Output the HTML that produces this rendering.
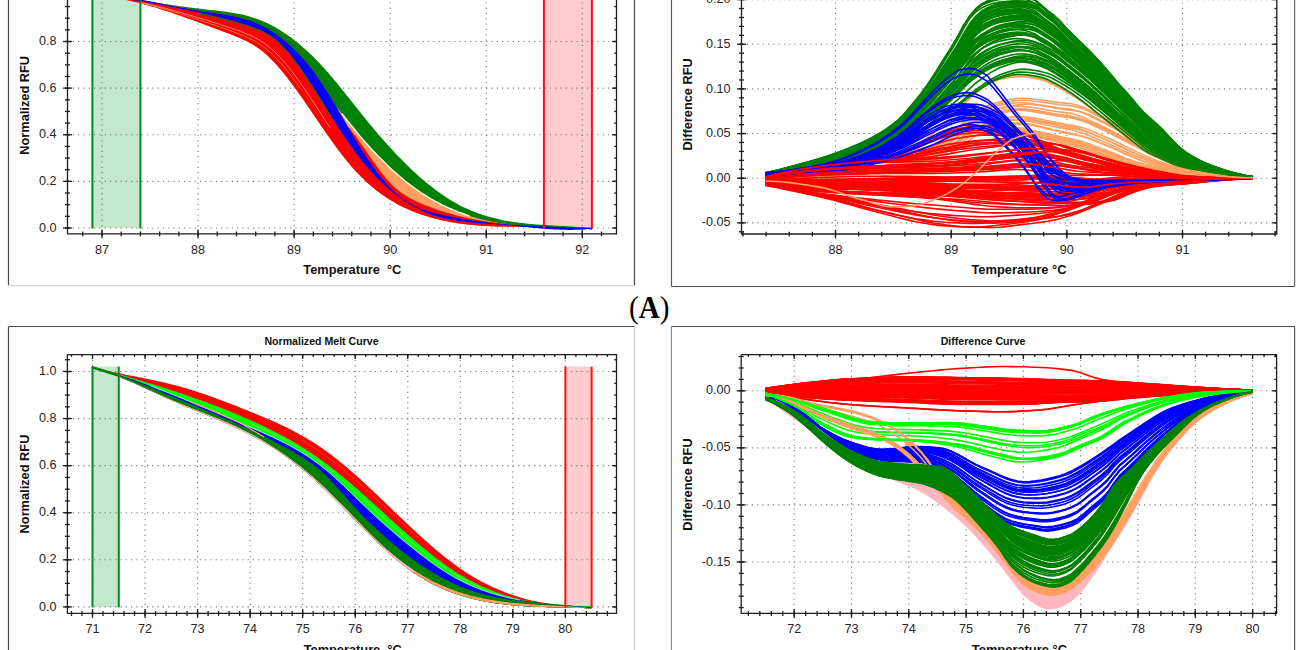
<!DOCTYPE html><html><head><meta charset="utf-8"><style>html,body{margin:0;padding:0;background:#fff;overflow:hidden}svg{display:block}text{font-family:"Liberation Sans",sans-serif}</style></head><body>
<svg width="1300" height="650" viewBox="0 0 1300 650">
<rect width="1300" height="650" fill="#fff"/>
<line x1="8.5" y1="-1" x2="8.5" y2="285.5" stroke="#4a4a4a" stroke-width="1.2" />
<line x1="634.5" y1="-1" x2="634.5" y2="285.5" stroke="#4a4a4a" stroke-width="1.2" />
<line x1="8.5" y1="285.7" x2="634.5" y2="285.7" stroke="#d6d6d6" stroke-width="1.3" />
<line x1="671.5" y1="-1" x2="671.5" y2="286.5" stroke="#5a5a5a" stroke-width="1.2" />
<line x1="1294.6" y1="-1" x2="1294.6" y2="286.5" stroke="#6a6a6a" stroke-width="1.2" />
<line x1="671.5" y1="286.5" x2="1294.6" y2="286.5" stroke="#4a4a4a" stroke-width="1.2" />
<line x1="8.5" y1="326.5" x2="634.5" y2="326.5" stroke="#4a4a4a" stroke-width="1.2" />
<line x1="8.5" y1="326.5" x2="8.5" y2="651" stroke="#4a4a4a" stroke-width="1.2" />
<line x1="634.3" y1="326.5" x2="634.3" y2="651" stroke="#d6d6d6" stroke-width="1.3" />
<line x1="671.4" y1="326.5" x2="1294.6" y2="326.5" stroke="#4a4a4a" stroke-width="1.2" />
<line x1="671.4" y1="326.5" x2="671.4" y2="651" stroke="#8a8a8a" stroke-width="1.2" />
<line x1="1294.6" y1="326.5" x2="1294.6" y2="651" stroke="#5a5a5a" stroke-width="1.2" />
<rect x="92.39" y="-10" width="48.03" height="238" fill="#c4e8ce"/>
<rect x="543.88" y="-10" width="48.03" height="238" fill="#ffcccd"/>
<rect x="92.5" y="366.6" width="26.27" height="240.3" fill="#c4e8ce"/>
<rect x="565.36" y="366.6" width="26.27" height="240.3" fill="#ffcccd"/>
<line x1="102" y1="-40" x2="102" y2="233.8" stroke="#7a7a7a" stroke-width="1.1" stroke-dasharray="1.2 4.1"/>
<line x1="198.06" y1="-40" x2="198.06" y2="233.8" stroke="#7a7a7a" stroke-width="1.1" stroke-dasharray="1.2 4.1"/>
<line x1="294.12" y1="-40" x2="294.12" y2="233.8" stroke="#7a7a7a" stroke-width="1.1" stroke-dasharray="1.2 4.1"/>
<line x1="390.18" y1="-40" x2="390.18" y2="233.8" stroke="#7a7a7a" stroke-width="1.1" stroke-dasharray="1.2 4.1"/>
<line x1="486.24" y1="-40" x2="486.24" y2="233.8" stroke="#7a7a7a" stroke-width="1.1" stroke-dasharray="1.2 4.1"/>
<line x1="582.3" y1="-40" x2="582.3" y2="233.8" stroke="#7a7a7a" stroke-width="1.1" stroke-dasharray="1.2 4.1"/>
<line x1="67.5" y1="228" x2="616.5" y2="228" stroke="#7a7a7a" stroke-width="1.1" stroke-dasharray="1.2 4.1"/>
<line x1="67.5" y1="181.38" x2="616.5" y2="181.38" stroke="#7a7a7a" stroke-width="1.1" stroke-dasharray="1.2 4.1"/>
<line x1="67.5" y1="134.76" x2="616.5" y2="134.76" stroke="#7a7a7a" stroke-width="1.1" stroke-dasharray="1.2 4.1"/>
<line x1="67.5" y1="88.14" x2="616.5" y2="88.14" stroke="#7a7a7a" stroke-width="1.1" stroke-dasharray="1.2 4.1"/>
<line x1="67.5" y1="41.52" x2="616.5" y2="41.52" stroke="#7a7a7a" stroke-width="1.1" stroke-dasharray="1.2 4.1"/>
<line x1="67.5" y1="-5.1" x2="616.5" y2="-5.1" stroke="#7a7a7a" stroke-width="1.1" stroke-dasharray="1.2 4.1"/>
<line x1="835.5" y1="-40" x2="835.5" y2="234" stroke="#7a7a7a" stroke-width="1.1" stroke-dasharray="1.2 4.1"/>
<line x1="951.17" y1="-40" x2="951.17" y2="234" stroke="#7a7a7a" stroke-width="1.1" stroke-dasharray="1.2 4.1"/>
<line x1="1066.84" y1="-40" x2="1066.84" y2="234" stroke="#7a7a7a" stroke-width="1.1" stroke-dasharray="1.2 4.1"/>
<line x1="1182.51" y1="-40" x2="1182.51" y2="234" stroke="#7a7a7a" stroke-width="1.1" stroke-dasharray="1.2 4.1"/>
<line x1="741.5" y1="222.85" x2="1276.8" y2="222.85" stroke="#7a7a7a" stroke-width="1.1" stroke-dasharray="1.2 4.1"/>
<line x1="741.5" y1="178.2" x2="1276.8" y2="178.2" stroke="#7a7a7a" stroke-width="1.1" stroke-dasharray="1.2 4.1"/>
<line x1="741.5" y1="133.55" x2="1276.8" y2="133.55" stroke="#7a7a7a" stroke-width="1.1" stroke-dasharray="1.2 4.1"/>
<line x1="741.5" y1="88.9" x2="1276.8" y2="88.9" stroke="#7a7a7a" stroke-width="1.1" stroke-dasharray="1.2 4.1"/>
<line x1="741.5" y1="44.25" x2="1276.8" y2="44.25" stroke="#7a7a7a" stroke-width="1.1" stroke-dasharray="1.2 4.1"/>
<line x1="741.5" y1="-0.4" x2="1276.8" y2="-0.4" stroke="#7a7a7a" stroke-width="1.1" stroke-dasharray="1.2 4.1"/>
<line x1="92.5" y1="354.6" x2="92.5" y2="613.4" stroke="#7a7a7a" stroke-width="1.1" stroke-dasharray="1.2 4.1"/>
<line x1="145.04" y1="354.6" x2="145.04" y2="613.4" stroke="#7a7a7a" stroke-width="1.1" stroke-dasharray="1.2 4.1"/>
<line x1="197.58" y1="354.6" x2="197.58" y2="613.4" stroke="#7a7a7a" stroke-width="1.1" stroke-dasharray="1.2 4.1"/>
<line x1="250.12" y1="354.6" x2="250.12" y2="613.4" stroke="#7a7a7a" stroke-width="1.1" stroke-dasharray="1.2 4.1"/>
<line x1="302.66" y1="354.6" x2="302.66" y2="613.4" stroke="#7a7a7a" stroke-width="1.1" stroke-dasharray="1.2 4.1"/>
<line x1="355.2" y1="354.6" x2="355.2" y2="613.4" stroke="#7a7a7a" stroke-width="1.1" stroke-dasharray="1.2 4.1"/>
<line x1="407.74" y1="354.6" x2="407.74" y2="613.4" stroke="#7a7a7a" stroke-width="1.1" stroke-dasharray="1.2 4.1"/>
<line x1="460.28" y1="354.6" x2="460.28" y2="613.4" stroke="#7a7a7a" stroke-width="1.1" stroke-dasharray="1.2 4.1"/>
<line x1="512.82" y1="354.6" x2="512.82" y2="613.4" stroke="#7a7a7a" stroke-width="1.1" stroke-dasharray="1.2 4.1"/>
<line x1="565.36" y1="354.6" x2="565.36" y2="613.4" stroke="#7a7a7a" stroke-width="1.1" stroke-dasharray="1.2 4.1"/>
<line x1="67.4" y1="606.9" x2="616.5" y2="606.9" stroke="#7a7a7a" stroke-width="1.1" stroke-dasharray="1.2 4.1"/>
<line x1="67.4" y1="559.82" x2="616.5" y2="559.82" stroke="#7a7a7a" stroke-width="1.1" stroke-dasharray="1.2 4.1"/>
<line x1="67.4" y1="512.74" x2="616.5" y2="512.74" stroke="#7a7a7a" stroke-width="1.1" stroke-dasharray="1.2 4.1"/>
<line x1="67.4" y1="465.66" x2="616.5" y2="465.66" stroke="#7a7a7a" stroke-width="1.1" stroke-dasharray="1.2 4.1"/>
<line x1="67.4" y1="418.58" x2="616.5" y2="418.58" stroke="#7a7a7a" stroke-width="1.1" stroke-dasharray="1.2 4.1"/>
<line x1="67.4" y1="371.5" x2="616.5" y2="371.5" stroke="#7a7a7a" stroke-width="1.1" stroke-dasharray="1.2 4.1"/>
<line x1="794.2" y1="354.6" x2="794.2" y2="613.4" stroke="#7a7a7a" stroke-width="1.1" stroke-dasharray="1.2 4.1"/>
<line x1="851.5" y1="354.6" x2="851.5" y2="613.4" stroke="#7a7a7a" stroke-width="1.1" stroke-dasharray="1.2 4.1"/>
<line x1="908.8" y1="354.6" x2="908.8" y2="613.4" stroke="#7a7a7a" stroke-width="1.1" stroke-dasharray="1.2 4.1"/>
<line x1="966.1" y1="354.6" x2="966.1" y2="613.4" stroke="#7a7a7a" stroke-width="1.1" stroke-dasharray="1.2 4.1"/>
<line x1="1023.4" y1="354.6" x2="1023.4" y2="613.4" stroke="#7a7a7a" stroke-width="1.1" stroke-dasharray="1.2 4.1"/>
<line x1="1080.7" y1="354.6" x2="1080.7" y2="613.4" stroke="#7a7a7a" stroke-width="1.1" stroke-dasharray="1.2 4.1"/>
<line x1="1138" y1="354.6" x2="1138" y2="613.4" stroke="#7a7a7a" stroke-width="1.1" stroke-dasharray="1.2 4.1"/>
<line x1="1195.3" y1="354.6" x2="1195.3" y2="613.4" stroke="#7a7a7a" stroke-width="1.1" stroke-dasharray="1.2 4.1"/>
<line x1="1252.6" y1="354.6" x2="1252.6" y2="613.4" stroke="#7a7a7a" stroke-width="1.1" stroke-dasharray="1.2 4.1"/>
<line x1="741.2" y1="561.95" x2="1276.6" y2="561.95" stroke="#7a7a7a" stroke-width="1.1" stroke-dasharray="1.2 4.1"/>
<line x1="741.2" y1="504.9" x2="1276.6" y2="504.9" stroke="#7a7a7a" stroke-width="1.1" stroke-dasharray="1.2 4.1"/>
<line x1="741.2" y1="447.85" x2="1276.6" y2="447.85" stroke="#7a7a7a" stroke-width="1.1" stroke-dasharray="1.2 4.1"/>
<line x1="741.2" y1="390.8" x2="1276.6" y2="390.8" stroke="#7a7a7a" stroke-width="1.1" stroke-dasharray="1.2 4.1"/>
<g clip-path="url(#clipTL)">
<path d="M92.0,-5.8 94.0,-5.6 96.0,-5.5 98.0,-5.3 100.0,-5.1 102.0,-4.9 104.0,-4.6 106.0,-4.4 108.0,-4.2 110.0,-4.0 112.0,-3.7 114.0,-3.5 116.0,-3.2 118.0,-3.0 120.0,-2.7 122.0,-2.4 124.0,-2.1 126.0,-1.9 128.0,-1.6 130.0,-1.3 132.0,-1.0 134.0,-0.7 136.0,-0.4 138.0,-0.1 140.0,0.2 142.0,0.5 144.0,0.8 146.0,1.1 148.0,1.4 150.0,1.7 152.0,2.0 154.0,2.3 156.0,2.6 158.0,2.9 160.0,3.2 162.0,3.6 164.0,3.9 166.0,4.2 168.0,4.5 170.0,4.8 172.0,5.1 174.0,5.4 176.0,5.6 178.0,5.9 180.0,6.2 182.0,6.5 184.0,6.8 186.0,7.1 188.0,7.3 190.0,7.6 192.0,7.8 194.0,8.1 196.0,8.3 198.0,8.6 200.0,8.8 202.0,9.0 204.0,9.3 206.0,9.5 208.0,9.7 210.0,9.9 212.0,10.1 214.0,10.3 216.0,10.6 218.0,10.8 220.0,11.0 222.0,11.3 224.0,11.5 226.0,11.8 228.0,12.1 230.0,12.4 232.0,12.7 234.0,13.1 236.0,13.4 238.0,13.8 240.0,14.2 242.0,14.6 244.0,15.1 246.0,15.6 248.0,16.1 250.0,16.7 252.0,17.3 254.0,17.9 256.0,18.6 258.0,19.3 260.0,20.1 262.0,20.9 264.0,21.7 266.0,22.6 268.0,23.5 270.0,24.5 272.0,25.5 274.0,26.6 276.0,27.7 278.0,28.9 280.0,30.1 282.0,31.4 284.0,32.7 286.0,34.0 288.0,35.4 290.0,36.8 292.0,38.3 294.0,39.9 296.0,41.4 298.0,43.0 300.0,44.7 302.0,46.4 304.0,48.2 306.0,50.0 308.0,51.8 310.0,53.7 312.0,55.6 314.0,57.6 316.0,59.6 318.0,61.7 320.0,63.8 322.0,65.9 324.0,68.1 326.0,70.4 328.0,72.6 330.0,74.9 332.0,77.3 334.0,79.7 336.0,82.1 338.0,84.5 340.0,87.0 342.0,89.5 344.0,92.0 346.0,94.5 348.0,97.0 350.0,99.5 352.0,102.0 354.0,104.5 356.0,107.1 358.0,109.6 360.0,112.1 362.0,114.6 364.0,117.1 366.0,119.6 368.0,122.0 370.0,124.4 372.0,126.8 374.0,129.2 376.0,131.6 378.0,133.9 380.0,136.2 382.0,138.5 384.0,140.8 386.0,143.0 388.0,145.3 390.0,147.5 392.0,149.6 394.0,151.8 396.0,153.9 398.0,156.0 400.0,158.1 402.0,160.1 404.0,162.1 406.0,164.1 408.0,166.1 410.0,168.0 412.0,169.9 414.0,171.8 416.0,173.6 418.0,175.4 420.0,177.2 422.0,178.9 424.0,180.6 426.0,182.3 428.0,183.9 430.0,185.6 432.0,187.1 434.0,188.7 436.0,190.2 438.0,191.7 440.0,193.1 442.0,194.5 444.0,195.8 446.0,197.2 448.0,198.5 450.0,199.7 452.0,200.9 454.0,202.1 456.0,203.2 458.0,204.3 460.0,205.4 462.0,206.4 464.0,207.4 466.0,208.3 468.0,209.2 470.0,210.1 472.0,210.9 474.0,211.7 476.0,212.5 478.0,213.3 480.0,214.0 482.0,214.7 484.0,215.3 486.0,215.9 488.0,216.5 490.0,217.1 492.0,217.6 494.0,218.1 496.0,218.6 498.0,219.1 500.0,219.5 502.0,220.0 504.0,220.4 506.0,220.7 508.0,221.1 510.0,221.4 512.0,221.7 514.0,222.1 516.0,222.3 518.0,222.6 520.0,222.9 522.0,223.1 524.0,223.3 526.0,223.5 528.0,223.7 530.0,223.9 532.0,224.1 534.0,224.3 536.0,224.4 538.0,224.6 540.0,224.7 542.0,224.8 544.0,225.0 546.0,225.1 548.0,225.2 550.0,225.3 552.0,225.4 554.0,225.6 556.0,225.7 558.0,225.8 560.0,225.9 562.0,226.0 564.0,226.1 566.0,226.2 568.0,226.3 570.0,226.5 572.0,226.6 574.0,226.7 576.0,226.8 578.0,227.0 580.0,227.1 582.0,227.3 584.0,227.5 586.0,227.7 588.0,227.9 590.0,228.1 592.0,228.3 592.0,229.5 590.0,229.3 588.0,229.1 586.0,228.9 584.0,228.7 582.0,228.5 580.0,228.3 578.0,228.2 576.0,228.0 574.0,227.9 572.0,227.8 570.0,227.7 568.0,227.6 566.0,227.5 564.0,227.4 562.0,227.3 560.0,227.2 558.0,227.2 556.0,227.1 554.0,227.1 552.0,227.0 550.0,227.0 548.0,227.0 546.0,226.9 544.0,226.9 542.0,226.9 540.0,226.9 538.0,226.9 536.0,226.9 534.0,226.9 532.0,226.8 530.0,226.8 528.0,226.8 526.0,226.8 524.0,226.8 522.0,226.8 520.0,226.8 518.0,226.8 516.0,226.8 514.0,226.8 512.0,226.7 510.0,226.7 508.0,226.7 506.0,226.7 504.0,226.6 502.0,226.6 500.0,226.5 498.0,226.5 496.0,226.4 494.0,226.3 492.0,226.3 490.0,226.2 488.0,226.1 486.0,226.0 484.0,225.9 482.0,225.7 480.0,225.6 478.0,225.4 476.0,225.3 474.0,225.1 472.0,224.9 470.0,224.7 468.0,224.5 466.0,224.3 464.0,224.0 462.0,223.8 460.0,223.5 458.0,223.2 456.0,222.9 454.0,222.6 452.0,222.2 450.0,221.9 448.0,221.5 446.0,221.1 444.0,220.7 442.0,220.2 440.0,219.8 438.0,219.3 436.0,218.8 434.0,218.3 432.0,217.7 430.0,217.2 428.0,216.6 426.0,216.0 424.0,215.3 422.0,214.7 420.0,214.0 418.0,213.3 416.0,212.5 414.0,211.8 412.0,211.0 410.0,210.1 408.0,209.2 406.0,208.3 404.0,207.4 402.0,206.4 400.0,205.4 398.0,204.4 396.0,203.3 394.0,202.1 392.0,201.0 390.0,199.7 388.0,198.5 386.0,197.2 384.0,195.8 382.0,194.4 380.0,193.0 378.0,191.5 376.0,189.9 374.0,188.3 372.0,186.7 370.0,185.0 368.0,183.2 366.0,181.4 364.0,179.5 362.0,177.5 360.0,175.5 358.0,173.5 356.0,171.4 354.0,169.2 352.0,166.9 350.0,164.6 348.0,162.2 346.0,159.8 344.0,157.3 342.0,154.7 340.0,152.1 338.0,149.4 336.0,146.7 334.0,144.0 332.0,141.2 330.0,138.4 328.0,135.6 326.0,132.7 324.0,129.8 322.0,126.9 320.0,124.0 318.0,121.1 316.0,118.1 314.0,115.2 312.0,112.3 310.0,109.3 308.0,106.4 306.0,103.5 304.0,100.6 302.0,97.8 300.0,94.9 298.0,92.1 296.0,89.3 294.0,86.6 292.0,83.9 290.0,81.2 288.0,78.6 286.0,76.1 284.0,73.6 282.0,71.1 280.0,68.7 278.0,66.4 276.0,64.2 274.0,62.0 272.0,59.9 270.0,57.9 268.0,56.0 266.0,54.2 264.0,52.5 262.0,50.8 260.0,49.3 258.0,47.9 256.0,46.5 254.0,45.2 252.0,44.0 250.0,42.9 248.0,41.8 246.0,40.8 244.0,39.9 242.0,38.9 240.0,38.1 238.0,37.2 236.0,36.4 234.0,35.6 232.0,34.8 230.0,34.0 228.0,33.3 226.0,32.5 224.0,31.7 222.0,31.0 220.0,30.2 218.0,29.4 216.0,28.7 214.0,27.9 212.0,27.2 210.0,26.5 208.0,25.7 206.0,25.0 204.0,24.2 202.0,23.5 200.0,22.8 198.0,22.0 196.0,21.3 194.0,20.6 192.0,19.8 190.0,19.1 188.0,18.4 186.0,17.7 184.0,17.0 182.0,16.3 180.0,15.6 178.0,14.9 176.0,14.2 174.0,13.5 172.0,12.8 170.0,12.1 168.0,11.5 166.0,10.8 164.0,10.2 162.0,9.5 160.0,8.9 158.0,8.3 156.0,7.6 154.0,7.0 152.0,6.4 150.0,5.9 148.0,5.3 146.0,4.7 144.0,4.2 142.0,3.7 140.0,3.1 138.0,2.6 136.0,2.1 134.0,1.7 132.0,1.2 130.0,0.7 128.0,0.3 126.0,-0.1 124.0,-0.5 122.0,-0.9 120.0,-1.3 118.0,-1.6 116.0,-2.0 114.0,-2.3 112.0,-2.6 110.0,-2.9 108.0,-3.1 106.0,-3.4 104.0,-3.6 102.0,-3.8 100.0,-3.9 98.0,-4.1 96.0,-4.2 94.0,-4.4 92.0,-4.4Z" fill="#008000" />
<path d="M92.0,-5.0 94.0,-5.0 96.0,-4.9 98.0,-4.9 100.0,-4.8 102.0,-4.7 104.0,-4.6 106.0,-4.5 108.0,-4.4 110.0,-4.2 112.0,-4.1 114.0,-3.9 116.0,-3.7 118.0,-3.5 120.0,-3.2 122.0,-3.0 124.0,-2.7 126.0,-2.5 128.0,-2.2 130.0,-1.9 132.0,-1.6 134.0,-1.3 136.0,-0.9 138.0,-0.6 140.0,-0.3 142.0,0.1 144.0,0.4 146.0,0.8 148.0,1.1 150.0,1.5 152.0,1.9 154.0,2.3 156.0,2.7 158.0,3.0 160.0,3.4 162.0,3.8 164.0,4.2 166.0,4.6 168.0,5.0 170.0,5.4 172.0,5.8 174.0,6.2 176.0,6.6 178.0,7.0 180.0,7.3 182.0,7.7 184.0,8.1 186.0,8.5 188.0,8.8 190.0,9.2 192.0,9.5 194.0,9.9 196.0,10.2 198.0,10.5 200.0,10.9 202.0,11.2 204.0,11.5 206.0,11.8 208.0,12.1 210.0,12.4 212.0,12.6 214.0,12.9 216.0,13.2 218.0,13.5 220.0,13.8 222.0,14.2 224.0,14.5 226.0,14.8 228.0,15.2 230.0,15.6 232.0,16.0 234.0,16.4 236.0,16.8 238.0,17.3 240.0,17.8 242.0,18.4 244.0,18.9 246.0,19.5 248.0,20.2 250.0,20.8 252.0,21.6 254.0,22.3 256.0,23.1 258.0,24.0 260.0,24.9 262.0,25.8 264.0,26.8 266.0,27.9 268.0,29.0 270.0,30.2 272.0,31.4 274.0,32.7 276.0,34.1 278.0,35.5 280.0,37.0 282.0,38.5 284.0,40.1 286.0,41.7 288.0,43.5 290.0,45.3 292.0,47.1 294.0,49.0 296.0,51.0 298.0,53.1 300.0,55.2 302.0,57.5 304.0,59.7 306.0,62.1 308.0,64.5 310.0,67.0 312.0,69.6 314.0,72.3 316.0,75.0 318.0,77.8 320.0,80.7 322.0,83.7 324.0,86.7 326.0,89.9 328.0,93.1 330.0,96.3 332.0,99.6 334.0,103.0 336.0,106.3 342.3,113.9 344.3,116.6 346.3,119.2 348.3,121.8 350.4,124.3 352.4,126.8 354.4,129.3 356.4,131.8 358.4,134.2 360.4,136.6 362.4,138.9 364.5,141.2 366.5,143.5 368.5,145.8 370.5,148.0 372.5,150.2 374.5,152.3 376.5,154.5 378.5,156.5 380.6,158.6 382.6,160.6 384.6,162.6 386.6,164.6 388.6,166.5 390.6,168.4 392.6,170.2 394.7,172.0 396.7,173.8 398.7,175.5 400.7,177.2 402.7,178.9 404.7,180.6 406.7,182.2 408.8,183.7 410.8,185.3 412.8,186.8 414.8,188.3 416.8,189.7 418.8,191.1 420.8,192.5 422.8,193.8 424.9,195.1 426.9,196.3 428.9,197.6 430.9,198.8 432.9,199.9 434.9,201.1 436.9,202.2 439.0,203.2 441.0,204.3 443.0,205.3 445.0,206.2 447.0,207.2 449.0,208.1 451.0,209.0 453.1,209.9 455.1,210.7 457.1,211.5 459.1,212.3 461.1,213.0 463.1,213.7 465.1,214.5 467.1,215.1 469.2,215.8 471.2,216.4 473.2,217.0 475.2,217.6 477.2,218.2 479.2,218.7 481.2,219.2 483.3,219.7 485.3,220.2 487.3,220.6 489.3,221.1 491.3,221.5 493.3,221.9 495.3,222.2 497.4,222.6 499.4,222.9 501.4,223.3 503.4,223.6 505.4,223.8 507.4,224.1 509.4,224.4 511.5,224.6 513.5,224.8 515.5,225.1 517.5,225.3 519.5,225.5 521.5,225.6 523.5,225.8 525.5,225.9 527.6,226.1 529.6,226.2 531.6,226.3 533.6,226.4 535.6,226.5 537.6,226.6 539.6,226.7 541.7,226.8 543.7,226.8 545.7,226.9 547.7,227.0 549.7,227.0 551.7,227.0 553.7,227.1 555.8,227.1 557.8,227.1 559.8,227.2 561.8,227.2 563.8,227.2 565.8,227.2 567.8,227.2 569.8,227.2 571.9,227.2 573.9,227.2 575.9,227.2 577.9,227.2 579.9,227.3 581.9,227.3 583.9,227.3 586.0,227.3 588.0,227.3 590.0,227.3 592.0,227.3 592.0,229.5 590.0,229.3 588.0,229.1 586.0,228.9 584.0,228.7 582.0,228.5 580.0,228.3 578.0,228.2 576.0,228.0 574.0,227.9 572.0,227.8 570.0,227.7 568.0,227.6 566.0,227.5 564.0,227.4 562.0,227.3 560.0,227.2 558.0,227.2 556.0,227.1 554.0,227.1 552.0,227.0 550.0,227.0 548.0,227.0 546.0,226.9 544.0,226.9 542.0,226.9 540.0,226.9 538.0,226.9 536.0,226.9 534.0,226.9 532.0,226.8 530.0,226.8 528.0,226.8 526.0,226.8 524.0,226.8 522.0,226.8 520.0,226.8 518.0,226.8 516.0,226.8 514.0,226.8 512.0,226.7 510.0,226.7 508.0,226.7 506.0,226.7 504.0,226.6 502.0,226.6 500.0,226.5 498.0,226.5 496.0,226.4 494.0,226.3 492.0,226.3 490.0,226.2 488.0,226.1 486.0,226.0 484.0,225.9 482.0,225.7 480.0,225.6 478.0,225.4 476.0,225.3 474.0,225.1 472.0,224.9 470.0,224.7 468.0,224.5 466.0,224.3 464.0,224.0 462.0,223.8 460.0,223.5 458.0,223.2 456.0,222.9 454.0,222.6 452.0,222.2 450.0,221.9 448.0,221.5 446.0,221.1 444.0,220.7 442.0,220.2 440.0,219.8 438.0,219.3 436.0,218.8 434.0,218.3 432.0,217.7 430.0,217.2 428.0,216.6 426.0,216.0 424.0,215.3 422.0,214.7 420.0,214.0 418.0,213.3 416.0,212.5 414.0,211.8 412.0,211.0 410.0,210.1 408.0,209.2 406.0,208.3 404.0,207.4 402.0,206.4 400.0,205.4 398.0,204.4 396.0,203.3 394.0,202.1 392.0,201.0 390.0,199.7 388.0,198.5 386.0,197.2 384.0,195.8 382.0,194.4 380.0,193.0 378.0,191.5 376.0,189.9 374.0,188.3 372.0,186.7 370.0,185.0 368.0,183.2 366.0,181.4 364.0,179.5 362.0,177.5 360.0,175.5 358.0,173.5 356.0,171.4 354.0,169.2 352.0,166.9 350.0,164.6 348.0,162.2 346.0,159.8 344.0,157.3 342.0,154.7 340.0,152.1 338.0,149.4 336.0,146.7 334.0,144.0 332.0,141.2 330.0,138.4 328.0,135.6 326.0,132.7 324.0,129.8 322.0,126.9 320.0,124.0 318.0,121.1 316.0,118.1 314.0,115.2 312.0,112.3 310.0,109.3 308.0,106.4 306.0,103.5 304.0,100.6 302.0,97.8 300.0,94.9 298.0,92.1 296.0,89.3 294.0,86.6 292.0,83.9 290.0,81.2 288.0,78.6 286.0,76.1 284.0,73.6 282.0,71.1 280.0,68.7 278.0,66.4 276.0,64.2 274.0,62.0 272.0,59.9 270.0,57.9 268.0,56.0 266.0,54.2 264.0,52.5 262.0,50.8 260.0,49.3 258.0,47.9 256.0,46.5 254.0,45.2 252.0,44.0 250.0,42.9 248.0,41.8 246.0,40.8 244.0,39.9 242.0,38.9 240.0,38.1 238.0,37.2 236.0,36.4 234.0,35.6 232.0,34.8 230.0,34.0 228.0,33.3 226.0,32.5 224.0,31.7 222.0,31.0 220.0,30.2 218.0,29.4 216.0,28.7 214.0,27.9 212.0,27.2 210.0,26.5 208.0,25.7 206.0,25.0 204.0,24.2 202.0,23.5 200.0,22.8 198.0,22.0 196.0,21.3 194.0,20.6 192.0,19.8 190.0,19.1 188.0,18.4 186.0,17.7 184.0,17.0 182.0,16.3 180.0,15.6 178.0,14.9 176.0,14.2 174.0,13.5 172.0,12.8 170.0,12.1 168.0,11.5 166.0,10.8 164.0,10.2 162.0,9.5 160.0,8.9 158.0,8.3 156.0,7.6 154.0,7.0 152.0,6.4 150.0,5.9 148.0,5.3 146.0,4.7 144.0,4.2 142.0,3.7 140.0,3.1 138.0,2.6 136.0,2.1 134.0,1.7 132.0,1.2 130.0,0.7 128.0,0.3 126.0,-0.1 124.0,-0.5 122.0,-0.9 120.0,-1.3 118.0,-1.6 116.0,-2.0 114.0,-2.3 112.0,-2.6 110.0,-2.9 108.0,-3.1 106.0,-3.4 104.0,-3.6 102.0,-3.8 100.0,-3.9 98.0,-4.1 96.0,-4.2 94.0,-4.4 92.0,-4.4Z" fill="#ffa060" />
<path d="M342.3,113.9 344.3,116.6 346.3,119.2 348.3,121.8 350.4,124.3 352.4,126.8 354.4,129.3 356.4,131.8 358.4,134.2 360.4,136.6 362.4,138.9 364.5,141.2 366.5,143.5 368.5,145.8 370.5,148.0 372.5,150.2 374.5,152.3 376.5,154.5 378.5,156.5 380.6,158.6 382.6,160.6 384.6,162.6 386.6,164.6 388.6,166.5 390.6,168.4 392.6,170.2 394.7,172.0 396.7,173.8 398.7,175.5 400.7,177.2 402.7,178.9 404.7,180.6 406.7,182.2 408.8,183.7 410.8,185.3 412.8,186.8 414.8,188.3 416.8,189.7 418.8,191.1 420.8,192.5 422.8,193.8 424.9,195.1 426.9,196.3 428.9,197.6 430.9,198.8 432.9,199.9 434.9,201.1 436.9,202.2 439.0,203.2 441.0,204.3 443.0,205.3 445.0,206.2 447.0,207.2 449.0,208.1 451.0,209.0 453.1,209.9 455.1,210.7 457.1,211.5 459.1,212.3 461.1,213.0 463.1,213.7 465.1,214.5 467.1,215.1 469.2,215.8" fill="none" stroke="#fff" stroke-width="1.4" stroke-linejoin="round" stroke-linecap="round" opacity="0.95"/>
<path d="M92.0,-5.0 94.0,-5.0 96.0,-4.9 98.0,-4.9 100.0,-4.8 102.0,-4.7 104.0,-4.6 106.0,-4.5 108.0,-4.4 110.0,-4.2 112.0,-4.1 114.0,-3.9 116.0,-3.7 118.0,-3.5 120.0,-3.2 122.0,-3.0 124.0,-2.7 126.0,-2.5 128.0,-2.2 130.0,-1.9 132.0,-1.6 134.0,-1.3 136.0,-0.9 138.0,-0.6 140.0,-0.3 142.0,0.1 144.0,0.4 146.0,0.8 148.0,1.1 150.0,1.5 152.0,1.9 154.0,2.3 156.0,2.7 158.0,3.0 160.0,3.4 162.0,3.8 164.0,4.2 166.0,4.6 168.0,5.0 170.0,5.4 172.0,5.8 174.0,6.2 176.0,6.6 178.0,7.0 180.0,7.3 182.0,7.7 184.0,8.1 186.0,8.5 188.0,8.8 190.0,9.2 192.0,9.5 194.0,9.9 196.0,10.2 198.0,10.5 200.0,10.9 202.0,11.2 204.0,11.5 206.0,11.8 208.0,12.1 210.0,12.4 212.0,12.6 214.0,12.9 216.0,13.2 218.0,13.5 220.0,13.8 222.0,14.2 224.0,14.5 226.0,14.8 228.0,15.2 230.0,15.6 232.0,16.0 234.0,16.4 236.0,16.8 238.0,17.3 240.0,17.8 242.0,18.4 244.0,18.9 246.0,19.5 248.0,20.2 250.0,20.8 252.0,21.6 254.0,22.3 256.0,23.1 258.0,24.0 260.0,24.9 262.0,25.8 264.0,26.8 266.0,27.9 268.0,29.0 270.0,30.2 272.0,31.4 274.0,32.7 276.0,34.1 278.0,35.5 280.0,37.0 282.0,38.5 284.0,40.1 286.0,41.7 288.0,43.5 290.0,45.3 292.0,47.1 294.0,49.0 296.0,51.0 298.0,53.1 300.0,55.2 302.0,57.5 304.0,59.7 306.0,62.1 308.0,64.5 310.0,67.0 312.0,69.6 314.0,72.3 316.0,75.0 318.0,77.8 320.0,80.7 322.0,83.7 324.0,86.7 326.0,89.9 328.0,93.1 330.0,96.3 332.0,99.6 334.0,103.0 336.0,106.3 338.0,109.8 340.0,113.2 342.0,116.6 344.0,120.1 346.0,123.5 348.0,127.0 350.0,128.8 352.0,131.4 354.0,134.0 356.0,136.6 358.0,139.4 360.0,142.2 362.0,145.1 364.0,147.9 366.0,150.9 368.0,153.8 370.0,156.7 372.0,159.6 374.0,162.4 376.0,165.3 378.0,168.0 380.0,170.7 382.0,173.3 384.0,175.8 386.0,178.3 388.0,180.5 390.0,182.7 392.0,184.7 394.0,186.7 396.0,188.4 398.0,190.1 400.0,191.7 402.0,193.2 404.0,194.6 406.0,195.9 408.0,197.1 410.0,198.2 412.0,199.3 414.0,200.3 416.0,201.3 418.0,202.2 420.0,203.1 422.0,203.9 424.0,204.7 426.0,205.5 428.0,206.3 430.0,207.0 432.0,207.8 434.0,208.5 436.0,209.2 438.0,209.9 440.0,210.5 442.0,211.2 444.0,211.8 446.0,212.4 448.0,213.0 450.0,213.6 452.0,214.1 454.0,214.7 456.0,215.2 458.0,215.7 460.0,216.2 462.0,216.7 464.0,217.2 466.0,217.6 468.0,218.0 470.0,218.5 472.0,218.9 474.0,219.3 476.0,219.7 478.0,220.0 480.0,220.4 482.0,220.7 484.0,221.1 486.0,221.4 488.0,221.7 490.0,222.0 492.0,222.3 494.0,222.6 496.0,222.8 498.0,223.1 500.0,223.3 502.0,223.6 504.0,223.8 506.0,224.0 508.0,224.2 510.0,224.4 512.0,224.6 514.0,224.8 516.0,225.0 518.0,225.1 520.0,225.3 522.0,225.4 524.0,225.6 526.0,225.7 528.0,225.8 530.0,226.0 532.0,226.1 534.0,226.2 536.0,226.3 538.0,226.4 540.0,226.5 542.0,226.6 544.0,226.6 546.0,226.7 548.0,226.8 550.0,226.9 552.0,226.9 554.0,227.0 556.0,227.1 558.0,227.1 560.0,227.2 562.0,227.2 564.0,227.3 566.0,227.3 568.0,227.4 570.0,227.4 572.0,227.4 574.0,227.5 576.0,227.5 578.0,227.6 580.0,227.6 582.0,227.6 584.0,227.7 586.0,227.7 588.0,227.8 590.0,227.8 592.0,227.9 592.0,229.5 590.0,229.3 588.0,229.1 586.0,228.9 584.0,228.7 582.0,228.5 580.0,228.3 578.0,228.2 576.0,228.0 574.0,227.9 572.0,227.8 570.0,227.7 568.0,227.6 566.0,227.5 564.0,227.4 562.0,227.3 560.0,227.2 558.0,227.2 556.0,227.1 554.0,227.1 552.0,227.0 550.0,227.0 548.0,227.0 546.0,226.9 544.0,226.9 542.0,226.9 540.0,226.9 538.0,226.9 536.0,226.9 534.0,226.9 532.0,226.8 530.0,226.8 528.0,226.8 526.0,226.8 524.0,226.8 522.0,226.8 520.0,226.8 518.0,226.8 516.0,226.8 514.0,226.8 512.0,226.7 510.0,226.7 508.0,226.7 506.0,226.7 504.0,226.6 502.0,226.6 500.0,226.5 498.0,226.5 496.0,226.4 494.0,226.3 492.0,226.3 490.0,226.2 488.0,226.1 486.0,226.0 484.0,225.9 482.0,225.7 480.0,225.6 478.0,225.4 476.0,225.3 474.0,225.1 472.0,224.9 470.0,224.7 468.0,224.5 466.0,224.3 464.0,224.0 462.0,223.8 460.0,223.5 458.0,223.2 456.0,222.9 454.0,222.6 452.0,222.2 450.0,221.9 448.0,221.5 446.0,221.1 444.0,220.7 442.0,220.2 440.0,219.8 438.0,219.3 436.0,218.8 434.0,218.3 432.0,217.7 430.0,217.2 428.0,216.6 426.0,216.0 424.0,215.3 422.0,214.7 420.0,214.0 418.0,213.3 416.0,212.5 414.0,211.8 412.0,211.0 410.0,210.1 408.0,209.2 406.0,208.3 404.0,207.4 402.0,206.4 400.0,205.4 398.0,204.4 396.0,203.3 394.0,202.1 392.0,201.0 390.0,199.7 388.0,198.5 386.0,197.2 384.0,195.8 382.0,194.4 380.0,193.0 378.0,191.5 376.0,189.9 374.0,188.3 372.0,186.7 370.0,185.0 368.0,183.2 366.0,181.4 364.0,179.5 362.0,177.5 360.0,175.5 358.0,173.5 356.0,171.4 354.0,169.2 352.0,166.9 350.0,164.6 348.0,162.2 346.0,159.8 344.0,157.3 342.0,154.7 340.0,152.1 338.0,149.4 336.0,146.7 334.0,144.0 332.0,141.2 330.0,138.4 328.0,135.6 326.0,132.7 324.0,129.8 322.0,126.9 320.0,124.0 318.0,121.1 316.0,118.1 314.0,115.2 312.0,112.3 310.0,109.3 308.0,106.4 306.0,103.5 304.0,100.6 302.0,97.8 300.0,94.9 298.0,92.1 296.0,89.3 294.0,86.6 292.0,83.9 290.0,81.2 288.0,78.6 286.0,76.1 284.0,73.6 282.0,71.1 280.0,68.7 278.0,66.4 276.0,64.2 274.0,62.0 272.0,59.9 270.0,57.9 268.0,56.0 266.0,54.2 264.0,52.5 262.0,50.8 260.0,49.3 258.0,47.9 256.0,46.5 254.0,45.2 252.0,44.0 250.0,42.9 248.0,41.8 246.0,40.8 244.0,39.9 242.0,38.9 240.0,38.1 238.0,37.2 236.0,36.4 234.0,35.6 232.0,34.8 230.0,34.0 228.0,33.3 226.0,32.5 224.0,31.7 222.0,31.0 220.0,30.2 218.0,29.4 216.0,28.7 214.0,27.9 212.0,27.2 210.0,26.5 208.0,25.7 206.0,25.0 204.0,24.2 202.0,23.5 200.0,22.8 198.0,22.0 196.0,21.3 194.0,20.6 192.0,19.8 190.0,19.1 188.0,18.4 186.0,17.7 184.0,17.0 182.0,16.3 180.0,15.6 178.0,14.9 176.0,14.2 174.0,13.5 172.0,12.8 170.0,12.1 168.0,11.5 166.0,10.8 164.0,10.2 162.0,9.5 160.0,8.9 158.0,8.3 156.0,7.6 154.0,7.0 152.0,6.4 150.0,5.9 148.0,5.3 146.0,4.7 144.0,4.2 142.0,3.7 140.0,3.1 138.0,2.6 136.0,2.1 134.0,1.7 132.0,1.2 130.0,0.7 128.0,0.3 126.0,-0.1 124.0,-0.5 122.0,-0.9 120.0,-1.3 118.0,-1.6 116.0,-2.0 114.0,-2.3 112.0,-2.6 110.0,-2.9 108.0,-3.1 106.0,-3.4 104.0,-3.6 102.0,-3.8 100.0,-3.9 98.0,-4.1 96.0,-4.2 94.0,-4.4 92.0,-4.4Z" fill="#ff0000" />
<path d="M92.0,-5.0 94.0,-5.0 96.0,-4.9 98.0,-4.9 100.0,-4.8 102.0,-4.7 104.0,-4.6 106.0,-4.5 108.0,-4.4 110.0,-4.2 112.0,-4.1 114.0,-3.9 116.0,-3.7 118.0,-3.5 120.0,-3.2 122.0,-3.0 124.0,-2.7 126.0,-2.5 128.0,-2.2 130.0,-1.9 132.0,-1.6 134.0,-1.3 136.0,-0.9 138.0,-0.6 140.0,-0.3 142.0,0.1 144.0,0.4 146.0,0.8 148.0,1.1 150.0,1.5 152.0,1.9 154.0,2.3 156.0,2.7 158.0,3.0 160.0,3.4 162.0,3.8 164.0,4.2 166.0,4.6 168.0,5.0 170.0,5.4 172.0,5.8 174.0,6.2 176.0,6.6 178.0,7.0 180.0,7.3 182.0,7.7 184.0,8.1 186.0,8.5 188.0,8.8 190.0,9.2 192.0,9.5 194.0,9.9 196.0,10.2 198.0,10.5 200.0,10.9 202.0,11.2 204.0,11.5 206.0,11.8 208.0,12.1 210.0,12.4 212.0,12.6 214.0,12.9 216.0,13.2 218.0,13.5 220.0,13.8 222.0,14.2 224.0,14.5 226.0,14.8 228.0,15.2 230.0,15.6 232.0,16.0 234.0,16.4 236.0,16.8 238.0,17.3 240.0,17.8 242.0,18.4 244.0,18.9 246.0,19.5 248.0,20.2 250.0,20.8 252.0,21.6 254.0,22.3 256.0,23.1 258.0,24.0 260.0,24.9 262.0,25.8 264.0,26.8 266.0,27.9 268.0,29.0 270.0,30.2 272.0,31.4 274.0,32.7 276.0,34.1 278.0,35.5 280.0,37.0 282.0,38.5 284.0,40.1 286.0,41.7 288.0,43.5 290.0,45.3 292.0,47.1 294.0,49.0 296.0,51.0 298.0,53.1 300.0,55.2 302.0,57.5 304.0,59.7 306.0,62.1 308.0,64.5 310.0,67.0 312.0,69.6 314.0,72.3 316.0,75.0 318.0,77.8 320.0,80.7 322.0,83.7 324.0,86.7 326.0,89.9 328.0,93.1 330.0,96.3 332.0,99.6 334.0,103.0 336.0,106.3 338.0,109.8 340.0,113.2 342.0,116.6 344.0,120.1 346.0,123.5 348.0,127.0 350.0,130.4 352.0,133.8 354.0,137.2 356.0,140.5 358.0,143.8 360.0,147.0 362.0,150.2 364.0,153.3 366.0,156.4 368.0,159.4 370.0,162.3 372.0,165.2 374.0,168.0 376.0,170.7 378.0,173.4 380.0,175.9 382.0,178.4 384.0,180.8 386.0,183.1 388.0,185.4 390.0,187.5 392.0,189.6 394.0,191.5 396.0,193.4 398.0,195.1 400.0,196.7 402.0,198.3 404.0,199.7 406.0,201.1 408.0,202.3 410.0,203.5 412.0,204.6 414.0,205.7 416.0,206.6 418.0,207.5 420.0,208.4 422.0,209.1 424.0,209.9 426.0,210.6 428.0,211.2 430.0,211.8 432.0,212.4 434.0,212.9 436.0,213.4 438.0,213.9 440.0,214.4 442.0,214.8 444.0,215.3 446.0,215.7 448.0,216.1 450.0,216.5 452.0,217.0 454.0,217.3 456.0,217.7 458.0,218.1 460.0,218.5 462.0,218.8 464.0,219.1 466.0,219.5 468.0,219.8 470.0,220.1 472.0,220.4 474.0,220.7 476.0,221.0 478.0,221.3 480.0,221.5 482.0,221.8 484.0,222.0 486.0,222.3 488.0,222.5 490.0,222.7 492.0,222.9 494.0,223.2 496.0,223.4 498.0,223.6 500.0,223.7 502.0,223.9 504.0,224.1 506.0,224.3 508.0,224.4 510.0,224.6 512.0,224.7 514.0,224.9 516.0,225.0 518.0,225.2 520.0,225.3 522.0,225.4 524.0,225.5 526.0,225.6 528.0,225.8 530.0,225.9 532.0,226.0 534.0,226.1 536.0,226.1 538.0,226.2 540.0,226.3 542.0,226.4 544.0,226.5 546.0,226.6 548.0,226.6 550.0,226.7 552.0,226.8 554.0,226.8 556.0,226.9 558.0,226.9 560.0,227.0 562.0,227.1 564.0,227.1 566.0,227.2 568.0,227.2 570.0,227.3 572.0,227.3 574.0,227.4 576.0,227.4 578.0,227.5 580.0,227.5 582.0,227.6 584.0,227.6 586.0,227.7 588.0,227.7 590.0,227.8 592.0,227.8 592.0,228.7 590.0,228.9 588.0,229.1 586.0,229.3 584.0,229.4 582.0,229.6 580.0,229.7 578.0,229.7 576.0,229.8 574.0,229.8 572.0,229.9 570.0,229.9 568.0,229.9 566.0,229.8 564.0,229.8 562.0,229.8 560.0,229.7 558.0,229.6 556.0,229.5 554.0,229.4 552.0,229.3 550.0,229.2 548.0,229.0 546.0,228.9 544.0,228.7 542.0,228.6 540.0,228.4 538.0,228.2 536.0,228.1 534.0,227.9 532.0,227.7 530.0,227.5 528.0,227.3 526.0,227.1 524.0,226.9 522.0,226.7 520.0,226.5 518.0,226.3 516.0,226.1 514.0,225.9 512.0,225.7 510.0,225.5 508.0,225.3 506.0,225.1 504.0,224.9 502.0,224.8 500.0,224.6 498.0,224.4 496.0,224.3 494.0,224.1 492.0,224.0 490.0,223.9 488.0,223.7 486.0,223.6 484.0,223.5 482.0,223.3 480.0,223.2 478.0,223.0 476.0,222.9 474.0,222.7 472.0,222.5 470.0,222.3 468.0,222.1 466.0,221.9 464.0,221.7 462.0,221.4 460.0,221.2 458.0,220.9 456.0,220.6 454.0,220.3 452.0,219.9 450.0,219.5 448.0,219.1 446.0,218.7 444.0,218.2 442.0,217.7 440.0,217.2 438.0,216.6 436.0,216.0 434.0,215.4 432.0,214.7 430.0,214.0 428.0,213.3 426.0,212.5 424.0,211.6 422.0,210.7 420.0,209.8 418.0,208.8 416.0,207.8 414.0,206.7 412.0,205.6 410.0,204.4 408.0,203.2 406.0,202.0 404.0,200.6 402.0,199.3 400.0,197.9 398.0,196.4 396.0,194.9 394.0,193.3 392.0,191.7 390.0,190.0 388.0,188.3 386.0,186.5 384.0,184.7 382.0,182.8 380.0,180.9 378.0,178.9 376.0,176.8 374.0,174.7 372.0,172.5 370.0,170.3 368.0,168.0 366.0,165.7 364.0,163.3 362.0,160.8 360.0,158.3 358.0,155.7 356.0,153.1 354.0,150.4 352.0,147.6 350.0,144.8 348.0,141.9 346.0,139.0 344.0,136.0 342.0,132.9 340.0,129.9 338.0,126.7 336.0,123.6 334.0,120.4 332.0,117.2 330.0,114.0 328.0,110.8 326.0,107.5 324.0,104.3 322.0,101.1 320.0,97.8 318.0,94.6 316.0,91.4 314.0,88.3 312.0,85.1 310.0,82.0 308.0,79.0 306.0,76.0 304.0,73.0 302.0,70.1 300.0,67.2 298.0,64.5 296.0,61.7 294.0,59.1 292.0,56.5 290.0,54.1 288.0,51.7 286.0,49.4 284.0,47.2 282.0,45.1 280.0,43.2 278.0,41.3 276.0,39.6 274.0,38.0 272.0,36.5 270.0,35.1 268.0,33.9 266.0,32.7 264.0,31.7 262.0,30.7 260.0,29.8 258.0,28.9 256.0,28.1 254.0,27.4 252.0,26.7 250.0,26.0 248.0,25.3 246.0,24.7 244.0,24.1 242.0,23.4 240.0,22.8 238.0,22.2 236.0,21.7 234.0,21.1 232.0,20.5 230.0,20.0 228.0,19.5 226.0,19.0 224.0,18.4 222.0,17.9 220.0,17.4 218.0,17.0 216.0,16.5 214.0,16.0 212.0,15.5 210.0,15.1 208.0,14.6 206.0,14.2 204.0,13.7 202.0,13.3 200.0,12.8 198.0,12.4 196.0,12.0 194.0,11.5 192.0,11.1 190.0,10.7 188.0,10.2 186.0,9.8 184.0,9.4 182.0,9.0 180.0,8.6 178.0,8.2 176.0,7.7 174.0,7.3 172.0,6.9 170.0,6.5 168.0,6.2 166.0,5.8 164.0,5.4 162.0,5.0 160.0,4.6 158.0,4.3 156.0,3.9 154.0,3.5 152.0,3.2 150.0,2.8 148.0,2.5 146.0,2.1 144.0,1.8 142.0,1.5 140.0,1.1 138.0,0.8 136.0,0.5 134.0,0.2 132.0,-0.1 130.0,-0.4 128.0,-0.7 126.0,-1.0 124.0,-1.3 122.0,-1.5 120.0,-1.8 118.0,-2.0 116.0,-2.3 114.0,-2.5 112.0,-2.8 110.0,-3.0 108.0,-3.2 106.0,-3.4 104.0,-3.6 102.0,-3.8 100.0,-4.0 98.0,-4.2 96.0,-4.4 94.0,-4.5 92.0,-4.7Z" fill="#0000ff" />
<path d="M200.0,13.7 202.0,14.2 204.0,14.6 206.0,15.1 208.0,15.5 210.0,16.0 212.0,16.4 214.0,16.9 216.0,17.4 218.0,17.9 220.0,18.3 222.0,18.8 224.0,19.3 226.0,19.9 228.0,20.4 230.0,20.9 232.0,21.4 234.0,22.0 236.0,22.6 238.0,23.1 240.0,23.7 242.0,24.3 244.0,25.0 246.0,25.6 248.0,26.2 250.0,26.9 252.0,27.6 254.0,28.3 256.0,29.0 258.0,29.8 260.0,30.7 262.0,31.6 264.0,32.6 266.0,33.6 268.0,34.8 270.0,36.0 272.0,37.4 274.0,38.9 276.0,40.5 278.0,42.2 280.0,44.1 282.0,46.0 284.0,48.1 286.0,50.3 288.0,52.6 290.0,55.0 292.0,57.4 294.0,60.0 296.0,62.6 298.0,65.4 300.0,68.1 302.0,71.0 304.0,73.9 306.0,76.9 308.0,79.9 310.0,82.9 312.0,86.0 314.0,89.2 316.0,92.3 318.0,95.5 320.0,98.7 322.0,102.0 324.0,105.2 326.0,108.4 328.0,111.7 330.0,114.9" fill="none" stroke="#008000" stroke-width="1.0" stroke-linejoin="round" stroke-linecap="round" />
<path d="M140.0,2.2 142.0,2.7 144.0,3.1 146.0,3.6 148.0,4.0 150.0,4.5 152.0,5.0 154.0,5.5 156.0,6.0 158.0,6.5 160.0,7.0 162.0,7.5 164.0,8.0 166.0,8.5 168.0,9.1 170.0,9.6 172.0,10.2 174.0,10.7 176.0,11.3 178.0,11.8 180.0,12.4 182.0,13.0 184.0,13.6 186.0,14.1 188.0,14.7 190.0,15.3 192.0,15.9 194.0,16.5 196.0,17.1 198.0,17.7 200.0,18.3 202.0,18.9 204.0,19.5 206.0,20.1 208.0,20.7 210.0,21.3 212.0,22.0 214.0,22.6 216.0,23.2 218.0,23.8 220.0,24.5 222.0,25.1 224.0,25.7 226.0,26.4 228.0,27.1 230.0,27.7 232.0,28.4 234.0,29.1 236.0,29.8 238.0,30.5 240.0,31.2 242.0,32.0 244.0,32.7 246.0,33.6 248.0,34.4 250.0,35.3 252.0,36.2 254.0,37.2 256.0,38.2 258.0,39.3 260.0,40.5 262.0,41.8 264.0,43.1 266.0,44.5 268.0,46.1 270.0,47.7 272.0,49.4 274.0,51.2 276.0,53.1 278.0,55.1 280.0,57.2 282.0,59.4 284.0,61.7 286.0,64.1 288.0,66.5 290.0,69.0 292.0,71.6 294.0,74.2 296.0,76.9 298.0,79.7 300.0,82.5 302.0,85.3 304.0,88.2 306.0,91.1 308.0,94.1 310.0,97.0 312.0,100.1 314.0,103.1 316.0,106.1 318.0,109.2 320.0,112.2 322.0,115.3 324.0,118.3 326.0,121.4 328.0,124.4 330.0,127.4" fill="none" stroke="#ffb080" stroke-width="0.9" stroke-linejoin="round" stroke-linecap="round" opacity="0.8"/>
<path d="M140.0,2.6 142.0,3.1 144.0,3.6 146.0,4.1 148.0,4.6 150.0,5.1 152.0,5.6 154.0,6.2 156.0,6.7 158.0,7.3 160.0,7.8 162.0,8.4 164.0,9.0 166.0,9.5 168.0,10.1 170.0,10.7 172.0,11.3 174.0,11.9 176.0,12.6 178.0,13.2 180.0,13.8 182.0,14.4 184.0,15.1 186.0,15.7 188.0,16.4 190.0,17.0 192.0,17.7 194.0,18.3 196.0,19.0 198.0,19.6 200.0,20.3 202.0,20.9 204.0,21.6 206.0,22.3 208.0,22.9 210.0,23.6 212.0,24.3 214.0,25.0 216.0,25.6 218.0,26.3 220.0,27.0 222.0,27.7 224.0,28.4 226.0,29.1 228.0,29.8 230.0,30.5 232.0,31.2 234.0,32.0 236.0,32.7 238.0,33.5 240.0,34.3 242.0,35.1 244.0,35.9 246.0,36.8 248.0,37.7 250.0,38.7 252.0,39.7 254.0,40.8 256.0,41.9 258.0,43.1 260.0,44.4 262.0,45.8 264.0,47.3 266.0,48.8 268.0,50.5 270.0,52.2 272.0,54.1 274.0,56.0 276.0,58.0 278.0,60.2 280.0,62.4 282.0,64.6 284.0,67.0 286.0,69.4 288.0,71.9 290.0,74.4 292.0,77.1 294.0,79.7 296.0,82.4 298.0,85.2 300.0,88.0" fill="none" stroke="#ffb080" stroke-width="0.8" stroke-linejoin="round" stroke-linecap="round" opacity="0.7"/>
</g>
<g clip-path="url(#clipTR)">
<g fill="none" stroke="#ffa060" stroke-width="1.6" stroke-linejoin="round" >
<path d="M765.5 178.1l6-.1 6-.1 6-.2 6-.3 6-.4 6-.3 6-.5 6-.4 6-.5 6-.6 6-.5 6-.5 6-.7 6-.7 6-.8 6-1 6-1 6-1.1 6-1.2 6-1.4 6-1.4 6-1.5 6-1.7 6-2.2 6-2.6 6-3 6-3.3 6-3.6 6-3.8 6-3.9 6-4 6-5.2 6-5.9 6-5.8 6-4.7 6-3.2 6-2.5 6-2.1 6-1.5 6-1.4 6-1.2 6-.8 6-.2 6 .4 6 .6 6 .8 6 .8 6 .9 6 .9 6 .5 6 .6 6 1.3 6 2 6 2.6 6 3.2 6 2.9 6 2.9 6 3.3 6 3.6 6 3.5 6 3.5 6 3.8 6 4.1 6 4.2 6 3.9 6 3.1 6 2.8 6 2.7 6 2.5 6 2.2 6 2 6 1.8 6 1.5 6 1.4 6 1.4 6 1.3 6 1.2 6 1.1 6 .9 6 .7 6 .5 1.5 .1"/>
<path d="M765.5 178.5l6-.1 6-.1 6-.2 6-.2 6-.3 6-.3 6-.3 6-.4 6-.4 6-.4 6-.4 6-.5 6-.5 6-.5 6-.6 6-.7 6-.7 6-.8 6-.9 6-1 6-1 6-1.2 6-1.2 6-1.6 6-2 6-2.3 6-2.7 6-2.9 6-3.1 6-3.2 6-3.4 6-3.8 6-5.1 6-5.4 6-4.7 6-2.9 6-1.6 6-1.3 6-1 6-.7 6-.7 6-.6 6-.1 6 .5 6 1 6 1.2 6 1.3 6 1.2 6 1.2 6 1.1 6 1 6 1.2 6 1.6 6 2 6 2.5 6 2.7 6 2.5 6 2.7 6 2.9 6 3.1 6 2.9 6 2.8 6 2.8 6 2.7 6 2.6 6 2.1 6 1.9 6 1.7 6 1.5 6 1.5 6 1.2 6 1.2 6 1 6 .9 6 .9 6 .9 6 .8 6 .6 6 .6 6 .4 6 .3 1.5 .1"/>
<path d="M765.5 178.3l6 0 6-.1 6-.2 6-.3 6-.3 6-.3 6-.4 6-.4 6-.5 6-.5 6-.4 6-.6 6-.5 6-.7 6-.7 6-.8 6-.9 6-1 6-1.1 6-1.2 6-1.3 6-1.3 6-1.6 6-2 6-2.4 6-2.7 6-3.1 6-3.3 6-3.4 6-3.6 6-3.8 6-4.9 6-5.7 6-5.3 6-4 6-2.3 6-1.9 6-1.4 6-1 6-1 6-.8 6-.5 6 .2 6 .7 6 1 6 1.1 6 1 6 1.2 6 1 6 .8 6 .9 6 1.4 6 1.9 6 2.5 6 2.8 6 2.7 6 2.7 6 3 6 3.2 6 3.1 6 3.1 6 3.2 6 3.2 6 3.2 6 3 6 2.4 6 2.2 6 2 6 1.8 6 1.7 6 1.5 6 1.4 6 1.1 6 1.2 6 1 6 1.1 6 .9 6 .8 6 .7 6 .5 6 .4 1.5 .1"/>
<path d="M765.5 178.9l6-.1 6-.2 6-.2 6-.2 6-.2 6-.3 6-.3 6-.3 6-.3 6-.4 6-.3 6-.4 6-.3 6-.4 6-.4 6-.5 6-.4 6-.5 6-.6 6-.6 6-.7 6-.8 6-.9 6-1.1 6-1.5 6-1.8 6-2.1 6-2.4 6-2.5 6-2.8 6-2.8 6-3.1 6-4.5 6-5 6-4.3 6-2.6 6-.5 6-.5 6-.3 6-.3 6-.2 6-.1 6 0 6 .7 6 1.2 6 1.5 6 1.7 6 1.5 6 1.4 6 1.3 6 1.4 6 1.3 6 1.5 6 1.7 6 2 6 2.3 6 2.2 6 2.3 6 2.4 6 2.5 6 2.4 6 2.2 6 1.8 6 1.4 6 1.3 6 1.1 6 1 6 .8 6 .7 6 .7 6 .6 6 .6 6 .5 6 .5 6 .5 6 .4 6 .4 6 .3 6 .2 6 .2 6 .1 1.5 0"/>
<path d="M765.5 178.3l6-.1 6-.1 6-.2 6-.3 6-.3 6-.3 6-.4 6-.4 6-.5 6-.4 6-.5 6-.5 6-.6 6-.6 6-.8 6-.8 6-.9 6-1.1 6-1.1 6-1.2 6-1.3 6-1.4 6-1.7 6-2.1 6-2.6 6-2.9 6-3.2 6-3.4 6-3.6 6-3.6 6-4.2 6-5.3 6-5.8 6-5.1 6-3.7 6-2.2 6-1.8 6-1.5 6-1.1 6-1 6-.8 6-.4 6 .3 6 .7 6 1 6 1 6 1.1 6 1.1 6 .9 6 .8 6 .9 6 1.6 6 2.1 6 2.6 6 2.9 6 2.7 6 2.8 6 3.1 6 3.3 6 3.1 6 3.2 6 3.3 6 3.4 6 3.3 6 3 6 2.4 6 2.2 6 2.1 6 1.9 6 1.7 6 1.6 6 1.3 6 1.2 6 1.2 6 1.1 6 1 6 .9 6 .8 6 .7 6 .5 6 .4 1.5 .1"/>
<path d="M765.5 178.4l6-.1 6-.2 6-.2 6-.3 6-.3 6-.3 6-.4 6-.4 6-.4 6-.4 6-.5 6-.4 6-.5 6-.6 6-.6 6-.7 6-.8 6-.9 6-1 6-1.1 6-1.1 6-1.3 6-1.4 6-1.8 6-2.3 6-2.6 6-2.9 6-3.2 6-3.4 6-3.6 6-3.6 6-4.7 6-5.5 6-5.6 6-4.5 6-2.7 6-2 6-1.6 6-1.2 6-1.1 6-1 6-.7 6-.1 6 .5 6 .8 6 1.1 6 1 6 1.1 6 1 6 .9 6 .8 6 1.2 6 1.8 6 2.3 6 2.8 6 2.8 6 2.7 6 3 6 3.2 6 3.3 6 3.1 6 3.2 6 3.4 6 3.2 6 3.1 6 2.5 6 2.3 6 2.1 6 1.9 6 1.7 6 1.6 6 1.3 6 1.2 6 1.2 6 1 6 1 6 .9 6 .8 6 .7 6 .5 6 .3 1.5 .1"/>
<path d="M765.5 178l6 0 6-.2 6-.2 6-.2 6-.3 6-.4 6-.4 6-.5 6-.5 6-.5 6-.5 6-.6 6-.6 6-.8 6-.8 6-1 6-1 6-1.2 6-1.3 6-1.4 6-1.5 6-1.6 6-1.8 6-2.3 6-2.7 6-3.1 6-3.4 6-3.7 6-3.9 6-4 6-4.2 6-5.3 6-6 6-5.8 6-4.8 6-3.3 6-2.6 6-2.1 6-1.6 6-1.5 6-1.2 6-.8 6-.2 6 .4 6 .6 6 .8 6 .8 6 .9 6 .9 6 .5 6 .7 6 1.4 6 2 6 2.7 6 3.3 6 2.9 6 3 6 3.5 6 3.6 6 3.6 6 3.6 6 3.9 6 4.3 6 4.3 6 4 6 3.2 6 2.9 6 2.8 6 2.5 6 2.3 6 2.1 6 1.7 6 1.6 6 1.5 6 1.4 6 1.3 6 1.2 6 1.1 6 .9 6 .8 6 .5 1.5 .1"/>
<path d="M765.5 178.2l6-.1 6-.1 6-.2 6-.2 6-.3 6-.4 6-.3 6-.4 6-.5 6-.4 6-.5 6-.5 6-.5 6-.6 6-.8 6-.7 6-.9 6-1 6-1.1 6-1.2 6-1.2 6-1.4 6-1.5 6-1.7 6-2.2 6-2.6 6-3 6-3.2 6-3.5 6-3.6 6-3.8 6-4.1 6-5.3 6-5.8 6-5.4 6-4.2 6-2.6 6-2.2 6-1.8 6-1.3 6-1.2 6-1 6-.6 6 0 6 .6 6 .8 6 1 6 .9 6 1.1 6 .9 6 .7 6 .8 6 1.6 6 2.1 6 2.8 6 3.1 6 2.8 6 3.1 6 3.4 6 3.5 6 3.4 6 3.5 6 3.7 6 3.9 6 3.8 6 3.3 6 2.7 6 2.5 6 2.3 6 2.2 6 1.9 6 1.7 6 1.4 6 1.4 6 1.2 6 1.3 6 1.1 6 .9 6 .9 6 .6 6 .5 1.5 .1"/>
<path d="M765.5 178.7l6-.1 6-.1 6-.2 6-.2 6-.2 6-.3 6-.3 6-.3 6-.4 6-.3 6-.4 6-.4 6-.5 6-.5 6-.5 6-.6 6-.7 6-.8 6-.8 6-.9 6-.9 6-1.1 6-1.2 6-1.6 6-2 6-2.3 6-2.5 6-2.9 6-3 6-3.1 6-3.1 6-4.2 6-5.2 6-5.1 6-3.9 6-1.8 6-1 6-.7 6-.6 6-.5 6-.4 6-.2 6 .3 6 .8 6 1.3 6 1.5 6 1.5 6 1.4 6 1.3 6 1.3 6 1.2 6 1.4 6 1.7 6 2.1 6 2.4 6 2.4 6 2.5 6 2.5 6 2.7 6 2.8 6 2.6 6 2.4 6 2.2 6 2.1 6 1.8 6 1.6 6 1.3 6 1.3 6 1.1 6 .9 6 .9 6 .9 6 .7 6 .7 6 .7 6 .6 6 .6 6 .4 6 .4 6 .4 6 .2 1.5 0"/>
<path d="M765.5 178.6l6-.1 6-.1 6-.2 6-.3 6-.2 6-.3 6-.4 6-.3 6-.4 6-.4 6-.3 6-.4 6-.5 6-.4 6-.5 6-.6 6-.6 6-.7 6-.8 6-.9 6-.9 6-1 6-1.1 6-1.5 6-1.8 6-2.2 6-2.5 6-2.8 6-3 6-3.1 6-3.3 6-3.6 6-5 6-5.3 6-4.8 6-3.1 6-1.4 6-1.2 6-.9 6-.8 6-.6 6-.6 6-.2 6 .5 6 .9 6 1.2 6 1.4 6 1.2 6 1.3 6 1.1 6 1.1 6 1.1 6 1.6 6 1.9 6 2.4 6 2.6 6 2.6 6 2.6 6 2.8 6 3 6 2.9 6 2.7 6 2.7 6 2.5 6 2.3 6 2 6 1.7 6 1.6 6 1.4 6 1.3 6 1.1 6 1.1 6 .9 6 .9 6 .8 6 .7 6 .7 6 .6 6 .5 6 .3 6 .3 1.5 0"/>
<path d="M765.5 178.3l6 0 6-.2 6-.2 6-.2 6-.3 6-.3 6-.4 6-.4 6-.4 6-.4 6-.4 6-.5 6-.5 6-.6 6-.6 6-.8 6-.8 6-.9 6-1 6-1.1 6-1.2 6-1.3 6-1.4 6-1.7 6-2.2 6-2.5 6-2.9 6-3.1 6-3.4 6-3.5 6-3.6 6-4.2 6-5.4 6-5.6 6-5 6-3.4 6-2.1 6-1.7 6-1.4 6-1.1 6-1 6-.7 6-.3 6 .3 6 .8 6 1 6 1.1 6 1.1 6 1.1 6 .9 6 .8 6 1.1 6 1.7 6 2.2 6 2.7 6 2.9 6 2.7 6 3 6 3.2 6 3.3 6 3.2 6 3.2 6 3.4 6 3.3 6 3.2 6 2.7 6 2.3 6 2.2 6 2 6 1.8 6 1.6 6 1.4 6 1.2 6 1.2 6 1.1 6 1 6 1 6 .8 6 .7 6 .5 6 .4 1.5 .1"/>
<path d="M765.5 179l6-.1 6-.2 6-.2 6-.2 6-.2 6-.2 6-.3 6-.3 6-.4 6-.3 6-.3 6-.4 6-.4 6-.4 6-.5 6-.5 6-.5 6-.7 6-.6 6-.8 6-.9 6-.9 6-1.2 6-1.7 6-2 6-2.3 6-2.5 6-2.7 6-2.8 6-2.9 6-3.6 6-4.9 6-4.9 6-3.8 6-1.5 6-.4 6-.2 6-.3 6-.1 6-.1 6 0 6 .4 6 1.1 6 1.4 6 1.7 6 1.8 6 1.6 6 1.4 6 1.4 6 1.5 6 1.4 6 1.6 6 1.8 6 2 6 2.2 6 2.2 6 2.2 6 2.3 6 2.4 6 2.3 6 2.1 6 1.6 6 1.2 6 1.1 6 .9 6 .8 6 .7 6 .6 6 .5 6 .5 6 .4 6 .5 6 .4 6 .4 6 .3 6 .4 6 .3 6 .2 6 .2 6 .1 6 .1 1.5 0"/>
<path d="M765.5 178.5l6-.1 6-.1 6-.2 6-.3 6-.3 6-.4 6-.3 6-.4 6-.4 6-.5 6-.4 6-.4 6-.6 6-.5 6-.7 6-.7 6-.7 6-.9 6-.9 6-1 6-1.2 6-1.2 6-1.5 6-2 6-2.4 6-2.7 6-3 6-3.1 6-3.4 6-3.4 6-4.2 6-5.3 6-5.4 6-4.5 6-2.5 6-1.5 6-1.2 6-1 6-.8 6-.7 6-.5 6 0 6 .6 6 .9 6 1.2 6 1.3 6 1.2 6 1.1 6 1 6 1 6 1.1 6 1.7 6 2 6 2.4 6 2.6 6 2.5 6 2.6 6 2.9 6 2.9 6 2.8 6 2.8 6 2.7 6 2.7 6 2.5 6 2.2 6 1.8 6 1.7 6 1.6 6 1.4 6 1.3 6 1.1 6 1.1 6 .9 6 .9 6 .8 6 .8 6 .7 6 .6 6 .5 6 .4 6 .3 1.5 0"/>
<path d="M765.5 178.8l6-.1 6-.2 6-.2 6-.2 6-.3 6-.3 6-.4 6-.3 6-.4 6-.4 6-.4 6-.4 6-.4 6-.5 6-.5 6-.6 6-.6 6-.6 6-.7 6-.8 6-.8 6-1 6-1.1 6-1.6 6-1.9 6-2.2 6-2.5 6-2.7 6-2.8 6-3 6-3.2 6-4.6 6-5.1 6-4.5 6-2.7 6-.9 6-.6 6-.5 6-.4 6-.3 6-.3 6 0 6 .6 6 1.2 6 1.4 6 1.5 6 1.4 6 1.3 6 1.3 6 1.2 6 1.2 6 1.4 6 1.7 6 2 6 2.2 6 2.3 6 2.3 6 2.3 6 2.6 6 2.5 6 2.4 6 2.1 6 1.7 6 1.6 6 1.4 6 1.3 6 1.1 6 .9 6 .9 6 .8 6 .8 6 .7 6 .6 6 .6 6 .6 6 .5 6 .5 6 .4 6 .3 6 .2 6 .2 1.5 0"/>
<path d="M765.5 178.9l6-.1 6-.2 6-.2 6-.2 6-.3 6-.3 6-.3 6-.4 6-.3 6-.4 6-.4 6-.4 6-.4 6-.4 6-.5 6-.5 6-.6 6-.7 6-.7 6-.7 6-.9 6-1 6-1.2 6-1.6 6-2 6-2.3 6-2.6 6-2.7 6-2.9 6-2.9 6-3.6 6-4.9 6-5 6-4.1 6-1.9 6-.6 6-.5 6-.4 6-.3 6-.2 6-.2 6 .2 6 .9 6 1.3 6 1.5 6 1.6 6 1.5 6 1.3 6 1.3 6 1.3 6 1.3 6 1.5 6 1.8 6 2.1 6 2.2 6 2.2 6 2.3 6 2.4 6 2.5 6 2.4 6 2.2 6 1.9 6 1.6 6 1.3 6 1.3 6 1.1 6 .9 6 .8 6 .8 6 .6 6 .7 6 .6 6 .5 6 .6 6 .5 6 .4 6 .4 6 .3 6 .3 6 .2 6 .1 1.5 0"/>
<path d="M765.5 178.9l6-.1 6-.2 6-.1 6-.3 6-.2 6-.3 6-.3 6-.3 6-.4 6-.3 6-.4 6-.4 6-.4 6-.4 6-.4 6-.5 6-.6 6-.6 6-.7 6-.8 6-.8 6-.9 6-1.3 6-1.7 6-2 6-2.3 6-2.6 6-2.7 6-2.8 6-3 6-3.8 6-5 6-4.9 6-3.6 6-1.3 6-.5 6-.4 6-.2 6-.3 6-.1 6-.1 6 .4 6 1 6 1.4 6 1.7 6 1.6 6 1.5 6 1.3 6 1.4 6 1.3 6 1.4 6 1.6 6 1.8 6 2.1 6 2.2 6 2.2 6 2.2 6 2.3 6 2.5 6 2.3 6 2.1 6 1.7 6 1.3 6 1.2 6 1 6 .9 6 .8 6 .7 6 .6 6 .6 6 .5 6 .6 6 .4 6 .5 6 .4 6 .4 6 .3 6 .3 6 .2 6 .1 6 .1 1.5 0"/>
<path d="M765.5 178.2l6 0 6-.2 6-.2 6-.3 6-.3 6-.3 6-.4 6-.5 6-.4 6-.5 6-.5 6-.5 6-.6 6-.7 6-.8 6-.8 6-1 6-1 6-1.2 6-1.3 6-1.3 6-1.5 6-1.8 6-2.2 6-2.7 6-3 6-3.3 6-3.5 6-3.7 6-3.8 6-4.4 6-5.5 6-5.8 6-5.2 6-3.5 6-2.4 6-1.9 6-1.5 6-1.2 6-1.1 6-.9 6-.4 6 .3 6 .7 6 .9 6 1 6 1 6 1 6 .9 6 .7 6 1 6 1.6 6 2.1 6 2.8 6 2.9 6 2.8 6 2.9 6 3.2 6 3.3 6 3.3 6 3.2 6 3.5 6 3.6 6 3.5 6 3.1 6 2.6 6 2.4 6 2.2 6 2 6 1.8 6 1.6 6 1.5 6 1.2 6 1.2 6 1.2 6 1.1 6 .9 6 .9 6 .7 6 .6 6 .4 1.5 .1"/>
<path d="M765.5 178.9l6-.1 6-.2 6-.1 6-.3 6-.2 6-.3 6-.3 6-.3 6-.3 6-.4 6-.3 6-.4 6-.4 6-.4 6-.5 6-.6 6-.6 6-.6 6-.7 6-.8 6-.9 6-1 6-1.2 6-1.6 6-1.9 6-2.3 6-2.5 6-2.7 6-2.9 6-3 6-3.2 6-4.6 6-5.2 6-4.5 6-2.8 6-.8 6-.6 6-.4 6-.3 6-.3 6-.2 6 .1 6 .7 6 1.2 6 1.5 6 1.6 6 1.6 6 1.4 6 1.4 6 1.3 6 1.4 6 1.5 6 1.7 6 2.1 6 2.3 6 2.3 6 2.3 6 2.4 6 2.5 6 2.5 6 2.4 6 2 6 1.6 6 1.5 6 1.3 6 1.1 6 1 6 .9 6 .7 6 .7 6 .7 6 .5 6 .6 6 .5 6 .5 6 .5 6 .3 6 .4 6 .3 6 .2 6 .1 1.5 0"/>
<path d="M765.5 178.8l6-.1 6-.2 6-.2 6-.2 6-.2 6-.3 6-.3 6-.3 6-.4 6-.4 6-.3 6-.4 6-.4 6-.5 6-.4 6-.6 6-.6 6-.6 6-.7 6-.8 6-.8 6-1 6-1 6-1.3 6-1.7 6-2 6-2.3 6-2.6 6-2.8 6-2.9 6-3.1 6-3.3 6-4.7 6-5.1 6-4.7 6-3.1 6-1.1 6-.9 6-.7 6-.5 6-.4 6-.4 6-.1 6 .5 6 1.1 6 1.4 6 1.5 6 1.4 6 1.3 6 1.3 6 1.2 6 1.3 6 1.5 6 1.8 6 2.2 6 2.5 6 2.4 6 2.4 6 2.7 6 2.7 6 2.7 6 2.6 6 2.3 6 2 6 1.8 6 1.7 6 1.3 6 1.3 6 1.1 6 1 6 .9 6 .9 6 .7 6 .7 6 .7 6 .6 6 .5 6 .5 6 .4 6 .3 6 .2 1.5 0"/>
<path d="M765.5 178.6l6-.1 6-.1 6-.3 6-.2 6-.3 6-.3 6-.4 6-.4 6-.4 6-.4 6-.4 6-.5 6-.5 6-.5 6-.6 6-.7 6-.8 6-.8 6-.9 6-1 6-1.1 6-1.2 6-1.5 6-1.9 6-2.3 6-2.6 6-2.9 6-3.1 6-3.2 6-3.3 6-4.1 6-5.2 6-5.3 6-4.4 6-2.4 6-1.3 6-1 6-.9 6-.6 6-.6 6-.5 6 .1 6 .7 6 1 6 1.3 6 1.3 6 1.3 6 1.2 6 1.1 6 1 6 1.2 6 1.7 6 1.9 6 2.4 6 2.5 6 2.4 6 2.5 6 2.8 6 2.8 6 2.8 6 2.6 6 2.5 6 2.4 6 2.3 6 2 6 1.6 6 1.6 6 1.4 6 1.2 6 1.2 6 1 6 1 6 .8 6 .8 6 .8 6 .7 6 .7 6 .5 6 .5 6 .3 6 .3 1.5 0"/>
<path d="M765.5 178.1l6 0 6-.1 6-.2 6-.3 6-.3 6-.4 6-.4 6-.4 6-.5 6-.5 6-.6 6-.5 6-.6 6-.8 6-.8 6-1 6-1 6-1.2 6-1.2 6-1.4 6-1.4 6-1.6 6-1.8 6-2.3 6-2.7 6-3.1 6-3.3 6-3.6 6-3.8 6-3.9 6-4.2 6-5.5 6-5.9 6-5.4 6-4.1 6-2.7 6-2.2 6-1.7 6-1.3 6-1.2 6-1 6-.5 6 .1 6 .6 6 .9 6 .9 6 .9 6 1 6 .9 6 .6 6 .9 6 1.5 6 2.1 6 2.8 6 3 6 2.9 6 2.9 6 3.3 6 3.5 6 3.3 6 3.4 6 3.6 6 3.9 6 3.9 6 3.4 6 2.9 6 2.5 6 2.4 6 2.3 6 2 6 1.8 6 1.6 6 1.4 6 1.3 6 1.3 6 1.2 6 1.1 6 .9 6 .9 6 .6 6 .5 1.5 .1"/>
<path d="M765.5 178.9l6-.1 6-.2 6-.2 6-.2 6-.3 6-.2 6-.3 6-.4 6-.3 6-.4 6-.4 6-.3 6-.4 6-.5 6-.5 6-.5 6-.6 6-.6 6-.7 6-.8 6-.8 6-1 6-1.3 6-1.7 6-2 6-2.4 6-2.5 6-2.8 6-2.9 6-2.9 6-3.9 6-5 6-4.9 6-3.6 6-1.4 6-.5 6-.4 6-.3 6-.2 6-.2 6-.1 6 .4 6 1 6 1.4 6 1.6 6 1.6 6 1.5 6 1.4 6 1.3 6 1.3 6 1.4 6 1.6 6 1.8 6 2.1 6 2.2 6 2.2 6 2.2 6 2.4 6 2.5 6 2.3 6 2.1 6 1.8 6 1.3 6 1.3 6 1.1 6 .9 6 .9 6 .7 6 .7 6 .6 6 .5 6 .6 6 .5 6 .4 6 .5 6 .4 6 .3 6 .3 6 .2 6 .2 6 .1 1.5 0"/>
</g>
<g fill="none" stroke="#ffa060" stroke-width="1.6" stroke-linejoin="round" >
<path d="M765.5 177.5l6-.1 6-.1 6-.3 6-.4 6-.4 6-.5 6-.6 6-.6 6-.7 6-.7 6-.7 6-.7 6-.9 6-1 6-1.2 6-1.4 6-1.5 6-1.6 6-1.8 6-2 6-2.1 6-2.2 6-2.5 6-3.2 6-3.8 6-4.4 6-4.7 6-5.1 6-5.2 6-5.2 6-5.2 6-6 6-6.4 6-6.4 6-5.6 6-4.4 6-4.2 6-3.4 6-2.2 6-1.1 6-.9 6-.5 6 0 6 .6 6 1.3 6 1.5 6 1.9 6 2.9 6 3.4 6 3.5 6 3.8 6 4 6 4.2 6 4.4 6 4.8 6 4.9 6 4.8 6 4.9 6 4.9 6 4.9 6 4.6 6 4.2 6 4.1 6 3.8 6 3.4 6 2.7 6 2.4 6 2 6 1.9 6 1.6 6 1.3 6 1.3 6 1.3 6 1.2 6 1.1 6 1 6 1 6 .8 6 .8 6 .5 6 .4 1.5 .1"/>
<path d="M765.5 177.5l6 0 6-.2 6-.3 6-.3 6-.4 6-.6 6-.5 6-.6 6-.7 6-.7 6-.7 6-.7 6-.9 6-1 6-1.2 6-1.3 6-1.5 6-1.6 6-1.8 6-1.9 6-2.1 6-2.2 6-2.4 6-3.2 6-3.8 6-4.2 6-4.7 6-5 6-5.1 6-5.2 6-5.2 6-5.9 6-6.4 6-6.3 6-5.6 6-4.4 6-4.1 6-3.4 6-2.1 6-1.1 6-.9 6-.6 6 0 6 .6 6 1.2 6 1.5 6 1.8 6 2.9 6 3.3 6 3.3 6 3.6 6 3.9 6 4.1 6 4.3 6 4.7 6 4.8 6 4.8 6 4.7 6 4.9 6 4.8 6 4.6 6 4.1 6 4.2 6 3.8 6 3.4 6 2.8 6 2.4 6 2.1 6 1.8 6 1.7 6 1.4 6 1.3 6 1.3 6 1.2 6 1.1 6 1.1 6 1 6 .8 6 .7 6 .6 6 .4 1.5 .1"/>
</g>
<g fill="none" stroke="#008000" stroke-width="1.7" stroke-linejoin="round" >
<path d="M765.5 176.2l6-.6 6-.7 6-.7 6-.8 6-.8 6-.8 6-.9 6-1 6-1 6-1.1 6-1.1 6-1.2 6-1.2 6-1.3 6-1.4 6-1.6 6-1.6 6-1.9 6-2.2 6-2.4 6-2.7 6-2.8 6-3.2 6-3.5 6-3.7 6-4 6-4 6-4.2 6-4.4 6-4.5 6-4.5 6-4.7 6-4.7 6-4.6 6-4.1 6-4.2 6-3.9 6-3.3 6-2.3 6-2 6-1.6 6-.7 6 .2 6 .6 6 1.1 6 1.2 6 2 6 3.1 6 3.3 6 3.6 6 3.9 6 4.2 6 4.4 6 4.8 6 4.9 6 4.8 6 4.8 6 4.8 6 4.8 6 4.8 6 4.7 6 4.9 6 4.6 6 3.4 6 2.8 6 2.8 6 2.9 6 2.6 6 1.9 6 1.5 6 1.2 6 1.1 6 1 6 .9 6 1 6 .8 6 .9 6 .8 6 .7 6 .7 6 .7 1.5 .1"/>
<path d="M765.5 176.1l6-.6 6-.7 6-.8 6-.7 6-.8 6-.9 6-.9 6-1 6-1 6-1.1 6-1.1 6-1.2 6-1.2 6-1.3 6-1.4 6-1.5 6-1.6 6-1.8 6-2.1 6-2.3 6-2.6 6-2.8 6-3 6-3.4 6-3.7 6-3.9 6-4.1 6-4.2 6-4.4 6-4.6 6-4.6 6-4.7 6-4.9 6-4.8 6-4.4 6-4.2 6-4.1 6-3.6 6-2.7 6-2.1 6-1.9 6-1.2 6-.2 6 .5 6 .9 6 1.2 6 1.6 6 2.7 6 3.3 6 3.5 6 3.9 6 4.1 6 4.4 6 4.7 6 5 6 4.9 6 4.9 6 4.9 6 5 6 4.9 6 4.8 6 5 6 4.9 6 3.9 6 3.1 6 2.9 6 3 6 2.9 6 2.3 6 1.6 6 1.5 6 1.2 6 1.1 6 1 6 1 6 .9 6 .9 6 .9 6 .8 6 .7 6 .6 1.5 .2"/>
<path d="M765.5 176l6-.7 6-.7 6-.8 6-.8 6-.9 6-.8 6-1 6-1 6-1 6-1.2 6-1.1 6-1.3 6-1.2 6-1.3 6-1.4 6-1.6 6-1.6 6-1.8 6-2.1 6-2.3 6-2.6 6-2.8 6-3 6-3.4 6-3.7 6-4 6-4.2 6-4.3 6-4.5 6-4.7 6-4.8 6-4.8 6-5 6-5.1 6-4.6 6-4.3 6-4.1 6-3.6 6-2.9 6-2.1 6-1.9 6-1.3 6-.5 6 .4 6 .9 6 1.2 6 1.6 6 2.5 6 3.4 6 3.5 6 3.9 6 4.1 6 4.3 6 4.7 6 5 6 5 6 5 6 5 6 5 6 5 6 4.9 6 5.1 6 5.1 6 4.1 6 3.3 6 3 6 3.2 6 3.1 6 2.6 6 1.8 6 1.6 6 1.3 6 1.2 6 1.1 6 1.1 6 1 6 1 6 .9 6 .9 6 .7 6 .7 1.5 .1"/>
<path d="M765.5 174.5l6-1.1 6-1.1 6-1.2 6-1.2 6-1.3 6-1.3 6-1.3 6-1.4 6-1.4 6-1.6 6-1.6 6-1.7 6-1.8 6-1.9 6-2 6-2.2 6-2.4 6-2.6 6-2.8 6-3.2 6-3.5 6-3.9 6-4.7 6-5.4 6-5.7 6-6 6-6.3 6-6.9 6-7.2 6-7.4 6-7.2 6-7.7 6-8.3 6-7.1 6-5.5 6-4.3 6-3.3 6-2.5 6-1.6 6-1.3 6-1 6-.4 6 .4 6 1.4 6 2.1 6 3.7 6 3.5 6 3.9 6 4.9 6 5.1 6 5 6 5 6 5.1 6 5.4 6 5.7 6 5.8 6 5.9 6 6.1 6 5.8 6 5.6 6 6.1 6 6.1 6 5.3 6 4.4 6 4.1 6 4.5 6 4.9 6 4.6 6 3.9 6 3 6 2.6 6 2.3 6 2 6 1.8 6 1.6 6 1.5 6 1.4 6 1.3 6 1.1 6 1 6 .8 1.5 .1"/>
<path d="M765.5 175.1l6-.9 6-1 6-1 6-1 6-1.1 6-1.1 6-1.1 6-1.2 6-1.3 6-1.3 6-1.4 6-1.4 6-1.5 6-1.6 6-1.7 6-1.8 6-2 6-2.2 6-2.4 6-2.6 6-3 6-3.2 6-3.7 6-4.2 6-4.8 6-5 6-5.3 6-5.5 6-5.9 6-6.3 6-6.3 6-6.2 6-6.7 6-7 6-5.9 6-4.9 6-4.1 6-3.4 6-2.6 6-1.8 6-1.5 6-1.2 6-.4 6 .5 6 1.2 6 2 6 2.9 6 3 6 3.9 6 4.4 6 4.6 6 4.7 6 4.8 6 5 6 5.4 6 5.5 6 5.6 6 5.7 6 5.7 6 5.5 6 5.6 6 5.8 6 5.7 6 4.7 6 3.9 6 3.8 6 4.3 6 4.2 6 3.7 6 2.7 6 2.3 6 2.1 6 1.8 6 1.5 6 1.5 6 1.3 6 1.3 6 1.2 6 1 6 .9 6 .8 1.5 .1"/>
<path d="M765.5 173.7l6-1.3 6-1.2 6-1.4 6-1.3 6-1.4 6-1.5 6-1.4 6-1.5 6-1.6 6-1.6 6-1.7 6-1.8 6-2 6-2 6-2.2 6-2.3 6-2.5 6-2.7 6-3 6-3.3 6-3.6 6-4 6-4.7 6-5.7 6-6.3 6-6.6 6-7 6-7.5 6-8.2 6-8.6 6-8.6 6-8.5 6-9.3 6-9.9 6-7.8 6-5.9 6-4 6-3 6-2.1 6-1.1 6-1 6-.6 6-.2 6 .8 6 1.8 6 3.1 6 4.9 6 4.2 6 4.6 6 5.9 6 5.9 6 5.5 6 5.6 6 5.6 6 6 6 6.2 6 6.5 6 6.9 6 6.7 6 6.3 6 6.3 6 7.1 6 6.6 6 5.3 6 4.8 6 5.1 6 5.8 6 5.8 6 5.4 6 4.1 6 3.5 6 3 6 2.7 6 2.3 6 2 6 1.8 6 1.8 6 1.5 6 1.4 6 1.2 6 .8 1.5 .1"/>
<path d="M765.5 175.4l6-.8 6-.8 6-.9 6-.9 6-1 6-1 6-1.1 6-1.1 6-1.2 6-1.2 6-1.3 6-1.3 6-1.4 6-1.5 6-1.6 6-1.7 6-1.8 6-2 6-2.2 6-2.5 6-2.8 6-3 6-3.4 6-3.8 6-4.4 6-4.5 6-4.8 6-5 6-5.3 6-5.6 6-5.7 6-5.6 6-6 6-6.2 6-5.5 6-4.6 6-4.1 6-3.6 6-2.8 6-1.9 6-1.7 6-1.3 6-.5 6 .4 6 1 6 1.6 6 2.3 6 2.8 6 3.6 6 4 6 4.3 6 4.4 6 4.6 6 4.9 6 5.2 6 5.3 6 5.4 6 5.4 6 5.4 6 5.3 6 5.4 6 5.5 6 5.5 6 4.5 6 3.6 6 3.6 6 3.8 6 3.8 6 3.2 6 2.4 6 2 6 1.8 6 1.6 6 1.3 6 1.3 6 1.3 6 1.1 6 1.1 6 .9 6 .9 6 .7 1.5 .1"/>
<path d="M765.5 173.9l6-1.2 6-1.2 6-1.3 6-1.4 6-1.4 6-1.4 6-1.4 6-1.6 6-1.5 6-1.7 6-1.7 6-1.9 6-1.9 6-2.1 6-2.2 6-2.4 6-2.6 6-2.8 6-3 6-3.5 6-3.8 6-4.2 6-5.1 6-6 6-6.3 6-6.6 6-7.1 6-7.7 6-8.2 6-8.2 6-8.2 6-8.5 6-9.6 6-8 6-6.1 6-4.5 6-3.1 6-2.4 6-1.5 6-1 6-.9 6-.3 6 .5 6 1.5 6 2.3 6 4.6 6 3.9 6 4.2 6 5.3 6 5.7 6 5.4 6 5.3 6 5.4 6 5.6 6 5.9 6 6.2 6 6.3 6 6.5 6 6.2 6 5.9 6 6.5 6 6.6 6 5.6 6 4.7 6 4.6 6 5 6 5.5 6 5.3 6 4.5 6 3.5 6 3 6 2.7 6 2.4 6 2 6 1.8 6 1.7 6 1.6 6 1.5 6 1.2 6 1.1 6 .8 1.5 .1"/>
<path d="M765.5 174.4l6-1.1 6-1.2 6-1.2 6-1.3 6-1.3 6-1.4 6-1.3 6-1.5 6-1.5 6-1.6 6-1.7 6-1.8 6-1.8 6-2 6-2.1 6-2.3 6-2.4 6-2.7 6-2.9 6-3.3 6-3.7 6-4.1 6-4.9 6-5.6 6-5.8 6-6.2 6-6.6 6-7.1 6-7.5 6-7.5 6-7.5 6-8 6-8.5 6-6.9 6-5.4 6-4 6-3.1 6-2.4 6-1.4 6-1.2 6-.8 6-.3 6 .7 6 1.5 6 2.5 6 3.9 6 3.5 6 4.2 6 5 6 5.2 6 5 6 5.1 6 5.1 6 5.5 6 5.7 6 5.8 6 6.1 6 6 6 5.8 6 5.7 6 6.1 6 6.2 6 5.2 6 4.3 6 4.2 6 4.6 6 5 6 4.7 6 3.9 6 3 6 2.7 6 2.3 6 2.1 6 1.8 6 1.7 6 1.5 6 1.5 6 1.3 6 1.2 6 1 6 .7 1.5 .2"/>
<path d="M765.5 175.5l6-.8 6-.8 6-1 6-.9 6-1 6-1.1 6-1.1 6-1.1 6-1.2 6-1.3 6-1.3 6-1.4 6-1.4 6-1.6 6-1.6 6-1.7 6-1.9 6-2.1 6-2.3 6-2.7 6-2.9 6-3.1 6-3.6 6-4.1 6-4.4 6-4.6 6-4.9 6-5 6-5.5 6-5.5 6-5.5 6-5.7 6-6.1 6-5.6 6-4.8 6-4.3 6-3.7 6-3.1 6-2.2 6-1.8 6-1.5 6-.8 6 .1 6 .8 6 1.3 6 2.1 6 2.3 6 3.3 6 3.8 6 4.1 6 4.2 6 4.4 6 4.6 6 5 6 5.1 6 5.2 6 5.2 6 5.3 6 5.2 6 5.1 6 5.3 6 5.4 6 4.9 6 4 6 3.3 6 3.5 6 3.7 6 3.5 6 2.8 6 2.1 6 1.9 6 1.6 6 1.4 6 1.3 6 1.3 6 1.1 6 1.1 6 1 6 1 6 .8 6 .6 1.5 .2"/>
<path d="M765.5 174l6-1.2 6-1.2 6-1.3 6-1.3 6-1.3 6-1.4 6-1.4 6-1.5 6-1.5 6-1.6 6-1.7 6-1.7 6-1.9 6-2 6-2.1 6-2.3 6-2.5 6-2.6 6-3 6-3.3 6-3.6 6-4.1 6-4.8 6-5.7 6-6.1 6-6.4 6-6.9 6-7.4 6-8 6-8.1 6-8.1 6-8.2 6-9.3 6-8.5 6-6.6 6-5 6-3.5 6-2.7 6-1.7 6-1.2 6-1 6-.6 6 .2 6 1.2 6 1.9 6 4 6 4.1 6 4 6 5 6 5.7 6 5.4 6 5.3 6 5.4 6 5.5 6 5.9 6 6.2 6 6.3 6 6.6 6 6.3 6 5.9 6 6.4 6 6.7 6 5.9 6 4.9 6 4.5 6 4.9 6 5.5 6 5.3 6 4.7 6 3.5 6 3.1 6 2.7 6 2.4 6 2 6 1.8 6 1.7 6 1.6 6 1.4 6 1.3 6 1 6 .8 1.5 .1"/>
<path d="M765.5 175.7l6-.8 6-.7 6-.9 6-.9 6-.9 6-.9 6-1 6-1 6-1.1 6-1.2 6-1.2 6-1.3 6-1.3 6-1.4 6-1.4 6-1.6 6-1.7 6-1.9 6-2.1 6-2.3 6-2.6 6-2.9 6-3.1 6-3.6 6-4 6-4.2 6-4.5 6-4.6 6-4.9 6-5.2 6-5.3 6-5.3 6-5.4 6-5.8 6-5.3 6-4.6 6-4.2 6-3.7 6-3.1 6-2.2 6-1.8 6-1.5 6-.7 6 .2 6 .8 6 1.3 6 2 6 2.3 6 3.4 6 3.8 6 4.1 6 4.2 6 4.5 6 4.8 6 5.1 6 5.2 6 5.2 6 5.3 6 5.3 6 5.2 6 5.2 6 5.4 6 5.4 6 4.6 6 3.6 6 3.3 6 3.6 6 3.5 6 3.1 6 2.2 6 1.9 6 1.6 6 1.4 6 1.3 6 1.2 6 1.2 6 1 6 1.1 6 .9 6 .8 6 .7 1.5 .1"/>
<path d="M765.5 174.2l6-1.2 6-1.2 6-1.2 6-1.3 6-1.4 6-1.4 6-1.4 6-1.4 6-1.6 6-1.6 6-1.7 6-1.7 6-1.9 6-2 6-2.1 6-2.3 6-2.4 6-2.7 6-2.9 6-3.3 6-3.6 6-4.1 6-4.8 6-5.7 6-5.9 6-6.3 6-6.8 6-7.2 6-7.7 6-7.8 6-7.7 6-8.1 6-9 6-7.7 6-5.9 6-4.4 6-3.3 6-2.5 6-1.5 6-1.2 6-1 6-.4 6 .4 6 1.3 6 2.2 6 4.1 6 3.7 6 4 6 5.1 6 5.4 6 5.1 6 5.1 6 5.3 6 5.5 6 5.7 6 6 6 6.2 6 6.3 6 6 6 5.8 6 6.2 6 6.5 6 5.5 6 4.6 6 4.4 6 4.8 6 5.2 6 5 6 4.3 6 3.3 6 2.9 6 2.5 6 2.2 6 2 6 1.7 6 1.6 6 1.6 6 1.4 6 1.2 6 1 6 .8 1.5 .1"/>
<path d="M765.5 175.5l6-.8 6-.9 6-.9 6-.9 6-1 6-1 6-1.1 6-1.1 6-1.2 6-1.2 6-1.3 6-1.3 6-1.4 6-1.5 6-1.6 6-1.7 6-1.9 6-2 6-2.3 6-2.6 6-2.8 6-3.1 6-3.4 6-4.1 6-4.3 6-4.7 6-4.9 6-5 6-5.4 6-5.7 6-5.6 6-5.7 6-6.2 6-6 6-5.3 6-4.5 6-4 6-3.4 6-2.6 6-1.9 6-1.6 6-1.2 6-.2 6 .5 6 1.1 6 1.9 6 2.3 6 3 6 3.7 6 4.1 6 4.4 6 4.4 6 4.7 6 4.9 6 5.2 6 5.3 6 5.3 6 5.5 6 5.4 6 5.2 6 5.3 6 5.6 6 5.3 6 4.3 6 3.6 6 3.5 6 3.8 6 3.7 6 3.1 6 2.3 6 1.9 6 1.8 6 1.5 6 1.3 6 1.3 6 1.2 6 1.1 6 1 6 1 6 .8 6 .7 1.5 .1"/>
<path d="M765.5 175.3l6-.8 6-.9 6-.9 6-1 6-1.1 6-1 6-1.2 6-1.1 6-1.3 6-1.3 6-1.3 6-1.4 6-1.5 6-1.6 6-1.6 6-1.8 6-2 6-2.1 6-2.4 6-2.6 6-2.9 6-3.2 6-3.6 6-4.2 6-4.6 6-4.7 6-5.1 6-5.2 6-5.6 6-5.8 6-5.8 6-5.9 6-6.4 6-6.1 6-5.2 6-4.5 6-3.8 6-3.2 6-2.4 6-1.7 6-1.5 6-1 6-.1 6 .7 6 1.2 6 2.2 6 2.5 6 3.1 6 3.9 6 4.2 6 4.4 6 4.4 6 4.7 6 5 6 5.3 6 5.2 6 5.4 6 5.4 6 5.4 6 5.3 6 5.3 6 5.6 6 5.3 6 4.2 6 3.5 6 3.7 6 3.9 6 3.8 6 3.1 6 2.4 6 2 6 1.8 6 1.6 6 1.4 6 1.3 6 1.3 6 1.1 6 1.1 6 1 6 .9 6 .7 1.5 .1"/>
<path d="M765.5 174.2l6-1.2 6-1.2 6-1.2 6-1.4 6-1.3 6-1.4 6-1.4 6-1.5 6-1.5 6-1.7 6-1.7 6-1.8 6-1.9 6-2 6-2.1 6-2.3 6-2.5 6-2.6 6-3 6-3.3 6-3.7 6-4.1 6-5 6-5.7 6-6 6-6.4 6-6.7 6-7.3 6-7.7 6-7.8 6-7.7 6-8.3 6-8.8 6-7.3 6-5.6 6-4.2 6-3.1 6-2.4 6-1.4 6-1.2 6-.9 6-.3 6 .6 6 1.5 6 2.5 6 4.1 6 3.6 6 4.1 6 5.2 6 5.3 6 5 6 5.2 6 5.2 6 5.5 6 5.7 6 6 6 6.2 6 6.2 6 5.8 6 5.8 6 6.3 6 6.4 6 5.3 6 4.5 6 4.3 6 4.8 6 5.2 6 4.9 6 4.2 6 3.2 6 2.8 6 2.5 6 2.2 6 1.9 6 1.7 6 1.6 6 1.5 6 1.4 6 1.2 6 1 6 .8 1.5 .1"/>
<path d="M765.5 173.3l6-1.3 6-1.4 6-1.4 6-1.5 6-1.5 6-1.5 6-1.6 6-1.6 6-1.6 6-1.7 6-1.9 6-2 6-2 6-2.2 6-2.3 6-2.5 6-2.7 6-2.8 6-3.1 6-3.5 6-3.8 6-4.2 6-4.9 6-6.1 6-6.7 6-6.9 6-7.5 6-8 6-8.8 6-9.2 6-9 6-9.1 6-10 6-10.5 6-8.2 6-6 6-3.9 6-2.7 6-1.9 6-1 6-.8 6-.5 6-.1 6 1 6 1.9 6 3.5 6 5.4 6 4.4 6 4.9 6 6.2 6 6.2 6 5.7 6 5.7 6 5.7 6 6.1 6 6.4 6 6.7 6 7 6 7 6 6.4 6 6.5 6 7.4 6 6.7 6 5.4 6 5.1 6 5.4 6 6.2 6 6.2 6 5.8 6 4.5 6 3.7 6 3.3 6 2.9 6 2.5 6 2.1 6 2 6 1.9 6 1.7 6 1.5 6 1.2 6 .9 1.5 .1"/>
<path d="M765.5 175.2l6-.9 6-.9 6-1 6-1 6-1.1 6-1.1 6-1.2 6-1.2 6-1.3 6-1.4 6-1.4 6-1.5 6-1.6 6-1.7 6-1.8 6-1.9 6-2.1 6-2.3 6-2.6 6-2.9 6-3.1 6-3.5 6-4 6-4.6 6-4.9 6-5.1 6-5.4 6-5.7 6-6 6-6.2 6-6.1 6-6.4 6-6.8 6-6 6-5 6-4.2 6-3.5 6-2.8 6-1.9 6-1.6 6-1.2 6-.6 6 .4 6 1 6 1.7 6 2.7 6 2.8 6 3.6 6 4.2 6 4.5 6 4.5 6 4.6 6 4.9 6 5.1 6 5.3 6 5.4 6 5.4 6 5.6 6 5.3 6 5.3 6 5.5 6 5.6 6 5 6 4 6 3.5 6 3.8 6 4.1 6 3.8 6 3 6 2.4 6 2.1 6 1.8 6 1.6 6 1.4 6 1.3 6 1.3 6 1.2 6 1.1 6 1 6 .9 6 .7 1.5 .2"/>
<path d="M765.5 174.8l6-1 6-1 6-1 6-1.1 6-1.2 6-1.1 6-1.2 6-1.3 6-1.3 6-1.4 6-1.5 6-1.6 6-1.6 6-1.7 6-1.8 6-1.9 6-2.1 6-2.3 6-2.5 6-2.8 6-3.1 6-3.4 6-3.8 6-4.6 6-5 6-5.3 6-5.6 6-5.9 6-6.3 6-6.7 6-6.7 6-6.6 6-7.2 6-7.5 6-6.3 6-5 6-4 6-3.3 6-2.5 6-1.6 6-1.4 6-1.1 6-.3 6 .6 6 1.3 6 2.1 6 3.3 6 3.3 6 4 6 4.7 6 4.8 6 4.8 6 5 6 5.1 6 5.4 6 5.7 6 5.7 6 5.9 6 5.9 6 5.6 6 5.6 6 6.1 6 5.8 6 4.8 6 4.1 6 4.1 6 4.5 6 4.5 6 4 6 3.1 6 2.5 6 2.2 6 2 6 1.7 6 1.6 6 1.4 6 1.4 6 1.3 6 1.1 6 1 6 .8 1.5 .1"/>
<path d="M765.5 173.7l6-1.2 6-1.3 6-1.4 6-1.4 6-1.4 6-1.4 6-1.5 6-1.6 6-1.6 6-1.6 6-1.8 6-1.9 6-2 6-2.1 6-2.2 6-2.4 6-2.6 6-2.8 6-3.1 6-3.4 6-3.8 6-4.3 6-5.1 6-6 6-6.5 6-6.7 6-7.3 6-7.8 6-8.4 6-8.6 6-8.5 6-8.7 6-9.9 6-8.8 6-6.7 6-5 6-3.3 6-2.5 6-1.6 6-1 6-.8 6-.5 6 .3 6 1.4 6 2 6 4.6 6 4.3 6 4.2 6 5.2 6 6 6 5.5 6 5.5 6 5.5 6 5.6 6 6 6 6.3 6 6.5 6 6.7 6 6.4 6 6.1 6 6.5 6 7 6 5.9 6 4.9 6 4.7 6 5.2 6 5.8 6 5.6 6 4.9 6 3.8 6 3.3 6 2.9 6 2.5 6 2.2 6 1.9 6 1.8 6 1.6 6 1.6 6 1.3 6 1.1 6 .8 1.5 .1"/>
<path d="M765.5 173.1l6-1.4 6-1.5 6-1.6 6-1.6 6-1.6 6-1.7 6-1.6 6-1.8 6-1.8 6-1.8 6-2.1 6-2.1 6-2.2 6-2.4 6-2.5 6-2.7 6-2.9 6-3.1 6-3.5 6-3.7 6-4.3 6-4.7 6-6 6-6.9 6-7.2 6-7.7 6-8.2 6-8.9 6-9.7 6-9.6 6-9.4 6-10.1 6-11.3 6-9.1 6-6.7 6-4.4 6-2.7 6-2 6-1.1 6-.7 6-.5 6-.2 6 .7 6 1.9 6 3 6 5.8 6 4.5 6 4.7 6 6.1 6 6.4 6 5.8 6 5.7 6 5.7 6 5.9 6 6.3 6 6.6 6 6.9 6 7.1 6 6.6 6 6.3 6 7.1 6 7.3 6 5.9 6 5.1 6 5.2 6 5.9 6 6.4 6 6.2 6 5.5 6 4.2 6 3.7 6 3.3 6 2.8 6 2.5 6 2.1 6 2 6 1.9 6 1.7 6 1.5 6 1.1 6 .9 1.5 .1"/>
<path d="M765.5 173.8l6-1.1 6-1.3 6-1.2 6-1.3 6-1.4 6-1.4 6-1.4 6-1.5 6-1.6 6-1.6 6-1.7 6-1.8 6-1.9 6-2 6-2.2 6-2.3 6-2.4 6-2.7 6-2.9 6-3.2 6-3.5 6-3.9 6-4.4 6-5.4 6-6.1 6-6.3 6-6.8 6-7.2 6-7.7 6-8.3 6-8.2 6-8.2 6-8.7 6-9.6 6-7.8 6-5.9 6-4.2 6-2.9 6-2.3 6-1.2 6-1 6-.7 6-.2 6 .7 6 1.6 6 2.7 6 4.8 6 4 6 4.4 6 5.6 6 5.8 6 5.5 6 5.4 6 5.5 6 5.8 6 6.1 6 6.4 6 6.6 6 6.6 6 6.1 6 6.2 6 6.9 6 6.5 6 5.3 6 4.7 6 4.9 6 5.6 6 5.7 6 5.2 6 4 6 3.4 6 2.9 6 2.6 6 2.3 6 1.9 6 1.9 6 1.7 6 1.6 6 1.3 6 1.2 6 .9 1.5 .1"/>
<path d="M765.5 174.3l6-1.1 6-1.1 6-1.2 6-1.2 6-1.3 6-1.3 6-1.3 6-1.4 6-1.4 6-1.5 6-1.6 6-1.7 6-1.7 6-1.9 6-1.9 6-2.2 6-2.2 6-2.5 6-2.7 6-3 6-3.4 6-3.7 6-4.1 6-5.1 6-5.6 6-5.9 6-6.3 6-6.6 6-7.2 6-7.5 6-7.6 6-7.5 6-8.2 6-8.6 6-7 6-5.5 6-4.1 6-3.1 6-2.4 6-1.4 6-1.2 6-.9 6-.3 6 .7 6 1.5 6 2.6 6 4 6 3.7 6 4.3 6 5.2 6 5.4 6 5.1 6 5.3 6 5.3 6 5.7 6 5.9 6 6.1 6 6.3 6 6.3 6 5.9 6 6 6 6.6 6 6.2 6 5 6 4.4 6 4.6 6 5.1 6 5.2 6 4.6 6 3.6 6 2.9 6 2.7 6 2.2 6 2 6 1.8 6 1.6 6 1.6 6 1.4 6 1.3 6 1 6 .8 1.5 .1"/>
<path d="M765.5 173l6-1.4 6-1.4 6-1.5 6-1.6 6-1.6 6-1.6 6-1.7 6-1.6 6-1.8 6-1.8 6-2 6-2.1 6-2.2 6-2.4 6-2.5 6-2.6 6-2.9 6-3.2 6-3.4 6-3.7 6-4.2 6-4.7 6-5.8 6-6.9 6-7.2 6-7.7 6-8.2 6-8.9 6-9.7 6-9.7 6-9.6 6-10 6-11.4 6-9.7 6-7.3 6-5.1 6-2.9 6-2.2 6-1.2 6-.7 6-.5 6-.3 6 .5 6 1.7 6 2.5 6 5.7 6 5 6 4.7 6 5.8 6 6.7 6 6 6 5.9 6 5.8 6 5.9 6 6.3 6 6.7 6 7 6 7.3 6 6.7 6 6.5 6 7 6 7.5 6 6.1 6 5.3 6 5.2 6 5.8 6 6.5 6 6.4 6 5.6 6 4.4 6 3.7 6 3.4 6 2.9 6 2.5 6 2.1 6 2 6 1.9 6 1.7 6 1.5 6 1.2 6 .9 1.5 .1"/>
<path d="M765.5 175.6l6-.8 6-.8 6-.9 6-.9 6-1 6-1 6-1.1 6-1.1 6-1.2 6-1.3 6-1.3 6-1.4 6-1.4 6-1.6 6-1.6 6-1.8 6-1.9 6-2.2 6-2.4 6-2.8 6-2.9 6-3.3 6-3.7 6-4.2 6-4.5 6-4.7 6-4.8 6-5.2 6-5.4 6-5.5 6-5.5 6-5.7 6-5.9 6-5.3 6-4.6 6-4.1 6-3.5 6-2.9 6-2 6-1.7 6-1.3 6-.4 6 .4 6 .9 6 1.6 6 2.1 6 2.6 6 3.5 6 3.9 6 4.1 6 4.2 6 4.5 6 4.7 6 5 6 5.2 6 5.1 6 5.1 6 5.2 6 5.1 6 5.1 6 5.1 6 5.3 6 4.7 6 3.6 6 3.3 6 3.4 6 3.5 6 3.2 6 2.6 6 1.9 6 1.7 6 1.5 6 1.3 6 1.3 6 1.1 6 1.1 6 1.1 6 .9 6 .9 6 .8 6 .7 1.5 .1"/>
<path d="M765.5 173.3l6-1.4 6-1.4 6-1.5 6-1.5 6-1.5 6-1.6 6-1.6 6-1.6 6-1.7 6-1.8 6-1.9 6-2 6-2.2 6-2.2 6-2.4 6-2.6 6-2.7 6-3 6-3.2 6-3.6 6-4 6-4.4 6-5.3 6-6.4 6-6.9 6-7.2 6-7.8 6-8.3 6-9.1 6-9.3 6-9.2 6-9.4 6-10.6 6-9.9 6-7.5 6-5.5 6-3.3 6-2.4 6-1.6 6-.8 6-.6 6-.4 6 .2 6 1.3 6 2.2 6 4.7 6 5.1 6 4.4 6 5.3 6 6.4 6 6 6 5.7 6 5.7 6 5.8 6 6.1 6 6.5 6 6.8 6 7 6 6.8 6 6.3 6 6.8 6 7.4 6 6.3 6 5.2 6 5 6 5.6 6 6.3 6 6.2 6 5.6 6 4.3 6 3.7 6 3.3 6 2.8 6 2.5 6 2.1 6 2 6 1.8 6 1.7 6 1.5 6 1.2 6 .9 1.5 .1"/>
<path d="M765.5 174.6l6-1 6-1.1 6-1 6-1.2 6-1.2 6-1.2 6-1.3 6-1.3 6-1.3 6-1.5 6-1.5 6-1.6 6-1.7 6-1.8 6-1.9 6-2 6-2.2 6-2.4 6-2.6 6-2.8 6-3.2 6-3.5 6-4 6-4.7 6-5.2 6-5.5 6-5.9 6-6.1 6-6.7 6-7 6-7 6-7 6-7.4 6-8 6-6.7 6-5.2 6-4.1 6-3.3 6-2.4 6-1.6 6-1.3 6-1 6-.3 6 .5 6 1.4 6 2.2 6 3.7 6 3.4 6 4 6 4.9 6 5.1 6 5 6 5 6 5.2 6 5.5 6 5.8 6 5.8 6 6.1 6 6 6 5.8 6 5.7 6 6.3 6 6 6 4.9 6 4.2 6 4.3 6 4.7 6 4.8 6 4.3 6 3.3 6 2.7 6 2.4 6 2.1 6 1.9 6 1.6 6 1.6 6 1.4 6 1.4 6 1.2 6 1 6 .8 1.5 .1"/>
<path d="M765.5 175.1l6-.9 6-1 6-1 6-1.1 6-1.1 6-1.1 6-1.2 6-1.2 6-1.3 6-1.4 6-1.4 6-1.5 6-1.6 6-1.7 6-1.7 6-1.9 6-2.1 6-2.3 6-2.6 6-2.8 6-3.2 6-3.4 6-4 6-4.6 6-5 6-5.2 6-5.4 6-5.8 6-6.2 6-6.3 6-6.3 6-6.4 6-7.1 6-6.3 6-5.1 6-4.4 6-3.6 6-2.9 6-2 6-1.6 6-1.3 6-.7 6 .3 6 1 6 1.5 6 2.8 6 2.8 6 3.5 6 4.2 6 4.6 6 4.5 6 4.7 6 4.9 6 5.1 6 5.4 6 5.4 6 5.6 6 5.6 6 5.5 6 5.3 6 5.6 6 5.8 6 5.1 6 4.1 6 3.7 6 3.9 6 4.2 6 4 6 3.2 6 2.5 6 2.2 6 1.9 6 1.7 6 1.5 6 1.3 6 1.3 6 1.3 6 1.1 6 1 6 .9 6 .7 1.5 .1"/>
<path d="M765.5 175.2l6-.8 6-1 6-.9 6-1 6-1.1 6-1.1 6-1.1 6-1.2 6-1.2 6-1.3 6-1.4 6-1.5 6-1.5 6-1.6 6-1.7 6-1.8 6-1.9 6-2.2 6-2.4 6-2.7 6-3 6-3.2 6-3.7 6-4.3 6-4.7 6-4.9 6-5.1 6-5.4 6-5.9 6-6 6-6 6-6.1 6-6.6 6-6.5 6-5.4 6-4.7 6-3.8 6-3.3 6-2.4 6-1.7 6-1.5 6-1 6-.2 6 .7 6 1.2 6 2.2 6 2.7 6 3.1 6 3.9 6 4.4 6 4.5 6 4.6 6 4.7 6 5 6 5.4 6 5.3 6 5.5 6 5.6 6 5.5 6 5.3 6 5.5 6 5.7 6 5.4 6 4.4 6 3.7 6 3.7 6 4.1 6 3.9 6 3.4 6 2.5 6 2.2 6 1.9 6 1.6 6 1.5 6 1.4 6 1.3 6 1.2 6 1.1 6 1 6 .9 6 .7 1.5 .2"/>
<path d="M765.5 174.5l6-1 6-1.1 6-1.2 6-1.2 6-1.3 6-1.3 6-1.3 6-1.4 6-1.4 6-1.6 6-1.6 6-1.7 6-1.8 6-1.9 6-2 6-2.2 6-2.4 6-2.6 6-2.9 6-3.1 6-3.6 6-3.9 6-4.6 6-5.4 6-5.6 6-6 6-6.3 6-6.8 6-7.2 6-7.2 6-7.2 6-7.6 6-8.2 6-6.9 6-5.4 6-4.2 6-3.3 6-2.5 6-1.5 6-1.3 6-1 6-.4 6 .6 6 1.3 6 2.2 6 3.7 6 3.4 6 4 6 4.8 6 5.1 6 4.9 6 5 6 5.1 6 5.3 6 5.7 6 5.7 6 6 6 6 6 5.7 6 5.6 6 6 6 6.1 6 5.2 6 4.3 6 4.1 6 4.4 6 4.8 6 4.6 6 3.7 6 3 6 2.5 6 2.3 6 2 6 1.7 6 1.6 6 1.5 6 1.4 6 1.3 6 1.2 6 .9 6 .8 1.5 .1"/>
<path d="M765.5 173.3l6-1.3 6-1.4 6-1.5 6-1.5 6-1.5 6-1.6 6-1.6 6-1.7 6-1.7 6-1.8 6-1.9 6-2 6-2.1 6-2.2 6-2.4 6-2.6 6-2.7 6-2.9 6-3.2 6-3.6 6-3.9 6-4.4 6-5.3 6-6.3 6-6.8 6-7.2 6-7.6 6-8.3 6-8.9 6-9.2 6-9 6-9.3 6-10.5 6-9.6 6-7.2 6-5.3 6-3.1 6-2.4 6-1.5 6-.9 6-.7 6-.3 6 .2 6 1.4 6 2.1 6 4.9 6 4.8 6 4.3 6 5.4 6 6.3 6 5.8 6 5.5 6 5.7 6 5.7 6 6.1 6 6.4 6 6.7 6 7 6 6.6 6 6.3 6 6.7 6 7.3 6 6.1 6 5.2 6 5 6 5.5 6 6.2 6 6.1 6 5.5 6 4.2 6 3.6 6 3.2 6 2.8 6 2.4 6 2.1 6 2 6 1.8 6 1.7 6 1.4 6 1.2 6 .9 1.5 .1"/>
<path d="M765.5 175l6-1 6-1 6-1 6-1.1 6-1.1 6-1.2 6-1.2 6-1.2 6-1.4 6-1.3 6-1.5 6-1.6 6-1.6 6-1.7 6-1.8 6-1.9 6-2.2 6-2.3 6-2.6 6-2.8 6-3.2 6-3.5 6-4 6-4.7 6-5 6-5.3 6-5.6 6-5.9 6-6.4 6-6.5 6-6.4 6-6.6 6-7.3 6-6.7 6-5.5 6-4.6 6-3.6 6-3 6-2.1 6-1.6 6-1.3 6-.8 6 .1 6 1 6 1.4 6 2.9 6 2.9 6 3.5 6 4.2 6 4.7 6 4.7 6 4.7 6 4.9 6 5.2 6 5.4 6 5.5 6 5.7 6 5.7 6 5.6 6 5.5 6 5.6 6 5.9 6 5.4 6 4.3 6 3.8 6 4 6 4.4 6 4.2 6 3.5 6 2.7 6 2.3 6 2 6 1.8 6 1.6 6 1.5 6 1.3 6 1.3 6 1.2 6 1.1 6 .9 6 .7 1.5 .2"/>
<path d="M765.5 173.8l6-1.2 6-1.2 6-1.3 6-1.4 6-1.3 6-1.5 6-1.4 6-1.5 6-1.5 6-1.6 6-1.8 6-1.8 6-1.9 6-2.1 6-2.1 6-2.4 6-2.5 6-2.8 6-3 6-3.3 6-3.7 6-4.1 6-4.9 6-5.8 6-6.3 6-6.7 6-7 6-7.6 6-8.2 6-8.4 6-8.3 6-8.5 6-9.5 6-9 6-7 6-5.3 6-3.4 6-2.7 6-1.8 6-1.1 6-.9 6-.5 6 .1 6 1.1 6 2 6 4 6 4.4 6 4.1 6 5 6 5.9 6 5.6 6 5.4 6 5.5 6 5.6 6 6 6 6.2 6 6.5 6 6.7 6 6.4 6 6.1 6 6.4 6 6.9 6 6.1 6 5 6 4.6 6 5 6 5.6 6 5.6 6 4.9 6 3.8 6 3.2 6 2.8 6 2.5 6 2.1 6 1.9 6 1.8 6 1.6 6 1.5 6 1.3 6 1.1 6 .9 1.5 .1"/>
<path d="M765.5 173.7l6-1.3 6-1.3 6-1.4 6-1.4 6-1.4 6-1.5 6-1.6 6-1.5 6-1.6 6-1.7 6-1.8 6-1.9 6-2 6-2.1 6-2.2 6-2.4 6-2.6 6-2.8 6-3 6-3.4 6-3.7 6-4.2 6-5 6-6 6-6.4 6-6.7 6-7.2 6-7.7 6-8.4 6-8.6 6-8.4 6-8.7 6-9.9 6-8.9 6-6.8 6-5.2 6-3.2 6-2.6 6-1.6 6-1.1 6-.8 6-.6 6 .2 6 1.3 6 2 6 4.4 6 4.3 6 4.1 6 5.1 6 5.9 6 5.6 6 5.4 6 5.4 6 5.6 6 5.9 6 6.3 6 6.5 6 6.7 6 6.4 6 6.1 6 6.5 6 7 6 6 6 5 6 4.8 6 5.2 6 5.8 6 5.7 6 5 6 3.9 6 3.3 6 3 6 2.6 6 2.2 6 1.9 6 1.9 6 1.7 6 1.5 6 1.4 6 1.1 6 .8 1.5 .1"/>
<path d="M765.5 174.3l6-1 6-1.1 6-1.2 6-1.2 6-1.3 6-1.3 6-1.3 6-1.3 6-1.5 6-1.5 6-1.5 6-1.7 6-1.8 6-1.8 6-2 6-2.1 6-2.2 6-2.5 6-2.7 6-3 6-3.3 6-3.6 6-4.2 6-5 6-5.5 6-5.8 6-6.2 6-6.6 6-7 6-7.5 6-7.4 6-7.4 6-8.1 6-8.4 6-6.9 6-5.4 6-4 6-3.1 6-2.3 6-1.5 6-1.2 6-.8 6-.3 6 .7 6 1.4 6 2.6 6 4 6 3.6 6 4.2 6 5.2 6 5.3 6 5.1 6 5.1 6 5.3 6 5.7 6 5.9 6 6 6 6.3 6 6.2 6 5.8 6 6 6 6.5 6 6.1 6 5 6 4.3 6 4.5 6 5 6 5.1 6 4.6 6 3.5 6 2.9 6 2.5 6 2.3 6 2 6 1.7 6 1.6 6 1.5 6 1.4 6 1.3 6 1 6 .8 1.5 .2"/>
<path d="M765.5 173.9l6-1.2 6-1.2 6-1.3 6-1.3 6-1.3 6-1.4 6-1.5 6-1.4 6-1.5 6-1.6 6-1.7 6-1.8 6-1.9 6-2 6-2.1 6-2.3 6-2.5 6-2.6 6-2.9 6-3.2 6-3.6 6-4 6-4.5 6-5.6 6-6.1 6-6.3 6-6.8 6-7.3 6-7.8 6-8.3 6-8.1 6-8.2 6-9 6-9.2 6-7.4 6-5.5 6-3.8 6-2.9 6-2.1 6-1.2 6-1 6-.7 6-.1 6 .9 6 1.8 6 3.2 6 4.5 6 4 6 4.6 6 5.7 6 5.6 6 5.4 6 5.4 6 5.6 6 5.8 6 6.1 6 6.4 6 6.6 6 6.5 6 6.1 6 6.2 6 6.9 6 6.2 6 5.2 6 4.6 6 4.9 6 5.5 6 5.6 6 5 6 3.8 6 3.3 6 2.8 6 2.5 6 2.2 6 1.9 6 1.7 6 1.7 6 1.5 6 1.3 6 1.1 6 .9 1.5 .1"/>
<path d="M765.5 175.5l6-.8 6-.8 6-.9 6-1 6-1 6-1 6-1.1 6-1.1 6-1.2 6-1.3 6-1.3 6-1.4 6-1.5 6-1.5 6-1.6 6-1.7 6-1.9 6-2.1 6-2.3 6-2.5 6-2.9 6-3.1 6-3.4 6-4.1 6-4.3 6-4.6 6-4.8 6-5 6-5.3 6-5.5 6-5.6 6-5.6 6-6 6-5.8 6-5 6-4.5 6-3.8 6-3.3 6-2.5 6-1.8 6-1.6 6-1 6-.1 6 .6 6 1.2 6 1.9 6 2.3 6 3 6 3.7 6 4.1 6 4.3 6 4.3 6 4.6 6 4.9 6 5.2 6 5.2 6 5.2 6 5.3 6 5.3 6 5.1 6 5.3 6 5.4 6 5.2 6 4.2 6 3.4 6 3.5 6 3.7 6 3.6 6 3 6 2.3 6 1.9 6 1.6 6 1.5 6 1.4 6 1.2 6 1.2 6 1.2 6 1 6 1 6 .8 6 .7 1.5 .2"/>
<path d="M765.5 175.5l6-.8 6-.8 6-.9 6-1 6-1 6-1 6-1.1 6-1.1 6-1.2 6-1.3 6-1.3 6-1.4 6-1.5 6-1.5 6-1.7 6-1.8 6-1.9 6-2.2 6-2.5 6-2.7 6-3 6-3.3 6-3.8 6-4.3 6-4.5 6-4.8 6-5 6-5.2 6-5.5 6-5.7 6-5.6 6-5.8 6-6.2 6-5.4 6-4.7 6-4.2 6-3.6 6-2.9 6-2 6-1.7 6-1.3 6-.6 6 .4 6 .9 6 1.6 6 2.2 6 2.6 6 3.5 6 3.9 6 4.2 6 4.3 6 4.5 6 4.8 6 5 6 5.2 6 5.2 6 5.2 6 5.3 6 5.2 6 5.1 6 5.2 6 5.4 6 4.8 6 3.8 6 3.3 6 3.4 6 3.7 6 3.4 6 2.6 6 2.1 6 1.7 6 1.6 6 1.4 6 1.3 6 1.1 6 1.2 6 1 6 1 6 .9 6 .8 6 .7 1.5 .2"/>
<path d="M765.5 174.9l6-1 6-1 6-1.1 6-1.1 6-1.2 6-1.2 6-1.2 6-1.3 6-1.3 6-1.5 6-1.5 6-1.6 6-1.6 6-1.8 6-1.9 6-2 6-2.2 6-2.4 6-2.6 6-3 6-3.3 6-3.6 6-4.2 6-4.9 6-5.2 6-5.5 6-5.8 6-6.1 6-6.6 6-6.7 6-6.6 6-6.9 6-7.5 6-6.6 6-5.4 6-4.4 6-3.5 6-2.9 6-1.8 6-1.5 6-1.2 6-.6 6 .3 6 1 6 1.7 6 3.2 6 3 6 3.7 6 4.4 6 4.8 6 4.7 6 4.8 6 5 6 5.2 6 5.5 6 5.6 6 5.7 6 5.8 6 5.6 6 5.4 6 5.7 6 6 6 5.2 6 4.3 6 3.8 6 4.1 6 4.5 6 4.2 6 3.6 6 2.7 6 2.3 6 2.1 6 1.8 6 1.6 6 1.5 6 1.4 6 1.3 6 1.2 6 1 6 1 6 .7 1.5 .1"/>
<path d="M765.5 173.6l6-1.3 6-1.3 6-1.4 6-1.4 6-1.5 6-1.5 6-1.5 6-1.5 6-1.6 6-1.7 6-1.8 6-1.9 6-2 6-2.1 6-2.2 6-2.4 6-2.6 6-2.8 6-3 6-3.3 6-3.8 6-4.2 6-4.9 6-6 6-6.4 6-6.8 6-7.2 6-7.8 6-8.5 6-8.7 6-8.6 6-8.8 6-9.9 6-9.4 6-7.3 6-5.4 6-3.5 6-2.6 6-1.8 6-1.1 6-.8 6-.6 6 0 6 1.2 6 1.9 6 4.1 6 4.6 6 4.2 6 5 6 6 6 5.7 6 5.5 6 5.5 6 5.7 6 5.9 6 6.3 6 6.6 6 6.8 6 6.6 6 6.2 6 6.5 6 7.2 6 6.2 6 5.1 6 4.8 6 5.3 6 5.9 6 5.9 6 5.2 6 4.1 6 3.4 6 3 6 2.7 6 2.3 6 2 6 1.8 6 1.8 6 1.6 6 1.3 6 1.2 6 .8 1.5 .1"/>
<path d="M765.5 174.2l6-1.1 6-1.2 6-1.2 6-1.3 6-1.3 6-1.4 6-1.3 6-1.5 6-1.5 6-1.5 6-1.7 6-1.8 6-1.8 6-2 6-2 6-2.3 6-2.4 6-2.6 6-2.9 6-3.2 6-3.5 6-4 6-4.6 6-5.5 6-5.8 6-6.2 6-6.6 6-7 6-7.6 6-7.8 6-7.7 6-7.8 6-8.9 6-8 6-6.3 6-5 6-3.4 6-2.7 6-1.8 6-1.2 6-1 6-.6 6 .1 6 1.2 6 1.8 6 3.8 6 3.8 6 3.9 6 4.8 6 5.5 6 5.2 6 5.2 6 5.2 6 5.4 6 5.8 6 6 6 6.1 6 6.4 6 6.1 6 5.8 6 6.1 6 6.6 6 5.8 6 4.7 6 4.3 6 4.8 6 5.1 6 5.2 6 4.4 6 3.4 6 2.9 6 2.5 6 2.3 6 2 6 1.7 6 1.7 6 1.5 6 1.4 6 1.2 6 1.1 6 .8 1.5 .1"/>
<path d="M765.5 174.5l6-1 6-1.1 6-1.2 6-1.1 6-1.3 6-1.2 6-1.3 6-1.4 6-1.4 6-1.5 6-1.6 6-1.6 6-1.8 6-1.8 6-2 6-2.1 6-2.2 6-2.5 6-2.8 6-3 6-3.4 6-3.7 6-4.3 6-5.1 6-5.5 6-5.7 6-6.2 6-6.5 6-7 6-7.3 6-7.1 6-7.3 6-8.1 6-7.7 6-6.1 6-4.9 6-3.6 6-2.9 6-2 6-1.4 6-1.1 6-.7 6 0 6 1 6 1.6 6 3.2 6 3.5 6 3.7 6 4.5 6 5.1 6 5 6 5 6 5.1 6 5.3 6 5.7 6 5.8 6 5.9 6 6.1 6 5.9 6 5.7 6 5.9 6 6.3 6 5.7 6 4.7 6 4.1 6 4.4 6 4.8 6 4.8 6 4.1 6 3.2 6 2.6 6 2.4 6 2.1 6 1.8 6 1.6 6 1.6 6 1.4 6 1.3 6 1.2 6 1 6 .8 1.5 .1"/>
<path d="M765.5 173.8l6-1.2 6-1.3 6-1.3 6-1.4 6-1.4 6-1.4 6-1.5 6-1.6 6-1.6 6-1.6 6-1.8 6-1.9 6-2 6-2.1 6-2.2 6-2.3 6-2.6 6-2.7 6-3 6-3.4 6-3.6 6-4.1 6-4.8 6-5.8 6-6.3 6-6.5 6-7 6-7.4 6-8.1 6-8.4 6-8.2 6-8.4 6-9.4 6-8.9 6-6.9 6-5.2 6-3.4 6-2.6 6-1.7 6-1.1 6-.8 6-.6 6 .1 6 1.2 6 1.9 6 4 6 4.3 6 4.1 6 4.9 6 5.8 6 5.5 6 5.3 6 5.4 6 5.5 6 5.9 6 6.1 6 6.4 6 6.6 6 6.3 6 6.1 6 6.3 6 6.9 6 6 6 5 6 4.6 6 5 6 5.6 6 5.6 6 5 6 3.8 6 3.2 6 2.9 6 2.6 6 2.1 6 2 6 1.8 6 1.7 6 1.5 6 1.4 6 1.1 6 .9 1.5 .1"/>
<path d="M765.5 174.1l6-1.1 6-1.2 6-1.2 6-1.3 6-1.3 6-1.3 6-1.4 6-1.4 6-1.5 6-1.5 6-1.6 6-1.7 6-1.8 6-1.9 6-2 6-2.2 6-2.3 6-2.6 6-2.8 6-3.1 6-3.4 6-3.8 6-4.4 6-5.3 6-5.9 6-6.1 6-6.5 6-7 6-7.5 6-7.9 6-7.8 6-7.9 6-8.6 6-8.7 6-7.1 6-5.4 6-3.8 6-3 6-2.2 6-1.4 6-1.1 6-.8 6-.2 6 .9 6 1.6 6 3.1 6 4.1 6 3.8 6 4.5 6 5.5 6 5.4 6 5.2 6 5.3 6 5.5 6 5.8 6 6 6 6.2 6 6.5 6 6.3 6 6 6 6.2 6 6.7 6 6.1 6 5 6 4.5 6 4.8 6 5.3 6 5.3 6 4.7 6 3.7 6 3 6 2.7 6 2.3 6 2.1 6 1.8 6 1.7 6 1.5 6 1.5 6 1.2 6 1.1 6 .8 1.5 .1"/>
<path d="M765.5 174.6l6-1.1 6-1.1 6-1.2 6-1.2 6-1.3 6-1.2 6-1.4 6-1.4 6-1.4 6-1.5 6-1.7 6-1.7 6-1.7 6-1.9 6-2 6-2.1 6-2.3 6-2.6 6-2.7 6-3.1 6-3.4 6-3.8 6-4.5 6-5.2 6-5.5 6-5.8 6-6.2 6-6.6 6-7 6-7.2 6-7 6-7.4 6-8.2 6-7 6-5.6 6-4.5 6-3.3 6-2.7 6-1.7 6-1.3 6-1.1 6-.6 6 .4 6 1.2 6 1.8 6 3.6 6 3.3 6 3.8 6 4.6 6 5.1 6 4.9 6 4.9 6 5 6 5.3 6 5.6 6 5.7 6 5.9 6 6 6 5.7 6 5.6 6 5.9 6 6.2 6 5.4 6 4.4 6 4 6 4.5 6 4.7 6 4.7 6 3.8 6 3 6 2.6 6 2.3 6 2.1 6 1.7 6 1.6 6 1.6 6 1.4 6 1.3 6 1.2 6 .9 6 .8 1.5 .1"/>
<path d="M765.5 173.4l6-1.3 6-1.4 6-1.4 6-1.5 6-1.5 6-1.5 6-1.6 6-1.6 6-1.6 6-1.7 6-1.9 6-1.9 6-2 6-2.2 6-2.3 6-2.4 6-2.6 6-2.8 6-3 6-3.4 6-3.7 6-4.1 6-4.7 6-5.9 6-6.6 6-6.8 6-7.3 6-7.8 6-8.6 6-9 6-9 6-8.9 6-9.7 6-10.5 6-8.2 6-6.2 6-4 6-2.9 6-2 6-1.1 6-.8 6-.6 6-.2 6 .8 6 1.8 6 3.2 6 5.3 6 4.3 6 4.8 6 6 6 6.1 6 5.7 6 5.6 6 5.7 6 5.9 6 6.4 6 6.6 6 7 6 6.9 6 6.4 6 6.5 6 7.4 6 6.7 6 5.5 6 5 6 5.4 6 6.1 6 6.3 6 5.7 6 4.5 6 3.7 6 3.4 6 2.9 6 2.4 6 2.2 6 2 6 1.9 6 1.7 6 1.4 6 1.2 6 .9 1.5 .1"/>
<path d="M765.5 173.6l6-1.3 6-1.4 6-1.4 6-1.4 6-1.5 6-1.5 6-1.5 6-1.6 6-1.7 6-1.7 6-1.8 6-2 6-2 6-2.2 6-2.3 6-2.5 6-2.6 6-2.9 6-3.1 6-3.4 6-3.9 6-4.3 6-5.1 6-6.1 6-6.6 6-6.9 6-7.4 6-7.9 6-8.6 6-8.8 6-8.6 6-8.9 6-10.1 6-9.1 6-7 6-5.1 6-3.2 6-2.5 6-1.5 6-1 6-.8 6-.4 6 .2 6 1.4 6 2.1 6 4.6 6 4.5 6 4.2 6 5.3 6 6 6 5.7 6 5.4 6 5.6 6 5.6 6 6 6 6.3 6 6.5 6 6.9 6 6.4 6 6.2 6 6.5 6 7.1 6 6.1 6 5 6 4.8 6 5.3 6 5.9 6 5.9 6 5.1 6 4 6 3.4 6 3 6 2.7 6 2.3 6 2 6 1.8 6 1.8 6 1.6 6 1.4 6 1.1 6 .9 1.5 .1"/>
<path d="M765.5 174.7l6-1 6-1.1 6-1.1 6-1.2 6-1.2 6-1.2 6-1.3 6-1.4 6-1.4 6-1.5 6-1.6 6-1.6 6-1.7 6-1.8 6-2 6-2.1 6-2.3 6-2.4 6-2.8 6-3.1 6-3.4 6-3.8 6-4.5 6-5.1 6-5.4 6-5.8 6-6 6-6.5 6-6.8 6-6.9 6-6.9 6-7.3 6-7.8 6-6.5 6-5.2 6-4.2 6-3.3 6-2.5 6-1.7 6-1.4 6-1 6-.4 6 .5 6 1.3 6 2.1 6 3.3 6 3.3 6 3.9 6 4.6 6 4.9 6 4.7 6 4.9 6 5 6 5.3 6 5.5 6 5.6 6 5.8 6 5.9 6 5.6 6 5.5 6 5.8 6 6 6 5.1 6 4.2 6 3.9 6 4.3 6 4.6 6 4.3 6 3.5 6 2.8 6 2.4 6 2.1 6 1.9 6 1.6 6 1.5 6 1.5 6 1.3 6 1.2 6 1.1 6 .9 6 .8 1.5 .1"/>
<path d="M765.5 173.8l6-1.1 6-1.3 6-1.2 6-1.3 6-1.4 6-1.4 6-1.4 6-1.5 6-1.5 6-1.6 6-1.7 6-1.8 6-1.9 6-2 6-2.1 6-2.3 6-2.4 6-2.7 6-2.8 6-3.2 6-3.5 6-3.9 6-4.5 6-5.4 6-6.1 6-6.3 6-6.8 6-7.2 6-7.8 6-8.2 6-8.3 6-8.2 6-8.8 6-9.6 6-7.7 6-6 6-4.2 6-3 6-2.2 6-1.3 6-1 6-.7 6-.3 6 .7 6 1.6 6 2.7 6 4.8 6 4 6 4.5 6 5.6 6 5.8 6 5.4 6 5.5 6 5.5 6 5.8 6 6.2 6 6.4 6 6.6 6 6.6 6 6.2 6 6.2 6 6.9 6 6.6 6 5.3 6 4.7 6 4.9 6 5.5 6 5.7 6 5.2 6 4.1 6 3.3 6 3 6 2.6 6 2.2 6 1.9 6 1.8 6 1.8 6 1.5 6 1.4 6 1.1 6 .9 1.5 .1"/>
<path d="M765.5 174l6-1.2 6-1.2 6-1.3 6-1.3 6-1.3 6-1.4 6-1.4 6-1.4 6-1.5 6-1.6 6-1.7 6-1.8 6-1.9 6-2 6-2.2 6-2.2 6-2.5 6-2.7 6-2.9 6-3.3 6-3.6 6-3.9 6-4.7 6-5.5 6-6.1 6-6.4 6-6.8 6-7.2 6-7.9 6-8.2 6-8 6-8.2 6-9 6-9 6-7.1 6-5.4 6-3.6 6-2.9 6-2 6-1.1 6-1 6-.6 6 0 6 1 6 1.8 6 3.4 6 4.4 6 4 6 4.7 6 5.7 6 5.6 6 5.3 6 5.5 6 5.5 6 5.8 6 6.2 6 6.3 6 6.5 6 6.4 6 6.1 6 6.2 6 6.8 6 6.1 6 5.1 6 4.5 6 4.9 6 5.4 6 5.5 6 4.8 6 3.8 6 3.1 6 2.8 6 2.4 6 2.1 6 1.9 6 1.7 6 1.7 6 1.5 6 1.3 6 1.1 6 .8 1.5 .1"/>
<path d="M765.5 173.2l6-1.3 6-1.3 6-1.5 6-1.4 6-1.5 6-1.5 6-1.6 6-1.6 6-1.6 6-1.8 6-1.8 6-2 6-2.1 6-2.2 6-2.3 6-2.5 6-2.7 6-2.9 6-3.1 6-3.4 6-3.8 6-4.2 6-4.8 6-6 6-6.7 6-7 6-7.5 6-8 6-8.7 6-9.2 6-9.3 6-9.1 6-9.8 6-10.9 6-8.8 6-6.6 6-4.4 6-2.8 6-2 6-1.1 6-.7 6-.5 6-.2 6 .8 6 1.8 6 2.9 6 5.7 6 4.6 6 4.8 6 6.1 6 6.4 6 5.9 6 5.8 6 5.8 6 6 6 6.5 6 6.7 6 7.1 6 7.1 6 6.6 6 6.5 6 7.4 6 7 6 5.6 6 5.1 6 5.4 6 6.2 6 6.5 6 5.9 6 4.8 6 3.8 6 3.5 6 2.9 6 2.6 6 2.2 6 2.1 6 1.9 6 1.7 6 1.6 6 1.2 6 1 1.5 .1"/>
<path d="M765.5 173.5l6-1.3 6-1.4 6-1.4 6-1.4 6-1.5 6-1.6 6-1.6 6-1.6 6-1.7 6-1.7 6-1.9 6-2 6-2.1 6-2.2 6-2.4 6-2.5 6-2.7 6-2.9 6-3.2 6-3.5 6-3.9 6-4.3 6-5.3 6-6.2 6-6.6 6-7 6-7.5 6-8 6-8.7 6-8.9 6-8.7 6-9.1 6-10.2 6-9 6-6.9 6-5 6-3.1 6-2.4 6-1.4 6-.9 6-.7 6-.4 6 .4 6 1.4 6 2.2 6 4.8 6 4.5 6 4.3 6 5.4 6 6.1 6 5.6 6 5.5 6 5.5 6 5.7 6 6 6 6.3 6 6.6 6 6.8 6 6.4 6 6.2 6 6.6 6 7.1 6 5.9 6 5 6 4.9 6 5.3 6 6 6 5.9 6 5.2 6 4 6 3.4 6 3.1 6 2.7 6 2.3 6 2 6 1.9 6 1.8 6 1.6 6 1.4 6 1.2 6 .9 1.5 .1"/>
<path d="M765.5 174.6l6-1 6-1.1 6-1.1 6-1.1 6-1.2 6-1.2 6-1.3 6-1.3 6-1.4 6-1.4 6-1.5 6-1.6 6-1.7 6-1.8 6-1.8 6-2 6-2.2 6-2.3 6-2.6 6-2.9 6-3.2 6-3.5 6-3.9 6-4.7 6-5.3 6-5.5 6-5.9 6-6.1 6-6.7 6-7 6-7 6-7 6-7.6 6-7.9 6-6.6 6-5.3 6-4.1 6-3.2 6-2.5 6-1.6 6-1.3 6-1 6-.3 6 .6 6 1.3 6 2.3 6 3.6 6 3.4 6 4.1 6 4.8 6 5.1 6 4.9 6 5.1 6 5.2 6 5.5 6 5.8 6 5.8 6 6.1 6 6.1 6 5.7 6 5.8 6 6.3 6 6 6 4.9 6 4.2 6 4.3 6 4.7 6 4.9 6 4.2 6 3.3 6 2.7 6 2.4 6 2.1 6 1.9 6 1.6 6 1.6 6 1.4 6 1.3 6 1.2 6 1 6 .8 1.5 .1"/>
<path d="M765.5 173l6-1.4 6-1.5 6-1.5 6-1.5 6-1.6 6-1.7 6-1.6 6-1.7 6-1.7 6-1.9 6-1.9 6-2.1 6-2.1 6-2.3 6-2.5 6-2.6 6-2.8 6-3.1 6-3.3 6-3.6 6-4.1 6-4.5 6-5.5 6-6.7 6-7.1 6-7.5 6-8.1 6-8.7 6-9.4 6-9.8 6-9.5 6-9.8 6-11.1 6-10.4 6-7.8 6-5.6 6-3.2 6-2.4 6-1.5 6-.7 6-.6 6-.4 6 .2 6 1.4 6 2.3 6 5 6 5.3 6 4.5 6 5.5 6 6.7 6 6.1 6 5.8 6 5.9 6 5.8 6 6.3 6 6.6 6 7 6 7.3 6 6.9 6 6.5 6 6.9 6 7.6 6 6.4 6 5.4 6 5.2 6 5.9 6 6.5 6 6.5 6 5.8 6 4.6 6 3.8 6 3.4 6 3 6 2.6 6 2.2 6 2 6 2 6 1.7 6 1.5 6 1.2 6 .9 1.5 .1"/>
<path d="M765.5 175.2l6-.8 6-.9 6-1 6-1 6-1 6-1.1 6-1.2 6-1.2 6-1.2 6-1.4 6-1.4 6-1.5 6-1.6 6-1.6 6-1.8 6-1.9 6-2.1 6-2.3 6-2.5 6-2.9 6-3.1 6-3.4 6-3.9 6-4.5 6-4.9 6-5 6-5.4 6-5.5 6-6 6-6.1 6-6.1 6-6.2 6-6.8 6-6.1 6-5.1 6-4.3 6-3.6 6-3 6-2 6-1.6 6-1.3 6-.7 6 .3 6 1 6 1.5 6 2.6 6 2.8 6 3.5 6 4.1 6 4.5 6 4.5 6 4.6 6 4.8 6 5.2 6 5.3 6 5.4 6 5.4 6 5.5 6 5.4 6 5.3 6 5.4 6 5.7 6 5.1 6 4 6 3.6 6 3.7 6 4 6 3.8 6 3.2 6 2.3 6 2.1 6 1.8 6 1.6 6 1.4 6 1.3 6 1.3 6 1.2 6 1.1 6 1 6 .9 6 .7 1.5 .2"/>
<path d="M765.5 174.2l6-1.1 6-1.2 6-1.2 6-1.2 6-1.3 6-1.3 6-1.4 6-1.3 6-1.5 6-1.5 6-1.6 6-1.7 6-1.8 6-1.9 6-2 6-2.2 6-2.4 6-2.5 6-2.8 6-3.2 6-3.5 6-3.8 6-4.5 6-5.4 6-5.8 6-6.1 6-6.6 6-6.9 6-7.5 6-7.8 6-7.7 6-7.8 6-8.7 6-8.3 6-6.6 6-5.1 6-3.7 6-2.9 6-2 6-1.3 6-1.1 6-.7 6 0 6 1 6 1.7 6 3.5 6 3.9 6 3.8 6 4.7 6 5.4 6 5.3 6 5.2 6 5.3 6 5.4 6 5.8 6 6 6 6.2 6 6.4 6 6.2 6 5.9 6 6.1 6 6.6 6 6 6 4.8 6 4.4 6 4.7 6 5.2 6 5.1 6 4.5 6 3.4 6 2.9 6 2.6 6 2.3 6 1.9 6 1.7 6 1.7 6 1.5 6 1.4 6 1.2 6 1 6 .8 1.5 .1"/>
<path d="M765.5 173.5l6-1.4 6-1.3 6-1.5 6-1.4 6-1.5 6-1.6 6-1.5 6-1.7 6-1.6 6-1.8 6-1.9 6-2 6-2.1 6-2.2 6-2.3 6-2.6 6-2.7 6-3 6-3.2 6-3.6 6-3.9 6-4.5 6-5.4 6-6.4 6-6.7 6-7.2 6-7.6 6-8.3 6-8.9 6-9 6-8.9 6-9.2 6-10.5 6-9 6-6.8 6-4.9 6-3.1 6-2.3 6-1.3 6-.9 6-.7 6-.3 6 .4 6 1.5 6 2.4 6 5.1 6 4.5 6 4.4 6 5.5 6 6.2 6 5.7 6 5.6 6 5.6 6 5.7 6 6.1 6 6.4 6 6.7 6 6.9 6 6.4 6 6.2 6 6.8 6 7.1 6 5.9 6 5 6 4.9 6 5.5 6 6 6 5.9 6 5.2 6 4 6 3.4 6 3.1 6 2.7 6 2.3 6 2 6 1.9 6 1.7 6 1.6 6 1.4 6 1.2 6 .8 1.5 .2"/>
<path d="M765.5 175.1l6-1 6-.9 6-1.1 6-1 6-1.1 6-1.2 6-1.2 6-1.2 6-1.3 6-1.4 6-1.4 6-1.6 6-1.6 6-1.7 6-1.8 6-2 6-2.1 6-2.4 6-2.7 6-2.9 6-3.3 6-3.6 6-4.2 6-4.8 6-5.1 6-5.4 6-5.6 6-6 6-6.3 6-6.4 6-6.4 6-6.7 6-7.1 6-6.1 6-5 6-4.1 6-3.5 6-2.7 6-1.8 6-1.5 6-1.1 6-.5 6 .5 6 1.2 6 1.9 6 2.9 6 3 6 3.8 6 4.4 6 4.6 6 4.6 6 4.7 6 5 6 5.2 6 5.4 6 5.5 6 5.6 6 5.6 6 5.4 6 5.4 6 5.6 6 5.7 6 4.9 6 4 6 3.7 6 3.9 6 4.2 6 3.9 6 3.1 6 2.4 6 2.2 6 1.8 6 1.7 6 1.4 6 1.4 6 1.3 6 1.2 6 1.1 6 1 6 .9 6 .7 1.5 .1"/>
<path d="M765.5 174l6-1.1 6-1.2 6-1.2 6-1.3 6-1.3 6-1.4 6-1.4 6-1.4 6-1.5 6-1.5 6-1.7 6-1.7 6-1.8 6-2 6-2 6-2.2 6-2.3 6-2.5 6-2.7 6-3.1 6-3.3 6-3.7 6-4.2 6-5.1 6-5.8 6-6 6-6.4 6-6.8 6-7.4 6-7.9 6-7.9 6-7.8 6-8.3 6-9.2 6-7.6 6-6 6-4.3 6-3.2 6-2.4 6-1.5 6-1.1 6-.9 6-.4 6 .5 6 1.4 6 2.4 6 4.3 6 3.9 6 4.2 6 5.2 6 5.7 6 5.2 6 5.4 6 5.4 6 5.6 6 6 6 6.3 6 6.4 6 6.5 6 6.1 6 6.1 6 6.7 6 6.5 6 5.4 6 4.6 6 4.7 6 5.4 6 5.5 6 5 6 4 6 3.2 6 2.8 6 2.6 6 2.1 6 1.9 6 1.8 6 1.6 6 1.6 6 1.3 6 1.1 6 .8 1.5 .2"/>
<path d="M765.5 175.7l6-.8 6-.8 6-.9 6-.9 6-1 6-1 6-1 6-1.2 6-1.1 6-1.3 6-1.3 6-1.4 6-1.5 6-1.5 6-1.6 6-1.8 6-1.9 6-2.2 6-2.4 6-2.8 6-2.9 6-3.2 6-3.7 6-4.2 6-4.3 6-4.7 6-4.7 6-5 6-5.3 6-5.4 6-5.4 6-5.6 6-5.8 6-5.1 6-4.5 6-4.1 6-3.6 6-2.9 6-1.9 6-1.8 6-1.3 6-.4 6 .4 6 1 6 1.5 6 2 6 2.6 6 3.4 6 3.8 6 4.1 6 4.2 6 4.4 6 4.7 6 5 6 5.1 6 5 6 5.1 6 5.2 6 5 6 5 6 5.1 6 5.2 6 4.7 6 3.6 6 3.1 6 3.3 6 3.5 6 3.2 6 2.4 6 1.9 6 1.7 6 1.5 6 1.3 6 1.2 6 1.1 6 1.1 6 1 6 1 6 .9 6 .8 6 .7 1.5 .1"/>
<path d="M765.5 173.6l6-1.2 6-1.4 6-1.4 6-1.4 6-1.5 6-1.5 6-1.6 6-1.6 6-1.7 6-1.7 6-1.9 6-2 6-2.1 6-2.3 6-2.3 6-2.6 6-2.7 6-3 6-3.2 6-3.6 6-4 6-4.5 6-5.5 6-6.3 6-6.7 6-7 6-7.6 6-8.1 6-8.7 6-8.7 6-8.6 6-9.1 6-10.1 6-8.1 6-6.1 6-4.2 6-2.9 6-2.1 6-1.2 6-.9 6-.6 6-.2 6 .7 6 1.7 6 2.9 6 5 6 4.1 6 4.5 6 5.6 6 5.9 6 5.5 6 5.4 6 5.5 6 5.6 6 6.1 6 6.3 6 6.5 6 6.6 6 6.2 6 6.1 6 6.6 6 6.8 6 5.5 6 4.8 6 4.7 6 5.4 6 5.7 6 5.6 6 4.8 6 3.7 6 3.2 6 2.9 6 2.5 6 2.2 6 1.9 6 1.8 6 1.7 6 1.6 6 1.3 6 1.1 6 .9 1.5 .1"/>
<path d="M765.5 173.4l6-1.3 6-1.3 6-1.4 6-1.5 6-1.4 6-1.6 6-1.5 6-1.5 6-1.7 6-1.7 6-1.8 6-1.9 6-2 6-2.1 6-2.2 6-2.4 6-2.6 6-2.8 6-3 6-3.3 6-3.7 6-4.1 6-4.8 6-5.8 6-6.6 6-6.7 6-7.3 6-7.8 6-8.5 6-9 6-8.9 6-8.9 6-9.6 6-10.4 6-8.1 6-6.1 6-4.1 6-2.8 6-2 6-1.2 6-.8 6-.6 6-.2 6 .8 6 1.8 6 3.2 6 5.2 6 4.3 6 4.8 6 6 6 6 6 5.7 6 5.6 6 5.7 6 6 6 6.3 6 6.6 6 7 6 6.9 6 6.4 6 6.5 6 7.3 6 6.7 6 5.4 6 5 6 5.4 6 6 6 6.2 6 5.6 6 4.5 6 3.7 6 3.2 6 2.8 6 2.5 6 2.1 6 1.9 6 1.9 6 1.6 6 1.5 6 1.2 6 .8 1.5 .2"/>
<path d="M765.5 173.8l6-1.1 6-1.3 6-1.3 6-1.3 6-1.4 6-1.4 6-1.4 6-1.5 6-1.5 6-1.6 6-1.7 6-1.8 6-1.9 6-2 6-2.1 6-2.3 6-2.4 6-2.6 6-2.9 6-3.1 6-3.5 6-3.8 6-4.4 6-5.3 6-6.1 6-6.2 6-6.7 6-7.2 6-7.7 6-8.2 6-8.2 6-8.2 6-8.7 6-9.6 6-7.8 6-6 6-4.2 6-3 6-2.3 6-1.4 6-1 6-.7 6-.4 6 .6 6 1.6 6 2.6 6 4.7 6 4 6 4.4 6 5.5 6 5.8 6 5.4 6 5.4 6 5.5 6 5.7 6 6.2 6 6.3 6 6.6 6 6.6 6 6.2 6 6.2 6 6.9 6 6.6 6 5.3 6 4.7 6 5 6 5.5 6 5.8 6 5.2 6 4.1 6 3.4 6 2.9 6 2.7 6 2.2 6 2 6 1.8 6 1.7 6 1.6 6 1.4 6 1.1 6 .9 1.5 .1"/>
<path d="M765.5 173.2l6-1.4 6-1.4 6-1.5 6-1.5 6-1.6 6-1.6 6-1.7 6-1.6 6-1.8 6-1.8 6-2 6-2.1 6-2.2 6-2.3 6-2.5 6-2.7 6-2.9 6-3.1 6-3.5 6-3.8 6-4.2 6-4.8 6-6 6-6.9 6-7.1 6-7.7 6-8.2 6-8.9 6-9.4 6-9.5 6-9.3 6-10.1 6-10.9 6-8.7 6-6.4 6-4.1 6-2.8 6-1.9 6-1.1 6-.7 6-.5 6-.1 6 .9 6 1.9 6 3.3 6 5.6 6 4.4 6 4.8 6 6.2 6 6.2 6 5.8 6 5.7 6 5.7 6 5.9 6 6.3 6 6.5 6 7 6 6.9 6 6.5 6 6.3 6 7 6 7.1 6 5.7 6 5 6 5.1 6 5.8 6 6.2 6 6 6 5.2 6 4 6 3.5 6 3.2 6 2.7 6 2.3 6 2.1 6 1.9 6 1.8 6 1.6 6 1.4 6 1.2 6 .9 1.5 .1"/>
<path d="M765.5 174.5l6-1 6-1.1 6-1.1 6-1.2 6-1.2 6-1.3 6-1.3 6-1.3 6-1.4 6-1.5 6-1.5 6-1.7 6-1.7 6-1.9 6-2 6-2.1 6-2.3 6-2.5 6-2.8 6-3.1 6-3.4 6-3.8 6-4.4 6-5.2 6-5.6 6-5.9 6-6.2 6-6.6 6-7.1 6-7.3 6-7.3 6-7.4 6-8.2 6-7.5 6-6 6-4.8 6-3.5 6-2.8 6-1.9 6-1.4 6-1.1 6-.6 6 .1 6 1.2 6 1.7 6 3.4 6 3.5 6 3.8 6 4.6 6 5.2 6 5.1 6 5 6 5.2 6 5.3 6 5.7 6 5.8 6 6 6 6.2 6 5.9 6 5.7 6 5.9 6 6.3 6 5.6 6 4.6 6 4.1 6 4.4 6 4.8 6 4.7 6 4 6 3.1 6 2.6 6 2.3 6 2.1 6 1.8 6 1.5 6 1.6 6 1.4 6 1.3 6 1.1 6 1 6 .8 1.5 .1"/>
<path d="M765.5 173.6l6-1.3 6-1.3 6-1.3 6-1.4 6-1.5 6-1.5 6-1.5 6-1.5 6-1.7 6-1.7 6-1.8 6-1.9 6-2.1 6-2.1 6-2.3 6-2.4 6-2.7 6-2.8 6-3.1 6-3.4 6-3.8 6-4.2 6-4.9 6-6 6-6.5 6-6.8 6-7.3 6-7.7 6-8.5 6-8.8 6-8.6 6-8.7 6-9.7 6-9.6 6-7.5 6-5.5 6-3.5 6-2.6 6-1.8 6-1 6-.7 6-.5 6 .1 6 1.1 6 2 6 3.9 6 4.9 6 4.2 6 5 6 6 6 5.9 6 5.5 6 5.6 6 5.6 6 6 6 6.3 6 6.5 6 6.8 6 6.6 6 6.2 6 6.4 6 7.1 6 6.3 6 5.1 6 4.8 6 5.2 6 5.9 6 5.9 6 5.2 6 4.1 6 3.5 6 3 6 2.7 6 2.3 6 2 6 1.9 6 1.8 6 1.6 6 1.4 6 1.2 6 .9 1.5 .1"/>
<path d="M765.5 173.8l6-1.2 6-1.2 6-1.3 6-1.3 6-1.4 6-1.4 6-1.4 6-1.5 6-1.5 6-1.6 6-1.7 6-1.8 6-1.9 6-2 6-2.1 6-2.3 6-2.5 6-2.7 6-2.9 6-3.2 6-3.5 6-4 6-4.5 6-5.6 6-6.1 6-6.4 6-6.9 6-7.3 6-8 6-8.4 6-8.3 6-8.3 6-9 6-9.6 6-7.8 6-5.9 6-4.1 6-3 6-2.2 6-1.3 6-.9 6-.7 6-.2 6 .7 6 1.7 6 2.9 6 4.8 6 4.1 6 4.5 6 5.7 6 5.9 6 5.5 6 5.5 6 5.5 6 5.9 6 6.2 6 6.4 6 6.7 6 6.7 6 6.2 6 6.3 6 6.9 6 6.5 6 5.3 6 4.8 6 4.9 6 5.6 6 5.8 6 5.2 6 4.1 6 3.3 6 3 6 2.6 6 2.2 6 1.9 6 1.8 6 1.8 6 1.5 6 1.4 6 1.1 6 .8 1.5 .2"/>
<path d="M765.5 173.8l6-1.2 6-1.3 6-1.3 6-1.3 6-1.4 6-1.5 6-1.4 6-1.6 6-1.5 6-1.7 6-1.8 6-1.8 6-2 6-2.1 6-2.2 6-2.3 6-2.6 6-2.8 6-3 6-3.3 6-3.8 6-4.1 6-4.9 6-5.9 6-6.3 6-6.6 6-7.1 6-7.5 6-8.2 6-8.4 6-8.3 6-8.5 6-9.5 6-8.7 6-6.7 6-5.1 6-3.3 6-2.6 6-1.7 6-1 6-.9 6-.5 6 .2 6 1.3 6 2 6 4.2 6 4.3 6 4.1 6 5.1 6 5.8 6 5.5 6 5.3 6 5.5 6 5.5 6 6 6 6.1 6 6.4 6 6.7 6 6.3 6 6 6 6.4 6 6.9 6 5.9 6 4.9 6 4.6 6 5.1 6 5.6 6 5.5 6 4.9 6 3.7 6 3.2 6 2.8 6 2.5 6 2.2 6 1.8 6 1.8 6 1.7 6 1.5 6 1.3 6 1.1 6 .9 1.5 .1"/>
<path d="M765.5 174.1l6-1.1 6-1.2 6-1.2 6-1.3 6-1.3 6-1.3 6-1.4 6-1.4 6-1.4 6-1.6 6-1.6 6-1.7 6-1.7 6-1.9 6-2 6-2.1 6-2.3 6-2.5 6-2.7 6-3 6-3.3 6-3.7 6-4.2 6-5 6-5.7 6-6 6-6.4 6-6.7 6-7.3 6-7.8 6-7.8 6-7.8 6-8.2 6-9 6-7.5 6-5.8 6-4.3 6-3.2 6-2.4 6-1.6 6-1.1 6-.9 6-.5 6 .5 6 1.5 6 2.3 6 4.3 6 3.7 6 4.3 6 5.2 6 5.5 6 5.3 6 5.2 6 5.4 6 5.7 6 6 6 6.2 6 6.5 6 6.4 6 6.1 6 6.1 6 6.6 6 6.5 6 5.2 6 4.6 6 4.7 6 5.3 6 5.4 6 4.9 6 3.9 6 3.1 6 2.8 6 2.4 6 2.1 6 1.9 6 1.7 6 1.6 6 1.5 6 1.3 6 1 6 .9 1.5 .1"/>
<path d="M765.5 173.3l6-1.4 6-1.4 6-1.4 6-1.6 6-1.5 6-1.6 6-1.6 6-1.6 6-1.7 6-1.8 6-1.8 6-2 6-2.1 6-2.2 6-2.4 6-2.5 6-2.7 6-2.9 6-3.2 6-3.5 6-3.9 6-4.4 6-5.3 6-6.3 6-6.8 6-7.2 6-7.7 6-8.2 6-9.1 6-9.3 6-9.1 6-9.3 6-10.5 6-9.9 6-7.6 6-5.5 6-3.3 6-2.5 6-1.6 6-.9 6-.7 6-.4 6 .1 6 1.3 6 2.1 6 4.6 6 5 6 4.3 6 5.3 6 6.3 6 6 6 5.6 6 5.7 6 5.7 6 6.2 6 6.4 6 6.8 6 7.1 6 6.7 6 6.4 6 6.7 6 7.4 6 6.3 6 5.3 6 5 6 5.6 6 6.3 6 6.2 6 5.5 6 4.4 6 3.6 6 3.3 6 2.9 6 2.4 6 2.1 6 2 6 1.8 6 1.7 6 1.4 6 1.2 6 .9 1.5 .1"/>
</g>
<g fill="none" stroke="#ff0000" stroke-width="1.6" stroke-linejoin="round" >
<path d="M765.5 182l6 .9 6 .9 6 .9 6 .9 6 .7 6 .7 6 .6 6 .5 6 .3 6 .3 6 .2 6 .2 6 .1 6 .1 6 0 6 0 6 .1 6 0 6 0 6 0 6 .1 6 0 6 .1 6 .1 6 .1 6 .2 6 .1 6 .3 6 .2 6 .4 6 .4 6 .5 6 .6 6 .6 6 .7 6 .6 6 .6 6 .6 6 .4 6 .4 6 .4 6 .3 6 .3 6 .4 6 .3 6 .3 6 .4 6 .2 6 .2 6 .1 6 0 6-.2 6-.4 6-.6 6-1 6-1.9 6-2.1 6-2 6-1.6 6-1.5 6-1.3 6-1.1 6-.6 6-.6 6-.4 6-.4 6-.4 6-.4 6-.5 6-.5 6-.5 6-.5 6-.5 6-.4 6-.4 6-.3 6-.2 6-.2 6-.2 6-.1 6-.1 1.5 0"/>
<path d="M765.5 182.7l6 1 6 .9 6 1 6 .9 6 .9 6 .9 6 .8 6 .7 6 .7 6 .5 6 .5 6 .5 6 .4 6 .4 6 .3 6 .3 6 .2 6 .2 6 .3 6 .2 6 .2 6 .2 6 .2 6 .1 6 .2 6 .2 6 .1 6 .2 6 .1 6 .2 6 .2 6 .2 6 .3 6 .3 6 .4 6 .4 6 .5 6 .6 6 .6 6 .6 6 .5 6 .5 6 .4 6 .3 6 .3 6 .3 6 .2 6 .3 6 .2 6 .2 6 .2 6 0 6-.1 6-.2 6-.3 6-.6 6-.8 6-1.1 6-2.2 6-2.7 6-2.6 6-1.9 6-1.9 6-1.6 6-1 6-.7 6-.6 6-.4 6-.5 6-.4 6-.6 6-.6 6-.7 6-.6 6-.6 6-.5 6-.5 6-.4 6-.4 6-.3 6-.3 1.5 0"/>
<path d="M765.5 181.7l6 .6 6 .6 6 .6 6 .5 6 .6 6 .5 6 .5 6 .4 6 .4 6 .4 6 .3 6 .3 6 .2 6 .3 6 .2 6 .3 6 .2 6 .2 6 .2 6 .2 6 .3 6 .2 6 .2 6 .3 6 .2 6 .2 6 .2 6 .2 6 .2 6 .2 6 .2 6 .2 6 .2 6 .2 6 .2 6 .3 6 .3 6 .3 6 .3 6 .2 6 .2 6 .2 6 .1 6 0 6-.1 6-.1 6-.1 6 0 6-.1 6 .1 6 .1 6 .1 6 0 6 .1 6-.1 6-.2 6-.4 6-.8 6-1.6 6-2 6-1.8 6-1.4 6-1.3 6-1 6-.6 6-.3 6-.2 6-.1 6-.1 6-.2 6-.3 6-.4 6-.4 6-.4 6-.4 6-.4 6-.4 6-.3 6-.3 6-.2 6-.3 1.5 0"/>
<path d="M765.5 181l6 .5 6 .5 6 .5 6 .4 6 .4 6 .4 6 .3 6 .2 6 .2 6 .2 6 .1 6 .1 6 .2 6 .1 6 .1 6 .1 6 .2 6 .1 6 .2 6 .2 6 .1 6 .2 6 .1 6 .2 6 .2 6 .1 6 .2 6 .2 6 .3 6 .2 6 .2 6 .2 6 .2 6 .1 6 .1 6-.1 6-.1 6-.1 6-.2 6-.2 6 0 6 0 6 .2 6 .2 6 .3 6 .1 6 .3 6 .2 6 0 6-.1 6-.2 6-.7 6-1.2 6-1.4 6-1.1 6-.8 6-.8 6-.7 6-.5 6-.2 6-.1 6 0 6 0 6 0 6 0 6-.1 6-.1 6-.2 6-.2 6-.3 6-.2 6-.3 6-.2 6-.2 6-.2 6-.2 6-.2 6-.2 6-.2 6-.1 6-.1 1.5-.1"/>
<path d="M765.5 181l6 .5 6 .5 6 .4 6 .4 6 .4 6 .4 6 .3 6 .2 6 .3 6 .1 6 .2 6 .1 6 .1 6 .1 6 .1 6 .1 6 .1 6 .1 6 .2 6 .1 6 .1 6 .2 6 .1 6 .2 6 .1 6 .2 6 .1 6 .2 6 .1 6 .2 6 .2 6 .2 6 .3 6 .2 6 .2 6 .2 6 .2 6 .2 6 0 6 0 6-.1 6-.1 6-.1 6-.2 6 0 6 0 6 .2 6 .3 6 .2 6 .2 6 .2 6 .2 6 0 6-.1 6-.4 6-1.1 6-1.4 6-1.4 6-1 6-1 6-.8 6-.6 6-.3 6-.1 6 0 6-.1 6 0 6 0 6-.1 6-.3 6-.3 6-.3 6-.3 6-.3 6-.2 6-.3 6-.2 6-.2 6-.2 6-.2 6-.1 1.5-.1"/>
<path d="M765.5 178.1l6-.9 6-.8 6-.8 6-.8 6-.7 6-.6 6-.5 6-.5 6-.3 6-.3 6-.3 6-.2 6-.2 6-.1 6-.2 6-.1 6 0 6-.1 6 0 6 0 6 0 6-.1 6 0 6-.1 6-.1 6-.1 6-.3 6-.3 6-.4 6-.5 6-.5 6-.6 6-.6 6-.7 6-.7 6-.7 6-.8 6-.9 6-.9 6-.8 6-.6 6-.4 6 .2 6 .6 6 .7 6 .7 6 .9 6 1.1 6 1 6 1 6 .8 6 .7 6 .5 6 .4 6 .5 6 .6 6 .6 6 .7 6 .6 6 .8 6 .8 6 .8 6 .7 6 .7 6 .7 6 .6 6 .4 6 .3 6 .2 6 .2 6 .2 6 .1 6 .1 6 0 6 0 6-.1 6 0 6-.1 6-.1 6-.1 6-.1 1.5-.1"/>
<path d="M765.5 181.1l6 .5 6 .5 6 .4 6 .3 6 .3 6 .3 6 .2 6 .2 6 .1 6 0 6 .1 6 0 6 0 6 .1 6 .1 6 .1 6 .1 6 .2 6 .2 6 .3 6 .3 6 .3 6 .4 6 .3 6 .5 6 .4 6 .4 6 .5 6 .5 6 .4 6 .6 6 .5 6 .5 6 .5 6 .4 6 .4 6 .3 6 .2 6 .1 6 0 6-.1 6-.2 6-.2 6-.2 6-.2 6 0 6 0 6 0 6-.1 6-.1 6-.1 6-.3 6-.4 6-.6 6-1.2 6-1.6 6-1.8 6-1.4 6-1.1 6-1.1 6-.9 6-.5 6-.3 6-.1 6 0 6 0 6 0 6 0 6-.1 6-.2 6-.2 6-.1 6-.2 6-.1 6-.2 6-.1 6-.1 6-.1 6-.1 6-.1 6-.1 1.5-.1"/>
<path d="M765.5 179.7l6 .1 6 0 6 0 6-.1 6 0 6 0 6 0 6-.1 6 0 6-.1 6-.1 6 0 6-.1 6-.1 6-.1 6 0 6-.1 6-.1 6-.1 6 0 6 0 6-.1 6 0 6 0 6-.1 6 0 6 0 6 0 6-.1 6 0 6-.1 6 0 6 0 6-.1 6-.1 6-.1 6-.1 6-.2 6-.2 6-.3 6-.3 6-.3 6-.1 6-.1 6 .2 6 .6 6 .6 6 .5 6 .6 6 .7 6 .6 6 .5 6 .4 6 0 6-.4 6-.6 6-.5 6-.3 6-.3 6-.2 6-.1 6 .2 6 .2 6 .2 6 .2 6 .2 6 .2 6 0 6-.1 6-.1 6-.1 6-.2 6-.2 6-.1 6-.2 6-.1 6-.2 6-.1 6-.1 6-.1 6-.1 1.5 0"/>
<path d="M765.5 181.8l6 .8 6 .7 6 .7 6 .7 6 .6 6 .6 6 .6 6 .4 6 .4 6 .4 6 .3 6 .3 6 .2 6 .3 6 .3 6 .2 6 .3 6 .2 6 .3 6 .3 6 .4 6 .3 6 .3 6 .3 6 .3 6 .2 6 .3 6 .3 6 .3 6 .3 6 .3 6 .4 6 .3 6 .4 6 .4 6 .3 6 .3 6 .3 6 .1 6 .1 6-.1 6-.1 6-.1 6-.1 6-.1 6 0 6 0 6 0 6 0 6-.1 6-.1 6-.1 6-.4 6-.5 6-.6 6-1.4 6-2 6-1.9 6-1.6 6-1.3 6-1.2 6-.9 6-.6 6-.3 6-.2 6-.1 6-.1 6-.1 6-.2 6-.3 6-.4 6-.3 6-.4 6-.4 6-.3 6-.3 6-.3 6-.3 6-.2 6-.3 6-.2 1.5 0"/>
<path d="M765.5 180.7l6 .4 6 .4 6 .3 6 .3 6 .3 6 .2 6 .2 6 .2 6 .2 6 .1 6 .1 6 0 6 .1 6 0 6 0 6 0 6 .1 6 0 6 0 6 .1 6 .1 6 0 6 .1 6 .2 6 .1 6 .1 6 .1 6 .2 6 .2 6 .1 6 .2 6 .2 6 .2 6 .2 6 .3 6 .2 6 .3 6 .2 6 .2 6 .1 6 0 6 0 6-.1 6-.1 6-.2 6-.1 6-.1 6 .1 6 .3 6 .3 6 .3 6 .3 6 .3 6 .1 6 0 6-.2 6-.7 6-1.2 6-1.4 6-1.1 6-.9 6-.8 6-.6 6-.2 6-.1 6 0 6 0 6 0 6 0 6-.2 6-.2 6-.3 6-.3 6-.2 6-.3 6-.2 6-.2 6-.2 6-.2 6-.1 6-.1 1.5-.1"/>
<path d="M765.5 182.9l6 1.3 6 1.2 6 1.1 6 1.1 6 .9 6 .9 6 .7 6 .6 6 .5 6 .4 6 .3 6 .3 6 .3 6 .3 6 .2 6 .3 6 .3 6 .3 6 .4 6 .4 6 .4 6 .4 6 .5 6 .5 6 .5 6 .5 6 .6 6 .7 6 .6 6 .8 6 .8 6 .9 6 .9 6 .9 6 .9 6 .7 6 .7 6 .5 6 .4 6 .3 6 .3 6 .2 6 .1 6 .1 6 0 6-.1 6-.2 6-.4 6-.5 6-.5 6-.8 6-1 6-1.2 6-1.6 6-2.4 6-2.8 6-2.7 6-2.1 6-2 6-1.8 6-1.5 6-1 6-.7 6-.5 6-.5 6-.4 6-.4 6-.4 6-.4 6-.4 6-.5 6-.4 6-.4 6-.4 6-.3 6-.2 6-.2 6-.2 6-.2 6-.2 6-.2 1.5 0"/>
<path d="M765.5 181.4l6 .6 6 .7 6 .6 6 .7 6 .6 6 .5 6 .5 6 .5 6 .3 6 .3 6 .3 6 .2 6 .1 6 .1 6 .1 6 0 6 0 6 0 6 0 6-.1 6 0 6-.1 6-.1 6 0 6-.1 6-.1 6 0 6 0 6 0 6 0 6 0 6 .1 6 .2 6 .2 6 .3 6 .4 6 .3 6 .4 6 .4 6 .3 6 .3 6 .2 6 .2 6 .2 6 .2 6 .3 6 .2 6 .4 6 .5 6 .4 6 .4 6 .4 6 .3 6 .2 6-.1 6-.3 6-.8 6-1.5 6-1.8 6-1.4 6-1.2 6-1.1 6-.9 6-.6 6-.3 6-.3 6-.2 6-.3 6-.2 6-.4 6-.5 6-.5 6-.5 6-.5 6-.4 6-.4 6-.3 6-.3 6-.3 6-.2 6-.1 1.5-.1"/>
<path d="M765.5 182.9l6 1.1 6 1 6 1 6 1 6 1 6 .8 6 .9 6 .7 6 .7 6 .6 6 .5 6 .5 6 .4 6 .4 6 .4 6 .3 6 .4 6 .3 6 .3 6 .4 6 .3 6 .4 6 .3 6 .3 6 .3 6 .3 6 .3 6 .3 6 .3 6 .4 6 .3 6 .3 6 .4 6 .5 6 .5 6 .6 6 .6 6 .5 6 .6 6 .5 6 .4 6 .4 6 .2 6 .2 6 .1 6 .2 6 .1 6 .1 6 0 6 0 6-.2 6-.2 6-.4 6-.4 6-.7 6-.9 6-1.2 6-2.1 6-2.8 6-2.7 6-2.1 6-2 6-1.7 6-1.3 6-.8 6-.5 6-.5 6-.4 6-.4 6-.5 6-.5 6-.6 6-.6 6-.5 6-.6 6-.5 6-.4 6-.4 6-.3 6-.4 6-.2 1.5-.1"/>
<path d="M765.5 178.2l6-.5 6-.4 6-.5 6-.5 6-.5 6-.4 6-.5 6-.4 6-.4 6-.4 6-.4 6-.4 6-.4 6-.4 6-.4 6-.3 6-.4 6-.4 6-.3 6-.4 6-.3 6-.3 6-.3 6-.2 6-.2 6-.2 6-.1 6-.2 6-.1 6-.1 6-.1 6-.2 6-.1 6-.2 6-.1 6-.2 6-.2 6-.2 6-.3 6-.2 6-.2 6-.3 6-.3 6-.4 6-.5 6-.3 6-.2 6 .2 6 .7 6 1 6 1 6 1 6 1.2 6 1.2 6 1.1 6 1 6 .6 6 .4 6 .2 6 .4 6 .3 6 .4 6 .4 6 .5 6 .5 6 .6 6 .4 6 .5 6 .4 6 .2 6 0 6 .1 6 0 6 0 6 0 6 0 6 0 6 0 6 0 6 0 6 0 1.5 .1"/>
<path d="M765.5 179.4l6-.1 6-.2 6-.2 6-.2 6-.2 6-.2 6-.2 6-.2 6-.2 6-.3 6-.2 6-.2 6-.2 6-.1 6-.2 6-.1 6-.1 6-.1 6 0 6-.1 6 .1 6 0 6 .1 6 .1 6 .1 6 .1 6 .2 6 .1 6 .2 6 .1 6 .2 6 .1 6 .1 6 0 6 .1 6 0 6-.1 6-.1 6-.1 6-.2 6-.3 6-.4 6-.4 6-.4 6-.4 6-.1 6 .2 6 .4 6 .5 6 .4 6 .6 6 .6 6 .5 6 .4 6 .2 6-.3 6-.5 6-.6 6-.3 6-.2 6-.2 6-.1 6 .2 6 .3 6 .3 6 .3 6 .3 6 .3 6 .2 6 0 6 0 6 0 6-.1 6 0 6 0 6-.1 6 0 6 0 6-.1 6 0 6-.1 1.5 0"/>
<path d="M765.5 181.8l6 .7 6 .6 6 .7 6 .6 6 .6 6 .5 6 .5 6 .5 6 .4 6 .4 6 .3 6 .3 6 .2 6 .2 6 .3 6 .2 6 .2 6 .2 6 .2 6 .2 6 .3 6 .2 6 .2 6 .3 6 .2 6 .2 6 .2 6 .2 6 .3 6 .2 6 .2 6 .2 6 .3 6 .3 6 .3 6 .4 6 .3 6 .4 6 .3 6 .3 6 .1 6 .1 6 .1 6-.1 6 0 6-.1 6 0 6 0 6 .1 6 .1 6 .1 6-.1 6 .1 6-.1 6-.3 6-.5 6-.8 6-1.5 6-2.1 6-1.9 6-1.4 6-1.3 6-1.2 6-.7 6-.4 6-.2 6-.2 6-.1 6-.2 6-.3 6-.3 6-.4 6-.5 6-.4 6-.4 6-.3 6-.3 6-.3 6-.3 6-.3 6-.2 1.5 0"/>
<path d="M765.5 179.9l6 0 6 0 6 0 6 0 6 0 6 0 6-.1 6 0 6 0 6 0 6 0 6 0 6 0 6 0 6 0 6 0 6 .1 6 0 6 .1 6 0 6 .1 6 .1 6 .1 6 .2 6 .1 6 .1 6 .1 6 .1 6 .1 6 .1 6 0 6 .1 6 0 6 0 6-.1 6 0 6-.1 6 0 6-.2 6-.1 6-.2 6-.3 6-.3 6-.4 6-.5 6-.4 6-.4 6-.3 6-.2 6 .3 6 .4 6 .4 6 .5 6 .6 6 .5 6 .4 6 .3 6-.2 6-.6 6-.8 6-.5 6-.4 6-.2 6-.1 6 .2 6 .3 6 .3 6 .3 6 .3 6 .1 6 0 6-.1 6-.1 6-.1 6-.2 6-.2 6-.1 6-.2 6-.1 6-.2 6-.2 1.5 0"/>
<path d="M765.5 176.9l6-1.2 6-1.2 6-1.2 6-1.2 6-1 6-1 6-1 6-.8 6-.7 6-.7 6-.6 6-.6 6-.5 6-.5 6-.4 6-.5 6-.3 6-.4 6-.3 6-.3 6-.3 6-.1 6-.2 6-.2 6-.1 6-.2 6-.2 6-.2 6-.3 6-.4 6-.5 6-.5 6-.6 6-.5 6-.7 6-.6 6-.6 6-.6 6-.7 6-.8 6-.8 6-.7 6-.5 6-.1 6 .6 6 1 6 1.1 6 1.1 6 1.4 6 1.4 6 1.5 6 1.3 6 1.3 6 1 6 1.1 6 1 6 1 6 .9 6 .9 6 .9 6 1 6 .9 6 .9 6 .8 6 .7 6 .8 6 .7 6 .5 6 .3 6 .3 6 .3 6 .3 6 .2 6 .2 6 .2 6 .1 6 .1 6 .1 6 .1 6 .1 6 0 1.5 0"/>
<path d="M765.5 182.3l6 1.1 6 1 6 1.1 6 .9 6 1 6 .8 6 .8 6 .6 6 .6 6 .4 6 .4 6 .4 6 .3 6 .3 6 .2 6 .2 6 .2 6 .2 6 .2 6 .2 6 .1 6 .1 6 .2 6 .1 6 .1 6 .1 6 .2 6 .1 6 .2 6 .3 6 .3 6 .4 6 .5 6 .4 6 .5 6 .4 6 .4 6 .3 6 .2 6 .2 6 .2 6 .2 6 .2 6 .2 6 .2 6 .3 6 .2 6 .1 6 0 6 .1 6-.2 6-.3 6-.5 6-.8 6-1.6 6-2 6-2.1 6-1.7 6-1.5 6-1.3 6-1.2 6-.7 6-.5 6-.5 6-.3 6-.4 6-.3 6-.4 6-.5 6-.5 6-.5 6-.6 6-.5 6-.5 6-.4 6-.4 6-.4 6-.3 6-.3 6-.2 6-.2 1.5 0"/>
<path d="M765.5 177.7l6-.9 6-.8 6-.8 6-.7 6-.7 6-.7 6-.6 6-.6 6-.5 6-.5 6-.4 6-.3 6-.4 6-.3 6-.3 6-.2 6-.3 6-.2 6-.3 6-.2 6-.2 6-.2 6-.1 6-.2 6-.1 6-.1 6-.2 6-.2 6-.2 6-.3 6-.3 6-.3 6-.5 6-.5 6-.5 6-.6 6-.5 6-.7 6-.6 6-.6 6-.6 6-.8 6-.7 6-.8 6-.6 6-.3 6 .2 6 .7 6 1 6 1 6 1.2 6 1.3 6 1.4 6 1.3 6 1.2 6 .9 6 .8 6 .8 6 .7 6 .8 6 .8 6 .8 6 .9 6 .8 6 .8 6 .8 6 .7 6 .7 6 .5 6 .2 6 .2 6 .2 6 .2 6 0 6 .1 6 0 6 0 6 0 6 0 6 0 6-.1 1.5 0"/>
<path d="M765.5 180.2l6 .1 6 .2 6 .2 6 .2 6 .2 6 .2 6 .3 6 .2 6 .2 6 .2 6 .1 6 .2 6 .2 6 .1 6 .1 6 .1 6 0 6 0 6 .1 6-.1 6 0 6-.1 6-.1 6-.1 6-.1 6-.2 6-.2 6-.2 6-.3 6-.2 6-.3 6-.2 6-.3 6-.2 6-.2 6-.3 6-.2 6-.2 6-.2 6-.2 6-.2 6-.3 6-.2 6-.3 6-.2 6-.1 6 .1 6 .3 6 .7 6 .6 6 .7 6 .8 6 .7 6 .7 6 .6 6 .3 6-.2 6-.6 6-.7 6-.4 6-.3 6-.3 6-.1 6 .1 6 .2 6 .2 6 .2 6 .2 6 0 6-.1 6-.3 6-.3 6-.3 6-.4 6-.3 6-.3 6-.3 6-.3 6-.3 6-.2 6-.2 1.5-.1"/>
<path d="M765.5 179.8l6 0 6 0 6 0 6 0 6-.1 6 0 6 0 6 0 6 0 6-.1 6 0 6-.1 6 0 6-.1 6 0 6-.1 6 0 6 0 6-.1 6 0 6 0 6 0 6 0 6 0 6 0 6 0 6 0 6 0 6 0 6 0 6 0 6 0 6 0 6 0 6 0 6-.1 6 0 6-.1 6-.1 6-.1 6-.2 6-.2 6-.3 6-.3 6-.4 6-.3 6-.2 6-.1 6 .2 6 .5 6 .6 6 .5 6 .7 6 .6 6 .6 6 .4 6 .2 6-.4 6-.7 6-.6 6-.3 6-.3 6-.2 6 0 6 .3 6 .2 6 .3 6 .3 6 .2 6 0 6-.1 6-.1 6-.1 6-.2 6-.2 6-.2 6-.1 6-.2 6-.1 6-.2 6-.1 1.5 0"/>
<path d="M765.5 177.6l6-.8 6-.7 6-.7 6-.7 6-.6 6-.6 6-.5 6-.5 6-.5 6-.4 6-.4 6-.4 6-.4 6-.4 6-.4 6-.4 6-.4 6-.5 6-.4 6-.5 6-.5 6-.5 6-.4 6-.5 6-.4 6-.5 6-.4 6-.5 6-.5 6-.5 6-.5 6-.5 6-.6 6-.5 6-.6 6-.6 6-.5 6-.5 6-.5 6-.4 6-.4 6-.5 6-.5 6-.4 6-.2 6 .1 6 .7 6 1.2 6 1.3 6 1.4 6 1.5 6 1.7 6 1.7 6 1.5 6 1.4 6 1.2 6 .9 6 .9 6 .9 6 .8 6 .8 6 .8 6 .8 6 .7 6 .7 6 .6 6 .6 6 .4 6 .3 6 .1 6 0 6 0 6 0 6 0 6-.1 6-.1 6 0 6-.1 6 0 6 0 6 0 1.5 0"/>
<path d="M765.5 180.4l6 .2 6 .1 6 .2 6 .1 6 .1 6 .1 6 .2 6 .1 6 .1 6 .2 6 .1 6 .1 6 .2 6 .2 6 .2 6 .2 6 .2 6 .2 6 .2 6 .3 6 .2 6 .3 6 .2 6 .3 6 .2 6 .2 6 .2 6 .2 6 .1 6 .1 6 0 6 0 6 0 6 0 6 0 6-.1 6-.1 6-.2 6-.2 6-.3 6-.3 6-.4 6-.5 6-.5 6-.5 6-.4 6-.4 6-.2 6 .2 6 .2 6 .2 6 .3 6 .4 6 .3 6 .2 6 0 6-.3 6-.9 6-1 6-.8 6-.5 6-.5 6-.2 6 0 6 .2 6 .3 6 .3 6 .3 6 .2 6 0 6-.1 6-.1 6-.1 6-.2 6-.3 6-.2 6-.2 6-.2 6-.3 6-.2 6-.2 1.5-.1"/>
<path d="M765.5 179.7l6 0 6 .1 6 0 6 0 6 0 6 0 6 0 6 0 6-.1 6-.1 6-.1 6-.1 6-.1 6-.2 6-.1 6-.2 6-.2 6-.1 6-.2 6-.2 6-.1 6-.1 6-.2 6-.1 6-.1 6-.1 6-.1 6-.1 6-.1 6-.1 6 0 6-.1 6 0 6 0 6-.1 6 0 6-.1 6-.1 6-.1 6-.2 6-.2 6-.1 6 0 6 .1 6 .5 6 .7 6 .8 6 .6 6 .8 6 .8 6 .7 6 .6 6 .3 6 0 6-.5 6-.5 6-.5 6-.2 6-.3 6-.2 6-.1 6 .1 6 .1 6 .2 6 .1 6 .1 6 .1 6-.1 6-.1 6-.2 6-.2 6-.2 6-.2 6-.2 6-.2 6-.2 6-.1 6-.1 6-.1 6 0 6-.1 1.5 0"/>
<path d="M765.5 178.5l6-.4 6-.5 6-.4 6-.4 6-.4 6-.4 6-.4 6-.3 6-.3 6-.3 6-.2 6-.3 6-.2 6-.2 6-.2 6-.2 6-.2 6-.1 6-.2 6-.2 6-.1 6-.2 6-.1 6-.1 6-.2 6-.1 6-.1 6-.1 6-.1 6-.2 6-.2 6-.2 6-.2 6-.3 6-.3 6-.3 6-.4 6-.3 6-.4 6-.4 6-.4 6-.5 6-.5 6-.6 6-.5 6-.5 6-.3 6 0 6 .6 6 .8 6 .9 6 .9 6 1.1 6 1.1 6 1.1 6 .9 6 .6 6 .4 6 .2 6 .2 6 .4 6 .4 6 .4 6 .6 6 .6 6 .6 6 .5 6 .6 6 .4 6 .2 6 .1 6 0 6 .1 6-.1 6 0 6-.1 6 0 6-.1 6-.1 6-.1 6 0 1.5 0"/>
<path d="M765.5 176.6l6-1.3 6-1.2 6-1.2 6-1.2 6-1.1 6-1 6-1 6-.8 6-.8 6-.7 6-.6 6-.6 6-.5 6-.5 6-.5 6-.5 6-.4 6-.4 6-.5 6-.4 6-.3 6-.3 6-.3 6-.3 6-.3 6-.3 6-.3 6-.3 6-.4 6-.4 6-.6 6-.6 6-.6 6-.7 6-.8 6-.7 6-.8 6-.7 6-.7 6-.7 6-.9 6-.8 6-.8 6-.5 6-.1 6 .5 6 1.2 6 1.2 6 1.3 6 1.5 6 1.7 6 1.8 6 1.6 6 1.5 6 1.5 6 1.3 6 1.4 6 1.2 6 1.3 6 1.1 6 1.2 6 1.1 6 1 6 1 6 .9 6 .9 6 .8 6 .6 6 .5 6 .3 6 .3 6 .3 6 .2 6 .2 6 .1 6 .2 6 .1 6 0 6 .1 6 .1 6 0 1.5 0"/>
<path d="M765.5 180.8l6 .3 6 .3 6 .3 6 .3 6 .2 6 .3 6 .2 6 .2 6 .1 6 .1 6 .1 6 .1 6 .1 6 .1 6 .1 6 .1 6 .1 6 .1 6 .1 6 .1 6 .2 6 .2 6 .2 6 .1 6 .2 6 .2 6 .2 6 .2 6 .2 6 .2 6 .2 6 .2 6 .2 6 .2 6 .2 6 .2 6 .1 6 .2 6 .1 6 0 6 0 6-.1 6-.2 6-.2 6-.3 6-.2 6-.2 6-.1 6 .1 6 .3 6 .2 6 .2 6 .2 6 .2 6 0 6-.1 6-.5 6-1.2 6-1.4 6-1.2 6-.8 6-.8 6-.7 6-.3 6 0 6 0 6 .1 6 .1 6 .1 6-.1 6-.2 6-.2 6-.3 6-.2 6-.3 6-.2 6-.2 6-.2 6-.2 6-.2 6-.1 1.5-.1"/>
<path d="M765.5 177.6l6-1 6-1 6-1 6-.9 6-.8 6-.8 6-.7 6-.6 6-.6 6-.4 6-.5 6-.3 6-.4 6-.3 6-.3 6-.2 6-.3 6-.2 6-.2 6-.2 6-.1 6-.1 6-.1 6-.1 6-.2 6-.2 6-.2 6-.3 6-.4 6-.5 6-.5 6-.5 6-.6 6-.6 6-.6 6-.6 6-.7 6-.7 6-.8 6-.8 6-.7 6-.4 6 0 6 .6 6 .9 6 .9 6 1 6 1.2 6 1.2 6 1.2 6 1.2 6 .9 6 .8 6 .7 6 .7 6 .7 6 .7 6 .7 6 .7 6 .8 6 .8 6 .8 6 .7 6 .7 6 .7 6 .6 6 .5 6 .3 6 .2 6 .2 6 .2 6 .2 6 .1 6 .1 6 .1 6 0 6 0 6 0 6 0 6 0 6-.1 1.5 0"/>
<path d="M765.5 178.4l6-.5 6-.5 6-.4 6-.5 6-.4 6-.4 6-.4 6-.4 6-.3 6-.3 6-.3 6-.3 6-.2 6-.3 6-.2 6-.3 6-.2 6-.2 6-.2 6-.2 6-.2 6-.2 6-.2 6-.1 6-.2 6-.1 6-.2 6-.1 6-.1 6-.2 6-.2 6-.2 6-.2 6-.3 6-.3 6-.3 6-.3 6-.4 6-.4 6-.3 6-.4 6-.5 6-.4 6-.6 6-.5 6-.5 6-.3 6 .1 6 .5 6 .9 6 .9 6 1 6 1.1 6 1.2 6 1.1 6 1 6 .7 6 .3 6 .3 6 .3 6 .5 6 .4 6 .4 6 .6 6 .6 6 .6 6 .6 6 .5 6 .4 6 .3 6 0 6 .1 6 0 6 0 6 0 6-.1 6 0 6-.1 6 0 6-.1 6 0 1.5 0"/>
<path d="M765.5 178.9l6-.5 6-.4 6-.4 6-.5 6-.4 6-.3 6-.4 6-.3 6-.3 6-.3 6-.3 6-.2 6-.2 6-.2 6-.2 6-.1 6-.2 6-.1 6 0 6-.1 6 0 6 0 6 0 6 0 6 0 6 0 6 0 6-.1 6-.1 6-.1 6-.2 6-.2 6-.2 6-.2 6-.3 6-.3 6-.4 6-.5 6-.5 6-.4 6-.4 6-.1 6 .3 6 .6 6 .7 6 .6 6 .8 6 .8 6 .8 6 .6 6 .5 6 .2 6 0 6-.2 6-.1 6 .1 6 0 6 .1 6 .2 6 .3 6 .4 6 .4 6 .4 6 .4 6 .4 6 .3 6 .1 6 .1 6 .1 6 0 6 .1 6 0 6 0 6 0 6 0 6 0 6-.1 6 0 6 0 6-.1 6 0 1.5 0"/>
<path d="M765.5 180.4l6 .1 6 .2 6 .2 6 .1 6 .1 6 .2 6 .1 6 .1 6 .1 6 0 6 .1 6 0 6 .1 6 0 6 .1 6 .1 6 .1 6 .1 6 .1 6 .1 6 .2 6 .1 6 .2 6 .1 6 .2 6 .1 6 .2 6 .1 6 .2 6 .1 6 .1 6 .1 6 .1 6 0 6 .1 6 .1 6 0 6-.1 6 0 6-.2 6-.2 6-.2 6-.4 6-.3 6-.4 6-.3 6-.1 6 0 6 .3 6 .3 6 .3 6 .4 6 .3 6 .3 6 .1 6 0 6-.7 6-1 6-1 6-.7 6-.6 6-.4 6-.3 6 0 6 .2 6 .1 6 .2 6 .2 6 .1 6 0 6-.1 6-.2 6-.2 6-.2 6-.2 6-.2 6-.1 6-.2 6-.2 6-.2 6-.1 1.5-.1"/>
<path d="M765.5 180.7l6 .4 6 .4 6 .4 6 .3 6 .3 6 .3 6 .3 6 .2 6 .1 6 .2 6 .1 6 .1 6 .1 6 0 6 .1 6 .1 6 .1 6 .1 6 .1 6 .1 6 .1 6 .1 6 .1 6 .1 6 .1 6 .1 6 .2 6 .1 6 .1 6 .1 6 .2 6 .1 6 .2 6 .1 6 .1 6 .1 6 0 6 0 6-.1 6-.2 6-.2 6-.2 6-.1 6 0 6 .1 6 .4 6 .3 6 .3 6 .3 6 .3 6 .2 6 .1 6-.1 6-.5 6-1.1 6-1.2 6-1.1 6-.7 6-.7 6-.6 6-.4 6-.1 6-.1 6 .1 6 0 6 0 6 .1 6-.1 6-.2 6-.2 6-.3 6-.2 6-.3 6-.2 6-.3 6-.2 6-.2 6-.2 6-.1 6-.2 6-.1 1.5-.1"/>
<path d="M765.5 182.6l6 1.2 6 1.2 6 1.2 6 1 6 1.1 6 .9 6 .9 6 .7 6 .6 6 .6 6 .4 6 .4 6 .4 6 .3 6 .2 6 .2 6 .3 6 .1 6 .2 6 .2 6 .2 6 .1 6 .1 6 .1 6 .1 6 .2 6 .1 6 .2 6 .2 6 .2 6 .3 6 .5 6 .5 6 .5 6 .5 6 .6 6 .5 6 .5 6 .4 6 .4 6 .3 6 .3 6 .3 6 .3 6 .3 6 .3 6 .2 6 .2 6 0 6 0 6 0 6-.3 6-.5 6-.7 6-1.2 6-2 6-2.4 6-2.3 6-1.7 6-1.7 6-1.5 6-1.2 6-.8 6-.6 6-.5 6-.4 6-.5 6-.4 6-.6 6-.6 6-.6 6-.6 6-.6 6-.5 6-.6 6-.4 6-.4 6-.3 6-.3 6-.3 6-.2 1.5 0"/>
<path d="M765.5 182.2l6 1 6 1 6 .9 6 1 6 .8 6 .9 6 .7 6 .6 6 .6 6 .5 6 .5 6 .4 6 .4 6 .4 6 .3 6 .4 6 .3 6 .3 6 .3 6 .3 6 .2 6 .3 6 .1 6 .2 6 .1 6 .2 6 .1 6 .1 6 .2 6 .2 6 .2 6 .3 6 .2 6 .2 6 .2 6 .1 6 0 6 0 6-.1 6-.1 6 0 6-.1 6 0 6 .1 6 .1 6 .1 6 0 6 0 6 0 6-.1 6-.3 6-.4 6-.7 6-1.5 6-1.9 6-1.8 6-1.3 6-1.2 6-1.1 6-.8 6-.6 6-.2 6-.2 6-.2 6-.2 6-.1 6-.3 6-.3 6-.4 6-.4 6-.5 6-.4 6-.5 6-.5 6-.4 6-.4 6-.4 6-.3 6-.3 6-.3 6-.3 1.5 0"/>
<path d="M765.5 182.5l6 1.3 6 1.2 6 1.1 6 1 6 .9 6 .8 6 .6 6 .5 6 .4 6 .4 6 .3 6 .2 6 .2 6 .2 6 .3 6 .2 6 .3 6 .3 6 .4 6 .3 6 .4 6 .3 6 .5 6 .4 6 .5 6 .5 6 .6 6 .7 6 .8 6 .8 6 .8 6 .8 6 .8 6 .7 6 .6 6 .4 6 .4 6 .3 6 .2 6 .3 6 .2 6 .1 6 .1 6 0 6-.2 6-.2 6-.3 6-.4 6-.6 6-.9 6-1 6-1.6 6-2.2 6-2.5 6-2.3 6-1.8 6-1.7 6-1.6 6-1.3 6-.9 6-.6 6-.5 6-.5 6-.4 6-.3 6-.4 6-.3 6-.4 6-.4 6-.4 6-.4 6-.3 6-.4 6-.2 6-.2 6-.2 6-.2 6-.2 6-.1 6-.2 6-.1 1.5 0"/>
<path d="M765.5 178.2l6-.6 6-.5 6-.5 6-.5 6-.4 6-.4 6-.4 6-.3 6-.3 6-.3 6-.2 6-.2 6-.2 6-.2 6-.2 6-.1 6-.2 6-.2 6-.1 6-.2 6-.2 6-.2 6-.3 6-.2 6-.2 6-.3 6-.2 6-.3 6-.3 6-.3 6-.3 6-.3 6-.4 6-.4 6-.4 6-.5 6-.5 6-.6 6-.5 6-.6 6-.5 6-.6 6-.5 6-.6 6-.5 6-.7 6-.6 6-.4 6-.2 6 .3 6 .8 6 1.1 6 1.1 6 1.3 6 1.5 6 1.4 6 1.3 6 1.1 6 .8 6 .6 6 .6 6 .7 6 .6 6 .7 6 .8 6 .8 6 .8 6 .6 6 .7 6 .4 6 .2 6 .1 6 .1 6-.1 6 0 6-.1 6-.1 6-.1 6-.1 6-.1 6-.1 1.5 0"/>
<path d="M765.5 181.3l6 .7 6 .6 6 .6 6 .6 6 .4 6 .5 6 .3 6 .2 6 .2 6 .2 6 .1 6 0 6 .1 6 0 6 .1 6 .1 6 .1 6 .1 6 .2 6 .1 6 .2 6 .3 6 .2 6 .3 6 .2 6 .4 6 .3 6 .4 6 .4 6 .4 6 .5 6 .5 6 .5 6 .5 6 .4 6 .4 6 .3 6 .1 6 .1 6 .1 6 0 6 0 6 0 6 .1 6 .2 6 .2 6 .1 6 .1 6 0 6-.1 6-.2 6-.5 6-.7 6-1.3 6-1.8 6-1.7 6-1.3 6-1.2 6-1.1 6-.9 6-.6 6-.3 6-.3 6-.2 6-.1 6-.2 6-.1 6-.2 6-.3 6-.3 6-.3 6-.2 6-.3 6-.2 6-.2 6-.1 6-.2 6-.1 6-.1 6-.1 6-.1 1.5-.1"/>
<path d="M765.5 181.9l6 .9 6 .8 6 .7 6 .8 6 .6 6 .7 6 .5 6 .5 6 .5 6 .3 6 .3 6 .3 6 .2 6 .2 6 .3 6 .1 6 .2 6 .2 6 .3 6 .2 6 .2 6 .3 6 .2 6 .2 6 .2 6 .3 6 .2 6 .3 6 .2 6 .3 6 .3 6 .4 6 .4 6 .5 6 .4 6 .5 6 .4 6 .3 6 .3 6 .3 6 .1 6 0 6 .1 6 0 6 0 6 .1 6 0 6 .2 6 0 6 0 6 0 6-.1 6-.3 6-.4 6-.7 6-1.1 6-1.9 6-2.1 6-1.8 6-1.5 6-1.3 6-1.2 6-.7 6-.5 6-.3 6-.2 6-.2 6-.3 6-.2 6-.4 6-.4 6-.4 6-.5 6-.4 6-.3 6-.4 6-.3 6-.2 6-.3 6-.2 6-.2 1.5 0"/>
<path d="M765.5 182.5l6 .9 6 1 6 .9 6 .9 6 .8 6 .8 6 .7 6 .7 6 .6 6 .5 6 .5 6 .4 6 .3 6 .2 6 .3 6 .2 6 .1 6 .2 6 .1 6 .1 6 .1 6 .1 6 .1 6 .1 6 .1 6 .1 6 .1 6 .2 6 .1 6 .2 6 .2 6 .2 6 .3 6 .3 6 .4 6 .6 6 .5 6 .7 6 .6 6 .6 6 .6 6 .6 6 .4 6 .4 6 .3 6 .3 6 .3 6 .3 6 .3 6 .2 6 .2 6 .1 6 0 6-.1 6-.3 6-.5 6-.7 6-1.2 6-2.2 6-2.6 6-2.4 6-1.9 6-1.8 6-1.5 6-1 6-.6 6-.6 6-.4 6-.5 6-.4 6-.6 6-.6 6-.7 6-.6 6-.5 6-.5 6-.5 6-.3 6-.4 6-.2 6-.3 1.5 0"/>
<path d="M765.5 177.5l6-.9 6-.9 6-.8 6-.8 6-.7 6-.7 6-.6 6-.5 6-.5 6-.4 6-.3 6-.3 6-.3 6-.3 6-.2 6-.3 6-.2 6-.2 6-.3 6-.2 6-.2 6-.3 6-.2 6-.2 6-.3 6-.3 6-.3 6-.3 6-.4 6-.4 6-.5 6-.6 6-.7 6-.6 6-.8 6-.7 6-.8 6-.7 6-.8 6-.7 6-.7 6-.9 6-.8 6-.7 6-.5 6-.1 6 .5 6 .9 6 1.2 6 1.1 6 1.4 6 1.5 6 1.6 6 1.4 6 1.3 6 1.1 6 1 6 1 6 1 6 .9 6 1 6 .9 6 1 6 1 6 .8 6 .8 6 .8 6 .7 6 .4 6 .2 6 .2 6 .1 6 .1 6 .1 6 0 6 0 6-.1 6 0 6-.1 6-.1 6 0 1.5-.1"/>
<path d="M765.5 177.3l6-1 6-1 6-1 6-.9 6-.8 6-.8 6-.7 6-.6 6-.6 6-.5 6-.5 6-.4 6-.4 6-.3 6-.4 6-.3 6-.4 6-.3 6-.4 6-.3 6-.2 6-.3 6-.3 6-.2 6-.3 6-.3 6-.4 6-.4 6-.4 6-.5 6-.6 6-.6 6-.7 6-.6 6-.7 6-.7 6-.6 6-.6 6-.7 6-.8 6-.8 6-.6 6-.4 6 0 6 .7 6 1.1 6 1.1 6 1.2 6 1.4 6 1.5 6 1.5 6 1.4 6 1.2 6 1.1 6 1 6 .9 6 .9 6 1 6 .8 6 .9 6 .9 6 .9 6 .8 6 .7 6 .7 6 .7 6 .6 6 .3 6 .3 6 .2 6 .1 6 .1 6 .1 6 .1 6 0 6 0 6 .1 6 0 6 0 6-.1 6 0 1.5 0"/>
<path d="M765.5 178.6l6-.5 6-.5 6-.5 6-.4 6-.4 6-.4 6-.4 6-.3 6-.3 6-.2 6-.3 6-.2 6-.2 6-.2 6-.2 6-.2 6-.2 6-.2 6-.1 6-.2 6-.1 6-.1 6-.1 6-.1 6-.2 6-.2 6-.2 6-.2 6-.3 6-.3 6-.3 6-.4 6-.4 6-.3 6-.5 6-.4 6-.4 6-.6 6-.5 6-.5 6-.4 6-.1 6 .4 6 .7 6 .8 6 .8 6 .9 6 1 6 1 6 .9 6 .8 6 .5 6 .2 6 .1 6 .1 6 .3 6 .3 6 .2 6 .4 6 .4 6 .5 6 .5 6 .4 6 .5 6 .4 6 .3 6 .2 6 .1 6 0 6 0 6 0 6 0 6 0 6-.1 6-.1 6 0 6-.1 6 0 6-.1 6-.1 6 0 1.5 0"/>
<path d="M765.5 181.2l6 .4 6 .5 6 .4 6 .5 6 .4 6 .4 6 .4 6 .3 6 .3 6 .3 6 .2 6 .3 6 .2 6 .3 6 .2 6 .3 6 .3 6 .3 6 .3 6 .3 6 .3 6 .3 6 .2 6 .3 6 .2 6 .3 6 .2 6 .1 6 .2 6 .1 6 .2 6 .1 6 .1 6 .2 6 0 6 .1 6-.1 6-.1 6-.1 6-.3 6-.3 6-.4 6-.3 6-.3 6-.2 6-.1 6 .1 6 .1 6 0 6 .1 6 .1 6 0 6-.1 6-.2 6-.6 6-1.2 6-1.5 6-1.3 6-.8 6-.9 6-.6 6-.4 6-.1 6 0 6 .1 6 .1 6 .1 6 .1 6-.1 6-.2 6-.2 6-.3 6-.3 6-.2 6-.3 6-.3 6-.3 6-.2 6-.3 6-.3 6-.2 1.5-.1"/>
<path d="M765.5 181.4l6 .8 6 .7 6 .6 6 .6 6 .6 6 .5 6 .4 6 .3 6 .2 6 .2 6 .1 6 .1 6 .1 6 0 6 0 6 0 6 0 6 .1 6 0 6 .1 6 .1 6 .1 6 .1 6 .1 6 .2 6 .1 6 .3 6 .2 6 .3 6 .3 6 .5 6 .4 6 .5 6 .5 6 .5 6 .5 6 .4 6 .3 6 .3 6 .2 6 .1 6 .2 6 .1 6 .2 6 .2 6 .4 6 .3 6 .2 6 .1 6 .2 6 0 6-.2 6-.3 6-.7 6-1.4 6-1.8 6-1.7 6-1.3 6-1.3 6-1.1 6-1 6-.5 6-.4 6-.3 6-.3 6-.2 6-.2 6-.3 6-.4 6-.4 6-.3 6-.4 6-.4 6-.3 6-.2 6-.3 6-.1 6-.2 6-.1 6-.1 6-.1 1.5 0"/>
<path d="M765.5 181.1l6 .5 6 .5 6 .5 6 .4 6 .4 6 .3 6 .4 6 .2 6 .2 6 .2 6 .2 6 .3 6 .2 6 .2 6 .3 6 .2 6 .3 6 .3 6 .4 6 .3 6 .3 6 .4 6 .3 6 .3 6 .3 6 .3 6 .3 6 .3 6 .3 6 .2 6 .3 6 .2 6 .1 6 .1 6 0 6-.2 6-.2 6-.3 6-.4 6-.3 6-.3 6-.2 6 0 6 0 6 0 6 0 6 0 6 0 6-.2 6-.2 6-.5 6-.8 6-1.4 6-1.4 6-1.3 6-.8 6-.9 6-.7 6-.4 6-.2 6 0 6 .1 6 .1 6 .1 6 .1 6 .1 6 0 6-.1 6-.2 6-.1 6-.2 6-.2 6-.1 6-.2 6-.2 6-.2 6-.2 6-.2 6-.2 6-.2 6-.2 1.5-.1"/>
<path d="M765.5 180l6 .1 6 .1 6 .1 6 .1 6 0 6 .1 6 .1 6 .1 6 0 6 .1 6 0 6 .1 6 0 6 .1 6 0 6 .1 6 0 6 .1 6 .1 6 0 6 .1 6 0 6 0 6 0 6 0 6 0 6-.1 6 0 6-.1 6-.1 6-.1 6-.1 6-.2 6-.2 6-.2 6-.3 6-.3 6-.4 6-.4 6-.4 6-.4 6-.2 6-.1 6 .3 6 .4 6 .5 6 .4 6 .6 6 .6 6 .5 6 .3 6 .3 6-.3 6-.5 6-.7 6-.4 6-.3 6-.2 6-.2 6 0 6 .2 6 .3 6 .2 6 .3 6 .2 6 .2 6 .1 6 0 6-.1 6-.2 6-.1 6-.2 6-.2 6-.2 6-.2 6-.2 6-.2 6-.2 6-.2 6-.1 6-.2 1.5 0"/>
<path d="M765.5 182l6 .7 6 .7 6 .7 6 .6 6 .7 6 .6 6 .5 6 .5 6 .5 6 .4 6 .3 6 .4 6 .3 6 .2 6 .3 6 .3 6 .2 6 .3 6 .2 6 .3 6 .2 6 .3 6 .3 6 .3 6 .2 6 .3 6 .2 6 .3 6 .2 6 .2 6 .3 6 .2 6 .3 6 .3 6 .3 6 .4 6 .3 6 .4 6 .4 6 .3 6 .3 6 .1 6 .1 6 0 6 0 6 0 6-.1 6 0 6 0 6 .1 6 0 6 0 6-.1 6-.1 6-.2 6-.5 6-.6 6-1.3 6-2 6-2.2 6-1.8 6-1.5 6-1.4 6-1 6-.6 6-.3 6-.3 6-.1 6-.2 6-.3 6-.3 6-.5 6-.4 6-.5 6-.4 6-.4 6-.3 6-.4 6-.3 6-.2 6-.3 1.5 0"/>
</g>
<g fill="none" stroke="#ff0000" stroke-width="1.6" stroke-linejoin="round" >
<path d="M765.5 184.7l6 1.2 6 1.1 6 1.2 6 1.2 6 1.2 6 1.1 6 1.2 6 1.1 6 1.2 6 1.1 6 1.2 6 1.2 6 1.3 6 1.3 6 1.3 6 1.3 6 1.3 6 1.3 6 1.2 6 1.3 6 1.2 6 1.2 6 1.2 6 1.2 6 1.2 6 1 6 .9 6 .8 6 .8 6 .7 6 .6 6 .4 6 .5 6 .3 6 .4 6 .2 6 0 6-.3 6-.5 6-.4 6-.4 6-.5 6-.5 6-.6 6-.7 6-.8 6-1.1 6-1.3 6-1.5 6-1.6 6-2.1 6-2.3 6-2.4 6-2.3 6-2.4 6-2.6 6-2.4 6-2.1 6-2 6-1.8 6-1.6 6-1 6-.8 6-.6 6-.4 6-.5 6-.4 6-.4 6-.5 6-.5 6-.5 6-.5 6-.5 6-.4 6-.4 6-.3 6-.3 6-.3 6-.2 6-.3 6-.2 1.5 0"/>
<path d="M765.5 183.5l6 1.3 6 1.2 6 1.3 6 1.1 6 1.2 6 1 6 1 6 1 6 .8 6 .8 6 .7 6 .7 6 .7 6 .7 6 .7 6 .6 6 .6 6 .7 6 .6 6 .6 6 .6 6 .6 6 .6 6 .5 6 .6 6 .4 6 .5 6 .4 6 .5 6 .5 6 .5 6 .5 6 .5 6 .5 6 .5 6 .4 6 .3 6 .1 6 0 6 0 6 0 6 0 6 0 6-.1 6-.2 6-.2 6-.4 6-.5 6-.6 6-.7 6-.9 6-1.2 6-1.3 6-1.4 6-2.2 6-2.5 6-2.5 6-2 6-1.8 6-1.7 6-1.4 6-.9 6-.7 6-.5 6-.4 6-.4 6-.4 6-.4 6-.5 6-.5 6-.6 6-.5 6-.6 6-.5 6-.4 6-.4 6-.4 6-.3 6-.3 6-.3 6-.2 1.5-.1"/>
<path d="M765.5 184.3l6 1.2 6 1.2 6 1.1 6 1.2 6 1.2 6 1.1 6 1.2 6 1.1 6 1.1 6 1.1 6 1.1 6 1.1 6 1.1 6 1.2 6 1.2 6 1.1 6 1.1 6 1.1 6 1.1 6 1.1 6 1 6 .9 6 1 6 1 6 .9 6 .8 6 .6 6 .6 6 .6 6 .5 6 .5 6 .3 6 .3 6 .3 6 .3 6 .2 6 0 6-.2 6-.3 6-.4 6-.4 6-.4 6-.4 6-.4 6-.5 6-.6 6-.7 6-1 6-1 6-1.2 6-1.5 6-1.8 6-1.9 6-1.9 6-2.1 6-2.4 6-2.4 6-2.2 6-1.8 6-1.7 6-1.5 6-1.2 6-.6 6-.6 6-.4 6-.4 6-.4 6-.4 6-.4 6-.6 6-.5 6-.6 6-.5 6-.5 6-.5 6-.4 6-.4 6-.4 6-.3 6-.3 6-.2 1.5-.1"/>
<path d="M765.5 184.8l6 1 6 1 6 1 6 1 6 1 6 1.1 6 1 6 1 6 1.1 6 1 6 1.1 6 1.1 6 1.2 6 1.2 6 1.3 6 1.4 6 1.3 6 1.4 6 1.3 6 1.3 6 1.3 6 1.3 6 1.2 6 1.3 6 1.3 6 1.3 6 1.2 6 1.1 6 .9 6 .9 6 .8 6 .7 6 .6 6 .4 6 .4 6 .3 6 .3 6 .2 6-.1 6-.3 6-.5 6-.6 6-.7 6-.6 6-.6 6-.8 6-.8 6-1 6-1.1 6-1.4 6-1.5 6-1.8 6-2.1 6-2.4 6-2.6 6-2.5 6-2.5 6-2.7 6-2.6 6-2.2 6-2 6-1.8 6-1.5 6-.9 6-.7 6-.5 6-.4 6-.3 6-.4 6-.4 6-.5 6-.5 6-.5 6-.5 6-.4 6-.4 6-.4 6-.3 6-.3 6-.3 6-.2 1.5-.1"/>
<path d="M765.5 184.6l6 1 6 1.1 6 1 6 1 6 1 6 1 6 1 6 1 6 1 6 1 6 1 6 1 6 1.1 6 1.1 6 1.1 6 1.2 6 1.2 6 1.2 6 1.2 6 1.2 6 1.1 6 1.2 6 1.1 6 1.2 6 1.1 6 1.1 6 1.2 6 1 6 1 6 .8 6 .8 6 .7 6 .7 6 .6 6 .4 6 .4 6 .3 6 .3 6 .3 6 0 6-.3 6-.5 6-.5 6-.5 6-.5 6-.5 6-.7 6-.7 6-.9 6-1.1 6-1.4 6-1.5 6-1.7 6-2.1 6-2.5 6-2.4 6-2.4 6-2.7 6-2.7 6-2.5 6-2.1 6-2 6-1.7 6-1.2 6-.8 6-.6 6-.5 6-.4 6-.4 6-.5 6-.5 6-.5 6-.6 6-.5 6-.5 6-.4 6-.4 6-.3 6-.3 6-.3 6-.2 1.5-.1"/>
<path d="M765.5 184.9l6 1.2 6 1.2 6 1.3 6 1.2 6 1.3 6 1.3 6 1.3 6 1.3 6 1.3 6 1.3 6 1.4 6 1.5 6 1.5 6 1.5 6 1.6 6 1.5 6 1.5 6 1.4 6 1.4 6 1.4 6 1.3 6 1.4 6 1.3 6 1.3 6 1.1 6 .9 6 .8 6 .8 6 .6 6 .5 6 .3 6 .3 6 .3 6 .2 6 .1 6-.3 6-.5 6-.6 6-.6 6-.5 6-.6 6-.7 6-.7 6-.8 6-1 6-1.2 6-1.4 6-1.6 6-1.8 6-2.2 6-2.4 6-2.5 6-2.3 6-2.4 6-2.4 6-2.3 6-1.9 6-1.9 6-1.7 6-1.5 6-1 6-.7 6-.6 6-.5 6-.4 6-.3 6-.4 6-.5 6-.5 6-.5 6-.5 6-.5 6-.4 6-.5 6-.3 6-.4 6-.3 6-.3 6-.2 6-.3 6-.2 1.5 0"/>
<path d="M765.5 185.4l6 1 6 1.1 6 1.1 6 1.1 6 1.1 6 1.2 6 1.2 6 1.2 6 1.3 6 1.3 6 1.4 6 1.3 6 1.5 6 1.5 6 1.7 6 1.6 6 1.6 6 1.6 6 1.5 6 1.5 6 1.4 6 1.5 6 1.4 6 1.3 6 1.4 6 1.4 6 1.3 6 1.1 6 .9 6 .9 6 .7 6 .7 6 .5 6 .2 6 .2 6 .2 6 .1 6 .1 6-.3 6-.6 6-.7 6-.8 6-.7 6-.7 6-.7 6-.9 6-.9 6-1.1 6-1.4 6-1.6 6-1.8 6-2 6-2.6 6-2.9 6-3 6-2.7 6-2.6 6-2.5 6-2.4 6-2 6-2 6-1.8 6-1.4 6-.9 6-.7 6-.5 6-.5 6-.5 6-.5 6-.5 6-.6 6-.6 6-.6 6-.5 6-.5 6-.5 6-.4 6-.3 6-.3 6-.3 6-.2 1.5-.1"/>
<path d="M765.5 185.3l6 1.2 6 1.1 6 1.3 6 1.2 6 1.3 6 1.3 6 1.3 6 1.3 6 1.4 6 1.5 6 1.4 6 1.6 6 1.7 6 1.7 6 1.7 6 1.7 6 1.6 6 1.6 6 1.6 6 1.5 6 1.5 6 1.6 6 1.5 6 1.5 6 1.3 6 1 6 1 6 .9 6 .8 6 .5 6 .4 6 .3 6 .3 6 .2 6 .1 6-.3 6-.5 6-.7 6-.7 6-.6 6-.6 6-.8 6-.8 6-1 6-1.1 6-1.4 6-1.7 6-1.8 6-2.1 6-2.5 6-2.9 6-2.7 6-2.6 6-2.5 6-2.5 6-2.3 6-2.1 6-1.9 6-1.8 6-1.6 6-1.1 6-.8 6-.6 6-.6 6-.4 6-.4 6-.4 6-.5 6-.5 6-.5 6-.5 6-.4 6-.5 6-.4 6-.3 6-.3 6-.2 6-.3 6-.2 6-.2 6-.2 1.5 0"/>
<path d="M765.5 183.8l6 1.2 6 1.2 6 1.1 6 1.1 6 1.1 6 1.1 6 1 6 .9 6 .9 6 .9 6 .8 6 .8 6 .9 6 .8 6 .9 6 .9 6 .8 6 .8 6 .9 6 .8 6 .8 6 .8 6 .7 6 .8 6 .8 6 .7 6 .6 6 .6 6 .6 6 .5 6 .6 6 .5 6 .4 6 .5 6 .5 6 .4 6 .3 6 .1 6 0 6-.2 6-.1 6-.2 6-.2 6-.2 6-.3 6-.4 6-.5 6-.6 6-.8 6-.9 6-1 6-1.3 6-1.6 6-1.6 6-1.8 6-2.4 6-2.6 6-2.4 6-2 6-1.9 6-1.7 6-1.3 6-.8 6-.6 6-.5 6-.4 6-.4 6-.4 6-.4 6-.5 6-.5 6-.5 6-.5 6-.5 6-.5 6-.4 6-.4 6-.3 6-.3 6-.3 6-.2 1.5-.1"/>
</g>
<g fill="none" stroke="#ff0000" stroke-width="1.6" stroke-linejoin="round" >
<path d="M765.5 176.1l6-1.4 6-1.3 6-1.2 6-1.2 6-1.2 6-1 6-1 6-.9 6-.9 6-.6 6-.6 6-.6 6-.4 6-.5 6-.5 6-.6 6-.6 6-.8 6-.9 6-1.2 6-1.7 6-2.3 6-2.6 6-2.6 6-2.4 6-2.3 6-2.5 6-2.6 6-2.3 6-1.9 6-1.4 6-1.2 6-1.1 6-.8 6-.5 6-.1 6 .4 6 .6 6 .6 6 1 6 1.4 6 1.7 6 1.8 6 1.9 6 2.3 6 2.5 6 2.3 6 2 6 1.8 6 1.8 6 1.7 6 1.7 6 1.7 6 1.7 6 1.7 6 1.7 6 1.6 6 1.5 6 1.5 6 1.4 6 1.3 6 1.3 6 1.2 6 1.2 6 1 6 1.1 6 .9 6 .6 6 .3 6 .2 6 .2 6 .1 6 .2 6 0 6 .1 6 0 6 0 6 0 6-.1 6 0 6-.1 1.5 0"/>
<path d="M765.5 176l6-1.3 6-1.2 6-1.3 6-1.2 6-1.2 6-1.1 6-1.1 6-1 6-1 6-.9 6-.7 6-.7 6-.6 6-.6 6-.6 6-.6 6-.6 6-.8 6-.8 6-1 6-1.3 6-2 6-2.5 6-2.9 6-3 6-2.8 6-2.5 6-2.7 6-2.8 6-2.6 6-2.2 6-1.5 6-1.1 6-.9 6-.7 6-.4 6 .2 6 .6 6 1.1 6 1.2 6 1.4 6 1.9 6 2.3 6 2.5 6 2.5 6 2.6 6 2.8 6 2.7 6 2.3 6 1.8 6 1.7 6 1.6 6 1.5 6 1.4 6 1.6 6 1.5 6 1.5 6 1.5 6 1.4 6 1.3 6 1.3 6 1.3 6 1.2 6 1.1 6 1.1 6 1.1 6 1.1 6 .9 6 .6 6 .3 6 .2 6 .3 6 .2 6 .2 6 .2 6 .1 6 .1 6 .1 6 .1 6 0 6 0 1.5 0"/>
<path d="M765.5 176.3l6-1.4 6-1.4 6-1.4 6-1.2 6-1.2 6-1.1 6-.9 6-.9 6-.7 6-.7 6-.5 6-.5 6-.5 6-.4 6-.5 6-.4 6-.5 6-.6 6-.6 6-.8 6-1.1 6-1.2 6-1.4 6-1.2 6-1.2 6-1.4 6-1.3 6-1.4 6-1.3 6-1.1 6-1 6-1 6-.9 6-.8 6-.7 6-.4 6-.3 6-.2 6-.2 6-.1 6 .2 6 .3 6 .6 6 1.1 6 1.6 6 1.7 6 1.5 6 1.6 6 1.7 6 1.8 6 1.7 6 1.6 6 1.6 6 1.6 6 1.6 6 1.5 6 1.4 6 1.4 6 1.4 6 1.3 6 1.3 6 1.2 6 1.1 6 1 6 1 6 1 6 .7 6 .5 6 .3 6 .3 6 .3 6 .2 6 .1 6 .1 6 .1 6 0 6 0 6 0 6 0 6 0 6-.1 1.5 0"/>
<path d="M765.5 176.2l6-1.4 6-1.3 6-1.2 6-1.2 6-1.2 6-1.1 6-1 6-1 6-.9 6-.7 6-.7 6-.7 6-.6 6-.6 6-.6 6-.7 6-.7 6-.8 6-1 6-1.1 6-1.6 6-2.1 6-2.3 6-2.4 6-2.2 6-2.1 6-2.2 6-2.2 6-2.1 6-1.7 6-1.2 6-1 6-.8 6-.7 6-.4 6 .1 6 .4 6 .6 6 .7 6 1 6 1.3 6 1.5 6 1.8 6 1.8 6 2.1 6 2.4 6 2.3 6 2 6 1.8 6 1.7 6 1.7 6 1.7 6 1.6 6 1.5 6 1.6 6 1.5 6 1.4 6 1.4 6 1.2 6 1.3 6 1.2 6 1.1 6 1.1 6 .9 6 1 6 .9 6 .8 6 .6 6 .2 6 .2 6 .2 6 .2 6 .2 6 .1 6 .1 6 .1 6 0 6 .1 6 0 6 .1 6 0 1.5 0"/>
<path d="M765.5 176.3l6-1.1 6-1.1 6-1.1 6-1 6-1 6-1 6-.9 6-.8 6-.8 6-.8 6-.6 6-.6 6-.6 6-.5 6-.5 6-.5 6-.5 6-.5 6-.5 6-.6 6-.6 6-.6 6-.7 6-.9 6-1.1 6-1.2 6-1.4 6-1.3 6-1.2 6-1.2 6-1.3 6-1.3 6-1.3 6-1.1 6-1 6-.8 6-.8 6-.8 6-.6 6-.4 6-.2 6 0 6 0 6 .1 6 .2 6 .4 6 .7 6 .9 6 1.2 6 1.9 6 2 6 1.7 6 1.8 6 1.9 6 1.9 6 1.9 6 1.7 6 1.7 6 1.7 6 1.6 6 1.5 6 1.5 6 1.3 6 1.4 6 1.2 6 1.2 6 1 6 1.1 6 .9 6 .7 6 .3 6 .3 6 .2 6 .2 6 .2 6 .1 6 .1 6 .1 6 0 6 .1 6 0 1.5 0"/>
<path d="M765.5 176.2l6-1.3 6-1.2 6-1.2 6-1.2 6-1.1 6-1 6-1 6-.9 6-.8 6-.8 6-.6 6-.6 6-.6 6-.5 6-.6 6-.6 6-.6 6-.6 6-.8 6-.9 6-1 6-1.6 6-1.8 6-2.1 6-2 6-2 6-1.8 6-2 6-2 6-1.9 6-1.6 6-1.2 6-1 6-.9 6-.8 6-.5 6-.2 6 .2 6 .4 6 .5 6 .6 6 .9 6 1.2 6 1.4 6 1.6 6 1.8 6 2.2 6 2.3 6 1.9 6 1.9 6 1.8 6 1.8 6 1.7 6 1.7 6 1.6 6 1.7 6 1.5 6 1.6 6 1.4 6 1.4 6 1.3 6 1.2 6 1.2 6 1.1 6 1 6 1 6 1 6 .7 6 .5 6 .2 6 .2 6 .2 6 .2 6 .1 6 .1 6 .1 6 0 6 .1 6 0 6 0 6 0 1.5 0"/>
<path d="M765.5 176.3l6-1.4 6-1.3 6-1.2 6-1.2 6-1.2 6-1.1 6-1 6-1 6-.9 6-.7 6-.7 6-.7 6-.5 6-.6 6-.5 6-.6 6-.6 6-.6 6-.7 6-.7 6-1 6-1.2 6-1.5 6-1.6 6-1.5 6-1.4 6-1.5 6-1.5 6-1.5 6-1.4 6-1.1 6-.9 6-.8 6-.8 6-.6 6-.4 6-.2 6 .1 6 .2 6 .1 6 .4 6 .6 6 .7 6 1 6 1.1 6 1.6 6 2 6 1.8 6 1.6 6 1.7 6 1.6 6 1.7 6 1.6 6 1.5 6 1.5 6 1.5 6 1.4 6 1.4 6 1.3 6 1.2 6 1.2 6 1.2 6 1.1 6 1.1 6 1 6 .9 6 1 6 .7 6 .4 6 .3 6 .3 6 .2 6 .2 6 .2 6 .2 6 .1 6 .1 6 .1 6 0 6 .1 6 0 1.5 0"/>
<path d="M765.5 176.4l6-1.1 6-1.1 6-1.1 6-1 6-1 6-1 6-.8 6-.9 6-.8 6-.7 6-.6 6-.6 6-.5 6-.5 6-.5 6-.4 6-.5 6-.4 6-.4 6-.5 6-.5 6-.5 6-.6 6-.6 6-.8 6-.8 6-1 6-1 6-.9 6-.9 6-1 6-1.1 6-1 6-1 6-1 6-.8 6-.8 6-.8 6-.8 6-.7 6-.5 6-.3 6-.3 6-.3 6-.2 6-.1 6 .1 6 .3 6 .6 6 1.4 6 1.7 6 1.7 6 1.8 6 1.8 6 2 6 1.9 6 1.8 6 1.8 6 1.7 6 1.7 6 1.6 6 1.5 6 1.4 6 1.4 6 1.4 6 1.2 6 1.1 6 1.1 6 1 6 .7 6 .4 6 .3 6 .3 6 .2 6 .2 6 .2 6 0 6 .1 6 0 6 .1 6 0 1.5 0"/>
<path d="M765.5 176.4l6-1.2 6-1.2 6-1.2 6-1.1 6-1 6-1 6-1 6-.9 6-.8 6-.8 6-.7 6-.6 6-.6 6-.6 6-.5 6-.6 6-.5 6-.6 6-.5 6-.6 6-.6 6-.7 6-.8 6-.9 6-1 6-1 6-.9 6-.9 6-1 6-.9 6-1 6-.9 6-.9 6-.7 6-.7 6-.7 6-.6 6-.5 6-.4 6-.2 6-.2 6-.1 6-.2 6 0 6 .2 6 .4 6 .7 6 1.4 6 1.7 6 1.6 6 1.6 6 1.8 6 1.8 6 1.8 6 1.7 6 1.6 6 1.5 6 1.5 6 1.5 6 1.4 6 1.2 6 1.3 6 1.2 6 1.1 6 1.1 6 .9 6 1 6 .9 6 .6 6 .4 6 .3 6 .2 6 .3 6 .2 6 .1 6 .2 6 .1 6 .1 6 .1 6 0 6 .1 1.5 0"/>
<path d="M765.5 176.4l6-1.4 6-1.3 6-1.3 6-1.2 6-1.2 6-1 6-1 6-.9 6-.8 6-.7 6-.6 6-.6 6-.5 6-.5 6-.5 6-.5 6-.5 6-.5 6-.6 6-.7 6-.8 6-1 6-1.1 6-1.2 6-1.1 6-1.1 6-1.1 6-1.2 6-1.2 6-1.1 6-1 6-.8 6-.9 6-.9 6-.7 6-.5 6-.4 6-.3 6-.2 6-.2 6-.1 6 .1 6 .2 6 .5 6 1 6 1.5 6 1.7 6 1.6 6 1.6 6 1.7 6 1.8 6 1.7 6 1.7 6 1.6 6 1.5 6 1.5 6 1.5 6 1.4 6 1.3 6 1.3 6 1.3 6 1.2 6 1.1 6 1 6 1 6 .9 6 .9 6 .6 6 .3 6 .3 6 .3 6 .2 6 .2 6 .2 6 .1 6 .1 6 0 6 .1 6 0 6 0 6 0 1.5 0"/>
<path d="M765.5 176l6-1.2 6-1.2 6-1.2 6-1.2 6-1.1 6-1 6-1 6-.9 6-.8 6-.8 6-.7 6-.5 6-.6 6-.5 6-.5 6-.6 6-.7 6-.7 6-.9 6-1 6-1.3 6-2 6-2.6 6-2.9 6-3 6-2.8 6-2.6 6-2.8 6-2.9 6-2.6 6-2.3 6-1.7 6-1.2 6-1.1 6-.8 6-.6 6 0 6 .5 6 .9 6 1.1 6 1.2 6 1.7 6 2.2 6 2.4 6 2.5 6 2.5 6 2.8 6 2.9 6 2.3 6 2.1 6 1.9 6 1.7 6 1.8 6 1.7 6 1.7 6 1.7 6 1.7 6 1.6 6 1.6 6 1.4 6 1.4 6 1.4 6 1.3 6 1.1 6 1.1 6 1.1 6 1 6 .9 6 .5 6 .2 6 .2 6 .1 6 .1 6 .1 6 .1 6 0 6 .1 6 0 6 0 6-.1 6 0 1.5 0"/>
<path d="M765.5 176.2l6-1.1 6-1.2 6-1.1 6-1.1 6-1.1 6-1.1 6-1 6-.9 6-.9 6-.9 6-.8 6-.7 6-.6 6-.6 6-.5 6-.6 6-.5 6-.5 6-.5 6-.5 6-.6 6-.6 6-.7 6-1 6-1.4 6-1.5 6-1.6 6-1.5 6-1.5 6-1.4 6-1.5 6-1.6 6-1.4 6-1.3 6-.9 6-.8 6-.7 6-.6 6-.5 6-.2 6 .1 6 .3 6 .4 6 .4 6 .7 6 .9 6 1.1 6 1.2 6 1.6 6 2.1 6 2 6 1.7 6 1.7 6 1.7 6 1.6 6 1.7 6 1.5 6 1.6 6 1.5 6 1.5 6 1.4 6 1.4 6 1.3 6 1.4 6 1.2 6 1.2 6 1.1 6 1.1 6 1 6 .7 6 .4 6 .4 6 .3 6 .3 6 .2 6 .2 6 .2 6 .2 6 .1 6 0 6 .1 1.5 0"/>
</g>
<g fill="none" stroke="#0000ff" stroke-width="1.6" stroke-linejoin="round" >
<path d="M765.5 174.2l6-.1 6-.3 6-.4 6-.5 6-.6 6-.7 6-.8 6-.8 6-.9 6-.9 6-1 6-1.1 6-1.1 6-1.4 6-1.5 6-1.8 6-1.8 6-2 6-2.3 6-2.6 6-2.9 6-3 6-3.2 6-3.6 6-4.2 6-4.2 6-4.1 6-3.5 6-3.2 6-3.1 6-2.8 6-1.9 6-1.1 6-.8 6-.2 6 1 6 2 6 2.7 6 3.7 6 4.9 6 5.7 6 6 6 6.5 6 6.6 6 6.8 6 7.4 6 6.7 6 5.9 6 4.6 6 2.5 6 1.4 6 .6 6 .2 6-.1 6-.5 6-.5 6-.3 6-.3 6-.3 6-.3 6-.3 6-.3 6-.2 6-.3 6-.2 6-.2 6-.3 6-.2 6-.2 6-.2 6-.2 6-.2 6-.2 6-.2 6-.2 6-.2 6-.2 6-.2 6-.1 6-.2 6-.2 1.5 0"/>
<path d="M765.5 173.8l6-.3 6-.5 6-.5 6-.7 6-.7 6-.8 6-.9 6-.9 6-.9 6-1 6-1.1 6-1 6-1.2 6-1.3 6-1.6 6-1.7 6-1.9 6-2 6-2.4 6-2.8 6-3.1 6-3.3 6-3.5 6-4.2 6-4.7 6-4.7 6-4.3 6-3.5 6-3.3 6-3.1 6-2.6 6-1.5 6-.8 6-.6 6 .4 6 1.8 6 2.5 6 3 6 4.3 6 5.1 6 5.4 6 5.9 6 6.2 6 6.2 6 6.5 6 6.3 6 5.5 6 5.1 6 3.9 6 2.3 6 1.5 6 1 6 .7 6 .3 6 0 6 0 6 0 6 0 6 0 6 0 6 0 6 0 6 .1 6 0 6 0 6 0 6 0 6-.1 6 0 6-.1 6 0 6-.1 6-.2 6-.1 6-.2 6-.2 6-.2 6-.2 6-.2 6-.3 6-.2 1.5-.1"/>
<path d="M765.5 174.8l6-.2 6-.3 6-.4 6-.6 6-.6 6-.7 6-.8 6-.8 6-.8 6-.9 6-1 6-.9 6-1.2 6-1.4 6-1.6 6-1.7 6-1.8 6-1.9 6-2.2 6-2.4 6-2.6 6-2.7 6-3.1 6-3.5 6-3.5 6-3.5 6-3 6-3 6-3 6-2.7 6-1.9 6-1.3 6-1 6-.4 6 .7 6 1.8 6 2.5 6 3.7 6 5.1 6 5.8 6 6.1 6 6.4 6 6.7 6 7.4 6 7.9 6 6.7 6 5.9 6 3.2 6 1.4 6 .4 6-.6 6-.8 6-.9 6-1.2 6-.9 6-.7 6-.6 6-.5 6-.5 6-.4 6-.3 6-.3 6-.2 6-.3 6-.2 6-.1 6-.2 6-.2 6-.1 6-.2 6-.1 6-.2 6-.1 6-.2 6-.1 6-.2 6-.2 6-.1 6-.2 6-.1 6-.2 1.5 0"/>
<path d="M765.5 174.5l6-.2 6-.3 6-.5 6-.5 6-.7 6-.7 6-.8 6-.9 6-.9 6-1 6-.9 6-1.1 6-1.3 6-1.5 6-1.7 6-1.8 6-2 6-2.1 6-2.5 6-2.8 6-2.9 6-3.1 6-3.6 6-4 6-4 6-3.6 6-3.2 6-3.2 6-3 6-2.4 6-1.6 6-1.1 6-.7 6 .3 6 1.4 6 2.3 6 3.1 6 4.4 6 5.5 6 5.8 6 6.3 6 6.5 6 6.8 6 7.4 6 7.3 6 6 6 5.2 6 2.6 6 1.3 6 .4 6-.3 6-.3 6-.7 6-.8 6-.6 6-.5 6-.4 6-.3 6-.3 6-.3 6-.3 6-.2 6-.2 6-.2 6-.2 6-.1 6-.2 6-.2 6-.1 6-.2 6-.2 6-.1 6-.2 6-.2 6-.2 6-.1 6-.2 6-.2 6-.1 6-.2 6-.2 1.5 0"/>
<path d="M765.5 176l6-.1 6-.1 6-.3 6-.3 6-.4 6-.4 6-.5 6-.5 6-.6 6-.6 6-.6 6-.6 6-.8 6-1.1 6-1.2 6-1.3 6-1.4 6-1.3 6-1.4 6-1.5 6-1.6 6-1.7 6-1.9 6-2 6-2.2 6-2.2 6-2.4 6-2.5 6-2.8 6-3 6-2.8 6-2.5 6-1.9 6-1.7 6-1.3 6-.6 6 .8 6 1.9 6 2.8 6 5.2 6 6 6 6.2 6 6.8 6 7.3 6 8.6 6 9.7 6 8 6 6.6 6 1.9 6 .5 6-1 6-2.4 6-2.3 6-2.2 6-2.2 6-1.7 6-1.2 6-1.1 6-.9 6-.8 6-.6 6-.5 6-.5 6-.4 6-.4 6-.4 6-.3 6-.2 6-.3 6-.3 6-.2 6-.3 6-.3 6-.2 6-.3 6-.2 6-.2 6-.2 6-.2 6-.1 6-.1 1.5 0"/>
<path d="M765.5 175l6-.1 6-.3 6-.4 6-.4 6-.6 6-.6 6-.7 6-.8 6-.8 6-.8 6-.9 6-.9 6-1 6-1.3 6-1.4 6-1.6 6-1.7 6-1.7 6-1.9 6-2.1 6-2.3 6-2.4 6-2.6 6-3 6-3.2 6-3.3 6-3.1 6-2.8 6-2.9 6-2.9 6-2.6 6-1.9 6-1.3 6-1 6-.4 6 .6 6 1.7 6 2.5 6 3.6 6 5.3 6 5.9 6 6.1 6 6.6 6 6.9 6 7.6 6 8.3 6 6.9 6 6 6 2.8 6 1.2 6 0 6-1 6-1.1 6-1.2 6-1.4 6-1 6-.9 6-.7 6-.6 6-.6 6-.4 6-.4 6-.4 6-.3 6-.3 6-.2 6-.2 6-.2 6-.2 6-.2 6-.2 6-.2 6-.2 6-.2 6-.1 6-.2 6-.1 6-.2 6-.1 6-.2 6-.1 1.5 0"/>
<path d="M765.5 173.7l6-.3 6-.4 6-.5 6-.7 6-.7 6-.8 6-.9 6-1 6-1 6-1.1 6-1 6-1.2 6-1.3 6-1.5 6-1.6 6-1.9 6-2 6-2.3 6-2.7 6-3.1 6-3.3 6-3.6 6-3.9 6-4.6 6-4.9 6-4.8 6-4.1 6-3.4 6-3.4 6-2.9 6-2.1 6-1 6-.7 6-.1 6 1.3 6 2.3 6 2.8 6 3.8 6 4.9 6 5.4 6 5.7 6 6.2 6 6.2 6 6.4 6 6.5 6 5.9 6 5.2 6 4.8 6 3.2 6 1.9 6 1.4 6 1 6 .7 6 .2 6 0 6 0 6 .1 6 0 6 0 6 0 6 0 6 0 6 0 6-.1 6 0 6-.1 6 0 6-.1 6-.1 6-.1 6-.1 6-.2 6-.1 6-.2 6-.2 6-.1 6-.2 6-.3 6-.2 6-.2 6-.2 1.5-.1"/>
<path d="M765.5 173.9l6-.2 6-.4 6-.4 6-.6 6-.6 6-.7 6-.8 6-.9 6-.8 6-1 6-.9 6-1 6-1.1 6-1.3 6-1.4 6-1.7 6-1.8 6-1.9 6-2.2 6-2.6 6-2.9 6-3.1 6-3.3 6-3.7 6-4.3 6-4.5 6-4.5 6-3.9 6-3.2 6-3.3 6-3 6-2.2 6-1.2 6-.8 6-.5 6 .9 6 1.9 6 2.6 6 3.4 6 4.6 6 5.4 6 5.6 6 6.2 6 6.4 6 6.5 6 6.9 6 6.5 6 5.6 6 5 6 3.2 6 1.8 6 1.1 6 .7 6 .4 6 0 6-.2 6-.1 6-.1 6 0 6-.1 6-.1 6 0 6-.1 6-.1 6-.1 6 0 6-.1 6-.1 6-.2 6-.1 6-.2 6-.1 6-.2 6-.2 6-.2 6-.2 6-.2 6-.2 6-.3 6-.2 6-.2 1.5-.1"/>
<path d="M765.5 173.9l6-.3 6-.4 6-.5 6-.7 6-.7 6-.8 6-.9 6-1 6-1 6-1 6-1 6-1.2 6-1.3 6-1.6 6-1.7 6-1.9 6-2.1 6-2.4 6-2.7 6-3.2 6-3.3 6-3.5 6-4.1 6-4.7 6-4.8 6-4.4 6-3.7 6-3.4 6-3.2 6-2.6 6-1.6 6-.9 6-.5 6 .3 6 1.8 6 2.5 6 3.1 6 4.3 6 5.3 6 5.5 6 6 6 6.3 6 6.3 6 6.7 6 6.5 6 5.6 6 5.2 6 3.9 6 2.2 6 1.4 6 .9 6 .7 6 .2 6-.1 6-.1 6-.1 6 0 6 0 6-.1 6 0 6-.1 6 0 6-.1 6 0 6-.1 6-.1 6 0 6-.1 6-.1 6-.2 6-.1 6-.2 6-.1 6-.2 6-.2 6-.2 6-.2 6-.2 6-.2 6-.2 6-.2 1.5-.1"/>
<path d="M765.5 173.6l6-.3 6-.5 6-.5 6-.7 6-.8 6-.9 6-.9 6-1 6-1.1 6-1.1 6-1.2 6-1.2 6-1.4 6-1.6 6-1.8 6-1.9 6-2.2 6-2.5 6-2.9 6-3.2 6-3.6 6-3.7 6-4.2 6-4.9 6-5.1 6-4.8 6-3.9 6-3.4 6-3.2 6-2.6 6-1.6 6-.7 6-.4 6 .4 6 2 6 2.8 6 3.1 6 4.4 6 5.3 6 5.4 6 6 6 6.3 6 6.1 6 6.4 6 6.2 6 5.4 6 5 6 4.3 6 2.6 6 1.7 6 1.4 6 1 6 .6 6 .2 6 .1 6 0 6 .1 6 0 6 0 6 0 6 0 6 0 6-.1 6 0 6-.1 6 0 6-.1 6 0 6-.1 6-.1 6-.1 6-.1 6-.2 6-.1 6-.2 6-.1 6-.2 6-.2 6-.2 6-.2 6-.2 1.5-.1"/>
<path d="M765.5 175.4l6-.1 6-.3 6-.3 6-.4 6-.4 6-.5 6-.6 6-.7 6-.6 6-.7 6-.7 6-.8 6-.9 6-1.1 6-1.3 6-1.4 6-1.5 6-1.6 6-1.7 6-1.8 6-2 6-2.2 6-2.3 6-2.6 6-2.8 6-3 6-2.9 6-2.8 6-2.9 6-3 6-2.8 6-2.3 6-1.7 6-1.4 6-1 6-.1 6 1 6 2.1 6 3 6 4.8 6 5.9 6 6 6 6.5 6 7 6 7.7 6 8.8 6 7.8 6 6.6 6 3.3 6 1.1 6 .1 6-1.3 6-1.5 6-1.5 6-1.7 6-1.3 6-.9 6-.8 6-.7 6-.6 6-.4 6-.5 6-.3 6-.4 6-.3 6-.2 6-.3 6-.2 6-.2 6-.3 6-.2 6-.3 6-.2 6-.2 6-.3 6-.2 6-.2 6-.2 6-.2 6-.1 6-.2 1.5 0"/>
<path d="M765.5 175.7l6 0 6-.2 6-.3 6-.3 6-.5 6-.5 6-.6 6-.6 6-.7 6-.7 6-.7 6-.8 6-1 6-1.1 6-1.3 6-1.5 6-1.5 6-1.5 6-1.5 6-1.7 6-1.8 6-1.9 6-2 6-2.2 6-2.4 6-2.5 6-2.6 6-2.4 6-2.7 6-2.8 6-2.8 6-2.3 6-1.6 6-1.4 6-1.1 6-.3 6 .9 6 2 6 2.8 6 5 6 6 6 6.2 6 6.7 6 7.2 6 8 6 9.3 6 8.2 6 6.8 6 3 6 .8 6-.3 6-2 6-2.1 6-2 6-2.1 6-1.7 6-1.3 6-1.1 6-1 6-.8 6-.7 6-.7 6-.5 6-.5 6-.4 6-.4 6-.4 6-.3 6-.2 6-.3 6-.3 6-.2 6-.2 6-.2 6-.2 6-.2 6-.1 6-.2 6-.1 6 0 6-.1 1.5 0"/>
<path d="M765.5 175.6l6-.1 6-.2 6-.3 6-.4 6-.5 6-.6 6-.6 6-.7 6-.7 6-.8 6-.7 6-.9 6-1.1 6-1.4 6-1.5 6-1.5 6-1.6 6-1.6 6-1.9 6-1.9 6-2.1 6-2.3 6-2.5 6-2.7 6-2.8 6-2.7 6-2.7 6-3 6-3 6-2.6 6-2.1 6-1.5 6-1.3 6-.6 6 .4 6 1.7 6 2.5 6 4.2 6 5.8 6 6 6 6.4 6 7 6 7.4 6 8.9 6 8.6 6 6.9 6 4.8 6 1.2 6 .3 6-1.2 6-2 6-1.6 6-1.9 6-1.7 6-1.3 6-1 6-.9 6-.7 6-.7 6-.5 6-.5 6-.4 6-.4 6-.3 6-.3 6-.3 6-.3 6-.2 6-.2 6-.3 6-.2 6-.2 6-.2 6-.2 6-.2 6-.2 6-.2 6-.1 6-.2 6-.1 6-.1 1.5 0"/>
<path d="M765.5 174.7l6-.1 6-.3 6-.4 6-.4 6-.6 6-.6 6-.7 6-.7 6-.9 6-.8 6-.9 6-.9 6-1.1 6-1.3 6-1.5 6-1.7 6-1.7 6-1.9 6-2.1 6-2.3 6-2.6 6-2.7 6-2.9 6-3.3 6-3.7 6-3.8 6-3.5 6-3.2 6-3 6-3.1 6-2.7 6-1.9 6-1.3 6-.9 6-.4 6 .8 6 1.7 6 2.6 6 3.6 6 5.1 6 5.8 6 6.1 6 6.5 6 6.8 6 7.3 6 8 6 7 6 6.1 6 3.8 6 1.7 6 .8 6-.3 6-.5 6-.7 6-1 6-.8 6-.6 6-.5 6-.5 6-.4 6-.4 6-.3 6-.3 6-.3 6-.3 6-.3 6-.2 6-.3 6-.2 6-.2 6-.3 6-.2 6-.2 6-.2 6-.3 6-.2 6-.1 6-.2 6-.2 6-.1 6-.2 1.5 0"/>
<path d="M765.5 174.3l6-.2 6-.3 6-.5 6-.5 6-.6 6-.6 6-.8 6-.8 6-.8 6-.9 6-.9 6-.9 6-1.1 6-1.3 6-1.4 6-1.7 6-1.8 6-1.9 6-2.1 6-2.5 6-2.8 6-3 6-3.1 6-3.6 6-4.1 6-4.2 6-4 6-3.4 6-3.2 6-3.2 6-2.8 6-2 6-1.2 6-.9 6-.3 6 .9 6 1.9 6 2.6 6 3.6 6 4.9 6 5.6 6 5.9 6 6.4 6 6.5 6 6.9 6 7.3 6 6.6 6 5.8 6 4.3 6 2.3 6 1.3 6 .4 6 .1 6-.2 6-.5 6-.4 6-.3 6-.3 6-.2 6-.2 6-.1 6-.2 6-.2 6-.1 6-.2 6-.1 6-.1 6-.2 6-.2 6-.1 6-.2 6-.2 6-.2 6-.2 6-.3 6-.2 6-.2 6-.2 6-.2 6-.2 6-.2 1.5-.1"/>
<path d="M765.5 173.6l6-.2 6-.3 6-.5 6-.6 6-.7 6-.8 6-.8 6-1 6-.9 6-1.1 6-1.1 6-1.1 6-1.2 6-1.4 6-1.5 6-1.8 6-1.9 6-2.1 6-2.3 6-2.7 6-3.1 6-3.3 6-3.5 6-3.7 6-4.5 6-4.8 6-4.7 6-4.2 6-3.3 6-3.3 6-2.9 6-2.2 6-1.1 6-.6 6-.2 6 .9 6 2.2 6 2.9 6 3.4 6 4.7 6 5.5 6 5.6 6 6.2 6 6.4 6 6.4 6 6.6 6 6.3 6 5.4 6 5.1 6 3.8 6 2.2 6 1.5 6 1.2 6 .8 6 .2 6 0 6 0 6-.1 6-.1 6 0 6-.1 6-.1 6-.2 6-.1 6-.1 6-.1 6-.2 6-.1 6-.1 6-.2 6-.1 6-.1 6-.2 6-.1 6-.2 6-.1 6-.2 6-.2 6-.2 6-.1 6-.2 1.5-.1"/>
<path d="M765.5 174.2l6-.2 6-.4 6-.4 6-.6 6-.7 6-.7 6-.9 6-.9 6-.9 6-1.1 6-1 6-1.1 6-1.4 6-1.5 6-1.8 6-1.9 6-2 6-2.3 6-2.7 6-3 6-3.1 6-3.4 6-3.8 6-4.3 6-4.5 6-4.1 6-3.4 6-3.3 6-3.1 6-2.6 6-1.7 6-1 6-.6 6 .2 6 1.5 6 2.4 6 3 6 4.3 6 5.3 6 5.8 6 6.2 6 6.4 6 6.6 6 7 6 7.1 6 6.1 6 5.5 6 3.6 6 1.9 6 1.1 6 .4 6 .2 6-.2 6-.5 6-.4 6-.3 6-.2 6-.3 6-.2 6-.2 6-.2 6-.2 6-.2 6-.2 6-.2 6-.2 6-.2 6-.1 6-.2 6-.2 6-.2 6-.2 6-.2 6-.2 6-.1 6-.2 6-.2 6-.2 6-.1 6-.2 6-.2 1.5 0"/>
<path d="M765.5 174.4l6-.2 6-.4 6-.4 6-.6 6-.7 6-.7 6-.8 6-.9 6-.9 6-1 6-1 6-1 6-1.3 6-1.5 6-1.6 6-1.8 6-1.9 6-2.1 6-2.5 6-2.7 6-3 6-3 6-3.5 6-4 6-4.2 6-3.9 6-3.4 6-3.2 6-3.1 6-2.7 6-1.9 6-1.1 6-.8 6-.1 6 1 6 2.1 6 2.7 6 3.8 6 5.1 6 5.7 6 6 6 6.4 6 6.6 6 6.9 6 7.4 6 6.4 6 5.7 6 3.8 6 1.9 6 1 6 .2 6-.1 6-.4 6-.6 6-.6 6-.5 6-.3 6-.3 6-.3 6-.3 6-.2 6-.2 6-.2 6-.2 6-.1 6-.2 6-.1 6-.2 6-.1 6-.2 6-.1 6-.2 6-.2 6-.1 6-.2 6-.2 6-.2 6-.1 6-.2 6-.2 6-.2 1.5 0"/>
<path d="M765.5 174.1l6-.3 6-.4 6-.5 6-.6 6-.7 6-.8 6-.9 6-1 6-1 6-1 6-1.1 6-1.1 6-1.3 6-1.6 6-1.7 6-1.9 6-2 6-2.3 6-2.7 6-3 6-3.2 6-3.4 6-3.9 6-4.4 6-4.5 6-4.1 6-3.4 6-3.3 6-3 6-2.5 6-1.5 6-.9 6-.6 6 .5 6 1.7 6 2.5 6 3.1 6 4.4 6 5.3 6 5.7 6 6.1 6 6.4 6 6.4 6 6.8 6 6.8 6 5.7 6 5.2 6 3.4 6 1.7 6 1.1 6 .5 6 .2 6-.2 6-.4 6-.3 6-.2 6-.2 6-.2 6-.2 6-.1 6-.2 6-.1 6-.1 6-.1 6-.1 6-.1 6-.1 6-.1 6-.1 6-.1 6-.2 6-.1 6-.1 6-.2 6-.2 6-.1 6-.2 6-.2 6-.2 6-.2 6-.1 1.5-.1"/>
<path d="M765.5 174.9l6-.2 6-.3 6-.4 6-.4 6-.6 6-.7 6-.7 6-.8 6-.9 6-.8 6-1 6-.9 6-1.1 6-1.3 6-1.5 6-1.6 6-1.7 6-1.8 6-2 6-2.2 6-2.4 6-2.5 6-2.7 6-3 6-3.4 6-3.4 6-3.3 6-2.9 6-2.9 6-2.9 6-2.6 6-1.9 6-1.2 6-.9 6-.3 6 .6 6 1.7 6 2.6 6 3.5 6 5.1 6 5.9 6 6.1 6 6.5 6 6.8 6 7.4 6 8.1 6 7 6 6.1 6 3.4 6 1.4 6 .5 6-.7 6-.9 6-1.1 6-1.2 6-1.1 6-.8 6-.7 6-.6 6-.5 6-.5 6-.4 6-.4 6-.3 6-.3 6-.3 6-.2 6-.2 6-.2 6-.2 6-.2 6-.1 6-.2 6-.2 6-.1 6-.2 6-.1 6-.1 6-.1 6-.2 6-.1 1.5 0"/>
<path d="M765.5 174.6l6-.1 6-.3 6-.3 6-.5 6-.6 6-.6 6-.8 6-.8 6-.8 6-1 6-.9 6-1 6-1.3 6-1.4 6-1.6 6-1.8 6-1.9 6-2.1 6-2.4 6-2.6 6-2.8 6-3 6-3.2 6-3.8 6-3.9 6-3.9 6-3.4 6-3.1 6-3.1 6-2.9 6-2.2 6-1.4 6-1 6-.5 6 .6 6 1.6 6 2.4 6 3.5 6 4.8 6 5.8 6 6 6 6.5 6 6.8 6 7.1 6 7.8 6 7.3 6 6.2 6 4.6 6 2.2 6 1.2 6 .1 6-.4 6-.5 6-.8 6-.8 6-.6 6-.5 6-.4 6-.5 6-.3 6-.4 6-.3 6-.3 6-.3 6-.3 6-.3 6-.3 6-.2 6-.3 6-.3 6-.2 6-.3 6-.2 6-.2 6-.2 6-.2 6-.2 6-.2 6-.1 6-.2 6-.1 1.5 0"/>
<path d="M765.5 175.9l6-.1 6-.2 6-.3 6-.4 6-.5 6-.6 6-.6 6-.7 6-.7 6-.7 6-.8 6-.8 6-1.2 6-1.2 6-1.5 6-1.4 6-1.5 6-1.5 6-1.6 6-1.6 6-1.8 6-1.9 6-2 6-2.2 6-2.4 6-2.3 6-2.4 6-2.7 6-2.9 6-2.7 6-2.2 6-1.6 6-1.4 6-1 6-.2 6 1.3 6 2.2 6 3.4 6 5.6 6 6.1 6 6.3 6 6.8 6 7.4 6 8.7 6 9.3 6 7.5 6 6 6 1.4 6 .3 6-1.2 6-2.5 6-2.2 6-2.3 6-2.2 6-1.8 6-1.3 6-1.2 6-1 6-.9 6-.7 6-.6 6-.6 6-.5 6-.4 6-.4 6-.3 6-.2 6-.3 6-.2 6-.2 6-.2 6-.2 6-.1 6-.2 6-.1 6-.2 6-.1 6-.1 6-.1 6 0 6-.1 1.5 0"/>
</g>
<g fill="none" stroke="#0000ff" stroke-width="1.6" stroke-linejoin="round" >
<path d="M765.5 172.5l6-.5 6-.5 6-.7 6-.8 6-.8 6-.9 6-1 6-1.1 6-1.3 6-1.4 6-1.5 6-1.7 6-2.1 6-2.4 6-2.6 6-2.9 6-3 6-3.2 6-3.5 6-3.8 6-4.2 6-4.6 6-5.1 6-6 6-6.6 6-6.6 6-6.3 6-6.4 6-6.1 6-5.3 6-4.8 6-3.9 6-1.8 6-.8 6 1.1 6 2.7 6 3.8 6 7.3 6 7.6 6 7.9 6 8 6 7.6 6 7 6 7 6 7.8 6 9.3 6 9.1 6 7.7 6 6.6 6 5.4 6 4.6 6 2.6 6 1.8 6 1.4 6 .4 6-.1 6-.2 6-.3 6-.4 6-.4 6-.5 6-.6 6-.5 6-.5 6-.3 6-.4 6-.4 6-.3 6-.3 6-.3 6-.2 6-.2 6-.2 6-.1 6-.1 6-.2 6-.1 6-.1 6 0 6-.1 6 0 1.5 0"/>
<path d="M765.5 172.7l6-.5 6-.5 6-.7 6-.8 6-.8 6-.9 6-1 6-1.1 6-1.2 6-1.3 6-1.5 6-1.6 6-2 6-2.2 6-2.5 6-2.7 6-2.9 6-3 6-3.4 6-3.7 6-4.1 6-4.4 6-4.9 6-5.9 6-6.3 6-6.4 6-5.9 6-6 6-5.7 6-4.9 6-4.3 6-3.4 6-1.7 6-.6 6 1.1 6 2.7 6 3.7 6 6.6 6 7.3 6 7.4 6 7.7 6 7.3 6 6.9 6 6.9 6 7.6 6 8.7 6 8.5 6 7.1 6 6.2 6 4.9 6 4.1 6 2.3 6 1.8 6 1.1 6 .4 6 0 6-.2 6-.3 6-.2 6-.4 6-.4 6-.5 6-.4 6-.4 6-.4 6-.3 6-.3 6-.3 6-.3 6-.2 6-.2 6-.2 6-.1 6-.2 6-.1 6-.1 6-.2 6-.1 6-.1 6 0 6-.1 1.5 0"/>
<path d="M765.5 173.2l6-.3 6-.5 6-.6 6-.7 6-.8 6-.9 6-.9 6-1.1 6-1.1 6-1.2 6-1.2 6-1.4 6-1.5 6-1.8 6-2 6-2.2 6-2.4 6-2.5 6-3 6-3.4 6-3.7 6-3.9 6-4.3 6-5.1 6-5.6 6-5.4 6-4.9 6-4.4 6-4.2 6-3.6 6-2.9 6-1.8 6-1 6-.3 6 1.3 6 2.6 6 3.2 6 4.8 6 5.8 6 6.1 6 6.3 6 6.6 6 6.5 6 6.4 6 6.8 6 6.9 6 6.2 6 5.6 6 4.5 6 3.1 6 2.5 6 1.7 6 1.2 6 .7 6 .2 6 0 6 0 6 0 6-.1 6-.1 6-.1 6-.2 6-.2 6-.1 6-.2 6-.1 6-.1 6-.2 6-.1 6-.2 6-.1 6-.2 6-.1 6-.1 6-.2 6-.1 6-.2 6-.1 6-.2 6-.2 6-.2 1.5 0"/>
<path d="M765.5 173.3l6-.4 6-.4 6-.6 6-.7 6-.8 6-.9 6-.9 6-1 6-1.1 6-1.2 6-1.2 6-1.3 6-1.5 6-1.7 6-1.9 6-2.2 6-2.3 6-2.5 6-2.9 6-3.3 6-3.6 6-3.9 6-4.2 6-5 6-5.4 6-5.3 6-4.8 6-4.1 6-4 6-3.4 6-2.7 6-1.6 6-.8 6-.3 6 1.3 6 2.6 6 3.1 6 4.5 6 5.6 6 5.9 6 6.2 6 6.4 6 6.4 6 6.4 6 6.7 6 6.5 6 6 6 5.4 6 4.2 6 2.8 6 2.3 6 1.6 6 1.1 6 .6 6 .2 6 .1 6 0 6 0 6-.1 6 0 6-.1 6-.2 6-.1 6-.1 6-.1 6-.1 6-.2 6-.1 6-.1 6-.1 6-.2 6-.1 6-.1 6-.2 6-.1 6-.2 6-.1 6-.2 6-.2 6-.2 6-.2 1.5 0"/>
</g>
<g fill="none" stroke="#ff0000" stroke-width="1.6" stroke-linejoin="round" >
<path d="M765.5 180.4l6 .4 6 .4 6 .3 6 .3 6 .3 6 .3 6 .2 6 .2 6 .1 6 .1 6 .1 6 0 6-.1 6 0 6-.1 6-.1 6-.1 6-.1 6-.2 6-.1 6-.1 6-.2 6-.1 6-.1 6-.2 6-.1 6-.1 6 0 6-.1 6 0 6 0 6 .1 6 .1 6 .1 6 .1 6 .1 6 .1 6 .1 6 .1 6 0 6-.1 6 .1 6 .1 6 .2 6 .3 6 .7 6 .6 6 .6 6 .7 6 .6 6 .6 6 .4 6 .2 6-.1 6-.7 6-.9 6-1 6-.6 6-.6 6-.6 6-.4 6-.2 6-.1 6 0 6-.1 6 0 6-.1 6-.2 6-.3 6-.3 6-.4 6-.3 6-.3 6-.4 6-.2 6-.3 6-.2 6-.2 6-.1 6-.1 6-.1 1.5 0"/>
<path d="M765.5 177.2l6-1 6-.9 6-.8 6-.9 6-.7 6-.8 6-.6 6-.6 6-.6 6-.5 6-.4 6-.4 6-.4 6-.3 6-.4 6-.3 6-.4 6-.3 6-.3 6-.4 6-.4 6-.3 6-.4 6-.3 6-.4 6-.3 6-.4 6-.3 6-.4 6-.4 6-.5 6-.5 6-.5 6-.7 6-.6 6-.7 6-.8 6-.7 6-.7 6-.7 6-.7 6-.7 6-.7 6-.7 6-.8 6-.6 6-.4 6 0 6 .7 6 1.3 6 1.3 6 1.4 6 1.6 6 1.8 6 1.8 6 1.7 6 1.4 6 1.3 6 1.3 6 1.2 6 1.2 6 1.1 6 1.1 6 1.1 6 1 6 1 6 .8 6 .8 6 .7 6 .4 6 .3 6 .1 6 .2 6 .1 6 0 6 0 6 0 6 0 6 0 6 0 6-.1 1.5 0"/>
<path d="M765.5 177.3l6-1.1 6-1 6-1 6-.9 6-.8 6-.8 6-.7 6-.6 6-.6 6-.4 6-.4 6-.4 6-.3 6-.3 6-.3 6-.3 6-.3 6-.3 6-.3 6-.3 6-.2 6-.3 6-.2 6-.3 6-.3 6-.3 6-.3 6-.4 6-.5 6-.5 6-.6 6-.7 6-.7 6-.8 6-.8 6-.8 6-.8 6-.8 6-.7 6-.8 6-.9 6-.9 6-.7 6-.5 6-.1 6 .5 6 1 6 1.2 6 1.2 6 1.4 6 1.6 6 1.6 6 1.5 6 1.4 6 1.2 6 1.1 6 1.1 6 1.1 6 1.1 6 1 6 1 6 1.1 6 1 6 .9 6 .9 6 .8 6 .7 6 .6 6 .3 6 .3 6 .2 6 .1 6 .2 6 0 6 0 6 0 6 0 6 0 6-.1 6 0 6-.1 1.5 0"/>
<path d="M765.5 178.2l6-.6 6-.7 6-.7 6-.6 6-.6 6-.6 6-.5 6-.5 6-.4 6-.4 6-.4 6-.3 6-.3 6-.3 6-.3 6-.3 6-.2 6-.3 6-.1 6-.2 6-.1 6-.1 6-.1 6-.1 6-.1 6-.1 6-.1 6-.2 6-.2 6-.2 6-.3 6-.3 6-.3 6-.3 6-.4 6-.4 6-.4 6-.4 6-.6 6-.5 6-.6 6-.3 6-.2 6 .3 6 .8 6 .8 6 .8 6 1 6 1 6 1.1 6 1 6 .8 6 .6 6 .3 6 .2 6 .3 6 .4 6 .3 6 .4 6 .4 6 .5 6 .6 6 .5 6 .5 6 .5 6 .5 6 .3 6 .2 6 .2 6 .1 6 .1 6 0 6 .1 6 0 6 .1 6 0 6 0 6 0 6 0 6 0 6 0 1.5 0"/>
<path d="M765.5 176.5l6-1.3 6-1.3 6-1.3 6-1.2 6-1.2 6-1.1 6-1 6-.9 6-.9 6-.7 6-.7 6-.7 6-.6 6-.6 6-.6 6-.5 6-.5 6-.5 6-.5 6-.4 6-.3 6-.4 6-.2 6-.3 6-.2 6-.3 6-.2 6-.3 6-.3 6-.4 6-.5 6-.5 6-.6 6-.6 6-.6 6-.7 6-.6 6-.6 6-.6 6-.7 6-.8 6-.8 6-.7 6-.4 6 .1 6 .8 6 1.2 6 1.2 6 1.4 6 1.5 6 1.7 6 1.7 6 1.6 6 1.4 6 1.3 6 1.3 6 1.3 6 1.2 6 1.1 6 1.1 6 1.1 6 1.1 6 .9 6 .9 6 .9 6 .8 6 .8 6 .6 6 .4 6 .3 6 .3 6 .3 6 .3 6 .2 6 .2 6 .2 6 .1 6 .2 6 .1 6 .1 6 .1 1.5 0"/>
<path d="M765.5 176.9l6-.9 6-1 6-.9 6-.9 6-.9 6-.8 6-.8 6-.7 6-.6 6-.6 6-.5 6-.4 6-.4 6-.4 6-.4 6-.3 6-.3 6-.3 6-.2 6-.3 6-.2 6-.3 6-.2 6-.3 6-.2 6-.2 6-.3 6-.2 6-.2 6-.3 6-.3 6-.3 6-.4 6-.5 6-.5 6-.7 6-.7 6-.7 6-.8 6-.8 6-.9 6-.8 6-.8 6-.8 6-.9 6-1 6-.9 6-.8 6-.4 6 0 6 .9 6 1.2 6 1.3 6 1.5 6 1.8 6 1.9 6 1.8 6 1.6 6 1.5 6 1.4 6 1.4 6 1.3 6 1.3 6 1.3 6 1.3 6 1.2 6 1.1 6 1.1 6 .9 6 .8 6 .5 6 .4 6 .3 6 .2 6 .2 6 .1 6 0 6 0 6 .1 6-.1 6 0 1.5 0"/>
</g>
<g fill="none" stroke="#ffa060" stroke-width="1.6" stroke-linejoin="round" >
<path d="M765.5 181l6 .2 6 .3 6 .5 6 .6 6 .8 6 .8 6 .9 6 1 6 1 6 1.2 6 1.6 6 1.9 6 2.1 6 2 6 2 6 1.7 6 1.7 6 1.9 6 1.7 6 1.3 6 .7 6-.1 6-.2 6-.4 6-.5 6-1.4 6-2.1 6-2.3 6-2.5 6-2.8 6-3.3 6-3.7 6-4.4 6-5 6-5.3 6-5.8 6-6.4 6-6.1 6-5.3 6-5.4 6-4.3 6-2.4 6-1.7 6-1.4 6-.9 6-.2 6 .7 6 1.4 6 1.7 6 1.9 6 1.7 6 1.9 6 2 6 2.1 6 2.1 6 2 6 2 6 2.1 6 2.1 6 2 6 1.9 6 1.8 6 1.5 6 1.4 6 1.5 6 1.3 6 1.3 6 1.1 6 1.1 6 .8 6 .8 6 .6 6 .7 6 .6 6 .6 6 .5 6 .5 6 .4 6 .3 6 .3 6 .1 1.5 0"/>
</g>
</g>
<g clip-path="url(#clipBL)">
<path d="M92.8,366.9 94.8,367.5 96.8,368.0 98.8,368.5 100.8,369.1 102.8,369.6 104.8,370.0 106.8,370.5 108.8,371.0 110.8,371.5 112.8,371.9 114.8,372.3 116.8,372.8 118.8,373.2 120.8,373.6 122.8,374.0 124.8,374.4 126.8,374.9 128.9,375.3 130.9,375.7 132.9,376.1 134.9,376.5 136.9,376.8 138.9,377.2 140.9,377.6 142.9,378.0 144.9,378.4 146.9,378.8 148.9,379.3 150.9,379.7 152.9,380.1 154.9,380.5 156.9,380.9 158.9,381.4 160.9,381.8 162.9,382.3 164.9,382.7 166.9,383.2 168.9,383.7 170.9,384.2 172.9,384.7 174.9,385.2 176.9,385.7 178.9,386.3 180.9,386.8 182.9,387.4 184.9,388.0 186.9,388.6 188.9,389.2 190.9,389.8 192.9,390.4 194.9,391.1 196.9,391.7 198.9,392.4 201.0,393.0 203.0,393.7 205.0,394.4 207.0,395.1 209.0,395.8 211.0,396.5 213.0,397.2 215.0,398.0 217.0,398.7 219.0,399.4 221.0,400.2 223.0,400.9 225.0,401.7 227.0,402.4 229.0,403.2 231.0,404.0 233.0,404.8 235.0,405.5 237.0,406.3 239.0,407.1 241.0,407.9 243.0,408.7 245.0,409.5 247.0,410.3 249.0,411.1 251.0,411.9 253.0,412.7 255.0,413.5 257.0,414.4 259.0,415.2 261.0,416.0 263.0,416.9 265.0,417.7 267.0,418.6 269.0,419.4 271.1,420.3 273.1,421.2 275.1,422.1 277.1,423.0 279.1,423.9 281.1,424.9 283.1,425.8 285.1,426.8 287.1,427.8 289.1,428.8 291.1,429.8 293.1,430.8 295.1,431.9 297.1,433.0 299.1,434.1 301.1,435.2 303.1,436.3 305.1,437.5 307.1,438.6 309.1,439.9 311.1,441.1 313.1,442.3 315.1,443.6 317.1,444.9 319.1,446.2 321.1,447.6 323.1,449.0 325.1,450.4 327.1,451.8 329.1,453.3 331.1,454.8 333.1,456.3 335.1,457.9 337.1,459.5 339.1,461.1 341.1,462.7 343.2,464.4 345.2,466.0 347.2,467.7 349.2,469.5 351.2,471.2 353.2,472.9 355.2,474.7 357.2,476.5 359.2,478.3 361.2,480.1 363.2,482.0 365.2,483.8 367.2,485.7 369.2,487.5 371.2,489.4 373.2,491.3 375.2,493.2 377.2,495.1 379.2,497.0 381.2,498.9 383.2,500.8 385.2,502.7 387.2,504.7 389.2,506.6 391.2,508.5 393.2,510.4 395.2,512.4 397.2,514.3 399.2,516.2 401.2,518.1 403.2,520.0 405.2,521.9 407.2,523.8 409.2,525.7 411.2,527.6 413.2,529.5 415.3,531.3 417.3,533.2 419.3,535.0 421.3,536.9 423.3,538.7 425.3,540.5 427.3,542.3 429.3,544.0 431.3,545.8 433.3,547.5 435.3,549.2 437.3,550.9 439.3,552.6 441.3,554.2 443.3,555.8 445.3,557.4 447.3,559.0 449.3,560.6 451.3,562.1 453.3,563.6 455.3,565.0 457.3,566.5 459.3,567.9 461.3,569.2 463.3,570.6 465.3,571.9 467.3,573.2 469.3,574.4 471.3,575.7 473.3,576.9 475.3,578.0 477.3,579.2 479.3,580.3 481.3,581.4 483.3,582.5 485.4,583.5 487.4,584.5 489.4,585.5 491.4,586.4 493.4,587.4 495.4,588.3 497.4,589.1 499.4,590.0 501.4,590.8 503.4,591.6 505.4,592.4 507.4,593.1 509.4,593.9 511.4,594.6 513.4,595.3 515.4,595.9 517.4,596.6 519.4,597.2 521.4,597.8 523.4,598.3 525.4,598.9 527.4,599.4 529.4,599.9 531.4,600.4 533.4,600.8 535.4,601.3 537.4,601.7 539.4,602.1 541.4,602.5 543.4,602.8 545.4,603.2 547.4,603.5 549.4,603.8 551.4,604.1 553.4,604.4 555.4,604.6 557.5,604.8 559.5,605.1 561.5,605.2 563.5,605.4 565.5,605.6 567.5,605.7 569.5,605.9 571.5,606.0 573.5,606.1 575.5,606.1 577.5,606.2 579.5,606.3 581.5,606.3 583.5,606.3 585.5,606.3 587.5,606.3 589.5,606.3 591.5,606.2 591.5,608.5 589.5,608.4 587.5,608.3 585.5,608.2 583.5,608.1 581.5,608.0 579.5,608.0 577.5,607.9 575.5,607.9 573.5,607.8 571.5,607.7 569.5,607.7 567.5,607.6 565.5,607.6 563.5,607.6 561.5,607.5 559.5,607.5 557.5,607.4 555.4,607.4 553.4,607.3 551.4,607.3 549.4,607.2 547.4,607.2 545.4,607.1 543.4,607.0 541.4,607.0 539.4,606.9 537.4,606.8 535.4,606.7 533.4,606.7 531.4,606.6 529.4,606.5 527.4,606.3 525.4,606.2 523.4,606.1 521.4,606.0 519.4,605.8 517.4,605.7 515.4,605.5 513.4,605.3 511.4,605.2 509.4,605.0 507.4,604.8 505.4,604.5 503.4,604.3 501.4,604.1 499.4,603.8 497.4,603.5 495.4,603.2 493.4,602.9 491.4,602.6 489.4,602.3 487.4,601.9 485.4,601.5 483.3,601.2 481.3,600.8 479.3,600.3 477.3,599.9 475.3,599.4 473.3,598.9 471.3,598.4 469.3,597.9 467.3,597.4 465.3,596.8 463.3,596.2 461.3,595.6 459.3,595.0 457.3,594.3 455.3,593.7 453.3,592.9 451.3,592.2 449.3,591.5 447.3,590.7 445.3,589.9 443.3,589.0 441.3,588.2 439.3,587.3 437.3,586.3 435.3,585.4 433.3,584.4 431.3,583.3 429.3,582.3 427.3,581.1 425.3,580.0 423.3,578.8 421.3,577.6 419.3,576.4 417.3,575.1 415.3,573.7 413.2,572.4 411.2,571.0 409.2,569.5 407.2,568.0 405.2,566.5 403.2,565.0 401.2,563.4 399.2,561.8 397.2,560.1 395.2,558.4 393.2,556.7 391.2,555.0 389.2,553.2 387.2,551.4 385.2,549.6 383.2,547.8 381.2,545.9 379.2,544.0 377.2,542.1 375.2,540.2 373.2,538.2 371.2,536.3 369.2,534.3 367.2,532.3 365.2,530.3 363.2,528.2 361.2,526.2 359.2,524.1 357.2,522.1 355.2,520.0 353.2,518.0 351.2,515.9 349.2,513.8 347.2,511.8 345.2,509.7 343.2,507.7 341.1,505.6 339.1,503.6 337.1,501.5 335.1,499.5 333.1,497.5 331.1,495.5 329.1,493.6 327.1,491.6 325.1,489.7 323.1,487.7 321.1,485.8 319.1,484.0 317.1,482.1 315.1,480.3 313.1,478.5 311.1,476.7 309.1,475.0 307.1,473.2 305.1,471.5 303.1,469.8 301.1,468.2 299.1,466.5 297.1,464.9 295.1,463.4 293.1,461.8 291.1,460.3 289.1,458.8 287.1,457.3 285.1,455.9 283.1,454.5 281.1,453.1 279.1,451.7 277.1,450.4 275.1,449.1 273.1,447.8 271.1,446.5 269.0,445.3 267.0,444.1 265.0,442.9 263.0,441.7 261.0,440.6 259.0,439.4 257.0,438.3 255.0,437.2 253.0,436.2 251.0,435.1 249.0,434.1 247.0,433.0 245.0,432.0 243.0,431.0 241.0,430.1 239.0,429.1 237.0,428.2 235.0,427.2 233.0,426.3 231.0,425.4 229.0,424.5 227.0,423.6 225.0,422.7 223.0,421.9 221.0,421.0 219.0,420.1 217.0,419.3 215.0,418.5 213.0,417.6 211.0,416.8 209.0,416.0 207.0,415.1 205.0,414.3 203.0,413.5 201.0,412.7 198.9,411.8 196.9,411.0 194.9,410.2 192.9,409.4 190.9,408.6 188.9,407.7 186.9,406.9 184.9,406.0 182.9,405.2 180.9,404.4 178.9,403.5 176.9,402.6 174.9,401.8 172.9,400.9 170.9,400.0 168.9,399.1 166.9,398.2 164.9,397.3 162.9,396.4 160.9,395.5 158.9,394.5 156.9,393.6 154.9,392.7 152.9,391.8 150.9,390.8 148.9,389.9 146.9,389.0 144.9,388.1 142.9,387.2 140.9,386.3 138.9,385.4 136.9,384.5 134.9,383.6 132.9,382.7 130.9,381.8 128.9,380.9 126.8,380.1 124.8,379.3 122.8,378.4 120.8,377.6 118.8,376.8 116.8,376.0 114.8,375.3 112.8,374.5 110.8,373.8 108.8,373.1 106.8,372.4 104.8,371.7 102.8,371.0 100.8,370.4 98.8,369.8 96.8,369.2 94.8,368.7 92.8,368.1Z" fill="#ff0000" />
<path d="M92.8,366.8 94.8,367.3 96.8,367.9 98.8,368.5 100.8,369.0 102.8,369.6 104.8,370.2 106.8,370.7 108.8,371.3 110.8,371.9 112.8,372.5 114.8,373.0 116.8,373.6 118.8,374.2 120.8,374.8 122.8,375.3 124.8,375.9 126.8,376.5 128.9,377.1 130.9,377.7 132.9,378.3 134.9,378.9 136.9,379.5 138.9,380.1 140.9,380.7 142.9,381.3 144.9,381.9 146.9,382.5 148.9,383.1 150.9,383.7 152.9,384.3 154.9,384.9 156.9,385.6 158.9,386.2 160.9,386.8 162.9,387.5 164.9,388.1 166.9,388.7 168.9,389.4 170.9,390.0 172.9,390.7 174.9,391.3 176.9,392.0 178.9,392.7 180.9,393.3 182.9,394.0 184.9,394.7 186.9,395.4 188.9,396.1 190.9,396.8 192.9,397.5 194.9,398.2 196.9,398.9 198.9,399.6 201.0,400.3 203.0,401.1 205.0,401.8 207.0,402.5 209.0,403.3 211.0,404.0 213.0,404.8 215.0,405.5 217.0,406.3 219.0,407.1 221.0,407.9 223.0,408.7 225.0,409.4 227.0,410.2 229.0,411.1 231.0,411.9 233.0,412.7 235.0,413.5 237.0,414.4 239.0,415.2 241.0,416.1 243.0,416.9 245.0,417.8 247.0,418.7 249.0,419.5 251.0,420.4 253.0,421.3 255.0,422.2 257.0,423.2 259.0,424.1 261.0,425.0 263.0,426.0 265.0,426.9 267.0,427.9 269.0,428.9 271.1,429.9 273.1,430.9 275.1,431.9 277.1,432.9 279.1,434.0 281.1,435.1 283.1,436.1 285.1,437.2 287.1,438.3 289.1,439.5 291.1,440.6 293.1,441.8 295.1,442.9 297.1,444.1 299.1,445.3 301.1,446.6 303.1,447.8 305.1,449.1 307.1,450.3 309.1,451.6 311.1,453.0 313.1,454.3 315.1,455.7 317.1,457.1 319.1,458.5 321.1,459.9 323.1,461.3 325.1,462.8 327.1,464.3 329.1,465.8 331.1,467.4 333.1,468.9 335.1,470.5 337.1,472.1 339.1,473.7 341.1,475.3 343.2,477.0 345.2,478.7 347.2,480.4 349.2,482.1 351.2,483.8 353.2,485.5 355.2,487.2 357.2,489.0 359.2,490.7 361.2,492.5 363.2,494.3 365.2,496.1 367.2,497.9 369.2,499.7 371.2,501.5 373.2,503.3 375.2,505.1 377.2,506.9 379.2,508.8 381.2,510.6 383.2,512.4 385.2,514.2 387.2,516.0 389.2,517.9 391.2,519.7 393.2,521.5 395.2,523.3 397.2,525.1 399.2,526.9 401.2,528.7 403.2,530.5 405.2,532.3 407.2,534.0 409.2,535.8 411.2,537.6 413.2,539.3 415.3,541.0 417.3,542.7 419.3,544.4 421.3,546.1 423.3,547.8 425.3,549.4 427.3,551.1 429.3,552.7 431.3,554.3 433.3,555.9 435.3,557.4 437.3,558.9 439.3,560.5 441.3,562.0 443.3,563.4 445.3,564.9 447.3,566.3 449.3,567.7 451.3,569.0 453.3,570.4 455.3,571.7 457.3,573.0 459.3,574.2 461.3,575.4 463.3,576.6 465.3,577.8 467.3,578.9 469.3,580.0 471.3,581.1 473.3,582.1 475.3,583.1 477.3,584.1 479.3,585.1 481.3,586.0 483.3,587.0 485.4,587.8 487.4,588.7 489.4,589.5 491.4,590.3 493.4,591.1 495.4,591.9 497.4,592.6 499.4,593.3 501.4,594.0 503.4,594.7 505.4,595.4 507.4,596.0 509.4,596.6 511.4,597.2 513.4,597.7 515.4,598.3 517.4,598.8 519.4,599.3 521.4,599.7 523.4,600.2 525.4,600.6 527.4,601.1 529.4,601.4 531.4,601.8 533.4,602.2 535.4,602.5 537.4,602.9 539.4,603.2 541.4,603.5 543.4,603.7 545.4,604.0 547.4,604.2 549.4,604.5 551.4,604.7 553.4,604.9 555.4,605.1 557.5,605.2 559.5,605.4 561.5,605.5 563.5,605.7 565.5,605.8 567.5,605.9 569.5,606.0 571.5,606.0 573.5,606.1 575.5,606.2 577.5,606.2 579.5,606.2 581.5,606.2 583.5,606.3 585.5,606.3 587.5,606.3 589.5,606.2 591.5,606.2 591.5,608.5 589.5,608.4 587.5,608.3 585.5,608.2 583.5,608.1 581.5,608.0 579.5,608.0 577.5,607.9 575.5,607.9 573.5,607.8 571.5,607.7 569.5,607.7 567.5,607.6 565.5,607.6 563.5,607.6 561.5,607.5 559.5,607.5 557.5,607.4 555.4,607.4 553.4,607.3 551.4,607.3 549.4,607.2 547.4,607.2 545.4,607.1 543.4,607.0 541.4,607.0 539.4,606.9 537.4,606.8 535.4,606.7 533.4,606.7 531.4,606.6 529.4,606.5 527.4,606.3 525.4,606.2 523.4,606.1 521.4,606.0 519.4,605.8 517.4,605.7 515.4,605.5 513.4,605.3 511.4,605.2 509.4,605.0 507.4,604.8 505.4,604.5 503.4,604.3 501.4,604.1 499.4,603.8 497.4,603.5 495.4,603.2 493.4,602.9 491.4,602.6 489.4,602.3 487.4,601.9 485.4,601.5 483.3,601.2 481.3,600.8 479.3,600.3 477.3,599.9 475.3,599.4 473.3,598.9 471.3,598.4 469.3,597.9 467.3,597.4 465.3,596.8 463.3,596.2 461.3,595.6 459.3,595.0 457.3,594.3 455.3,593.7 453.3,592.9 451.3,592.2 449.3,591.5 447.3,590.7 445.3,589.9 443.3,589.0 441.3,588.2 439.3,587.3 437.3,586.3 435.3,585.4 433.3,584.4 431.3,583.3 429.3,582.3 427.3,581.1 425.3,580.0 423.3,578.8 421.3,577.6 419.3,576.4 417.3,575.1 415.3,573.7 413.2,572.4 411.2,571.0 409.2,569.5 407.2,568.0 405.2,566.5 403.2,565.0 401.2,563.4 399.2,561.8 397.2,560.1 395.2,558.4 393.2,556.7 391.2,555.0 389.2,553.2 387.2,551.4 385.2,549.6 383.2,547.8 381.2,545.9 379.2,544.0 377.2,542.1 375.2,540.2 373.2,538.2 371.2,536.3 369.2,534.3 367.2,532.3 365.2,530.3 363.2,528.2 361.2,526.2 359.2,524.1 357.2,522.1 355.2,520.0 353.2,518.0 351.2,515.9 349.2,513.8 347.2,511.8 345.2,509.7 343.2,507.7 341.1,505.6 339.1,503.6 337.1,501.5 335.1,499.5 333.1,497.5 331.1,495.5 329.1,493.6 327.1,491.6 325.1,489.7 323.1,487.7 321.1,485.8 319.1,484.0 317.1,482.1 315.1,480.3 313.1,478.5 311.1,476.7 309.1,475.0 307.1,473.2 305.1,471.5 303.1,469.8 301.1,468.2 299.1,466.5 297.1,464.9 295.1,463.4 293.1,461.8 291.1,460.3 289.1,458.8 287.1,457.3 285.1,455.9 283.1,454.5 281.1,453.1 279.1,451.7 277.1,450.4 275.1,449.1 273.1,447.8 271.1,446.5 269.0,445.3 267.0,444.1 265.0,442.9 263.0,441.7 261.0,440.6 259.0,439.4 257.0,438.3 255.0,437.2 253.0,436.2 251.0,435.1 249.0,434.1 247.0,433.0 245.0,432.0 243.0,431.0 241.0,430.1 239.0,429.1 237.0,428.2 235.0,427.2 233.0,426.3 231.0,425.4 229.0,424.5 227.0,423.6 225.0,422.7 223.0,421.9 221.0,421.0 219.0,420.1 217.0,419.3 215.0,418.5 213.0,417.6 211.0,416.8 209.0,416.0 207.0,415.1 205.0,414.3 203.0,413.5 201.0,412.7 198.9,411.8 196.9,411.0 194.9,410.2 192.9,409.4 190.9,408.6 188.9,407.7 186.9,406.9 184.9,406.0 182.9,405.2 180.9,404.4 178.9,403.5 176.9,402.6 174.9,401.8 172.9,400.9 170.9,400.0 168.9,399.1 166.9,398.2 164.9,397.3 162.9,396.4 160.9,395.5 158.9,394.5 156.9,393.6 154.9,392.7 152.9,391.8 150.9,390.8 148.9,389.9 146.9,389.0 144.9,388.1 142.9,387.2 140.9,386.3 138.9,385.4 136.9,384.5 134.9,383.6 132.9,382.7 130.9,381.8 128.9,380.9 126.8,380.1 124.8,379.3 122.8,378.4 120.8,377.6 118.8,376.8 116.8,376.0 114.8,375.3 112.8,374.5 110.8,373.8 108.8,373.1 106.8,372.4 104.8,371.7 102.8,371.0 100.8,370.4 98.8,369.8 96.8,369.2 94.8,368.7 92.8,368.1Z" fill="#00ff00" />
<path d="M92.8,367.2 94.8,367.8 96.8,368.3 98.8,368.9 100.8,369.4 102.8,370.0 104.8,370.6 106.8,371.2 108.8,371.8 110.8,372.4 112.8,373.0 114.8,373.7 116.8,374.3 118.8,374.9 120.8,375.6 122.8,376.2 124.8,376.9 126.8,377.6 128.9,378.3 130.9,378.9 132.9,379.6 134.9,380.3 136.9,381.0 138.9,381.8 140.9,382.5 142.9,383.2 144.9,383.9 146.9,384.7 148.9,385.4 150.9,386.2 152.9,386.9 154.9,387.7 156.9,388.4 158.9,389.2 160.9,390.0 162.9,390.7 164.9,391.5 166.9,392.3 168.9,393.1 170.9,393.9 172.9,394.7 174.9,395.5 176.9,396.3 178.9,397.1 180.9,397.9 182.9,398.7 184.9,399.6 186.9,400.4 188.9,401.2 190.9,402.0 192.9,402.9 194.9,403.7 196.9,404.5 198.9,405.4 201.0,406.2 203.0,407.1 205.0,407.9 207.0,408.7 209.0,409.6 211.0,410.4 213.0,411.3 215.0,412.1 217.0,413.0 219.0,413.9 221.0,414.7 223.0,415.6 225.0,416.4 227.0,417.3 229.0,418.1 231.0,419.0 233.0,419.9 235.0,420.7 237.0,421.6 239.0,422.4 241.0,423.3 243.0,424.1 245.0,425.0 247.0,425.9 249.0,426.7 251.0,427.6 253.0,428.4 255.0,429.3 257.0,430.2 259.0,431.0 261.0,431.9 263.0,432.8 265.0,433.7 267.0,434.6 269.0,435.5 271.1,436.4 273.1,437.3 275.1,438.3 277.1,439.2 279.1,440.2 281.1,441.2 283.1,442.2 285.1,443.2 287.1,444.3 289.1,445.3 291.1,446.4 293.1,447.5 295.1,448.7 297.1,449.8 299.1,451.0 301.1,452.2 303.1,453.4 305.1,454.7 307.1,456.0 309.1,457.3 311.1,458.7 313.1,460.0 315.1,461.5 317.1,462.9 319.1,464.4 321.1,466.0 323.1,467.5 325.1,469.2 327.1,470.8 329.1,472.5 331.1,474.3 333.1,476.0 335.1,477.8 337.1,479.7 339.1,481.5 341.1,483.4 343.2,485.3 345.2,487.2 347.2,489.2 349.2,491.1 351.2,493.1 353.2,495.0 355.2,497.0 357.2,499.0 359.2,500.9 361.2,502.9 363.2,504.8 365.2,506.7 367.2,508.6 369.2,510.5 371.2,512.4 373.2,514.3 375.2,516.1 377.2,517.9 379.2,519.7 381.2,521.5 383.2,523.2 385.2,525.0 387.2,526.8 389.2,528.5 391.2,530.2 393.2,531.9 395.2,533.7 397.2,535.4 399.2,537.1 401.2,538.8 403.2,540.4 405.2,542.1 407.2,543.8 409.2,545.4 411.2,547.0 413.2,548.6 415.3,550.2 417.3,551.8 419.3,553.4 421.3,554.9 423.3,556.5 425.3,558.0 427.3,559.5 429.3,560.9 431.3,562.4 433.3,563.8 435.3,565.2 437.3,566.6 439.3,567.9 441.3,569.3 443.3,570.6 445.3,571.8 447.3,573.1 449.3,574.3 451.3,575.5 453.3,576.7 455.3,577.8 457.3,578.9 459.3,580.0 461.3,581.0 463.3,582.0 465.3,583.0 467.3,583.9 469.3,584.9 471.3,585.7 473.3,586.6 475.3,587.4 477.3,588.3 479.3,589.0 481.3,589.8 483.3,590.5 485.4,591.2 487.4,591.9 489.4,592.6 491.4,593.2 493.4,593.8 495.4,594.4 497.4,595.0 499.4,595.5 501.4,596.0 503.4,596.6 505.4,597.0 507.4,597.5 509.4,598.0 511.4,598.4 513.4,598.8 515.4,599.2 517.4,599.6 519.4,600.0 521.4,600.3 523.4,600.7 525.4,601.0 527.4,601.3 529.4,601.6 531.4,601.9 533.4,602.1 535.4,602.4 537.4,602.7 539.4,602.9 541.4,603.1 543.4,603.4 545.4,603.6 547.4,603.8 549.4,604.0 551.4,604.2 553.4,604.3 555.4,604.5 557.5,604.7 559.5,604.9 561.5,605.0 563.5,605.2 565.5,605.3 567.5,605.5 569.5,605.6 571.5,605.8 573.5,605.9 575.5,606.1 577.5,606.2 579.5,606.4 581.5,606.5 583.5,606.7 585.5,606.8 587.5,607.0 589.5,607.1 591.5,607.3 591.5,608.5 589.5,608.4 587.5,608.3 585.5,608.2 583.5,608.1 581.5,608.0 579.5,608.0 577.5,607.9 575.5,607.9 573.5,607.8 571.5,607.7 569.5,607.7 567.5,607.6 565.5,607.6 563.5,607.6 561.5,607.5 559.5,607.5 557.5,607.4 555.4,607.4 553.4,607.3 551.4,607.3 549.4,607.2 547.4,607.2 545.4,607.1 543.4,607.0 541.4,607.0 539.4,606.9 537.4,606.8 535.4,606.7 533.4,606.7 531.4,606.6 529.4,606.5 527.4,606.3 525.4,606.2 523.4,606.1 521.4,606.0 519.4,605.8 517.4,605.7 515.4,605.5 513.4,605.3 511.4,605.2 509.4,605.0 507.4,604.8 505.4,604.5 503.4,604.3 501.4,604.1 499.4,603.8 497.4,603.5 495.4,603.2 493.4,602.9 491.4,602.6 489.4,602.3 487.4,601.9 485.4,601.5 483.3,601.2 481.3,600.8 479.3,600.3 477.3,599.9 475.3,599.4 473.3,598.9 471.3,598.4 469.3,597.9 467.3,597.4 465.3,596.8 463.3,596.2 461.3,595.6 459.3,595.0 457.3,594.3 455.3,593.7 453.3,592.9 451.3,592.2 449.3,591.5 447.3,590.7 445.3,589.9 443.3,589.0 441.3,588.2 439.3,587.3 437.3,586.3 435.3,585.4 433.3,584.4 431.3,583.3 429.3,582.3 427.3,581.1 425.3,580.0 423.3,578.8 421.3,577.6 419.3,576.4 417.3,575.1 415.3,573.7 413.2,572.4 411.2,571.0 409.2,569.5 407.2,568.0 405.2,566.5 403.2,565.0 401.2,563.4 399.2,561.8 397.2,560.1 395.2,558.4 393.2,556.7 391.2,555.0 389.2,553.2 387.2,551.4 385.2,549.6 383.2,547.8 381.2,545.9 379.2,544.0 377.2,542.1 375.2,540.2 373.2,538.2 371.2,536.3 369.2,534.3 367.2,532.3 365.2,530.3 363.2,528.2 361.2,526.2 359.2,524.1 357.2,522.1 355.2,520.0 353.2,518.0 351.2,515.9 349.2,513.8 347.2,511.8 345.2,509.7 343.2,507.7 341.1,505.6 339.1,503.6 337.1,501.5 335.1,499.5 333.1,497.5 331.1,495.5 329.1,493.6 327.1,491.6 325.1,489.7 323.1,487.7 321.1,485.8 319.1,484.0 317.1,482.1 315.1,480.3 313.1,478.5 311.1,476.7 309.1,475.0 307.1,473.2 305.1,471.5 303.1,469.8 301.1,468.2 299.1,466.5 297.1,464.9 295.1,463.4 293.1,461.8 291.1,460.3 289.1,458.8 287.1,457.3 285.1,455.9 283.1,454.5 281.1,453.1 279.1,451.7 277.1,450.4 275.1,449.1 273.1,447.8 271.1,446.5 269.0,445.3 267.0,444.1 265.0,442.9 263.0,441.7 261.0,440.6 259.0,439.4 257.0,438.3 255.0,437.2 253.0,436.2 251.0,435.1 249.0,434.1 247.0,433.0 245.0,432.0 243.0,431.0 241.0,430.1 239.0,429.1 237.0,428.2 235.0,427.2 233.0,426.3 231.0,425.4 229.0,424.5 227.0,423.6 225.0,422.7 223.0,421.9 221.0,421.0 219.0,420.1 217.0,419.3 215.0,418.5 213.0,417.6 211.0,416.8 209.0,416.0 207.0,415.1 205.0,414.3 203.0,413.5 201.0,412.7 198.9,411.8 196.9,411.0 194.9,410.2 192.9,409.4 190.9,408.6 188.9,407.7 186.9,406.9 184.9,406.0 182.9,405.2 180.9,404.4 178.9,403.5 176.9,402.6 174.9,401.8 172.9,400.9 170.9,400.0 168.9,399.1 166.9,398.2 164.9,397.3 162.9,396.4 160.9,395.5 158.9,394.5 156.9,393.6 154.9,392.7 152.9,391.8 150.9,390.8 148.9,389.9 146.9,389.0 144.9,388.1 142.9,387.2 140.9,386.3 138.9,385.4 136.9,384.5 134.9,383.6 132.9,382.7 130.9,381.8 128.9,380.9 126.8,380.1 124.8,379.3 122.8,378.4 120.8,377.6 118.8,376.8 116.8,376.0 114.8,375.3 112.8,374.5 110.8,373.8 108.8,373.1 106.8,372.4 104.8,371.7 102.8,371.0 100.8,370.4 98.8,369.8 96.8,369.2 94.8,368.7 92.8,368.1Z" fill="#0000ff" />
<path d="M92.8,367.6 94.8,368.1 96.8,368.6 98.8,369.2 100.8,369.7 102.8,370.3 104.8,370.9 106.8,371.5 108.8,372.1 110.8,372.7 112.8,373.3 114.8,374.0 116.8,374.7 118.8,375.3 120.8,376.0 122.8,376.7 124.8,377.5 126.8,378.2 128.9,378.9 130.9,379.7 132.9,380.4 134.9,381.2 136.9,381.9 138.9,382.7 140.9,383.5 142.9,384.3 144.9,385.1 146.9,385.9 148.9,386.7 150.9,387.5 152.9,388.3 154.9,389.2 156.9,390.0 158.9,390.8 160.9,391.6 162.9,392.5 164.9,393.3 166.9,394.2 168.9,395.0 170.9,395.8 172.9,396.7 174.9,397.5 176.9,398.3 178.9,399.2 180.9,400.0 182.9,400.8 184.9,401.7 186.9,402.5 188.9,403.3 190.9,404.2 192.9,405.0 194.9,405.8 196.9,406.7 198.9,407.5 201.0,408.3 203.0,409.2 205.0,410.0 207.0,410.9 209.0,411.7 211.0,412.6 213.0,413.4 215.0,414.3 217.0,415.1 219.0,416.0 221.0,416.8 223.0,417.7 225.0,418.6 227.0,419.5 229.0,420.3 231.0,421.2 233.0,422.1 235.0,423.0 237.0,423.9 239.0,424.8 241.0,425.7 243.0,426.6 245.0,427.5 247.0,428.5 249.0,429.4 251.0,430.3 253.0,431.3 255.0,432.2 257.0,433.2 259.0,434.1 261.0,435.1 263.0,436.1 265.0,437.1 267.0,438.1 269.0,439.1 271.1,440.1 273.1,441.1 275.1,442.1 277.1,443.2 279.1,444.2 281.1,445.3 283.1,446.3 285.1,447.4 287.1,448.5 289.1,449.6 291.1,450.7 293.1,451.8 295.1,452.9 297.1,454.1 299.1,455.3 301.1,456.5 303.1,457.7 305.1,459.0 307.1,460.3 309.1,461.7 311.1,463.1 313.1,464.6 315.1,466.1 317.1,467.7 319.1,469.3 321.1,471.1 323.1,472.9 325.1,474.7 327.1,476.7 329.1,478.7 331.1,480.8 333.1,483.0 335.1,485.2 337.1,487.5 339.1,489.8 341.1,492.1 343.2,494.4 345.2,496.7 347.2,499.1 349.2,501.4 351.2,503.7 353.2,505.9 355.2,508.2 357.2,510.3 359.2,512.4 361.2,514.5 363.2,516.5 365.2,518.4 367.2,520.4 369.2,522.2 371.2,524.1 373.2,526.0 375.2,527.8 377.2,529.7 379.2,531.5 381.2,533.3 383.2,535.1 385.2,536.9 387.2,538.7 389.2,540.4 391.2,542.1 393.2,543.8 395.2,545.5 397.2,547.1 399.2,548.8 401.2,550.4 403.2,551.9 405.2,553.5 407.2,555.0 409.2,556.6 411.2,558.1 413.2,559.5 415.3,561.0 417.3,562.4 419.3,563.8 421.3,565.2 423.3,566.5 425.3,567.8 427.3,569.1 429.3,570.4 431.3,571.6 433.3,572.8 435.3,574.0 437.3,575.2 439.3,576.3 441.3,577.4 443.3,578.5 445.3,579.6 447.3,580.6 449.3,581.6 451.3,582.5 453.3,583.5 455.3,584.4 457.3,585.3 459.3,586.1 461.3,586.9 463.3,587.7 465.3,588.5 467.3,589.2 469.3,589.9 471.3,590.6 473.3,591.3 475.3,591.9 477.3,592.5 479.3,593.1 481.3,593.6 483.3,594.2 485.4,594.7 487.4,595.2 489.4,595.7 491.4,596.1 493.4,596.6 495.4,597.0 497.4,597.4 499.4,597.8 501.4,598.1 503.4,598.5 505.4,598.8 507.4,599.1 509.4,599.5 511.4,599.7 513.4,600.0 515.4,600.3 517.4,600.6 519.4,600.8 521.4,601.0 523.4,601.3 525.4,601.5 527.4,601.7 529.4,601.9 531.4,602.1 533.4,602.3 535.4,602.5 537.4,602.7 539.4,602.8 541.4,603.0 543.4,603.2 545.4,603.4 547.4,603.5 549.4,603.7 551.4,603.8 553.4,604.0 555.4,604.2 557.5,604.3 559.5,604.5 561.5,604.7 563.5,604.8 565.5,605.0 567.5,605.2 569.5,605.4 571.5,605.6 573.5,605.8 575.5,606.0 577.5,606.2 579.5,606.4 581.5,606.7 583.5,606.9 585.5,607.1 587.5,607.4 589.5,607.7 591.5,608.0 591.5,608.5 589.5,608.4 587.5,608.3 585.5,608.2 583.5,608.1 581.5,608.0 579.5,608.0 577.5,607.9 575.5,607.9 573.5,607.8 571.5,607.7 569.5,607.7 567.5,607.6 565.5,607.6 563.5,607.6 561.5,607.5 559.5,607.5 557.5,607.4 555.4,607.4 553.4,607.3 551.4,607.3 549.4,607.2 547.4,607.2 545.4,607.1 543.4,607.0 541.4,607.0 539.4,606.9 537.4,606.8 535.4,606.7 533.4,606.7 531.4,606.6 529.4,606.5 527.4,606.3 525.4,606.2 523.4,606.1 521.4,606.0 519.4,605.8 517.4,605.7 515.4,605.5 513.4,605.3 511.4,605.2 509.4,605.0 507.4,604.8 505.4,604.5 503.4,604.3 501.4,604.1 499.4,603.8 497.4,603.5 495.4,603.2 493.4,602.9 491.4,602.6 489.4,602.3 487.4,601.9 485.4,601.5 483.3,601.2 481.3,600.8 479.3,600.3 477.3,599.9 475.3,599.4 473.3,598.9 471.3,598.4 469.3,597.9 467.3,597.4 465.3,596.8 463.3,596.2 461.3,595.6 459.3,595.0 457.3,594.3 455.3,593.7 453.3,592.9 451.3,592.2 449.3,591.5 447.3,590.7 445.3,589.9 443.3,589.0 441.3,588.2 439.3,587.3 437.3,586.3 435.3,585.4 433.3,584.4 431.3,583.3 429.3,582.3 427.3,581.1 425.3,580.0 423.3,578.8 421.3,577.6 419.3,576.4 417.3,575.1 415.3,573.7 413.2,572.4 411.2,571.0 409.2,569.5 407.2,568.0 405.2,566.5 403.2,565.0 401.2,563.4 399.2,561.8 397.2,560.1 395.2,558.4 393.2,556.7 391.2,555.0 389.2,553.2 387.2,551.4 385.2,549.6 383.2,547.8 381.2,545.9 379.2,544.0 377.2,542.1 375.2,540.2 373.2,538.2 371.2,536.3 369.2,534.3 367.2,532.3 365.2,530.3 363.2,528.2 361.2,526.2 359.2,524.1 357.2,522.1 355.2,520.0 353.2,518.0 351.2,515.9 349.2,513.8 347.2,511.8 345.2,509.7 343.2,507.7 341.1,505.6 339.1,503.6 337.1,501.5 335.1,499.5 333.1,497.5 331.1,495.5 329.1,493.6 327.1,491.6 325.1,489.7 323.1,487.7 321.1,485.8 319.1,484.0 317.1,482.1 315.1,480.3 313.1,478.5 311.1,476.7 309.1,475.0 307.1,473.2 305.1,471.5 303.1,469.8 301.1,468.2 299.1,466.5 297.1,464.9 295.1,463.4 293.1,461.8 291.1,460.3 289.1,458.8 287.1,457.3 285.1,455.9 283.1,454.5 281.1,453.1 279.1,451.7 277.1,450.4 275.1,449.1 273.1,447.8 271.1,446.5 269.0,445.3 267.0,444.1 265.0,442.9 263.0,441.7 261.0,440.6 259.0,439.4 257.0,438.3 255.0,437.2 253.0,436.2 251.0,435.1 249.0,434.1 247.0,433.0 245.0,432.0 243.0,431.0 241.0,430.1 239.0,429.1 237.0,428.2 235.0,427.2 233.0,426.3 231.0,425.4 229.0,424.5 227.0,423.6 225.0,422.7 223.0,421.9 221.0,421.0 219.0,420.1 217.0,419.3 215.0,418.5 213.0,417.6 211.0,416.8 209.0,416.0 207.0,415.1 205.0,414.3 203.0,413.5 201.0,412.7 198.9,411.8 196.9,411.0 194.9,410.2 192.9,409.4 190.9,408.6 188.9,407.7 186.9,406.9 184.9,406.0 182.9,405.2 180.9,404.4 178.9,403.5 176.9,402.6 174.9,401.8 172.9,400.9 170.9,400.0 168.9,399.1 166.9,398.2 164.9,397.3 162.9,396.4 160.9,395.5 158.9,394.5 156.9,393.6 154.9,392.7 152.9,391.8 150.9,390.8 148.9,389.9 146.9,389.0 144.9,388.1 142.9,387.2 140.9,386.3 138.9,385.4 136.9,384.5 134.9,383.6 132.9,382.7 130.9,381.8 128.9,380.9 126.8,380.1 124.8,379.3 122.8,378.4 120.8,377.6 118.8,376.8 116.8,376.0 114.8,375.3 112.8,374.5 110.8,373.8 108.8,373.1 106.8,372.4 104.8,371.7 102.8,371.0 100.8,370.4 98.8,369.8 96.8,369.2 94.8,368.7 92.8,368.1Z" fill="#008000" />
<path d="M92.8,367.5 94.8,368.1 96.8,368.7 98.8,369.3 100.8,369.9 102.8,370.6 104.8,371.3 106.8,372.0 108.8,372.7 110.8,373.4 112.8,374.2 114.8,374.9 116.8,375.7 118.8,376.5 120.8,377.3 122.8,378.2 124.8,379.0 126.8,379.9 128.9,380.7 130.9,381.6 132.9,382.5 134.9,383.3 136.9,384.2 138.9,385.1 140.9,386.0 142.9,386.9 144.9,387.8 146.9,388.7 148.9,389.7 150.9,390.6 152.9,391.5 154.9,392.4 156.9,393.3 158.9,394.2 160.9,395.1 162.9,396.0 164.9,396.9 166.9,397.8 168.9,398.7 170.9,399.6 172.9,400.4 174.9,401.3 176.9,402.1 178.9,403.0 180.9,403.8 182.9,404.6 184.9,405.5 186.9,406.3 188.9,407.1 190.9,407.9 192.9,408.7 194.9,409.5 196.9,410.3 198.9,411.1 201.0,411.9 203.0,412.6 205.0,413.4 207.0,414.2 209.0,415.0 211.0,415.9 213.0,416.7 215.0,417.5 217.0,418.3 219.0,419.1 221.0,420.0 223.0,420.8 225.0,421.7 227.0,422.5 229.0,423.4 231.0,424.3 233.0,425.2 235.0,426.1 237.0,427.1 239.0,428.0 241.0,429.0 243.0,430.0 245.0,431.0 247.0,432.0 249.0,433.0 251.0,434.1 253.0,435.1 255.0,436.2 257.0,437.3 259.0,438.5 261.0,439.6 263.0,440.8 265.0,442.0 267.0,443.2 269.0,444.4 271.1,445.7 273.1,447.0 275.1,448.3 277.1,449.6 279.1,450.9 281.1,452.3 283.1,453.7 285.1,455.1 287.1,456.5 289.1,457.9 291.1,459.4 293.1,460.9 295.1,462.4 297.1,464.0 299.1,465.5 301.1,467.1 303.1,468.7 305.1,470.4 307.1,472.0 309.1,473.7 311.1,475.4 313.1,477.1 315.1,478.9 317.1,480.7 319.1,482.5 321.1,484.3 323.1,486.2 325.1,488.1 327.1,490.0 329.1,491.9 331.1,493.9 333.1,495.9 335.1,497.9 337.1,499.9 339.1,501.9 341.1,503.9 343.2,506.0 345.2,508.1 347.2,510.1 349.2,512.2 351.2,514.3 353.2,516.4 355.2,518.4 357.2,520.5 359.2,522.6 361.2,524.6 363.2,526.7 365.2,528.7 367.2,530.8 369.2,532.8 371.2,534.8 373.2,536.7 375.2,538.7 377.2,540.6 379.2,542.5 381.2,544.4 383.2,546.3 385.2,548.1 387.2,549.9 389.2,551.6 391.2,553.3 393.2,555.0 395.2,556.6 397.2,558.2 399.2,559.8 401.2,561.3 403.2,562.8 405.2,564.3 407.2,565.7 409.2,567.1 411.2,568.5 413.2,569.8 415.3,571.1 417.3,572.4 419.3,573.6 421.3,574.8 423.3,576.0 425.3,577.1 427.3,578.2 429.3,579.3 431.3,580.4 433.3,581.4 435.3,582.4 437.3,583.3 439.3,584.3 441.3,585.2 443.3,586.1 445.3,586.9 447.3,587.7 449.3,588.5 451.3,589.3 453.3,590.1 455.3,590.8 457.3,591.5 459.3,592.2 461.3,592.8 463.3,593.4 465.3,594.0 467.3,594.6 469.3,595.2 471.3,595.7 473.3,596.2 475.3,596.7 477.3,597.2 479.3,597.6 481.3,598.1 483.3,598.5 485.4,598.9 487.4,599.3 489.4,599.6 491.4,600.0 493.4,600.3 495.4,600.6 497.4,601.0 499.4,601.2 501.4,601.5 503.4,601.8 505.4,602.0 507.4,602.3 509.4,602.5 511.4,602.7 513.4,602.9 515.4,603.1 517.4,603.3 519.4,603.5 521.4,603.6 523.4,603.8 525.4,604.0 527.4,604.1 529.4,604.2 531.4,604.4 533.4,604.5 535.4,604.6 537.4,604.7 539.4,604.9 541.4,605.0 543.4,605.1 545.4,605.2 547.4,605.3 549.4,605.4 551.4,605.5 553.4,605.6 555.4,605.7 557.5,605.8 559.5,605.9 561.5,606.0 563.5,606.2 565.5,606.3 567.5,606.4 569.5,606.5 571.5,606.6 573.5,606.8 575.5,606.9 577.5,607.1 579.5,607.2 581.5,607.4 583.5,607.5 585.5,607.7 587.5,607.9 589.5,608.1 591.5,608.3 591.5,608.5 589.5,608.4 587.5,608.3 585.5,608.2 583.5,608.1 581.5,608.0 579.5,608.0 577.5,607.9 575.5,607.9 573.5,607.8 571.5,607.7 569.5,607.7 567.5,607.6 565.5,607.6 563.5,607.6 561.5,607.5 559.5,607.5 557.5,607.4 555.4,607.4 553.4,607.3 551.4,607.3 549.4,607.2 547.4,607.2 545.4,607.1 543.4,607.0 541.4,607.0 539.4,606.9 537.4,606.8 535.4,606.7 533.4,606.7 531.4,606.6 529.4,606.5 527.4,606.3 525.4,606.2 523.4,606.1 521.4,606.0 519.4,605.8 517.4,605.7 515.4,605.5 513.4,605.3 511.4,605.2 509.4,605.0 507.4,604.8 505.4,604.5 503.4,604.3 501.4,604.1 499.4,603.8 497.4,603.5 495.4,603.2 493.4,602.9 491.4,602.6 489.4,602.3 487.4,601.9 485.4,601.5 483.3,601.2 481.3,600.8 479.3,600.3 477.3,599.9 475.3,599.4 473.3,598.9 471.3,598.4 469.3,597.9 467.3,597.4 465.3,596.8 463.3,596.2 461.3,595.6 459.3,595.0 457.3,594.3 455.3,593.7 453.3,592.9 451.3,592.2 449.3,591.5 447.3,590.7 445.3,589.9 443.3,589.0 441.3,588.2 439.3,587.3 437.3,586.3 435.3,585.4 433.3,584.4 431.3,583.3 429.3,582.3 427.3,581.1 425.3,580.0 423.3,578.8 421.3,577.6 419.3,576.4 417.3,575.1 415.3,573.7 413.2,572.4 411.2,571.0 409.2,569.5 407.2,568.0 405.2,566.5 403.2,565.0 401.2,563.4 399.2,561.8 397.2,560.1 395.2,558.4 393.2,556.7 391.2,555.0 389.2,553.2 387.2,551.4 385.2,549.6 383.2,547.8 381.2,545.9 379.2,544.0 377.2,542.1 375.2,540.2 373.2,538.2 371.2,536.3 369.2,534.3 367.2,532.3 365.2,530.3 363.2,528.2 361.2,526.2 359.2,524.1 357.2,522.1 355.2,520.0 353.2,518.0 351.2,515.9 349.2,513.8 347.2,511.8 345.2,509.7 343.2,507.7 341.1,505.6 339.1,503.6 337.1,501.5 335.1,499.5 333.1,497.5 331.1,495.5 329.1,493.6 327.1,491.6 325.1,489.7 323.1,487.7 321.1,485.8 319.1,484.0 317.1,482.1 315.1,480.3 313.1,478.5 311.1,476.7 309.1,475.0 307.1,473.2 305.1,471.5 303.1,469.8 301.1,468.2 299.1,466.5 297.1,464.9 295.1,463.4 293.1,461.8 291.1,460.3 289.1,458.8 287.1,457.3 285.1,455.9 283.1,454.5 281.1,453.1 279.1,451.7 277.1,450.4 275.1,449.1 273.1,447.8 271.1,446.5 269.0,445.3 267.0,444.1 265.0,442.9 263.0,441.7 261.0,440.6 259.0,439.4 257.0,438.3 255.0,437.2 253.0,436.2 251.0,435.1 249.0,434.1 247.0,433.0 245.0,432.0 243.0,431.0 241.0,430.1 239.0,429.1 237.0,428.2 235.0,427.2 233.0,426.3 231.0,425.4 229.0,424.5 227.0,423.6 225.0,422.7 223.0,421.9 221.0,421.0 219.0,420.1 217.0,419.3 215.0,418.5 213.0,417.6 211.0,416.8 209.0,416.0 207.0,415.1 205.0,414.3 203.0,413.5 201.0,412.7 198.9,411.8 196.9,411.0 194.9,410.2 192.9,409.4 190.9,408.6 188.9,407.7 186.9,406.9 184.9,406.0 182.9,405.2 180.9,404.4 178.9,403.5 176.9,402.6 174.9,401.8 172.9,400.9 170.9,400.0 168.9,399.1 166.9,398.2 164.9,397.3 162.9,396.4 160.9,395.5 158.9,394.5 156.9,393.6 154.9,392.7 152.9,391.8 150.9,390.8 148.9,389.9 146.9,389.0 144.9,388.1 142.9,387.2 140.9,386.3 138.9,385.4 136.9,384.5 134.9,383.6 132.9,382.7 130.9,381.8 128.9,380.9 126.8,380.1 124.8,379.3 122.8,378.4 120.8,377.6 118.8,376.8 116.8,376.0 114.8,375.3 112.8,374.5 110.8,373.8 108.8,373.1 106.8,372.4 104.8,371.7 102.8,371.0 100.8,370.4 98.8,369.8 96.8,369.2 94.8,368.7 92.8,368.1Z" fill="#ffa060" />
<path d="M92.8,367.5 94.8,368.1 96.8,368.7 98.8,369.3 100.8,369.9 102.8,370.6 104.8,371.3 106.8,372.0 108.8,372.7 110.8,373.4 112.8,374.2 114.8,374.9 116.8,375.7 118.8,376.5 120.8,377.3 122.8,378.2 124.8,379.0 126.8,379.9 128.9,380.7 130.9,381.6 132.9,382.5 134.9,383.3 136.9,384.2 138.9,385.1 140.9,386.0 142.9,386.9 144.9,387.8 146.9,388.7 148.9,389.7 150.9,390.6 152.9,391.5 154.9,392.4 156.9,393.3 158.9,394.2 160.9,395.1 162.9,396.0 164.9,396.9 166.9,397.8 168.9,398.7 170.9,399.6 172.9,400.4 174.9,401.3 176.9,402.1 178.9,403.0 180.9,403.8 182.9,404.6 184.9,405.5 186.9,406.3 188.9,407.1 190.9,407.9 192.9,408.7 194.9,409.5 196.9,410.3 198.9,411.1 201.0,411.9 203.0,412.6 205.0,413.4 207.0,414.2 209.0,415.0 211.0,415.9 213.0,416.7 215.0,417.5 217.0,418.3 219.0,419.1 221.0,420.0 223.0,420.8 225.0,421.7 227.0,422.5 229.0,423.4 231.0,424.3 233.0,425.2 235.0,426.1 237.0,427.1 239.0,428.0 241.0,429.0 243.0,430.0 245.0,431.0 247.0,432.0 249.0,433.0 251.0,434.1 253.0,435.1 255.0,436.2 257.0,437.3 259.0,438.5 261.0,439.6 263.0,440.8 265.0,442.0 267.0,443.2 269.0,444.4 271.1,445.7 273.1,447.0 275.1,448.3 277.1,449.6 279.1,450.9 281.1,452.3 283.1,453.7 285.1,455.1 287.1,456.5 289.1,457.9 291.1,459.4 293.1,460.9 295.1,462.4 297.1,464.0 299.1,465.5 301.1,467.1 303.1,468.7 305.1,470.4 307.1,472.0 309.1,473.7 311.1,475.4 313.1,477.1 315.1,478.9 317.1,480.7 319.1,482.5 321.1,484.3 323.1,486.2 325.1,488.1 327.1,490.0 329.1,491.9 331.1,493.9 333.1,495.9 335.1,497.9 337.1,499.9 339.1,501.9 341.1,503.9 343.2,506.0 345.2,508.1 347.2,510.1 349.2,512.2 351.2,514.3 353.2,516.4 355.2,518.4 357.2,520.5 359.2,522.6 361.2,524.6 363.2,526.7 365.2,528.7 367.2,530.8 369.2,532.8 371.2,534.8 373.2,536.7 375.2,538.7 377.2,540.6 379.2,542.5 381.2,544.4 383.2,546.3 385.2,548.1 387.2,549.9 389.2,551.6 391.2,553.3 393.2,555.0 395.2,556.6 397.2,558.2 399.2,559.8 401.2,561.3 403.2,562.8 405.2,564.3 407.2,565.7 409.2,567.1 411.2,568.5 413.2,569.8 413.2,572.4 411.2,571.0 409.2,569.5 407.2,568.0 405.2,566.5 403.2,565.0 401.2,563.4 399.2,561.8 397.2,560.1 395.2,558.4 393.2,556.7 391.2,555.0 389.2,553.2 387.2,551.4 385.2,549.6 383.2,547.8 381.2,545.9 379.2,544.0 377.2,542.1 375.2,540.2 373.2,538.2 371.2,536.3 369.2,534.3 367.2,532.3 365.2,530.3 363.2,528.2 361.2,526.2 359.2,524.1 357.2,522.1 355.2,520.0 353.2,518.0 351.2,515.9 349.2,513.8 347.2,511.8 345.2,509.7 343.2,507.7 341.1,505.6 339.1,503.6 337.1,501.5 335.1,499.5 333.1,497.5 331.1,495.5 329.1,493.6 327.1,491.6 325.1,489.7 323.1,487.7 321.1,485.8 319.1,484.0 317.1,482.1 315.1,480.3 313.1,478.5 311.1,476.7 309.1,475.0 307.1,473.2 305.1,471.5 303.1,469.8 301.1,468.2 299.1,466.5 297.1,464.9 295.1,463.4 293.1,461.8 291.1,460.3 289.1,458.8 287.1,457.3 285.1,455.9 283.1,454.5 281.1,453.1 279.1,451.7 277.1,450.4 275.1,449.1 273.1,447.8 271.1,446.5 269.0,445.3 267.0,444.1 265.0,442.9 263.0,441.7 261.0,440.6 259.0,439.4 257.0,438.3 255.0,437.2 253.0,436.2 251.0,435.1 249.0,434.1 247.0,433.0 245.0,432.0 243.0,431.0 241.0,430.1 239.0,429.1 237.0,428.2 235.0,427.2 233.0,426.3 231.0,425.4 229.0,424.5 227.0,423.6 225.0,422.7 223.0,421.9 221.0,421.0 219.0,420.1 217.0,419.3 215.0,418.5 213.0,417.6 211.0,416.8 209.0,416.0 207.0,415.1 205.0,414.3 203.0,413.5 201.0,412.7 198.9,411.8 196.9,411.0 194.9,410.2 192.9,409.4 190.9,408.6 188.9,407.7 186.9,406.9 184.9,406.0 182.9,405.2 180.9,404.4 178.9,403.5 176.9,402.6 174.9,401.8 172.9,400.9 170.9,400.0 168.9,399.1 166.9,398.2 164.9,397.3 162.9,396.4 160.9,395.5 158.9,394.5 156.9,393.6 154.9,392.7 152.9,391.8 150.9,390.8 148.9,389.9 146.9,389.0 144.9,388.1 142.9,387.2 140.9,386.3 138.9,385.4 136.9,384.5 134.9,383.6 132.9,382.7 130.9,381.8 128.9,380.9 126.8,380.1 124.8,379.3 122.8,378.4 120.8,377.6 118.8,376.8 116.8,376.0 114.8,375.3 112.8,374.5 110.8,373.8 108.8,373.1 106.8,372.4 104.8,371.7 102.8,371.0 100.8,370.4 98.8,369.8 96.8,369.2 94.8,368.7 92.8,368.1Z" fill="#ffb6c1" />
<path d="M150.9,386.2 152.9,386.9 154.9,387.7 156.9,388.4 158.9,389.2 160.9,390.0 162.9,390.7 164.9,391.5 166.9,392.3 168.9,393.1 170.9,393.9 172.9,394.7 174.9,395.5 176.9,396.3 178.9,397.1 180.9,397.9 182.9,398.7 184.9,399.6 186.9,400.4 188.9,401.2 190.9,402.0 192.9,402.9 194.9,403.7 196.9,404.5 198.9,405.4 201.0,406.2 203.0,407.1 205.0,407.9 207.0,408.7 209.0,409.6 211.0,410.4 213.0,411.3 215.0,412.1 217.0,413.0 219.0,413.9 221.0,414.7 223.0,415.6 225.0,416.4 227.0,417.3 229.0,418.1 231.0,419.0 233.0,419.9 235.0,420.7 237.0,421.6 239.0,422.4 241.0,423.3 243.0,424.1 245.0,425.0 247.0,425.9 249.0,426.7 251.0,427.6 253.0,428.4 255.0,429.3 257.0,430.2 259.0,431.0 261.0,431.9 263.0,432.8 265.0,433.7 267.0,434.6 269.0,435.5 271.1,436.4 273.1,437.3 275.1,438.3 277.1,439.2 279.1,440.2 281.1,441.2 283.1,442.2 285.1,443.2 287.1,444.3 289.1,445.3 291.1,446.4 293.1,447.5 295.1,448.7 297.1,449.8 299.1,451.0 301.1,452.2 303.1,453.4 305.1,454.7 307.1,456.0 309.1,457.3 311.1,458.7 313.1,460.0 315.1,461.5 317.1,462.9 319.1,464.4 321.1,466.0 323.1,467.5 325.1,469.2 327.1,470.8 329.1,472.5 331.1,474.3 333.1,476.0 335.1,477.8 337.1,479.7 339.1,481.5 341.1,483.4 343.2,485.3 345.2,487.2 347.2,489.2 349.2,491.1 351.2,493.1 353.2,495.0 355.2,497.0 357.2,499.0 359.2,500.9 361.2,502.9 363.2,504.8 365.2,506.7 367.2,508.6 369.2,510.5 371.2,512.4 373.2,514.3 375.2,516.1 377.2,517.9 379.2,519.7 381.2,521.5 383.2,523.2 385.2,525.0 387.2,526.8 389.2,528.5 391.2,530.2 393.2,531.9 395.2,533.7 397.2,535.4 399.2,537.1 401.2,538.8 403.2,540.4 405.2,542.1 407.2,543.8 409.2,545.4 411.2,547.0 413.2,548.6 415.3,550.2 417.3,551.8 419.3,553.4 421.3,554.9 423.3,556.5 425.3,558.0 427.3,559.5 429.3,560.9 431.3,562.4 433.3,563.8 435.3,565.2 437.3,566.6 439.3,567.9 441.3,569.3 443.3,570.6 445.3,571.8 447.3,573.1 449.3,574.3 451.3,575.5 453.3,576.7 455.3,577.8 457.3,578.9 459.3,580.0 461.3,581.0 463.3,582.0 465.3,583.0 467.3,583.9 469.3,584.9 471.3,585.7 473.3,586.6 475.3,587.4 477.3,588.3 479.3,589.0 481.3,589.8 483.3,590.5 485.4,591.2 487.4,591.9 489.4,592.6 491.4,593.2 493.4,593.8 495.4,594.4 497.4,595.0 499.4,595.5 501.4,596.0 503.4,596.6 505.4,597.0 507.4,597.5 509.4,598.0 511.4,598.4 513.4,598.8 515.4,599.2 517.4,599.6 519.4,600.0" fill="none" stroke="#fff" stroke-width="0.8" stroke-linejoin="round" stroke-linecap="round" opacity="0.85"/>
<path d="M251.0,423.6 253.0,424.5 255.0,425.4 257.0,426.3 259.0,427.2 261.0,428.1 263.0,429.0 265.0,430.0 267.0,430.9 269.0,431.9 271.1,432.8 273.1,433.8 275.1,434.8 277.1,435.8 279.1,436.8 281.1,437.8 283.1,438.9 285.1,439.9 287.1,441.0 289.1,442.1 291.1,443.2 293.1,444.4 295.1,445.5 297.1,446.7 299.1,447.9 301.1,449.1 303.1,450.3 305.1,451.6 307.1,452.9 309.1,454.2 311.1,455.5 313.1,456.9 315.1,458.3 317.1,459.7 319.1,461.1 321.1,462.6 323.1,464.1 325.1,465.7 327.1,467.2 329.1,468.8 331.1,470.5 333.1,472.1 335.1,473.8 337.1,475.5 339.1,477.2 341.1,479.0 343.2,480.7 345.2,482.5 347.2,484.3 349.2,486.1 351.2,488.0 353.2,489.8 355.2,491.6 357.2,493.5 359.2,495.3 361.2,497.2 363.2,499.0 365.2,500.9 367.2,502.7 369.2,504.6 371.2,506.4 373.2,508.2 375.2,510.1 377.2,511.9 379.2,513.7 381.2,515.5 383.2,517.3 385.2,519.1 387.2,520.9 389.2,522.6 391.2,524.4 393.2,526.2 395.2,528.0 397.2,529.7 399.2,531.5 401.2,533.2 403.2,535.0 405.2,536.7 407.2,538.4 409.2,540.1 411.2,541.8 413.2,543.5 415.3,545.2 417.3,546.8 419.3,548.5 421.3,550.1 423.3,551.7 425.3,553.3 427.3,554.8 429.3,556.4 431.3,557.9 433.3,559.4 435.3,560.9 437.3,562.4 439.3,563.8 441.3,565.2 443.3,566.6 445.3,568.0 447.3,569.3 449.3,570.7 451.3,571.9 453.3,573.2 455.3,574.4 457.3,575.6 459.3,576.8 461.3,577.9 463.3,579.0 465.3,580.1 467.3,581.2 469.3,582.2 471.3,583.2 473.3,584.1 475.3,585.1 477.3,586.0 479.3,586.9" fill="none" stroke="#fff" stroke-width="0.6" stroke-linejoin="round" stroke-linecap="round" opacity="0.6"/>
<path d="M301.1,439.7 303.1,440.9 305.1,442.1 307.1,443.3 309.1,444.6 311.1,445.8 313.1,447.1 315.1,448.4 317.1,449.8 319.1,451.1 321.1,452.5 323.1,453.9 325.1,455.4 327.1,456.8 329.1,458.3 331.1,459.8 333.1,461.4 335.1,462.9 337.1,464.5 339.1,466.1 341.1,467.8 343.2,469.4 345.2,471.1 347.2,472.8 349.2,474.5 351.2,476.2 353.2,478.0 355.2,479.7 357.2,481.5 359.2,483.3 361.2,485.1 363.2,486.9 365.2,488.7 367.2,490.5 369.2,492.4 371.2,494.2 373.2,496.1 375.2,498.0 377.2,499.8 379.2,501.7 381.2,503.6 383.2,505.4 385.2,507.3 387.2,509.2 389.2,511.1 391.2,513.0 393.2,514.9 395.2,516.7 397.2,518.6 399.2,520.5 401.2,522.4 403.2,524.2 405.2,526.1 407.2,527.9 409.2,529.8 411.2,531.6 413.2,533.4 415.3,535.2 417.3,537.0 419.3,538.8" fill="none" stroke="#fff" stroke-width="0.5" stroke-linejoin="round" stroke-linecap="round" opacity="0.4"/>
<path d="M190.0,401.6 215.0,411.5 239.8,422.8 263.8,436.7" fill="none" stroke="#ffa060" stroke-width="1.2" stroke-linejoin="round" stroke-linecap="round" />
<path d="M92.8,367.4 105.0,371.2 119.0,375.6" fill="none" stroke="#008000" stroke-width="2.6" stroke-linejoin="round" stroke-linecap="round" />
</g>
<g clip-path="url(#clipBR)">
<g fill="none" stroke="#ff0000" stroke-width="1.7" stroke-linejoin="round" >
<path d="M765.5 392.5l6 .9 6 .9 6 .8 6 .8 6 .6 6 .5 6 .5 6 .5 6 .4 6 .4 6 .4 6 .4 6 .3 6 .3 6 .2 6 .3 6 .2 6 .2 6 .2 6 .2 6 .2 6 .2 6 .3 6 .2 6 .3 6 .3 6 .3 6 .3 6 .3 6 .2 6 .1 6 .1 6 .1 6 0 6 0 6 0 6 0 6 0 6 0 6-.1 6 0 6 0 6-.1 6-.3 6-.4 6-.4 6-.4 6-.4 6-.3 6-.2 6-.2 6-.1 6-.2 6-.2 6-.3 6-.4 6-.6 6-.7 6-.6 6-.5 6-.5 6-.5 6-.5 6-.5 6-.4 6-.4 6-.4 6-.4 6-.4 6-.3 6-.4 6-.3 6-.3 6-.3 6-.2 6-.3 6-.2 6-.2 6-.2 6-.1 6-.2 .8 0"/>
<path d="M765.5 388.5l6-.9 6-.9 6-.9 6-.8 6-.8 6-.8 6-.7 6-.7 6-.6 6-.6 6-.6 6-.6 6-.4 6-.4 6-.2 6-.3 6-.3 6-.3 6-.2 6-.2 6-.1 6-.1 6 0 6 0 6 .1 6 0 6 .1 6 .1 6 .1 6 .1 6 .1 6 .1 6 .1 6 .1 6 .1 6 .2 6 .1 6 .1 6 .2 6 .1 6 .2 6 .1 6 .2 6 .2 6 .2 6 .2 6 .3 6 .1 6 .2 6 .1 6 0 6 .1 6 0 6 .1 6 .1 6 .1 6 .2 6 .3 6 .4 6 .4 6 .4 6 .4 6 .4 6 .4 6 .4 6 .5 6 .4 6 .5 6 .4 6 .4 6 .4 6 .4 6 .4 6 .4 6 .3 6 .4 6 .3 6 .3 6 .3 6 .3 6 .3 .8 0"/>
<path d="M765.5 390.7l6 .1 6 .1 6 .1 6 0 6 0 6 0 6 0 6 0 6-.1 6 0 6-.1 6-.1 6 0 6-.1 6 0 6-.1 6 0 6-.1 6 0 6-.1 6 0 6 0 6 0 6 .1 6 0 6 .1 6 .2 6 .1 6 .2 6 .2 6 .1 6 .2 6 .1 6 .1 6 .1 6 .1 6 0 6 .2 6 .1 6 .1 6 .1 6 .1 6 .2 6 .1 6 .1 6 0 6 0 6-.1 6-.1 6 0 6 0 6-.1 6 0 6 0 6-.1 6-.1 6-.1 6-.2 6-.2 6-.3 6-.1 6-.2 6-.1 6-.1 6-.1 6-.1 6-.1 6-.1 6 0 6-.1 6 0 6-.1 6 0 6-.1 6 .1 6 0 6 0 6 0 6 .1 6 0 6 .1 .8 0"/>
<path d="M765.5 390.3l6-.2 6-.1 6-.1 6-.2 6-.2 6-.2 6-.2 6-.2 6-.1 6-.2 6-.2 6-.2 6-.1 6 0 6-.1 6 0 6-.1 6 0 6 0 6 0 6 0 6 .1 6 .1 6 .2 6 .1 6 .2 6 .2 6 .2 6 .2 6 .2 6 .2 6 .1 6 .1 6 .1 6 .1 6 .1 6 0 6 .1 6 .1 6 .1 6 0 6 .1 6 0 6 0 6 0 6-.1 6-.1 6-.1 6-.1 6-.1 6-.1 6-.1 6-.1 6 0 6-.1 6-.1 6-.1 6-.2 6-.1 6 0 6 0 6 0 6 0 6 0 6 .1 6 0 6 .1 6 .1 6 .1 6 .1 6 .1 6 .1 6 0 6 .1 6 .1 6 .1 6 .1 6 .1 6 .1 6 .1 6 .1 .8 0"/>
<path d="M765.5 388.8l6-.8 6-.7 6-.7 6-.7 6-.6 6-.6 6-.6 6-.6 6-.5 6-.5 6-.5 6-.5 6-.4 6-.4 6-.2 6-.3 6-.2 6-.3 6-.2 6-.2 6-.1 6-.1 6-.1 6 0 6 0 6 0 6 .1 6 0 6 .1 6 .1 6 .1 6 .1 6 0 6 .1 6 .1 6 .1 6 .1 6 .1 6 .2 6 .1 6 .2 6 .1 6 .2 6 .2 6 .1 6 .3 6 .2 6 .2 6 .2 6 .1 6 .1 6 .1 6 0 6 .1 6 .1 6 0 6 .2 6 .2 6 .2 6 .3 6 .4 6 .3 6 .4 6 .3 6 .4 6 .3 6 .4 6 .4 6 .4 6 .3 6 .4 6 .3 6 .3 6 .4 6 .3 6 .3 6 .2 6 .3 6 .3 6 .3 6 .2 .8 .1"/>
<path d="M765.5 390.6l6 .1 6 .1 6 0 6 .1 6-.1 6 0 6 0 6-.1 6 0 6-.1 6-.1 6 0 6-.1 6 0 6 0 6-.1 6 0 6 0 6-.1 6 0 6 0 6 0 6 .1 6 0 6 .1 6 .2 6 .1 6 .2 6 .1 6 .1 6 .2 6 .1 6 0 6 .1 6 0 6 .1 6 .1 6 .1 6 .1 6 0 6 .2 6 .1 6 .1 6 0 6 0 6 0 6-.1 6 0 6-.1 6 0 6 0 6 0 6-.1 6 0 6 0 6-.1 6-.2 6-.2 6-.2 6-.1 6-.1 6-.1 6-.1 6 0 6-.1 6-.1 6 0 6-.1 6 0 6-.1 6 0 6 0 6 0 6-.1 6 .1 6 0 6 0 6 0 6 .1 6 0 6 .1 .8 0"/>
<path d="M765.5 390.5l6 0 6 0 6 0 6-.1 6 0 6-.1 6-.1 6-.1 6-.1 6-.1 6-.1 6-.1 6-.1 6 0 6 0 6-.1 6-.1 6 0 6-.1 6 0 6-.1 6 0 6 .1 6 0 6 .1 6 .1 6 .1 6 .2 6 .1 6 .1 6 .1 6 0 6 .1 6 0 6 0 6 .1 6 .1 6 .1 6 .1 6 .1 6 .1 6 .1 6 .1 6 .1 6 0 6 0 6 0 6 0 6 0 6 0 6 0 6 .1 6 0 6 0 6 0 6-.1 6-.1 6-.2 6-.1 6-.1 6 0 6 0 6-.1 6 0 6-.1 6 0 6 0 6 0 6-.1 6 0 6 0 6 0 6 0 6 0 6 0 6 .1 6 0 6 0 6 .1 6 .1 6 0 .8 0"/>
<path d="M765.5 390.2l6-.2 6-.2 6-.2 6-.2 6-.2 6-.2 6-.2 6-.2 6-.2 6-.1 6-.2 6-.2 6-.1 6-.1 6 0 6-.1 6-.1 6 0 6 0 6-.1 6 0 6 .1 6 0 6 .1 6 .2 6 .1 6 .2 6 .1 6 .2 6 .1 6 .2 6 .1 6 0 6 .1 6 0 6 .1 6 0 6 .1 6 0 6 .1 6 .1 6 0 6 .1 6 0 6 0 6 0 6-.1 6 0 6-.1 6 0 6-.1 6 0 6 0 6-.1 6 0 6 0 6-.1 6-.1 6 0 6 0 6 0 6 .1 6 0 6 .1 6 .1 6 0 6 .1 6 .1 6 .1 6 .1 6 .1 6 .1 6 .1 6 .1 6 .1 6 .1 6 .1 6 .1 6 .1 6 .1 6 .1 .8 0"/>
<path d="M765.5 391.8l6 .5 6 .6 6 .5 6 .4 6 .4 6 .3 6 .3 6 .2 6 .3 6 .2 6 .2 6 .1 6 .2 6 .1 6 .2 6 .1 6 .1 6 .1 6 .1 6 .1 6 .1 6 .1 6 .1 6 .1 6 .1 6 .2 6 .2 6 .3 6 .2 6 .2 6 .2 6 .2 6 .1 6 .1 6 0 6 .1 6 0 6 .1 6 0 6 .1 6 0 6 .1 6 .1 6 0 6 0 6-.2 6-.2 6-.3 6-.2 6-.2 6-.2 6-.1 6-.1 6-.1 6-.1 6-.2 6-.2 6-.4 6-.5 6-.5 6-.4 6-.4 6-.4 6-.3 6-.4 6-.3 6-.3 6-.3 6-.3 6-.3 6-.2 6-.3 6-.2 6-.2 6-.2 6-.1 6-.2 6-.1 6-.1 6-.1 6 0 .8 0"/>
<path d="M765.5 390.5l6-.1 6 0 6 0 6-.1 6-.1 6-.1 6-.1 6-.1 6-.1 6-.1 6-.1 6-.1 6-.1 6-.1 6 0 6 0 6 0 6-.1 6 0 6 0 6 0 6 0 6 .1 6 .1 6 .1 6 .1 6 .2 6 .1 6 .2 6 .1 6 .2 6 .1 6 .1 6 .1 6 0 6 .1 6 0 6 .1 6 0 6 .1 6 0 6 .1 6 .1 6 0 6 .1 6-.1 6 0 6-.1 6-.1 6-.1 6 0 6-.1 6 0 6 0 6-.1 6 0 6-.1 6-.2 6-.1 6-.1 6-.1 6 0 6 0 6-.1 6 0 6 0 6 0 6 .1 6 0 6 0 6 0 6 .1 6 0 6 0 6 .1 6 0 6 .1 6 0 6 .1 6 .1 6 0 .8 0"/>
<path d="M765.5 390l6-.2 6-.2 6-.2 6-.3 6-.2 6-.2 6-.2 6-.2 6-.2 6-.3 6-.2 6-.2 6-.2 6-.1 6-.1 6-.1 6-.2 6-.1 6-.1 6-.1 6-.1 6-.1 6 0 6 0 6 0 6 0 6 .1 6 .1 6 .1 6 .1 6 .1 6 .1 6 0 6 .1 6 0 6 .1 6 .1 6 .1 6 .1 6 .1 6 .2 6 .1 6 .2 6 .1 6 .1 6 .2 6 0 6 .1 6 .1 6 0 6 .1 6 0 6 .1 6 0 6 0 6 0 6 0 6 0 6 0 6 0 6 0 6 .1 6 .1 6 0 6 .1 6 0 6 .1 6 .1 6 .1 6 .1 6 .1 6 .1 6 .1 6 0 6 .1 6 .1 6 .2 6 .1 6 .1 6 .1 6 .1 .8 .1"/>
<path d="M765.5 389.3l6-.5 6-.5 6-.5 6-.5 6-.5 6-.4 6-.5 6-.4 6-.4 6-.4 6-.3 6-.4 6-.3 6-.2 6-.2 6-.2 6-.1 6-.2 6-.1 6-.1 6-.1 6 0 6-.1 6 .1 6 0 6 .1 6 .1 6 .1 6 .1 6 .2 6 .1 6 .1 6 .1 6 0 6 .1 6 0 6 .1 6 .1 6 .1 6 0 6 .1 6 .1 6 .1 6 .1 6 .1 6 .1 6 .1 6 .1 6 0 6 .1 6 0 6 0 6 .1 6 0 6 0 6 0 6 .1 6 .1 6 .1 6 .2 6 .2 6 .2 6 .3 6 .3 6 .2 6 .3 6 .2 6 .3 6 .3 6 .3 6 .3 6 .3 6 .2 6 .2 6 .3 6 .2 6 .2 6 .2 6 .2 6 .2 6 .2 .8 0"/>
<path d="M765.5 392.1l6 .7 6 .7 6 .7 6 .5 6 .5 6 .5 6 .4 6 .3 6 .4 6 .3 6 .3 6 .3 6 .2 6 .3 6 .2 6 .2 6 .2 6 .2 6 .1 6 .2 6 .2 6 .1 6 .2 6 .2 6 .1 6 .3 6 .2 6 .2 6 .3 6 .2 6 .1 6 .2 6 0 6 0 6 0 6 0 6 0 6 0 6-.1 6 0 6 0 6 0 6 0 6 0 6-.2 6-.3 6-.3 6-.4 6-.3 6-.2 6-.2 6-.1 6-.1 6-.1 6-.2 6-.2 6-.2 6-.5 6-.6 6-.5 6-.5 6-.4 6-.4 6-.4 6-.3 6-.4 6-.4 6-.3 6-.3 6-.3 6-.4 6-.3 6-.3 6-.2 6-.2 6-.2 6-.2 6-.2 6-.2 6-.1 6-.2 .8 0"/>
<path d="M765.5 391.3l6 .4 6 .3 6 .3 6 .3 6 .2 6 .2 6 .1 6 .2 6 .1 6 .1 6 .1 6 .1 6 .1 6 .1 6 0 6 .1 6 .1 6 0 6 .1 6 0 6 .1 6 .1 6 .1 6 .2 6 .1 6 .2 6 .2 6 .2 6 .2 6 .1 6 .1 6 .1 6 0 6 .1 6 0 6 0 6 .1 6 0 6 .1 6 0 6 .1 6 0 6 0 6-.1 6-.1 6-.2 6-.2 6-.2 6-.1 6 0 6-.1 6-.1 6 0 6-.1 6-.1 6-.2 6-.4 6-.3 6-.3 6-.3 6-.2 6-.2 6-.2 6-.2 6-.2 6-.2 6-.2 6-.1 6-.2 6-.1 6-.2 6-.1 6-.1 6-.1 6-.1 6-.1 6-.1 6 0 6-.1 6 0 6 0 .8 0"/>
<path d="M765.5 392.1l6 .8 6 .7 6 .7 6 .6 6 .5 6 .5 6 .4 6 .4 6 .3 6 .4 6 .3 6 .2 6 .3 6 .2 6 .2 6 .2 6 .1 6 .2 6 .1 6 .1 6 .2 6 .1 6 .2 6 .1 6 .3 6 .2 6 .2 6 .2 6 .2 6 .2 6 .2 6 0 6 .1 6 0 6 0 6 0 6 0 6 0 6 0 6 0 6 .1 6 0 6 0 6-.2 6-.2 6-.3 6-.3 6-.3 6-.2 6-.2 6-.1 6-.1 6-.1 6-.1 6-.2 6-.2 6-.5 6-.6 6-.5 6-.5 6-.4 6-.4 6-.4 6-.4 6-.4 6-.4 6-.3 6-.4 6-.3 6-.4 6-.3 6-.3 6-.2 6-.3 6-.2 6-.2 6-.2 6-.2 6-.1 6-.1 6-.2 .8 0"/>
<path d="M765.5 389.3l6-.6 6-.6 6-.5 6-.5 6-.5 6-.5 6-.5 6-.4 6-.4 6-.5 6-.4 6-.3 6-.3 6-.3 6-.2 6-.2 6-.1 6-.2 6-.2 6-.1 6-.1 6-.1 6 0 6 .1 6 0 6 .1 6 .1 6 .1 6 .1 6 .1 6 .1 6 .1 6 .1 6 .1 6 .1 6 .1 6 .1 6 .1 6 .1 6 .1 6 .1 6 .2 6 .1 6 .1 6 .2 6 .1 6 .1 6 .1 6 .1 6 .1 6 0 6 .1 6 0 6 0 6 .1 6 0 6 .1 6 .1 6 .2 6 .2 6 .2 6 .3 6 .2 6 .3 6 .2 6 .3 6 .2 6 .3 6 .3 6 .2 6 .3 6 .3 6 .2 6 .2 6 .2 6 .3 6 .2 6 .2 6 .2 6 .2 6 .2 .8 0"/>
<path d="M765.5 389.7l6-.3 6-.4 6-.3 6-.3 6-.4 6-.3 6-.3 6-.4 6-.3 6-.3 6-.3 6-.3 6-.2 6-.2 6-.2 6-.1 6-.2 6-.1 6-.2 6-.1 6-.1 6 0 6 0 6 0 6 .1 6 .1 6 .1 6 .2 6 .1 6 .2 6 .1 6 .2 6 .1 6 .1 6 .1 6 .1 6 .2 6 .1 6 .2 6 .1 6 .2 6 .1 6 .2 6 .1 6 .1 6 .1 6 .1 6 0 6 .1 6 0 6 0 6 0 6 0 6 0 6-.1 6 0 6 0 6 0 6 0 6 0 6 .1 6 .1 6 .1 6 .1 6 .1 6 .1 6 .2 6 .1 6 .2 6 .2 6 .1 6 .2 6 .2 6 .1 6 .2 6 .2 6 .1 6 .2 6 .2 6 .1 6 .2 .8 0"/>
<path d="M765.5 392.3l6 .9 6 .8 6 .8 6 .6 6 .6 6 .5 6 .5 6 .5 6 .4 6 .4 6 .3 6 .4 6 .3 6 .3 6 .2 6 .3 6 .2 6 .2 6 .1 6 .2 6 .2 6 .2 6 .1 6 .2 6 .3 6 .2 6 .2 6 .3 6 .1 6 .2 6 .1 6 .1 6-.1 6 0 6-.1 6 0 6 0 6-.1 6 0 6-.1 6 0 6 0 6-.1 6-.2 6-.3 6-.4 6-.4 6-.3 6-.2 6-.1 6-.1 6-.1 6-.2 6-.1 6-.2 6-.3 6-.4 6-.6 6-.6 6-.4 6-.5 6-.4 6-.4 6-.4 6-.4 6-.4 6-.4 6-.3 6-.4 6-.3 6-.4 6-.3 6-.3 6-.3 6-.2 6-.3 6-.2 6-.2 6-.2 6-.2 6-.1 .8 0"/>
<path d="M765.5 388.6l6-.9 6-.9 6-.8 6-.8 6-.7 6-.7 6-.7 6-.6 6-.6 6-.6 6-.6 6-.5 6-.5 6-.3 6-.3 6-.3 6-.3 6-.3 6-.2 6-.2 6-.2 6-.1 6-.1 6 0 6 0 6 0 6 0 6 .1 6 0 6 .1 6 .1 6 .1 6 .1 6 .1 6 .1 6 .1 6 .1 6 .2 6 .2 6 .2 6 .1 6 .2 6 .2 6 .3 6 .3 6 .2 6 .3 6 .2 6 .2 6 .1 6 .2 6 0 6 .1 6 .1 6 .2 6 .1 6 .2 6 .3 6 .4 6 .4 6 .4 6 .4 6 .3 6 .4 6 .4 6 .3 6 .4 6 .4 6 .4 6 .4 6 .4 6 .3 6 .4 6 .3 6 .3 6 .3 6 .3 6 .3 6 .3 6 .3 6 .3 .8 0"/>
<path d="M765.5 388.6l6-.8 6-.7 6-.8 6-.7 6-.7 6-.6 6-.6 6-.6 6-.6 6-.5 6-.6 6-.5 6-.5 6-.4 6-.3 6-.3 6-.3 6-.3 6-.3 6-.2 6-.2 6-.2 6-.2 6-.1 6 0 6 0 6 0 6 0 6 0 6 .1 6 .1 6 0 6 .1 6 .1 6 .1 6 .2 6 .1 6 .2 6 .1 6 .2 6 .2 6 .3 6 .2 6 .2 6 .3 6 .3 6 .3 6 .3 6 .2 6 .2 6 .2 6 .1 6 .1 6 .1 6 .1 6 .1 6 .2 6 .2 6 .3 6 .3 6 .3 6 .4 6 .4 6 .4 6 .3 6 .3 6 .4 6 .4 6 .4 6 .4 6 .3 6 .4 6 .3 6 .3 6 .4 6 .3 6 .3 6 .3 6 .3 6 .3 6 .3 .8 0"/>
<path d="M765.5 389.9l6-.3 6-.3 6-.2 6-.3 6-.2 6-.3 6-.3 6-.2 6-.3 6-.2 6-.3 6-.2 6-.2 6-.2 6-.1 6-.1 6-.1 6-.1 6-.1 6-.1 6-.1 6 0 6 0 6 0 6 .1 6 .1 6 .1 6 .1 6 .1 6 .1 6 .1 6 .1 6 .1 6 .1 6 .1 6 0 6 .1 6 .1 6 .1 6 .1 6 .1 6 .1 6 .1 6 .1 6 .1 6 .1 6 0 6 .1 6 0 6 0 6 0 6 0 6 0 6 .1 6 0 6 0 6 0 6-.1 6 0 6 0 6 .1 6 .1 6 .1 6 .1 6 .1 6 .1 6 .2 6 .1 6 .1 6 .2 6 .1 6 .2 6 .1 6 .1 6 .1 6 .2 6 .1 6 .1 6 .2 6 .1 6 .1 .8 0"/>
<path d="M765.5 390l6-.2 6-.2 6-.2 6-.2 6-.2 6-.2 6-.2 6-.2 6-.2 6-.2 6-.2 6-.1 6-.2 6-.1 6 0 6-.1 6-.1 6-.1 6-.1 6-.1 6 0 6 0 6 0 6 0 6 .1 6 0 6 .1 6 .1 6 .1 6 0 6 .1 6 0 6 0 6 0 6 0 6 .1 6 0 6 .1 6 .1 6 0 6 .1 6 .2 6 .1 6 0 6 .1 6 .1 6 0 6 0 6 .1 6 .1 6 0 6 .1 6 0 6 .1 6 0 6 0 6 0 6 0 6 .1 6 0 6 .1 6 .1 6 .1 6 .1 6 0 6 .1 6 .1 6 .1 6 .1 6 .1 6 .1 6 0 6 .1 6 0 6 .1 6 .1 6 .1 6 .1 6 .1 6 .1 6 .1 .8 0"/>
<path d="M765.5 391.9l6 .6 6 .6 6 .6 6 .5 6 .4 6 .4 6 .3 6 .3 6 .3 6 .3 6 .2 6 .2 6 .2 6 .1 6 .2 6 .1 6 .1 6 .1 6 .1 6 .1 6 .1 6 .1 6 .1 6 .2 6 .2 6 .2 6 .2 6 .2 6 .2 6 .2 6 .1 6 .1 6 0 6 .1 6 0 6 0 6 .1 6 0 6 .1 6 0 6 .1 6 0 6 .1 6-.1 6-.2 6-.3 6-.2 6-.2 6-.2 6-.1 6-.1 6-.1 6-.1 6-.1 6-.1 6-.3 6-.4 6-.5 6-.5 6-.4 6-.4 6-.4 6-.3 6-.4 6-.3 6-.3 6-.4 6-.3 6-.3 6-.2 6-.3 6-.3 6-.2 6-.2 6-.2 6-.1 6-.2 6-.1 6-.1 6-.1 6-.1 .8 0"/>
<path d="M765.5 392.4l6 .9 6 .8 6 .8 6 .7 6 .7 6 .5 6 .5 6 .5 6 .4 6 .4 6 .4 6 .3 6 .3 6 .3 6 .2 6 .3 6 .2 6 .1 6 .2 6 .2 6 .1 6 .1 6 .2 6 .2 6 .1 6 .2 6 .3 6 .2 6 .2 6 .2 6 .2 6 .1 6 .1 6 0 6 0 6 0 6 0 6 0 6 0 6 0 6 .1 6 0 6 0 6 0 6-.1 6-.3 6-.3 6-.4 6-.3 6-.3 6-.1 6-.1 6-.2 6-.1 6-.1 6-.2 6-.3 6-.6 6-.6 6-.7 6-.5 6-.5 6-.5 6-.5 6-.5 6-.4 6-.5 6-.4 6-.4 6-.5 6-.4 6-.4 6-.3 6-.4 6-.2 6-.3 6-.2 6-.3 6-.2 6-.1 6-.2 .8 0"/>
<path d="M765.5 390.4l6 0 6-.1 6 0 6-.1 6-.1 6-.1 6-.1 6-.1 6-.2 6-.1 6-.1 6-.2 6-.1 6 0 6-.1 6-.1 6-.1 6-.1 6-.1 6 0 6-.1 6 0 6 0 6 .1 6 .1 6 .1 6 .1 6 .1 6 .2 6 .1 6 .1 6 .1 6 .1 6 0 6 .1 6 .1 6 .1 6 .2 6 .1 6 .1 6 .2 6 .1 6 .2 6 0 6 .1 6 0 6 0 6 0 6 0 6 0 6 .1 6 0 6 0 6 0 6-.1 6-.1 6-.1 6-.1 6-.2 6 0 6-.1 6 0 6-.1 6 0 6-.1 6 0 6 0 6 0 6 0 6 0 6 0 6 0 6 0 6 .1 6 0 6 0 6 .1 6 .1 6 0 6 .1 6 .1 .8 0"/>
<path d="M765.5 392.3l6 .8 6 .7 6 .8 6 .6 6 .5 6 .5 6 .4 6 .4 6 .3 6 .4 6 .3 6 .3 6 .2 6 .2 6 .3 6 .2 6 .1 6 .2 6 .2 6 .2 6 .2 6 .2 6 .2 6 .2 6 .3 6 .3 6 .3 6 .3 6 .3 6 .2 6 .2 6 .1 6 .1 6 0 6 .1 6 0 6 0 6 .1 6 0 6 0 6 0 6 0 6-.1 6-.2 6-.3 6-.4 6-.4 6-.3 6-.3 6-.2 6-.2 6-.2 6-.2 6-.2 6-.2 6-.3 6-.6 6-.6 6-.6 6-.6 6-.4 6-.5 6-.4 6-.4 6-.4 6-.4 6-.4 6-.3 6-.4 6-.3 6-.3 6-.3 6-.3 6-.2 6-.2 6-.2 6-.2 6-.1 6-.2 6-.1 6-.1 .8 0"/>
<path d="M765.5 391.7l6 .6 6 .6 6 .5 6 .4 6 .4 6 .3 6 .3 6 .3 6 .2 6 .2 6 .2 6 .1 6 .2 6 .1 6 .1 6 .1 6 .1 6 0 6 .1 6 .1 6 0 6 .1 6 .1 6 .1 6 .2 6 .2 6 .2 6 .2 6 .2 6 .2 6 .2 6 .1 6 .2 6 0 6 .1 6 .1 6 0 6 .1 6 .1 6 .1 6 .1 6 .1 6 .1 6 0 6-.1 6-.1 6-.3 6-.2 6-.2 6-.1 6-.1 6-.1 6-.1 6-.1 6-.1 6-.2 6-.4 6-.4 6-.5 6-.5 6-.4 6-.4 6-.4 6-.3 6-.4 6-.3 6-.3 6-.3 6-.3 6-.3 6-.2 6-.3 6-.2 6-.2 6-.2 6-.1 6-.1 6-.1 6-.1 6-.1 6 0 .8 0"/>
<path d="M765.5 391.5l6 .5 6 .5 6 .4 6 .3 6 .3 6 .2 6 .2 6 .2 6 .2 6 .1 6 .2 6 .1 6 .1 6 .1 6 .1 6 .1 6 .1 6 .1 6 .1 6 .1 6 .1 6 .1 6 .2 6 .2 6 .2 6 .2 6 .3 6 .2 6 .3 6 .2 6 .1 6 .2 6 0 6 .1 6 0 6 .1 6 0 6 .1 6 0 6 .1 6 0 6 .1 6 0 6-.1 6-.2 6-.3 6-.3 6-.2 6-.2 6-.1 6-.1 6-.1 6-.2 6-.1 6-.2 6-.2 6-.4 6-.5 6-.4 6-.3 6-.3 6-.3 6-.3 6-.3 6-.2 6-.2 6-.3 6-.2 6-.2 6-.1 6-.2 6-.2 6-.1 6-.2 6-.1 6 0 6-.1 6-.1 6-.1 6 0 6-.1 .8 0"/>
<path d="M765.5 392.4l6 .8 6 .8 6 .8 6 .7 6 .5 6 .5 6 .5 6 .4 6 .4 6 .4 6 .3 6 .3 6 .3 6 .2 6 .3 6 .2 6 .2 6 .2 6 .2 6 .2 6 .1 6 .2 6 .3 6 .2 6 .3 6 .2 6 .3 6 .3 6 .3 6 .3 6 .2 6 .2 6 0 6 .1 6 0 6 0 6 .1 6 0 6 0 6 0 6 0 6 0 6 0 6-.2 6-.3 6-.4 6-.4 6-.4 6-.3 6-.2 6-.2 6-.2 6-.2 6-.2 6-.2 6-.3 6-.5 6-.7 6-.6 6-.6 6-.5 6-.5 6-.5 6-.4 6-.5 6-.4 6-.4 6-.4 6-.3 6-.4 6-.3 6-.4 6-.3 6-.2 6-.2 6-.3 6-.2 6-.1 6-.2 6-.2 6-.1 .8 0"/>
<path d="M765.5 390.6l6 .1 6 .1 6 .1 6 0 6 0 6 0 6-.1 6 0 6 0 6-.1 6 0 6-.1 6 0 6 0 6 0 6 0 6 0 6-.1 6 0 6 0 6 0 6 0 6 0 6 .1 6 .1 6 .1 6 .1 6 .1 6 .1 6 .1 6 .1 6 .1 6 0 6 0 6 0 6 .1 6 0 6 0 6 .1 6 .1 6 .1 6 .1 6 .1 6 0 6 0 6 0 6-.1 6 0 6-.1 6 .1 6 0 6 0 6 0 6 0 6 0 6-.1 6-.1 6-.2 6-.1 6-.1 6-.1 6-.1 6 0 6-.1 6-.1 6 0 6-.1 6 0 6-.1 6 0 6 0 6-.1 6 0 6 0 6-.1 6 0 6 .1 6 0 6 0 6 0 6 .1 .8 0"/>
<path d="M765.5 390.7l6 .1 6 .1 6 .1 6 .1 6 0 6 0 6 0 6 0 6 0 6 0 6 0 6 0 6 0 6 0 6 .1 6 0 6 .1 6 0 6 0 6 0 6 .1 6 .1 6 0 6 .1 6 .2 6 .1 6 .2 6 .1 6 .1 6 .1 6 .1 6 0 6 0 6 0 6 0 6-.1 6 0 6 0 6 0 6 0 6 0 6 0 6 .1 6-.1 6-.1 6-.1 6-.1 6-.1 6-.1 6 0 6-.1 6 0 6 0 6 0 6 0 6 0 6-.2 6-.1 6-.2 6-.1 6 0 6-.1 6 0 6-.1 6 0 6 0 6-.1 6 0 6 0 6 0 6-.1 6 0 6 0 6-.1 6 0 6 0 6 0 6 0 6 0 6 0 6 0 .8 0"/>
<path d="M765.5 389.1l6-.6 6-.6 6-.6 6-.5 6-.6 6-.5 6-.5 6-.5 6-.4 6-.5 6-.4 6-.4 6-.4 6-.2 6-.2 6-.2 6-.2 6-.2 6-.2 6-.1 6-.1 6-.1 6 0 6 0 6 .1 6 0 6 .1 6 .1 6 .1 6 .1 6 .1 6 .1 6 .1 6 .1 6 .1 6 0 6 .1 6 .1 6 .2 6 .1 6 .1 6 .1 6 .1 6 .2 6 .1 6 .2 6 .1 6 .1 6 .1 6 .1 6 0 6 .1 6 0 6 .1 6 0 6 .1 6 .1 6 .1 6 .2 6 .2 6 .3 6 .3 6 .3 6 .2 6 .3 6 .3 6 .3 6 .3 6 .3 6 .3 6 .3 6 .3 6 .3 6 .2 6 .3 6 .3 6 .2 6 .2 6 .3 6 .2 6 .2 .8 0"/>
<path d="M765.5 390.4l6 0 6-.1 6 0 6-.1 6-.2 6-.1 6-.2 6-.1 6-.2 6-.1 6-.2 6-.1 6-.1 6-.1 6 0 6 0 6-.1 6 0 6 0 6 0 6 0 6 .1 6 .1 6 .2 6 .2 6 .2 6 .2 6 .2 6 .2 6 .3 6 .1 6 .2 6 .1 6 .1 6 .1 6 .1 6 .1 6 .1 6 .1 6 .1 6 .1 6 .1 6 0 6 0 6-.1 6-.1 6-.1 6-.1 6-.1 6-.1 6-.1 6-.1 6-.1 6-.1 6-.1 6-.1 6-.2 6-.2 6-.2 6-.1 6 0 6-.1 6 0 6-.1 6 0 6 0 6 .1 6 0 6 .1 6 0 6 .1 6 0 6 .1 6 .1 6 0 6 .1 6 .1 6 .1 6 .1 6 0 6 .1 .8 0"/>
<path d="M765.5 389.9l6-.2 6-.3 6-.3 6-.2 6-.3 6-.3 6-.3 6-.2 6-.3 6-.2 6-.2 6-.2 6-.2 6-.1 6-.1 6-.1 6 0 6-.1 6 0 6 0 6 0 6 0 6 0 6 .1 6 .2 6 .1 6 .2 6 .1 6 .2 6 .1 6 .2 6 .1 6 .1 6 0 6 .1 6 0 6 .1 6 0 6 0 6 .1 6 0 6 0 6 .1 6 0 6 0 6 0 6 0 6-.1 6 0 6-.1 6 0 6-.1 6 0 6-.1 6 0 6 0 6 0 6-.1 6 0 6 0 6 .1 6 .1 6 .2 6 .1 6 .1 6 .2 6 .1 6 .2 6 .2 6 .1 6 .2 6 .2 6 .1 6 .1 6 .2 6 .1 6 .2 6 .1 6 .1 6 .1 6 .1 .8 .1"/>
<path d="M765.5 390.5l6 0 6 0 6 0 6-.1 6 0 6-.1 6-.1 6-.1 6-.1 6-.1 6-.1 6-.1 6-.1 6 0 6 0 6-.1 6 0 6 0 6 0 6 0 6 0 6 0 6 .1 6 .1 6 .2 6 .1 6 .2 6 .1 6 .2 6 .1 6 .1 6 .1 6 .1 6 0 6 .1 6 0 6 .1 6 .1 6 0 6 .1 6 .1 6 .1 6 0 6 0 6 0 6-.1 6-.1 6 0 6-.1 6 0 6 0 6-.1 6 0 6 0 6-.1 6-.1 6-.2 6-.1 6-.1 6-.1 6 0 6-.1 6 0 6-.1 6 0 6 0 6 0 6 0 6 0 6 0 6 .1 6 0 6 0 6 0 6 0 6 .1 6 0 6 .1 6 0 6 .1 6 0 .8 .1"/>
<path d="M765.5 389.9l6-.3 6-.3 6-.3 6-.2 6-.3 6-.3 6-.3 6-.3 6-.3 6-.2 6-.3 6-.3 6-.3 6-.2 6-.1 6-.2 6-.1 6-.2 6-.1 6-.2 6-.1 6 0 6 0 6 0 6 0 6 .1 6 .1 6 .2 6 .1 6 .2 6 .1 6 .2 6 .1 6 .2 6 .1 6 .1 6 .2 6 .1 6 .2 6 .2 6 .2 6 .1 6 .2 6 .2 6 .1 6 .1 6 .1 6 .1 6 0 6 .1 6 0 6 0 6 0 6-.1 6 0 6 0 6-.1 6 0 6-.1 6 0 6 0 6 .1 6 .1 6 0 6 .1 6 0 6 .1 6 .2 6 .1 6 .1 6 .1 6 .2 6 .1 6 .1 6 .2 6 .1 6 .2 6 .1 6 .2 6 .2 6 .1 .8 0"/>
<path d="M765.5 390.7l6 0 6 .1 6 .1 6 0 6-.1 6 0 6-.1 6 0 6-.1 6-.1 6 0 6-.1 6-.1 6 0 6 0 6 0 6 0 6 0 6 0 6 0 6 .1 6 .1 6 .1 6 .1 6 .2 6 .2 6 .2 6 .2 6 .2 6 .2 6 .1 6 .1 6 .1 6 .1 6 .1 6 0 6 .1 6 .1 6 .1 6 0 6 .1 6 .1 6 0 6 0 6-.1 6-.1 6-.2 6-.1 6-.1 6-.1 6 0 6-.1 6-.1 6-.1 6-.1 6-.1 6-.3 6-.2 6-.2 6-.1 6-.1 6-.1 6-.1 6 0 6-.1 6 0 6-.1 6 0 6 0 6 0 6 0 6 0 6 0 6 0 6 0 6 .1 6 0 6 0 6 .1 6 0 6 .1 .8 0"/>
<path d="M765.5 391.4l6 .4 6 .3 6 .4 6 .3 6 .2 6 .2 6 .1 6 .2 6 .2 6 .1 6 .1 6 .1 6 .1 6 .1 6 .2 6 .1 6 .1 6 .1 6 0 6 .1 6 .1 6 .1 6 .2 6 .1 6 .2 6 .1 6 .2 6 .3 6 .2 6 .2 6 .1 6 .2 6 .1 6 0 6 0 6 0 6 0 6 .1 6 0 6 0 6 0 6 0 6 0 6 0 6 0 6-.2 6-.2 6-.3 6-.2 6-.2 6-.1 6-.1 6-.1 6-.1 6-.1 6-.1 6-.2 6-.3 6-.4 6-.4 6-.3 6-.2 6-.3 6-.2 6-.2 6-.2 6-.2 6-.2 6-.1 6-.2 6-.2 6-.1 6-.2 6-.1 6-.1 6-.1 6-.1 6 0 6-.1 6-.1 6 0 .8 0"/>
<path d="M765.5 388.5l6-.9 6-.8 6-.9 6-.8 6-.7 6-.7 6-.7 6-.7 6-.6 6-.6 6-.6 6-.5 6-.5 6-.4 6-.3 6-.3 6-.3 6-.3 6-.2 6-.2 6-.2 6-.2 6 0 6-.1 6 0 6 .1 6 0 6 .1 6 .1 6 .1 6 .1 6 .1 6 .1 6 .1 6 .1 6 .1 6 .2 6 .1 6 .2 6 .1 6 .2 6 .2 6 .2 6 .1 6 .3 6 .2 6 .3 6 .2 6 .2 6 .2 6 .1 6 0 6 .1 6 0 6 .1 6 .1 6 .2 6 .2 6 .3 6 .4 6 .4 6 .4 6 .4 6 .4 6 .4 6 .4 6 .5 6 .4 6 .4 6 .5 6 .4 6 .4 6 .4 6 .4 6 .3 6 .4 6 .3 6 .3 6 .4 6 .3 6 .3 .8 0"/>
<path d="M765.5 388.5l6-.9 6-.9 6-.8 6-.8 6-.7 6-.7 6-.7 6-.6 6-.6 6-.6 6-.5 6-.5 6-.5 6-.3 6-.3 6-.2 6-.3 6-.2 6-.2 6-.2 6-.2 6-.1 6-.1 6 0 6 0 6 0 6 0 6 0 6 .1 6 0 6 0 6 .1 6 0 6 0 6 .1 6 0 6 .1 6 .1 6 .1 6 .1 6 .1 6 .1 6 .1 6 .2 6 .2 6 .2 6 .3 6 .2 6 .2 6 .2 6 .1 6 .1 6 .1 6 .1 6 .1 6 .2 6 .2 6 .3 6 .4 6 .4 6 .5 6 .5 6 .4 6 .5 6 .4 6 .5 6 .4 6 .5 6 .4 6 .5 6 .4 6 .4 6 .3 6 .4 6 .3 6 .3 6 .3 6 .3 6 .3 6 .3 6 .3 .8 0"/>
<path d="M765.5 389.1l6-.6 6-.6 6-.6 6-.6 6-.6 6-.5 6-.5 6-.5 6-.4 6-.4 6-.5 6-.3 6-.3 6-.3 6-.1 6-.2 6-.2 6-.1 6-.1 6-.1 6-.1 6 0 6 0 6 0 6 .1 6 .1 6 .1 6 .1 6 0 6 .1 6 .1 6 .1 6 0 6 .1 6 0 6 .1 6 0 6 .1 6 .1 6 0 6 .1 6 .1 6 .1 6 .1 6 .1 6 .1 6 .1 6 .1 6 .1 6 0 6 0 6 .1 6 0 6 .1 6 0 6 .1 6 .1 6 .2 6 .2 6 .3 6 .3 6 .3 6 .4 6 .2 6 .3 6 .4 6 .3 6 .3 6 .4 6 .3 6 .3 6 .3 6 .2 6 .3 6 .2 6 .2 6 .3 6 .2 6 .2 6 .2 6 .2 .8 0"/>
<path d="M765.5 389.7l6-.4 6-.4 6-.3 6-.4 6-.3 6-.4 6-.3 6-.3 6-.3 6-.3 6-.3 6-.3 6-.2 6-.2 6-.2 6-.1 6-.1 6-.2 6-.1 6-.1 6-.1 6 0 6-.1 6 .1 6 0 6 .1 6 .1 6 .1 6 .1 6 .1 6 .1 6 .1 6 .1 6 .1 6 0 6 .1 6 .1 6 .1 6 .1 6 .1 6 .1 6 .2 6 .1 6 .1 6 .1 6 .1 6 .1 6 .1 6 0 6 .1 6 0 6 0 6 .1 6 0 6 0 6 0 6 .1 6 0 6 0 6 .1 6 .2 6 .1 6 .2 6 .1 6 .2 6 .1 6 .2 6 .2 6 .2 6 .1 6 .2 6 .2 6 .1 6 .2 6 .1 6 .2 6 .2 6 .1 6 .2 6 .1 6 .2 .8 0"/>
<path d="M765.5 391.2l6 .4 6 .3 6 .3 6 .3 6 .2 6 .2 6 .1 6 .2 6 .1 6 .1 6 .1 6 .1 6 .1 6 0 6 .1 6 .1 6 0 6 0 6 0 6 .1 6 0 6 0 6 .1 6 0 6 .1 6 .2 6 .1 6 .2 6 .1 6 .1 6 .1 6 .1 6 .1 6 0 6 0 6 0 6 0 6 .1 6 .1 6 0 6 .1 6 .1 6 .1 6 0 6 0 6-.1 6-.1 6-.2 6-.1 6 0 6 0 6-.1 6 0 6 0 6-.1 6 0 6-.2 6-.4 6-.3 6-.3 6-.2 6-.2 6-.2 6-.2 6-.3 6-.2 6-.2 6-.1 6-.2 6-.2 6-.2 6-.1 6-.2 6-.1 6-.1 6-.1 6-.1 6 0 6-.1 6 0 6 0 .8 0"/>
<path d="M765.5 391.6l6 .5 6 .4 6 .5 6 .4 6 .3 6 .3 6 .2 6 .3 6 .2 6 .2 6 .2 6 .2 6 .1 6 .2 6 .1 6 .1 6 .2 6 0 6 .1 6 .1 6 .1 6 .1 6 .1 6 .1 6 .1 6 .2 6 .1 6 .2 6 .2 6 .1 6 .1 6 .1 6 0 6 0 6 0 6-.1 6 0 6 0 6 0 6 0 6 .1 6 0 6 0 6 0 6-.1 6-.2 6-.2 6-.2 6-.2 6-.1 6-.1 6 0 6 0 6-.1 6 0 6-.1 6-.3 6-.3 6-.4 6-.4 6-.3 6-.2 6-.3 6-.3 6-.2 6-.3 6-.2 6-.3 6-.2 6-.2 6-.3 6-.2 6-.2 6-.2 6-.1 6-.1 6-.2 6-.1 6-.1 6-.1 6-.1 .8 0"/>
<path d="M765.5 391.3l6 .4 6 .4 6 .3 6 .3 6 .2 6 .2 6 .2 6 .1 6 .1 6 .1 6 .1 6 .1 6 0 6 .1 6 .1 6 .1 6 0 6 .1 6 0 6 .1 6 0 6 .1 6 .1 6 .1 6 .2 6 .2 6 .2 6 .2 6 .2 6 .2 6 .2 6 .2 6 .1 6 .1 6 0 6 .1 6 .1 6 .1 6 0 6 .1 6 .1 6 0 6 .1 6 .1 6-.1 6-.1 6-.2 6-.3 6-.2 6-.1 6-.1 6-.1 6-.1 6-.1 6-.1 6-.2 6-.2 6-.4 6-.4 6-.4 6-.3 6-.2 6-.3 6-.3 6-.2 6-.2 6-.2 6-.2 6-.2 6-.2 6-.1 6-.2 6-.1 6-.1 6-.1 6-.1 6-.1 6 0 6-.1 6 0 6 0 .8 0"/>
<path d="M765.5 392.2l6 .8 6 .7 6 .7 6 .7 6 .5 6 .4 6 .4 6 .4 6 .3 6 .4 6 .2 6 .3 6 .2 6 .2 6 .2 6 .2 6 .2 6 .1 6 .2 6 .1 6 .2 6 .1 6 .2 6 .2 6 .2 6 .3 6 .3 6 .2 6 .3 6 .3 6 .2 6 .2 6 .1 6 .1 6 0 6 .1 6 0 6 .1 6 0 6 .1 6 0 6 .1 6 0 6-.1 6-.2 6-.3 6-.3 6-.4 6-.3 6-.2 6-.2 6-.2 6-.1 6-.2 6-.2 6-.3 6-.4 6-.6 6-.6 6-.6 6-.5 6-.5 6-.5 6-.4 6-.5 6-.4 6-.4 6-.3 6-.4 6-.3 6-.4 6-.3 6-.3 6-.2 6-.2 6-.2 6-.2 6-.2 6-.1 6-.1 6-.1 .8 0"/>
<path d="M765.5 389.4l6-.4 6-.5 6-.5 6-.4 6-.4 6-.5 6-.4 6-.4 6-.4 6-.4 6-.3 6-.4 6-.3 6-.2 6-.2 6-.2 6-.2 6-.2 6-.2 6-.2 6-.1 6-.1 6 0 6 0 6 .1 6 0 6 .1 6 .1 6 .1 6 .1 6 .1 6 .1 6 .1 6 .1 6 .2 6 .1 6 .2 6 .1 6 .2 6 .2 6 .2 6 .2 6 .2 6 .2 6 .2 6 .1 6 .2 6 .1 6 .1 6 .1 6 0 6 .1 6 0 6 .1 6 0 6 .1 6 0 6 .1 6 .1 6 .1 6 .2 6 .2 6 .1 6 .2 6 .1 6 .2 6 .2 6 .2 6 .2 6 .2 6 .2 6 .1 6 .2 6 .2 6 .2 6 .2 6 .2 6 .2 6 .1 6 .2 6 .2 .8 .1"/>
<path d="M765.5 390.9l6 .2 6 .1 6 .2 6 .1 6 .1 6 .1 6 0 6 0 6 .1 6 0 6 0 6 0 6 .1 6 0 6 0 6 .1 6 0 6 0 6 0 6 .1 6 0 6 0 6 .1 6 .1 6 .1 6 .1 6 .2 6 .1 6 .2 6 .1 6 .1 6 .1 6 0 6 0 6 0 6 0 6 0 6 .1 6 0 6 0 6 .1 6 0 6 .1 6 0 6 0 6-.1 6-.1 6-.1 6-.1 6-.1 6 0 6 0 6-.1 6 0 6 0 6-.1 6-.1 6-.2 6-.3 6-.2 6-.1 6-.1 6-.1 6-.1 6-.1 6-.1 6-.1 6-.1 6-.1 6-.1 6-.1 6 0 6-.1 6-.1 6 0 6 0 6-.1 6 0 6 0 6 0 6 0 .8 0"/>
<path d="M765.5 389.1l6-.6 6-.6 6-.6 6-.6 6-.5 6-.6 6-.5 6-.5 6-.4 6-.5 6-.4 6-.4 6-.4 6-.3 6-.2 6-.2 6-.2 6-.2 6-.2 6-.1 6-.1 6-.1 6 0 6 0 6 0 6 .1 6 .1 6 .1 6 .1 6 .1 6 .1 6 .2 6 .1 6 0 6 .1 6 .1 6 .2 6 .1 6 .1 6 .1 6 .2 6 .1 6 .2 6 .1 6 .1 6 .2 6 .1 6 .2 6 .1 6 .1 6 0 6 0 6 .1 6 0 6 0 6 .1 6 .1 6 .1 6 .1 6 .3 6 .2 6 .3 6 .3 6 .3 6 .2 6 .3 6 .3 6 .3 6 .3 6 .4 6 .3 6 .2 6 .3 6 .3 6 .2 6 .3 6 .3 6 .2 6 .2 6 .3 6 .2 .8 0"/>
<path d="M765.5 391l6 .1 6 .2 6 .1 6 .2 6 0 6 .1 6 0 6 .1 6 0 6 0 6 .1 6 0 6 0 6 .1 6 .1 6 .1 6 0 6 .1 6 .1 6 .1 6 0 6 .1 6 .2 6 .1 6 .1 6 .2 6 .2 6 .2 6 .2 6 .2 6 .1 6 .1 6 .1 6 .1 6-.1 6 0 6 0 6 0 6 0 6 0 6 0 6-.1 6 0 6 0 6-.1 6-.1 6-.2 6-.2 6-.2 6-.2 6-.1 6-.1 6 0 6-.1 6-.1 6 0 6-.2 6-.2 6-.2 6-.3 6-.1 6-.1 6-.1 6-.1 6-.1 6-.1 6-.1 6 0 6-.1 6 0 6-.1 6 0 6-.1 6 0 6 0 6-.1 6 0 6 0 6-.1 6 0 6 0 .8 0"/>
<path d="M765.5 388.7l6-.9 6-.8 6-.7 6-.8 6-.7 6-.7 6-.6 6-.6 6-.6 6-.5 6-.6 6-.5 6-.4 6-.3 6-.3 6-.3 6-.3 6-.3 6-.2 6-.2 6-.2 6-.1 6-.1 6 0 6 0 6 0 6 0 6 .1 6 0 6 .1 6 .1 6 0 6 .1 6 .1 6 .1 6 .1 6 .2 6 .1 6 .2 6 .2 6 .2 6 .2 6 .2 6 .2 6 .3 6 .3 6 .2 6 .2 6 .2 6 .2 6 .1 6 .1 6 .1 6 .1 6 .1 6 .1 6 .2 6 .3 6 .3 6 .4 6 .3 6 .4 6 .4 6 .3 6 .4 6 .3 6 .4 6 .4 6 .3 6 .4 6 .4 6 .3 6 .3 6 .3 6 .3 6 .3 6 .3 6 .3 6 .3 6 .2 6 .3 .8 0"/>
<path d="M765.5 389.1l6-.6 6-.7 6-.6 6-.6 6-.5 6-.6 6-.5 6-.5 6-.4 6-.5 6-.4 6-.4 6-.3 6-.2 6-.2 6-.2 6-.2 6-.2 6-.1 6-.2 6-.1 6 0 6 0 6 0 6 .1 6 0 6 .1 6 .1 6 .1 6 .1 6 0 6 .1 6 .1 6 0 6 .1 6 .1 6 0 6 .1 6 .1 6 .2 6 .1 6 .1 6 .1 6 .2 6 .1 6 .2 6 .1 6 .1 6 .1 6 .1 6 0 6 .1 6 .1 6 0 6 .1 6 .1 6 .2 6 .2 6 .2 6 .3 6 .3 6 .3 6 .2 6 .3 6 .3 6 .3 6 .3 6 .3 6 .3 6 .3 6 .3 6 .3 6 .2 6 .3 6 .2 6 .2 6 .2 6 .3 6 .2 6 .2 6 .2 .8 0"/>
<path d="M765.5 392.5l6 .9 6 .9 6 .8 6 .7 6 .7 6 .5 6 .5 6 .5 6 .4 6 .4 6 .4 6 .3 6 .3 6 .3 6 .2 6 .2 6 .2 6 .2 6 .2 6 .2 6 .1 6 .2 6 .2 6 .2 6 .2 6 .3 6 .3 6 .2 6 .3 6 .2 6 .2 6 .2 6 0 6 .1 6 0 6 0 6 .1 6 0 6 0 6 0 6 0 6 .1 6 0 6-.1 6-.3 6-.4 6-.4 6-.3 6-.3 6-.2 6-.2 6-.2 6-.1 6-.2 6-.2 6-.3 6-.5 6-.6 6-.7 6-.7 6-.5 6-.5 6-.5 6-.5 6-.5 6-.5 6-.4 6-.4 6-.5 6-.4 6-.4 6-.3 6-.4 6-.3 6-.2 6-.3 6-.2 6-.2 6-.2 6-.1 6-.2 .8 0"/>
<path d="M765.5 391.7l6 .5 6 .5 6 .4 6 .4 6 .4 6 .2 6 .3 6 .2 6 .3 6 .1 6 .2 6 .2 6 .1 6 .2 6 .1 6 .2 6 .1 6 .1 6 .1 6 .1 6 .1 6 .1 6 .2 6 .1 6 .2 6 .2 6 .2 6 .2 6 .3 6 .2 6 .1 6 .2 6 .1 6 0 6 0 6 0 6 0 6 .1 6 0 6 0 6 0 6 0 6 .1 6 0 6-.2 6-.2 6-.3 6-.2 6-.3 6-.1 6-.2 6-.1 6-.1 6-.1 6-.1 6-.2 6-.2 6-.5 6-.4 6-.4 6-.4 6-.3 6-.3 6-.3 6-.3 6-.3 6-.2 6-.2 6-.3 6-.2 6-.2 6-.2 6-.2 6-.2 6-.1 6-.2 6-.1 6-.1 6-.1 6-.1 6 0 .8 0"/>
<path d="M765.5 388.9l6-.8 6-.7 6-.7 6-.6 6-.7 6-.6 6-.5 6-.5 6-.5 6-.5 6-.5 6-.4 6-.4 6-.3 6-.2 6-.2 6-.2 6-.2 6-.2 6-.1 6-.2 6-.1 6-.1 6 0 6 0 6 0 6 .1 6 0 6 0 6 .1 6 0 6 .1 6 0 6 0 6 0 6 .1 6 0 6 .1 6 .1 6 .1 6 .1 6 .1 6 .1 6 .1 6 .2 6 .2 6 .2 6 .2 6 .1 6 .2 6 .1 6 .1 6 .1 6 .1 6 .1 6 .1 6 .2 6 .2 6 .3 6 .3 6 .4 6 .4 6 .4 6 .4 6 .3 6 .4 6 .4 6 .3 6 .4 6 .4 6 .3 6 .4 6 .3 6 .3 6 .2 6 .3 6 .3 6 .2 6 .3 6 .2 6 .2 .8 .1"/>
<path d="M765.5 390.6l6 .1 6 0 6 .1 6 0 6 0 6-.1 6 0 6-.1 6 0 6-.1 6 0 6-.1 6 0 6 0 6-.1 6 0 6 0 6 0 6 0 6-.1 6 0 6 .1 6 0 6 .1 6 .1 6 .1 6 .2 6 .1 6 .2 6 .1 6 .1 6 .1 6 0 6 .1 6 0 6 0 6 .1 6 0 6 .1 6 .1 6 .1 6 .1 6 .1 6 0 6 0 6-.1 6-.1 6 0 6-.1 6 0 6 0 6 0 6 0 6-.1 6 0 6-.1 6-.1 6-.2 6-.2 6-.1 6 0 6-.1 6-.1 6 0 6-.1 6 0 6-.1 6 0 6 0 6-.1 6 0 6 0 6 0 6 0 6 0 6 0 6 0 6 0 6 .1 6 0 6 .1 .8 0"/>
<path d="M765.5 388.6l6-.9 6-.9 6-.8 6-.9 6-.7 6-.8 6-.7 6-.6 6-.7 6-.6 6-.6 6-.5 6-.5 6-.3 6-.3 6-.3 6-.3 6-.2 6-.2 6-.2 6-.1 6-.1 6 0 6 0 6 .1 6 .1 6 .1 6 .1 6 .1 6 .2 6 .1 6 .1 6 .2 6 .1 6 .2 6 .1 6 .2 6 .1 6 .2 6 .2 6 .2 6 .1 6 .2 6 .2 6 .2 6 .3 6 .2 6 .1 6 .1 6 .1 6 0 6 0 6 .1 6 0 6 .1 6 .1 6 .2 6 .2 6 .3 6 .4 6 .4 6 .3 6 .4 6 .4 6 .3 6 .4 6 .5 6 .4 6 .4 6 .4 6 .4 6 .4 6 .3 6 .4 6 .3 6 .4 6 .3 6 .3 6 .3 6 .3 6 .3 .8 0"/>
<path d="M765.5 390.9l6 .2 6 .1 6 .1 6 .1 6 .1 6 0 6 0 6 .1 6 0 6 0 6 0 6 0 6 0 6 .1 6 0 6 .1 6 .1 6 0 6 .1 6 .1 6 0 6 .1 6 .2 6 .1 6 .2 6 .2 6 .2 6 .2 6 .2 6 .2 6 .1 6 .2 6 .1 6 0 6 0 6 0 6 0 6 0 6 0 6 0 6 0 6 0 6 0 6 0 6-.1 6-.1 6-.2 6-.2 6-.2 6-.2 6-.1 6-.1 6 0 6-.1 6-.1 6-.1 6-.1 6-.3 6-.2 6-.3 6-.1 6-.1 6-.1 6-.1 6-.1 6-.1 6-.1 6 0 6 0 6-.1 6 0 6-.1 6 0 6 0 6 0 6 0 6-.1 6 0 6 0 6 0 6 0 .8 0"/>
</g>
<g fill="none" stroke="#ff0000" stroke-width="1.6" stroke-linejoin="round" >
<path d="M765.5 389l6-.6 6-.6 6-.6 6-.7 6-.6 6-.6 6-.7 6-.6 6-.7 6-.6 6-.7 6-.6 6-.7 6-.6 6-.7 6-.7 6-.7 6-.8 6-.7 6-.7 6-.7 6-.7 6-.7 6-.6 6-.6 6-.6 6-.6 6-.6 6-.6 6-.6 6-.5 6-.4 6-.4 6-.3 6-.4 6-.3 6-.3 6-.2 6-.2 6 0 6 .1 6 .1 6 .1 6 .2 6 .2 6 .3 6 .3 6 .4 6 .7 6 .7 6 .8 6 1.4 6 2 6 2.1 6 2 6 1.4 6 1.1 6 1.1 6 1 6 .9 6 .8 6 .7 6 .6 6 .5 6 .4 6 .4 6 .4 6 .4 6 .4 6 .4 6 .3 6 .3 6 .3 6 .3 6 .3 6 .2 6 .1 6 .2 6 .1 6 .1 6 0 .8 0"/>
</g>
<g fill="none" stroke="#ff0000" stroke-width="1.6" stroke-linejoin="round" >
<path d="M765.5 392l6 1.2 6 1.2 6 1.1 6 1 6 1.1 6 1 6 .9 6 .9 6 .8 6 .8 6 .7 6 .7 6 .6 6 .5 6 .5 6 .4 6 .4 6 .3 6 .4 6 .3 6 .3 6 .3 6 .4 6 .3 6 .3 6 .4 6 .3 6 .4 6 .3 6 .3 6 .3 6 .3 6 .2 6 .2 6 .2 6 .1 6 .2 6 .1 6 .1 6 0 6-.2 6-.2 6-.4 6-.3 6-.5 6-.4 6-.6 6-.9 6-1 6-1 6-1.1 6-.9 6-.9 6-.8 6-.8 6-.8 6-.8 6-.7 6-.6 6-.6 6-.6 6-.6 6-.5 6-.5 6-.5 6-.5 6-.4 6-.4 6-.3 6-.4 6-.3 6-.3 6-.3 6-.3 6-.2 6-.3 6-.2 6-.2 6-.2 6-.2 6-.1 .8 0"/>
<path d="M765.5 392l6 1.2 6 1.1 6 1.2 6 1 6 1.1 6 .9 6 1 6 .9 6 .8 6 .8 6 .7 6 .7 6 .6 6 .5 6 .5 6 .4 6 .4 6 .4 6 .3 6 .4 6 .3 6 .3 6 .3 6 .4 6 .3 6 .4 6 .3 6 .4 6 .3 6 .3 6 .3 6 .2 6 .2 6 .2 6 .2 6 .2 6 .1 6 .1 6 .1 6 0 6-.2 6-.2 6-.4 6-.4 6-.4 6-.5 6-.6 6-.8 6-1 6-1.1 6-1.1 6-.9 6-.9 6-.8 6-.8 6-.8 6-.7 6-.7 6-.7 6-.6 6-.6 6-.5 6-.6 6-.5 6-.4 6-.5 6-.4 6-.4 6-.3 6-.4 6-.3 6-.3 6-.3 6-.2 6-.3 6-.3 6-.2 6-.2 6-.2 6-.1 6-.2 .8 0"/>
</g>
<g fill="none" stroke="#00ff00" stroke-width="1.6" stroke-linejoin="round" >
<path d="M765.5 394.5l6 2 6 2.3 6 2.7 6 3 6 3.2 6 3.7 6 4.5 6 4.2 6 3.5 6 3.4 6 3.2 6 2.9 6 2.4 6 1.8 6 1 6 .7 6 .5 6 .3 6 .3 6 .1 6 .2 6 .1 6 .2 6 .2 6 .3 6 .4 6 .6 6 .7 6 .9 6 1 6 1 6 1.1 6 1.4 6 1.6 6 1.8 6 1.8 6 1.7 6 1.5 6 1.6 6 1.5 6 1.3 6 .8 6 .1 6-.3 6-.7 6-.8 6-1.1 6-1.2 6-1.4 6-2.4 6-3 6-2.8 6-2.3 6-2.3 6-2.5 6-3.3 6-4.1 6-4.3 6-4.1 6-3.4 6-3.1 6-3 6-2.9 6-2.7 6-2.4 6-2.3 6-1.9 6-1.7 6-1.5 6-1.4 6-1.3 6-1.1 6-1.1 6-.9 6-.8 6-.7 6-.6 6-.6 6-.5 6-.4 6-.3 .8 0"/>
<path d="M765.5 393.3l6 1.2 6 1.2 6 1.3 6 1.4 6 1.5 6 1.6 6 1.7 6 1.9 6 1.8 6 1.9 6 1.9 6 1.7 6 1.9 6 2 6 1.9 6 1.7 6 1.2 6 .7 6 .4 6 .4 6 .3 6 .1 6 0 6 0 6-.1 6-.1 6 0 6-.1 6-.1 6-.1 6 0 6 .3 6 .6 6 .7 6 .8 6 .8 6 .8 6 .9 6 1 6 .8 6 .5 6 .3 6 .3 6 .2 6 .2 6 .1 6-.3 6-.8 6-1.3 6-1.4 6-1.6 6-1.7 6-2.2 6-2.6 6-2.6 6-2.2 6-2 6-1.8 6-1.8 6-1.7 6-1.5 6-1.5 6-1.5 6-1.4 6-1.3 6-1.3 6-1.1 6-1 6-1 6-.9 6-.8 6-.7 6-.4 6-.3 6-.3 6-.3 6-.2 6-.2 6-.2 6-.1 6 0 .8 0"/>
<path d="M765.5 393.7l6 1.5 6 1.6 6 1.7 6 1.9 6 2.1 6 2.2 6 2.6 6 2.7 6 2.5 6 2.3 6 2.4 6 2.1 6 2.2 6 2 6 1.7 6 1.4 6 1 6 .6 6 .4 6 .4 6 .2 6 .2 6 .2 6 .1 6 .1 6 .1 6 .2 6 .2 6 .3 6 .3 6 .5 6 .6 6 .8 6 1 6 1.1 6 1.2 6 1.1 6 1.2 6 1.2 6 1.1 6 .9 6 .6 6 .5 6 .1 6-.1 6-.2 6-.5 6-1 6-1.3 6-1.5 6-2 6-2.2 6-2.5 6-2.6 6-2.5 6-2.5 6-2.6 6-2.8 6-2.8 6-2.6 6-2.2 6-2.2 6-2 6-2 6-1.8 6-1.7 6-1.5 6-1.3 6-1.2 6-1.1 6-1 6-.9 6-.6 6-.6 6-.4 6-.5 6-.3 6-.4 6-.2 6-.2 6-.2 .8 0"/>
<path d="M765.5 393.9l6 1.6 6 1.7 6 2 6 2.2 6 2.3 6 2.7 6 3.1 6 3.1 6 2.7 6 2.7 6 2.5 6 2.4 6 2.3 6 2 6 1.6 6 1.2 6 .9 6 .5 6 .3 6 .3 6 .2 6 .1 6 0 6 .1 6 .1 6 .1 6 .1 6 .3 6 .3 6 .4 6 .4 6 .7 6 .8 6 1.1 6 1.2 6 1.2 6 1.3 6 1.2 6 1.1 6 1.1 6 .9 6 .7 6 .4 6 0 6-.2 6-.4 6-.7 6-1 6-1.3 6-1.6 6-2.2 6-2.4 6-2.4 6-2.3 6-2.4 6-2.5 6-2.8 6-3 6-3 6-2.6 6-2.3 6-2.3 6-2.1 6-2.1 6-1.9 6-1.8 6-1.6 6-1.3 6-1.3 6-1.2 6-1.1 6-.9 6-.8 6-.7 6-.6 6-.5 6-.4 6-.5 6-.3 6-.3 6-.2 .8 0"/>
<path d="M765.5 394.1l6 1.7 6 2 6 2.2 6 2.4 6 2.6 6 3 6 3.6 6 3.5 6 2.9 6 2.9 6 2.8 6 2.6 6 2.4 6 1.9 6 1.4 6 1.1 6 .7 6 .5 6 .4 6 .3 6 .2 6 .2 6 .2 6 .2 6 .2 6 .3 6 .4 6 .5 6 .6 6 .7 6 .8 6 .8 6 1.1 6 1.3 6 1.4 6 1.5 6 1.4 6 1.2 6 1.3 6 1.2 6 .9 6 .7 6 .1 6-.2 6-.4 6-.7 6-1 6-1.3 6-1.4 6-2 6-2.6 6-2.7 6-2.5 6-2.4 6-2.4 6-2.8 6-3.3 6-3.5 6-3.4 6-2.9 6-2.6 6-2.5 6-2.3 6-2.3 6-2.1 6-1.8 6-1.7 6-1.4 6-1.3 6-1.2 6-1.1 6-.9 6-.9 6-.7 6-.6 6-.5 6-.5 6-.5 6-.4 6-.3 6-.3 .8 0"/>
<path d="M765.5 393.5l6 1.3 6 1.4 6 1.5 6 1.6 6 1.8 6 1.8 6 2.2 6 2.2 6 2.1 6 2.1 6 2 6 2 6 2 6 2 6 1.8 6 1.5 6 1.1 6 .6 6 .4 6 .4 6 .3 6 .1 6 .1 6 0 6 0 6 0 6 .1 6 0 6 .1 6 .2 6 .2 6 .5 6 .7 6 .9 6 .9 6 1 6 .9 6 1.1 6 1 6 .9 6 .7 6 .4 6 .4 6 .1 6 .1 6-.1 6-.5 6-.9 6-1.3 6-1.6 6-1.8 6-1.9 6-2.4 6-2.6 6-2.6 6-2.3 6-2.2 6-2.3 6-2.2 6-2 6-1.8 6-1.8 6-1.7 6-1.6 6-1.6 6-1.4 6-1.3 6-1.1 6-1 6-1 6-.9 6-.7 6-.6 6-.4 6-.3 6-.4 6-.2 6-.3 6-.2 6-.1 6-.1 .8 0"/>
<path d="M765.5 393.3l6 1.2 6 1.2 6 1.3 6 1.4 6 1.5 6 1.6 6 1.8 6 1.9 6 1.9 6 1.9 6 1.9 6 1.8 6 2 6 2.1 6 1.9 6 1.7 6 1.2 6 .7 6 .5 6 .5 6 .3 6 .2 6 .1 6 0 6 0 6-.1 6 0 6-.1 6 0 6 0 6 0 6 .3 6 .6 6 .7 6 .8 6 .7 6 .7 6 .9 6 .9 6 .7 6 .4 6 .3 6 .2 6 .1 6 .1 6-.1 6-.4 6-.9 6-1.3 6-1.6 6-1.6 6-1.8 6-2.3 6-2.6 6-2.6 6-2.2 6-1.9 6-1.9 6-1.7 6-1.7 6-1.5 6-1.5 6-1.4 6-1.4 6-1.3 6-1.2 6-1.1 6-.9 6-1 6-.8 6-.8 6-.7 6-.4 6-.3 6-.3 6-.3 6-.2 6-.2 6-.2 6-.1 6-.1 .8 0"/>
<path d="M765.5 394l6 1.5 6 1.8 6 2 6 2.2 6 2.3 6 2.6 6 3.2 6 3.1 6 2.8 6 2.7 6 2.6 6 2.4 6 2.3 6 2 6 1.6 6 1.2 6 .9 6 .6 6 .3 6 .3 6 .3 6 .1 6 .1 6 .1 6 .1 6 .2 6 .2 6 .3 6 .4 6 .4 6 .5 6 .7 6 .9 6 1.1 6 1.2 6 1.3 6 1.3 6 1.3 6 1.2 6 1.1 6 1.1 6 .7 6 .5 6 .1 6-.2 6-.4 6-.6 6-1.1 6-1.2 6-1.5 6-2.2 6-2.5 6-2.5 6-2.4 6-2.4 6-2.5 6-2.8 6-3.2 6-3.2 6-2.9 6-2.4 6-2.4 6-2.3 6-2.2 6-2 6-1.9 6-1.6 6-1.4 6-1.3 6-1.2 6-1.2 6-.9 6-.8 6-.7 6-.6 6-.5 6-.5 6-.4 6-.4 6-.3 6-.2 .8 0"/>
<path d="M765.5 394.4l6 1.9 6 2.2 6 2.6 6 2.8 6 3.1 6 3.5 6 4.2 6 4.1 6 3.4 6 3.3 6 3.1 6 2.9 6 2.5 6 1.8 6 1.2 6 .9 6 .6 6 .3 6 .3 6 .2 6 .2 6 .2 6 .1 6 .2 6 .3 6 .3 6 .5 6 .6 6 .8 6 .8 6 1 6 .9 6 1.3 6 1.4 6 1.7 6 1.6 6 1.6 6 1.4 6 1.4 6 1.5 6 1.2 6 .8 6 .1 6-.2 6-.6 6-.8 6-1.1 6-1.2 6-1.3 6-2.1 6-2.9 6-2.8 6-2.4 6-2.2 6-2.5 6-3 6-3.7 6-4.1 6-4 6-3.3 6-2.9 6-2.9 6-2.8 6-2.6 6-2.3 6-2.2 6-1.9 6-1.6 6-1.4 6-1.4 6-1.3 6-1.1 6-1 6-.9 6-.8 6-.7 6-.6 6-.6 6-.5 6-.4 6-.3 .8 0"/>
</g>
<path d="M905.0,456.1 907.0,457.7 909.0,459.4 911.0,461.1 913.0,462.9 915.0,464.8 917.0,466.7 919.0,468.7 921.0,470.8 923.1,472.9 925.1,475.1 927.1,477.4 929.1,479.7 931.1,482.0 933.1,484.4 935.1,486.8 937.1,489.1 939.1,491.5 941.1,493.9 943.1,496.2 945.1,498.5 947.1,500.7 949.1,502.9 951.1,505.1 953.1,507.1 955.1,509.1 957.2,511.1 959.2,513.0 961.2,514.9 963.2,516.8 965.2,518.7 967.2,520.5 969.2,522.4 971.2,524.3 973.2,526.2 975.2,528.1 977.2,530.1 979.2,532.1 981.2,534.2 983.2,536.3 985.2,538.5 987.2,540.8 989.2,543.1 991.2,545.4 993.3,547.9 995.3,550.3 997.3,552.8 999.3,555.3 1001.3,557.8 1003.3,560.4 1005.3,562.9 1007.3,565.5 1009.3,568.0 1011.3,570.4 1013.3,572.8 1015.3,575.2 1017.3,577.4 1019.3,579.6 1021.3,581.6 1023.3,583.6 1025.3,585.4 1027.4,587.0 1029.4,588.6 1031.4,589.9 1033.4,591.2 1035.4,592.3 1037.4,593.2 1039.4,594.1 1041.4,594.7 1043.4,595.3 1045.4,595.7 1047.4,595.9 1049.4,596.1 1051.4,596.1 1053.4,596.0 1055.4,595.7 1057.4,595.3 1059.4,594.8 1061.5,594.2 1063.5,593.5 1065.5,592.7 1067.5,591.7 1069.5,590.6 1071.5,589.5 1073.5,588.2 1075.5,586.8 1077.5,585.3 1079.5,583.7 1081.5,582.1 1083.5,580.3 1085.5,578.4 1087.5,576.5 1089.5,574.5 1091.5,572.3 1093.5,570.1 1095.6,567.8 1097.6,565.4 1099.6,563.0 1101.6,560.4 1103.6,557.8 1105.6,555.1 1107.6,552.3 1109.6,549.4 1111.6,546.5 1113.6,543.5 1115.6,540.4 1117.6,537.3 1119.6,534.1 1121.6,530.8 1123.6,527.4 1125.6,524.0 1127.6,520.5 1129.7,517.0 1131.7,513.4 1133.7,509.8 1135.7,506.2 1137.7,502.6 1139.7,499.0 1141.7,495.4 1143.7,491.8 1145.7,488.2 1147.7,484.7 1149.7,481.3 1151.7,477.9 1153.7,474.5 1155.7,471.3 1157.7,468.1 1159.7,465.0 1161.7,462.0 1163.8,459.0 1165.8,456.2 1167.8,453.4 1169.8,450.6 1171.8,448.0 1173.8,445.5 1175.8,443.0 1177.8,440.6 1179.8,438.3 1181.8,436.1 1183.8,434.0 1185.8,431.9 1187.8,429.9 1189.8,427.9 1191.8,426.1 1193.8,424.3 1195.8,422.6 1197.8,420.9 1199.9,419.3 1201.9,417.8 1203.9,416.3 1205.9,414.9 1207.9,413.5 1209.9,412.2 1211.9,410.9 1213.9,409.7 1215.9,408.6 1217.9,407.4 1219.9,406.4 1221.9,405.3 1223.9,404.3 1225.9,403.4 1227.9,402.5 1229.9,401.6 1231.9,400.8 1234.0,400.0 1236.0,399.2 1238.0,398.4 1240.0,397.7 1242.0,397.0 1244.0,396.4 1246.0,395.7 1248.0,395.1 1250.0,394.5 1250.0,394.3 1248.0,394.7 1246.0,395.1 1244.0,395.6 1242.0,396.2 1240.0,396.8 1238.0,397.4 1236.0,398.1 1234.0,398.8 1231.9,399.6 1229.9,400.4 1227.9,401.2 1225.9,402.1 1223.9,403.1 1221.9,404.1 1219.9,405.2 1217.9,406.3 1215.9,407.4 1213.9,408.7 1211.9,409.9 1209.9,411.2 1207.9,412.6 1205.9,414.0 1203.9,415.5 1201.9,417.1 1199.9,418.7 1197.8,420.3 1195.8,422.0 1193.8,423.8 1191.8,425.6 1189.8,427.5 1187.8,429.5 1185.8,431.5 1183.8,433.5 1181.8,435.7 1179.8,437.9 1177.8,440.1 1175.8,442.5 1173.8,444.9 1171.8,447.3 1169.8,449.9 1167.8,452.5 1165.8,455.1 1163.8,457.8 1161.7,460.6 1159.7,463.5 1157.7,466.5 1155.7,469.5 1153.7,472.6 1151.7,475.7 1149.7,479.0 1147.7,482.3 1145.7,485.6 1143.7,489.1 1141.7,492.6 1139.7,496.2 1137.7,499.9 1135.7,503.7 1133.7,507.4 1131.7,511.1 1129.7,514.8 1127.6,518.4 1125.6,521.8 1123.6,525.2 1121.6,528.5 1119.6,531.6 1117.6,534.7 1115.6,537.8 1113.6,540.8 1111.6,543.9 1109.6,547.0 1107.6,550.1 1105.6,553.4 1103.6,556.7 1101.6,560.2 1099.6,563.6 1097.6,567.0 1095.6,570.4 1093.5,573.7 1091.5,576.9 1089.5,580.0 1087.5,582.9 1085.5,585.6 1083.5,588.2 1081.5,590.7 1079.5,593.0 1077.5,595.1 1075.5,597.1 1073.5,599.0 1071.5,600.7 1069.5,602.2 1067.5,603.6 1065.5,604.8 1063.5,605.9 1061.5,606.9 1059.4,607.6 1057.4,608.3 1055.4,608.8 1053.4,609.1 1051.4,609.3 1049.4,609.3 1047.4,609.2 1045.4,608.9 1043.4,608.4 1041.4,607.7 1039.4,606.9 1037.4,605.8 1035.4,604.5 1033.4,603.1 1031.4,601.4 1029.4,599.7 1027.4,597.8 1025.3,595.7 1023.3,593.6 1021.3,591.3 1019.3,589.0 1017.3,586.6 1015.3,584.2 1013.3,581.7 1011.3,579.2 1009.3,576.7 1007.3,574.2 1005.3,571.7 1003.3,569.1 1001.3,566.6 999.3,564.1 997.3,561.6 995.3,559.1 993.3,556.6 991.2,554.1 989.2,551.6 987.2,549.2 985.2,546.8 983.2,544.4 981.2,542.1 979.2,539.8 977.2,537.5 975.2,535.3 973.2,533.1 971.2,530.9 969.2,528.8 967.2,526.8 965.2,524.8 963.2,522.9 961.2,521.1 959.2,519.2 957.2,517.5 955.1,515.8 953.1,514.1 951.1,512.4 949.1,510.8 947.1,509.2 945.1,507.7 943.1,506.2 941.1,504.7 939.1,503.2 937.1,501.8 935.1,500.4 933.1,499.0 931.1,497.7 929.1,496.4 927.1,495.1 925.1,493.9 923.1,492.7 921.0,491.5 919.0,490.3 917.0,489.2 915.0,488.1 913.0,487.1 911.0,486.0 909.0,485.1 907.0,484.1 905.0,483.2Z" fill="#ffb6c1" />
<path d="M905.0,435.2 907.0,437.0 909.0,438.8 911.0,440.8 913.0,442.8 915.0,444.9 917.0,447.2 919.0,449.5 921.0,452.0 923.1,454.5 925.1,457.2 927.1,459.9 929.1,462.7 931.1,465.5 933.1,468.4 935.1,471.3 937.1,474.2 939.1,477.0 941.1,479.9 943.1,482.7 945.1,485.4 947.1,488.1 949.1,490.7 951.1,493.2 953.1,495.6 955.1,497.8 957.2,500.0 959.2,502.2 961.2,504.2 963.2,506.3 965.2,508.2 967.2,510.2 969.2,512.1 971.2,514.0 973.2,516.0 975.2,517.9 977.2,519.9 979.2,521.8 981.2,523.9 983.2,526.0 985.2,528.1 987.2,530.3 989.2,532.6 991.2,535.0 993.3,537.4 995.3,539.9 997.3,542.6 999.3,545.3 1001.3,548.1 1003.3,550.9 1005.3,553.8 1007.3,556.6 1009.3,559.3 1011.3,561.9 1013.3,564.3 1015.3,566.5 1017.3,568.6 1019.3,570.5 1021.3,572.3 1023.3,573.9 1025.3,575.5 1027.4,577.0 1029.4,578.4 1031.4,579.8 1033.4,581.0 1035.4,582.1 1037.4,583.1 1039.4,583.9 1041.4,584.6 1043.4,585.2 1045.4,585.6 1047.4,585.8 1049.4,585.9 1051.4,585.9 1053.4,585.7 1055.4,585.4 1057.4,584.9 1059.4,584.3 1061.5,583.6 1063.5,582.8 1065.5,581.8 1067.5,580.8 1069.5,579.6 1071.5,578.3 1073.5,576.8 1075.5,575.3 1077.5,573.7 1079.5,571.9 1081.5,570.1 1083.5,568.2 1085.5,566.1 1087.5,564.0 1089.5,561.8 1091.5,559.5 1093.5,557.1 1095.6,554.7 1097.6,552.1 1099.6,549.6 1101.6,546.9 1103.6,544.2 1105.6,541.4 1107.6,538.5 1109.6,535.6 1111.6,532.7 1113.6,529.7 1115.6,526.7 1117.6,523.6 1119.6,520.5 1121.6,517.3 1123.6,514.1 1125.6,510.9 1127.6,507.7 1129.7,504.5 1131.7,501.2 1133.7,497.9 1135.7,494.7 1137.7,491.4 1139.7,488.1 1141.7,484.9 1143.7,481.7 1145.7,478.4 1147.7,475.3 1149.7,472.1 1151.7,469.0 1153.7,465.9 1155.7,462.9 1157.7,459.9 1159.7,457.0 1161.7,454.2 1163.8,451.4 1165.8,448.7 1167.8,446.0 1169.8,443.5 1171.8,441.0 1173.8,438.6 1175.8,436.4 1177.8,434.2 1179.8,432.1 1181.8,430.0 1183.8,428.1 1185.8,426.2 1187.8,424.5 1189.8,422.7 1191.8,421.1 1193.8,419.5 1195.8,418.0 1197.8,416.6 1199.9,415.2 1201.9,413.9 1203.9,412.6 1205.9,411.4 1207.9,410.2 1209.9,409.1 1211.9,408.0 1213.9,407.0 1215.9,406.0 1217.9,405.0 1219.9,404.1 1221.9,403.2 1223.9,402.4 1225.9,401.6 1227.9,400.7 1229.9,400.0 1231.9,399.2 1234.0,398.5 1236.0,397.7 1238.0,397.0 1240.0,396.3 1242.0,395.6 1244.0,394.9 1246.0,394.2 1248.0,393.5 1250.0,392.8 1250.0,394.5 1248.0,395.1 1246.0,395.7 1244.0,396.4 1242.0,397.0 1240.0,397.7 1238.0,398.4 1236.0,399.2 1234.0,400.0 1231.9,400.8 1229.9,401.6 1227.9,402.5 1225.9,403.4 1223.9,404.3 1221.9,405.3 1219.9,406.4 1217.9,407.4 1215.9,408.6 1213.9,409.7 1211.9,410.9 1209.9,412.2 1207.9,413.5 1205.9,414.9 1203.9,416.3 1201.9,417.8 1199.9,419.3 1197.8,420.9 1195.8,422.6 1193.8,424.3 1191.8,426.1 1189.8,427.9 1187.8,429.9 1185.8,431.9 1183.8,434.0 1181.8,436.1 1179.8,438.3 1177.8,440.6 1175.8,443.0 1173.8,445.5 1171.8,448.0 1169.8,450.6 1167.8,453.4 1165.8,456.2 1163.8,459.0 1161.7,462.0 1159.7,465.0 1157.7,468.1 1155.7,471.3 1153.7,474.5 1151.7,477.9 1149.7,481.3 1147.7,484.7 1145.7,488.2 1143.7,491.8 1141.7,495.4 1139.7,499.0 1137.7,502.6 1135.7,506.2 1133.7,509.8 1131.7,513.4 1129.7,517.0 1127.6,520.5 1125.6,524.0 1123.6,527.4 1121.6,530.8 1119.6,534.1 1117.6,537.3 1115.6,540.4 1113.6,543.5 1111.6,546.5 1109.6,549.4 1107.6,552.3 1105.6,555.1 1103.6,557.8 1101.6,560.4 1099.6,563.0 1097.6,565.4 1095.6,567.8 1093.5,570.1 1091.5,572.3 1089.5,574.5 1087.5,576.5 1085.5,578.4 1083.5,580.3 1081.5,582.1 1079.5,583.7 1077.5,585.3 1075.5,586.8 1073.5,588.2 1071.5,589.5 1069.5,590.6 1067.5,591.7 1065.5,592.7 1063.5,593.5 1061.5,594.2 1059.4,594.8 1057.4,595.3 1055.4,595.7 1053.4,596.0 1051.4,596.1 1049.4,596.1 1047.4,595.9 1045.4,595.7 1043.4,595.3 1041.4,594.7 1039.4,594.1 1037.4,593.2 1035.4,592.3 1033.4,591.2 1031.4,589.9 1029.4,588.6 1027.4,587.0 1025.3,585.4 1023.3,583.6 1021.3,581.6 1019.3,579.6 1017.3,577.4 1015.3,575.2 1013.3,572.8 1011.3,570.4 1009.3,568.0 1007.3,565.5 1005.3,562.9 1003.3,560.4 1001.3,557.8 999.3,555.3 997.3,552.8 995.3,550.3 993.3,547.9 991.2,545.4 989.2,543.1 987.2,540.8 985.2,538.5 983.2,536.3 981.2,534.2 979.2,532.1 977.2,530.1 975.2,528.1 973.2,526.2 971.2,524.3 969.2,522.4 967.2,520.5 965.2,518.7 963.2,516.8 961.2,514.9 959.2,513.0 957.2,511.1 955.1,509.1 953.1,507.1 951.1,505.1 949.1,502.9 947.1,500.7 945.1,498.5 943.1,496.2 941.1,493.9 939.1,491.5 937.1,489.1 935.1,486.8 933.1,484.4 931.1,482.0 929.1,479.7 927.1,477.4 925.1,475.1 923.1,472.9 921.0,470.8 919.0,468.7 917.0,466.7 915.0,464.8 913.0,462.9 911.0,461.1 909.0,459.4 907.0,457.7 905.0,456.1Z" fill="#ffa060" />
<g fill="none" stroke="#ffb6c1" stroke-width="1.6" stroke-linejoin="round" >
<path d="M765.5 398l6 4.1 6 4.1 6 4.1 6 4.1 6 4.2 6 4.1 6 4.2 6 4.2 6 4.2 6 4.2 6 4.5 6 4.6 6 4.6 6 4.5 6 4.1 6 3.5 6 3 6 2.7 6 2.4 6 2.3 6 2.3 6 2.4 6 2.4 6 2.3 6 2.5 6 2.9 6 3.5 6 4 6 4.4 6 4.6 6 4.7 6 5 6 5.3 6 5.8 6 6.2 6 6.5 6 6.9 6 7.2 6 7.4 6 7.7 6 7.9 6 8 6 7.4 6 5.4 6 4.3 6 2.2 6 1.2 6 .6 6-.8 6-2.5 6-3.3 6-5.2 6-6.8 6-8.7 6-9.2 6-9.8 6-9.7 6-9.3 6-9.3 6-9.6 6-10.2 6-10.6 6-10.9 6-11 6-9.7 6-9.2 6-8.5 6-7.5 6-6.9 6-6.5 6-5.9 6-5.3 6-4.6 6-3.9 6-3.6 6-3.2 6-2.8 6-2.6 6-2.2 6-2 6-1.7 .8-.2"/>
<path d="M765.5 398l6 4.1 6 4 6 4.1 6 4.1 6 4.2 6 4.1 6 4.1 6 4.2 6 4.2 6 4.1 6 4.4 6 4.6 6 4.6 6 4.5 6 4.1 6 3.5 6 3 6 2.7 6 2.4 6 2.3 6 2.3 6 2.3 6 2.5 6 2.3 6 2.5 6 2.8 6 3.2 6 3.5 6 3.9 6 4.1 6 4.4 6 5 6 5.6 6 5.7 6 6 6 6.3 6 6.7 6 7.2 6 7.5 6 7.7 6 7.9 6 7.9 6 7.4 6 5.2 6 4.1 6 2.3 6 1.3 6 .8 6-.6 6-2.3 6-3.1 6-5.1 6-6.1 6-7.3 6-8.4 6-9.5 6-9.6 6-9.3 6-9.4 6-9.7 6-10.2 6-10.6 6-10.9 6-11.1 6-9.9 6-9.3 6-8.6 6-7.6 6-6.9 6-6.5 6-6 6-5.3 6-4.6 6-4 6-3.6 6-3.2 6-2.8 6-2.6 6-2.2 6-2 6-1.7 .8-.2"/>
<path d="M765.5 398l6 4.1 6 4 6 4.1 6 4.1 6 4.1 6 4.2 6 4.1 6 4.2 6 4.2 6 4.2 6 4.3 6 4.6 6 4.6 6 4.5 6 4.1 6 3.6 6 2.9 6 2.7 6 2.4 6 2.3 6 2.3 6 2.3 6 2.4 6 2.3 6 2.4 6 2.7 6 3.2 6 3.5 6 3.9 6 4.1 6 4.4 6 4.9 6 5.5 6 5.7 6 5.9 6 6.3 6 6.7 6 7.1 6 7.5 6 7.7 6 7.8 6 7.9 6 7.7 6 5.4 6 4.3 6 2.5 6 1.4 6 .9 6-.4 6-2.2 6-2.9 6-4.9 6-6.1 6-7.4 6-8.5 6-9.4 6-9.7 6-9.3 6-9.4 6-9.6 6-10.2 6-10.6 6-10.9 6-11.2 6-9.9 6-9.4 6-8.7 6-7.6 6-7 6-6.6 6-6.1 6-5.3 6-4.7 6-4 6-3.6 6-3.2 6-2.9 6-2.6 6-2.3 6-2 6-1.7 .8-.2"/>
<path d="M765.5 398l6 4.1 6 4.1 6 4.1 6 4.1 6 4.2 6 4.1 6 4.2 6 4.2 6 4.2 6 4.2 6 4.5 6 4.7 6 4.6 6 4.5 6 4.1 6 3.5 6 3 6 2.7 6 2.4 6 2.4 6 2.3 6 2.5 6 2.4 6 2.4 6 2.6 6 2.9 6 3.4 6 3.8 6 4.1 6 4.3 6 4.6 6 5.1 6 5.6 6 5.7 6 6.1 6 6.4 6 6.9 6 7.2 6 7.5 6 7.7 6 7.8 6 7.9 6 7 6 4.9 6 3.8 6 2 6 1.1 6 .5 6-1 6-2.6 6-3.4 6-5.5 6-6.5 6-7.9 6-8.8 6-9.6 6-9.5 6-9.3 6-9.3 6-9.7 6-10.1 6-10.6 6-10.8 6-10.9 6-9.7 6-9.1 6-8.4 6-7.4 6-6.8 6-6.4 6-5.9 6-5.2 6-4.4 6-3.9 6-3.6 6-3.1 6-2.9 6-2.5 6-2.2 6-2 6-1.7 .8-.2"/>
<path d="M765.5 398l6 4.1 6 4.1 6 4.1 6 4.2 6 4.1 6 4.2 6 4.2 6 4.2 6 4.2 6 4.2 6 4.5 6 4.7 6 4.6 6 4.5 6 4.1 6 3.5 6 2.9 6 2.7 6 2.5 6 2.3 6 2.3 6 2.5 6 2.4 6 2.4 6 2.5 6 3.1 6 3.6 6 4.1 6 4.5 6 4.6 6 4.8 6 5 6 5.5 6 5.8 6 6.3 6 6.6 6 6.9 6 7.3 6 7.4 6 7.8 6 7.8 6 8 6 7.1 6 5.2 6 4 6 1.8 6 1.1 6 .4 6-1.2 6-2.6 6-3.5 6-5.6 6-7 6-8.8 6-9.3 6-9.8 6-9.6 6-9.3 6-9.3 6-9.7 6-10.2 6-10.5 6-10.9 6-10.8 6-9.6 6-9.2 6-8.3 6-7.4 6-6.8 6-6.4 6-5.8 6-5.2 6-4.4 6-3.9 6-3.5 6-3.2 6-2.8 6-2.5 6-2.3 6-1.9 6-1.7 .8-.2"/>
<path d="M765.5 398l6 4.1 6 4 6 4.1 6 4.1 6 4.1 6 4.2 6 4.1 6 4.2 6 4.2 6 4.2 6 4.4 6 4.6 6 4.7 6 4.4 6 4.1 6 3.6 6 3 6 2.7 6 2.4 6 2.3 6 2.3 6 2.4 6 2.4 6 2.4 6 2.4 6 2.8 6 3.4 6 3.8 6 4.1 6 4.4 6 4.6 6 4.9 6 5.4 6 5.7 6 6.1 6 6.4 6 6.7 6 7.2 6 7.4 6 7.7 6 7.8 6 7.9 6 7.6 6 5.4 6 4.4 6 2.4 6 1.2 6 .7 6-.6 6-2.3 6-3.1 6-5.1 6-6.4 6-8.1 6-8.9 6-9.6 6-9.7 6-9.4 6-9.3 6-9.6 6-10.2 6-10.6 6-10.8 6-11.1 6-9.9 6-9.3 6-8.6 6-7.5 6-7 6-6.5 6-6 6-5.3 6-4.6 6-4 6-3.6 6-3.2 6-2.9 6-2.5 6-2.3 6-2 6-1.7 .8-.2"/>
</g>
<g fill="none" stroke="#0000ff" stroke-width="1.6" stroke-linejoin="round" >
<path d="M765.5 397l6 2.2 6 2.6 6 2.9 6 3.2 6 3.4 6 3.9 6 4.5 6 5 6 4.8 6 4.3 6 3.9 6 3.8 6 3.6 6 3.2 6 3 6 3.2 6 3 6 2.4 6 1.2 6 .3 6 .1 6 .1 6 .1 6 .1 6 .2 6 .2 6 1.5 6 2.9 6 3.9 6 4.2 6 4.2 6 4.6 6 5.4 6 5.6 6 5.5 6 5 6 4.6 6 4.7 6 4.3 6 3.5 6 2.4 6 1.6 6 1.3 6 1 6 1.1 6 1.1 6 .5 6-.6 6-1.2 6-1.4 6-2.1 6-2.8 6-4.8 6-5.5 6-5 6-5.2 6-6.2 6-9.1 6-8.5 6-5.7 6-5.9 6-6.2 6-6.2 6-6 6-5.7 6-5.3 6-5.3 6-5.1 6-4.7 6-4.2 6-3.7 6-3.4 6-3.2 6-2.8 6-2.6 6-2.3 6-2.1 6-2 6-1.8 6-1.5 6-1.3 .8-.2"/>
<path d="M765.5 397l6 2.2 6 2.6 6 2.9 6 3.2 6 3.4 6 3.9 6 4.6 6 5 6 4.8 6 4.3 6 4 6 3.8 6 3.5 6 3.2 6 3 6 3.2 6 3 6 2.3 6 1.1 6 .2 6 .2 6 .1 6 0 6 .1 6 .2 6 .3 6 1.6 6 3 6 3.8 6 4.2 6 4.1 6 4.6 6 5.4 6 5.6 6 5.4 6 4.8 6 4.6 6 4.6 6 4.2 6 3.4 6 2.3 6 1.5 6 1.2 6 1 6 1.1 6 1 6 .3 6-.7 6-1.2 6-1.4 6-2.2 6-2.9 6-4.9 6-5.4 6-5 6-5.2 6-6.2 6-9.2 6-8.1 6-5.6 6-5.9 6-6.1 6-6.1 6-5.9 6-5.6 6-5.3 6-5.2 6-4.9 6-4.7 6-4.1 6-3.7 6-3.3 6-3.1 6-2.8 6-2.5 6-2.3 6-2.1 6-1.9 6-1.8 6-1.6 6-1.3 .8-.1"/>
<path d="M765.5 396l6 1.8 6 2.3 6 2.6 6 2.9 6 3.1 6 3.6 6 4.5 6 4.9 6 4.6 6 3.9 6 3.3 6 3.1 6 2.8 6 2.4 6 1.9 6 1.9 6 1.7 6 1.3 6 .6 6-.1 6-.4 6-.6 6-.6 6-.5 6-.4 6-.1 6 .2 6 .6 6 .6 6 1.2 6 2.1 6 3 6 3.3 6 3.5 6 3.3 6 2.7 6 2.6 6 2.7 6 2.7 6 2.5 6 2.1 6 1.5 6 .6 6-.2 6-.6 6-.9 6-1.3 6-1.4 6-1.6 6-1.9 6-2.7 6-3.3 6-3.3 6-3.8 6-3.9 6-4 6-4.2 6-4.3 6-4.3 6-4.1 6-3.9 6-4.1 6-4.1 6-3.9 6-3.8 6-3.4 6-2.9 6-2.5 6-2.1 6-1.9 6-1.8 6-1.6 6-1.5 6-1.3 6-1.1 6-1.1 6-1 6-.9 6-.7 6-.7 6-.5 .8-.1"/>
<path d="M765.5 396.3l6 2 6 2.4 6 2.7 6 2.9 6 3.2 6 3.7 6 4.5 6 4.8 6 4.8 6 4 6 3.5 6 3.3 6 3.1 6 2.7 6 2.3 6 2.3 6 2.2 6 1.7 6 .9 6 0 6-.2 6-.3 6-.3 6-.3 6-.2 6 0 6 .6 6 1.4 6 1.7 6 2.2 6 2.8 6 3.5 6 4 6 4.3 6 4.1 6 3.5 6 3.3 6 3.4 6 3.3 6 2.9 6 2.3 6 1.5 6 .9 6 .3 6 0 6-.2 6-.6 6-1.2 6-1.4 6-1.7 6-2.5 6-3 6-3.9 6-4.3 6-4.4 6-4.4 6-4.9 6-5.9 6-5.8 6-4.7 6-4.7 6-4.8 6-4.8 6-4.7 6-4.5 6-4.1 6-3.8 6-3.3 6-3.1 6-2.7 6-2.5 6-2.2 6-2.1 6-1.8 6-1.7 6-1.5 6-1.3 6-1.3 6-1.1 6-1 6-.8 .8-.1"/>
<path d="M765.5 396.8l6 2.2 6 2.5 6 2.9 6 3.1 6 3.4 6 3.9 6 4.6 6 4.9 6 4.8 6 4.2 6 3.8 6 3.7 6 3.3 6 3.1 6 2.8 6 2.8 6 2.7 6 2.1 6 1 6 .1 6 0 6 0 6-.1 6-.1 6 0 6 .2 6 1.4 6 2.5 6 3.2 6 3.6 6 3.7 6 4.4 6 5 6 5.2 6 5.1 6 4.4 6 4.3 6 4.3 6 3.9 6 3.3 6 2.3 6 1.6 6 1.1 6 .9 6 .7 6 .7 6 .1 6-.8 6-1.2 6-1.5 6-2.3 6-2.9 6-4.6 6-5.1 6-4.8 6-5 6-5.8 6-8.3 6-7.4 6-5.3 6-5.6 6-5.7 6-5.8 6-5.6 6-5.3 6-4.9 6-4.8 6-4.5 6-4.2 6-3.8 6-3.3 6-3 6-2.8 6-2.6 6-2.2 6-2.1 6-1.8 6-1.8 6-1.6 6-1.3 6-1.2 .8-.1"/>
<path d="M765.5 396.3l6 1.9 6 2.4 6 2.7 6 2.9 6 3.2 6 3.7 6 4.5 6 4.9 6 4.7 6 4 6 3.5 6 3.2 6 3 6 2.6 6 2.2 6 2.3 6 2 6 1.6 6 .7 6 0 6-.2 6-.4 6-.4 6-.3 6-.2 6 0 6 .6 6 1.3 6 1.6 6 2 6 2.8 6 3.4 6 4 6 4.1 6 3.9 6 3.4 6 3.1 6 3.3 6 3.2 6 2.8 6 2.1 6 1.5 6 .8 6 .2 6-.2 6-.4 6-.8 6-1.3 6-1.5 6-1.7 6-2.6 6-3.2 6-3.8 6-4.3 6-4.2 6-4.4 6-4.8 6-5.7 6-5.4 6-4.5 6-4.5 6-4.7 6-4.7 6-4.5 6-4.3 6-3.9 6-3.6 6-3.2 6-2.8 6-2.6 6-2.3 6-2.1 6-1.9 6-1.7 6-1.5 6-1.4 6-1.3 6-1.2 6-1 6-.9 6-.8 .8-.1"/>
<path d="M765.5 396.2l6 1.9 6 2.3 6 2.7 6 2.9 6 3.2 6 3.7 6 4.5 6 4.9 6 4.7 6 4 6 3.4 6 3.2 6 3 6 2.5 6 2.1 6 2.2 6 1.9 6 1.5 6 .6 6 0 6-.3 6-.5 6-.4 6-.5 6-.2 6-.1 6 .5 6 1 6 1.3 6 1.7 6 2.6 6 3.2 6 3.8 6 3.8 6 3.7 6 3 6 3 6 3.1 6 3 6 2.6 6 2.1 6 1.4 6 .7 6 0 6-.3 6-.6 6-1 6-1.3 6-1.5 6-1.8 6-2.6 6-3.2 6-3.7 6-4 6-4.2 6-4.2 6-4.5 6-5.2 6-5 6-4.3 6-4.3 6-4.5 6-4.4 6-4.3 6-4.1 6-3.7 6-3.4 6-2.9 6-2.5 6-2.4 6-2.1 6-1.9 6-1.8 6-1.6 6-1.4 6-1.3 6-1.2 6-1 6-1 6-.9 6-.6 .8-.1"/>
<path d="M765.5 396.4l6 1.9 6 2.4 6 2.7 6 3 6 3.2 6 3.7 6 4.5 6 4.9 6 4.7 6 4 6 3.6 6 3.3 6 3 6 2.7 6 2.3 6 2.3 6 2.2 6 1.7 6 .8 6 0 6-.2 6-.3 6-.4 6-.3 6-.2 6 0 6 .6 6 1.4 6 1.8 6 2.3 6 2.8 6 3.6 6 4 6 4.3 6 4.1 6 3.6 6 3.3 6 3.5 6 3.3 6 3 6 2.2 6 1.6 6 .9 6 .3 6 .1 6-.2 6-.6 6-1.1 6-1.5 6-1.6 6-2.5 6-3.1 6-3.8 6-4.4 6-4.4 6-4.4 6-4.9 6-6 6-5.9 6-4.7 6-4.7 6-4.8 6-4.9 6-4.7 6-4.5 6-4.1 6-3.9 6-3.4 6-3 6-2.8 6-2.5 6-2.3 6-2 6-1.9 6-1.7 6-1.5 6-1.3 6-1.3 6-1.1 6-1 6-.8 .8-.1"/>
<path d="M765.5 396.3l6 1.9 6 2.4 6 2.6 6 3 6 3.2 6 3.7 6 4.5 6 4.9 6 4.7 6 4 6 3.5 6 3.3 6 3 6 2.6 6 2.3 6 2.2 6 2.1 6 1.6 6 .8 6 0 6-.3 6-.3 6-.5 6-.3 6-.3 6 0 6 .6 6 1.1 6 1.6 6 1.9 6 2.7 6 3.4 6 3.9 6 4.1 6 3.9 6 3.4 6 3.1 6 3.3 6 3.2 6 2.8 6 2.2 6 1.5 6 .9 6 .2 6-.1 6-.4 6-.7 6-1.2 6-1.4 6-1.7 6-2.5 6-3.1 6-3.8 6-4.2 6-4.2 6-4.4 6-4.7 6-5.6 6-5.5 6-4.6 6-4.5 6-4.6 6-4.7 6-4.6 6-4.3 6-4 6-3.6 6-3.2 6-2.9 6-2.6 6-2.3 6-2.1 6-2 6-1.7 6-1.6 6-1.4 6-1.3 6-1.2 6-1.1 6-.9 6-.8 .8-.1"/>
<path d="M765.5 396.8l6 2.1 6 2.6 6 2.8 6 3.2 6 3.4 6 3.8 6 4.6 6 4.9 6 4.8 6 4.3 6 3.8 6 3.6 6 3.4 6 3 6 2.8 6 2.9 6 2.7 6 2.1 6 1 6 .1 6 .1 6-.1 6-.1 6-.1 6 .1 6 .2 6 1.2 6 2.5 6 3.2 6 3.6 6 3.7 6 4.3 6 5 6 5.2 6 5 6 4.4 6 4.2 6 4.3 6 3.9 6 3.3 6 2.3 6 1.5 6 1.1 6 .9 6 .7 6 .7 6 0 6-.8 6-1.2 6-1.5 6-2.3 6-2.9 6-4.6 6-5.1 6-4.7 6-5 6-5.8 6-8.2 6-7.4 6-5.3 6-5.5 6-5.7 6-5.7 6-5.6 6-5.3 6-4.9 6-4.8 6-4.5 6-4.1 6-3.8 6-3.3 6-3 6-2.8 6-2.5 6-2.3 6-2 6-1.8 6-1.8 6-1.6 6-1.3 6-1.2 .8-.1"/>
<path d="M765.5 396.1l6 1.9 6 2.3 6 2.7 6 2.9 6 3.2 6 3.7 6 4.5 6 5 6 4.7 6 3.9 6 3.4 6 3.1 6 2.9 6 2.4 6 2.1 6 2 6 1.8 6 1.3 6 .6 6-.1 6-.4 6-.5 6-.6 6-.5 6-.4 6-.1 6 .4 6 .7 6 1 6 1.4 6 2.4 6 3.1 6 3.6 6 3.7 6 3.4 6 2.9 6 2.8 6 2.9 6 2.9 6 2.6 6 2.1 6 1.5 6 .6 6 0 6-.5 6-.7 6-1 6-1.4 6-1.5 6-1.8 6-2.7 6-3.1 6-3.5 6-3.9 6-4 6-4.1 6-4.4 6-4.7 6-4.7 6-4.2 6-4.1 6-4.3 6-4.3 6-4.1 6-3.9 6-3.6 6-3.2 6-2.7 6-2.4 6-2.2 6-2 6-1.8 6-1.6 6-1.5 6-1.3 6-1.2 6-1.1 6-1 6-.9 6-.8 6-.6 .8 0"/>
<path d="M765.5 396l6 1.9 6 2.2 6 2.6 6 2.9 6 3.1 6 3.6 6 4.4 6 4.9 6 4.7 6 3.9 6 3.3 6 3.1 6 2.8 6 2.4 6 2 6 1.9 6 1.8 6 1.3 6 .7 6-.1 6-.4 6-.5 6-.6 6-.6 6-.3 6-.2 6 .2 6 .6 6 .7 6 1.1 6 2.1 6 2.9 6 3.3 6 3.5 6 3.4 6 2.8 6 2.5 6 2.8 6 2.8 6 2.5 6 2.2 6 1.5 6 .8 6-.1 6-.6 6-.8 6-1.2 6-1.4 6-1.6 6-1.8 6-2.6 6-3.2 6-3.4 6-3.7 6-4 6-4 6-4.2 6-4.4 6-4.3 6-4.2 6-4 6-4.1 6-4.1 6-4 6-3.8 6-3.5 6-3.1 6-2.5 6-2.2 6-2 6-1.8 6-1.7 6-1.5 6-1.4 6-1.2 6-1 6-1 6-1 6-.8 6-.7 6-.5 .8-.1"/>
<path d="M765.5 396l6 1.9 6 2.2 6 2.6 6 2.9 6 3.1 6 3.6 6 4.5 6 4.9 6 4.7 6 3.8 6 3.4 6 3.1 6 2.8 6 2.4 6 2 6 1.9 6 1.7 6 1.4 6 .6 6-.1 6-.4 6-.5 6-.6 6-.6 6-.3 6-.1 6 .2 6 .6 6 .7 6 1.2 6 2.1 6 3 6 3.4 6 3.5 6 3.3 6 2.8 6 2.6 6 2.8 6 2.8 6 2.5 6 2.1 6 1.5 6 .7 6-.1 6-.6 6-.9 6-1.2 6-1.4 6-1.6 6-1.8 6-2.7 6-3.2 6-3.4 6-3.7 6-4 6-4.1 6-4.2 6-4.4 6-4.3 6-4.2 6-4 6-4.1 6-4.1 6-4 6-3.8 6-3.5 6-3 6-2.6 6-2.1 6-2 6-1.8 6-1.7 6-1.5 6-1.4 6-1.2 6-1.1 6-1 6-.9 6-.8 6-.7 6-.5 .8-.1"/>
<path d="M765.5 396.5l6 2 6 2.4 6 2.8 6 3 6 3.3 6 3.7 6 4.5 6 5 6 4.7 6 4.1 6 3.6 6 3.4 6 3.1 6 2.8 6 2.4 6 2.5 6 2.3 6 1.8 6 .8 6 .1 6-.2 6-.2 6-.3 6-.3 6-.1 6 0 6 .8 6 1.7 6 2.1 6 2.6 6 3 6 3.8 6 4.3 6 4.4 6 4.3 6 3.8 6 3.5 6 3.6 6 3.5 6 3 6 2.2 6 1.5 6 .9 6 .4 6 .2 6 0 6-.4 6-1.1 6-1.3 6-1.7 6-2.4 6-3 6-4.1 6-4.5 6-4.4 6-4.6 6-5.1 6-6.5 6-6.2 6-4.8 6-4.9 6-5 6-5.1 6-4.9 6-4.7 6-4.3 6-4 6-3.7 6-3.3 6-3 6-2.7 6-2.4 6-2.3 6-2 6-1.8 6-1.6 6-1.5 6-1.4 6-1.3 6-1.1 6-.9 .8-.1"/>
<path d="M765.5 396.2l6 1.9 6 2.4 6 2.7 6 2.9 6 3.3 6 3.7 6 4.6 6 4.9 6 4.7 6 4 6 3.5 6 3.2 6 3 6 2.5 6 2.2 6 2.2 6 2 6 1.4 6 .7 6-.1 6-.3 6-.4 6-.5 6-.4 6-.3 6 0 6 .5 6 1 6 1.4 6 1.8 6 2.6 6 3.3 6 3.8 6 3.9 6 3.6 6 3.1 6 3 6 3.1 6 3 6 2.6 6 2.1 6 1.4 6 .6 6 .1 6-.3 6-.6 6-.9 6-1.3 6-1.5 6-1.8 6-2.6 6-3.2 6-3.6 6-4.1 6-4.1 6-4.3 6-4.5 6-5.3 6-5.1 6-4.3 6-4.3 6-4.5 6-4.5 6-4.3 6-4.1 6-3.8 6-3.4 6-2.9 6-2.7 6-2.4 6-2.1 6-2 6-1.9 6-1.6 6-1.5 6-1.3 6-1.2 6-1.1 6-1 6-.9 6-.7 .8-.1"/>
<path d="M765.5 396.7l6 2.1 6 2.5 6 2.9 6 3.1 6 3.4 6 3.8 6 4.7 6 4.9 6 4.9 6 4.1 6 3.8 6 3.6 6 3.3 6 3 6 2.7 6 2.7 6 2.6 6 1.9 6 .9 6 .1 6-.1 6-.1 6-.2 6-.1 6-.1 6 .2 6 1.3 6 2.2 6 2.9 6 3.3 6 3.5 6 4.2 6 4.7 6 4.9 6 4.7 6 4.1 6 4 6 4 6 3.7 6 3 6 2.2 6 1.4 6 1 6 .6 6 .6 6 .4 6-.2 6-.9 6-1.3 6-1.6 6-2.4 6-3.1 6-4.5 6-4.8 6-4.6 6-4.8 6-5.7 6-7.7 6-6.7 6-5.1 6-5.3 6-5.4 6-5.5 6-5.3 6-5 6-4.6 6-4.5 6-4.2 6-3.8 6-3.5 6-3.1 6-2.8 6-2.6 6-2.3 6-2.2 6-1.8 6-1.8 6-1.6 6-1.5 6-1.3 6-1 .8-.2"/>
<path d="M765.5 396.1l6 1.9 6 2.2 6 2.7 6 2.9 6 3.2 6 3.6 6 4.6 6 4.9 6 4.7 6 3.9 6 3.4 6 3.2 6 2.8 6 2.5 6 2 6 2.1 6 1.8 6 1.4 6 .6 6-.1 6-.3 6-.5 6-.5 6-.5 6-.3 6 0 6 .3 6 .8 6 1 6 1.5 6 2.4 6 3.1 6 3.5 6 3.7 6 3.4 6 2.8 6 2.7 6 2.9 6 2.8 6 2.5 6 2 6 1.4 6 .5 6-.1 6-.5 6-.9 6-1.1 6-1.4 6-1.6 6-1.9 6-2.8 6-3.2 6-3.5 6-3.9 6-4 6-4.1 6-4.4 6-4.7 6-4.6 6-4.1 6-4.1 6-4.3 6-4.2 6-4 6-3.9 6-3.5 6-3.1 6-2.7 6-2.3 6-2.1 6-1.9 6-1.8 6-1.6 6-1.4 6-1.3 6-1.2 6-1 6-1 6-.9 6-.8 6-.6 .8-.1"/>
<path d="M765.5 396.1l6 1.9 6 2.3 6 2.7 6 2.9 6 3.2 6 3.7 6 4.5 6 4.9 6 4.7 6 4 6 3.4 6 3.2 6 2.9 6 2.5 6 2.1 6 2.1 6 2 6 1.4 6 .6 6-.1 6-.3 6-.4 6-.5 6-.5 6-.3 6 0 6 .5 6 .9 6 1.1 6 1.6 6 2.5 6 3.3 6 3.6 6 3.8 6 3.5 6 3 6 2.8 6 3 6 2.9 6 2.6 6 2 6 1.4 6 .6 6 0 6-.4 6-.7 6-1.1 6-1.4 6-1.5 6-1.9 6-2.7 6-3.2 6-3.6 6-3.9 6-4.1 6-4.2 6-4.5 6-5 6-4.8 6-4.2 6-4.2 6-4.4 6-4.3 6-4.2 6-4 6-3.6 6-3.3 6-2.8 6-2.4 6-2.3 6-2 6-1.8 6-1.7 6-1.6 6-1.3 6-1.3 6-1.1 6-1.1 6-.9 6-.8 6-.7 .8 0"/>
<path d="M765.5 396.7l6 2.1 6 2.4 6 2.9 6 3.1 6 3.3 6 3.7 6 4.6 6 4.9 6 4.8 6 4.1 6 3.7 6 3.6 6 3.2 6 2.9 6 2.6 6 2.7 6 2.6 6 1.9 6 .9 6 .1 6 0 6-.2 6-.1 6-.2 6 0 6 .2 6 1.1 6 2.1 6 2.8 6 3.2 6 3.5 6 4.1 6 4.7 6 5 6 4.7 6 4.2 6 3.9 6 4.1 6 3.7 6 3.2 6 2.3 6 1.6 6 1 6 .7 6 .5 6 .4 6-.2 6-.9 6-1.3 6-1.6 6-2.3 6-3.1 6-4.3 6-4.9 6-4.7 6-4.8 6-5.5 6-7.6 6-6.9 6-5.1 6-5.3 6-5.5 6-5.4 6-5.3 6-5.1 6-4.7 6-4.4 6-4.2 6-3.8 6-3.4 6-3 6-2.8 6-2.6 6-2.3 6-2.1 6-1.8 6-1.7 6-1.6 6-1.4 6-1.2 6-1.1 .8-.1"/>
<path d="M765.5 396.9l6 2.2 6 2.6 6 2.9 6 3.1 6 3.4 6 3.8 6 4.6 6 4.9 6 4.8 6 4.3 6 3.9 6 3.7 6 3.5 6 3.1 6 2.9 6 3.1 6 2.9 6 2.2 6 1.2 6 .2 6 .1 6 0 6 .1 6 0 6 .1 6 .2 6 1.4 6 2.8 6 3.6 6 4 6 3.9 6 4.6 6 5.2 6 5.5 6 5.3 6 4.8 6 4.5 6 4.5 6 4.2 6 3.5 6 2.4 6 1.6 6 1.2 6 1 6 .9 6 1 6 .3 6-.6 6-1.3 6-1.4 6-2.1 6-2.9 6-4.6 6-5.4 6-4.9 6-5.1 6-6.1 6-8.7 6-8.2 6-5.5 6-5.8 6-6 6-6.1 6-5.8 6-5.6 6-5.2 6-5.1 6-4.8 6-4.5 6-4.1 6-3.5 6-3.3 6-3 6-2.8 6-2.4 6-2.2 6-2 6-1.9 6-1.7 6-1.4 6-1.3 .8-.1"/>
<path d="M765.5 396.6l6 2 6 2.5 6 2.8 6 3.1 6 3.4 6 3.8 6 4.6 6 5 6 4.7 6 4.1 6 3.7 6 3.5 6 3.2 6 2.8 6 2.6 6 2.6 6 2.4 6 1.7 6 .8 6 0 6-.1 6-.2 6-.3 6-.2 6-.1 6 .2 6 1.1 6 2 6 2.5 6 2.9 6 3.4 6 4 6 4.6 6 4.6 6 4.5 6 3.8 6 3.8 6 3.8 6 3.6 6 2.9 6 2.1 6 1.5 6 .9 6 .5 6 .4 6 .1 6-.4 6-1 6-1.4 6-1.7 6-2.4 6-3.2 6-4.3 6-4.6 6-4.5 6-4.7 6-5.5 6-7.2 6-6.2 6-4.9 6-5.1 6-5.2 6-5.2 6-5.1 6-4.8 6-4.5 6-4.2 6-3.8 6-3.6 6-3.1 6-2.9 6-2.6 6-2.4 6-2.1 6-2 6-1.7 6-1.6 6-1.5 6-1.3 6-1.2 6-.9 .8-.1"/>
<path d="M765.5 396.4l6 2.1 6 2.4 6 2.8 6 3.1 6 3.3 6 3.8 6 4.6 6 4.9 6 4.8 6 4 6 3.7 6 3.4 6 3.1 6 2.7 6 2.4 6 2.5 6 2.3 6 1.6 6 .8 6-.1 6-.2 6-.3 6-.3 6-.3 6-.2 6 .1 6 .9 6 1.6 6 2.1 6 2.6 6 3.1 6 3.8 6 4.3 6 4.4 6 4.2 6 3.6 6 3.6 6 3.6 6 3.4 6 2.9 6 2.1 6 1.5 6 .9 6 .3 6 .2 6 0 6-.5 6-1.1 6-1.4 6-1.6 6-2.5 6-3.1 6-4.1 6-4.5 6-4.3 6-4.6 6-5.1 6-6.6 6-5.9 6-4.8 6-4.8 6-5 6-5 6-4.9 6-4.6 6-4.2 6-4 6-3.6 6-3.3 6-2.9 6-2.7 6-2.4 6-2.2 6-2 6-1.8 6-1.6 6-1.5 6-1.4 6-1.2 6-1.1 6-.9 .8-.1"/>
<path d="M765.5 396.2l6 2 6 2.3 6 2.7 6 2.9 6 3.2 6 3.7 6 4.5 6 4.9 6 4.7 6 4 6 3.4 6 3.3 6 3 6 2.5 6 2.2 6 2.2 6 2 6 1.5 6 .8 6-.1 6-.2 6-.4 6-.5 6-.4 6-.3 6 0 6 .5 6 1.1 6 1.4 6 1.8 6 2.7 6 3.3 6 3.8 6 4 6 3.8 6 3.2 6 3 6 3.2 6 3.1 6 2.8 6 2.1 6 1.5 6 .8 6 .2 6-.3 6-.4 6-.9 6-1.2 6-1.5 6-1.7 6-2.6 6-3.2 6-3.6 6-4.2 6-4.2 6-4.2 6-4.7 6-5.4 6-5.2 6-4.5 6-4.4 6-4.6 6-4.5 6-4.5 6-4.2 6-3.8 6-3.5 6-3.1 6-2.7 6-2.5 6-2.2 6-2 6-1.9 6-1.7 6-1.5 6-1.3 6-1.2 6-1.2 6-1 6-.9 6-.7 .8-.1"/>
<path d="M765.5 396.5l6 2.1 6 2.4 6 2.8 6 3.1 6 3.3 6 3.8 6 4.6 6 5 6 4.7 6 4.1 6 3.7 6 3.4 6 3.2 6 2.8 6 2.4 6 2.6 6 2.3 6 1.8 6 .7 6 .1 6-.2 6-.2 6-.3 6-.2 6-.1 6 .1 6 1.1 6 1.8 6 2.4 6 2.8 6 3.3 6 3.9 6 4.5 6 4.6 6 4.3 6 3.8 6 3.6 6 3.7 6 3.5 6 2.9 6 2.1 6 1.5 6 .8 6 .4 6 .3 6 .1 6-.5 6-1.1 6-1.4 6-1.7 6-2.5 6-3.2 6-4.2 6-4.6 6-4.5 6-4.6 6-5.4 6-6.9 6-6.1 6-4.8 6-5 6-5.1 6-5.1 6-5 6-4.7 6-4.4 6-4 6-3.8 6-3.4 6-3.1 6-2.7 6-2.5 6-2.3 6-2.1 6-1.9 6-1.6 6-1.6 6-1.4 6-1.3 6-1.1 6-.9 .8-.1"/>
<path d="M765.5 397l6 2.2 6 2.6 6 2.9 6 3.3 6 3.4 6 3.9 6 4.6 6 5 6 4.8 6 4.3 6 4 6 3.7 6 3.6 6 3.2 6 3 6 3.1 6 3 6 2.2 6 1.1 6 .2 6 .1 6 .1 6 0 6 .1 6 .1 6 .3 6 1.6 6 2.9 6 3.9 6 4.1 6 4.1 6 4.7 6 5.3 6 5.6 6 5.4 6 4.8 6 4.6 6 4.6 6 4.1 6 3.4 6 2.3 6 1.6 6 1.2 6 1 6 1.1 6 1 6 .3 6-.7 6-1.2 6-1.4 6-2.2 6-2.9 6-4.9 6-5.4 6-4.9 6-5.2 6-6.3 6-9.2 6-8 6-5.5 6-5.9 6-6.1 6-6.1 6-5.9 6-5.6 6-5.3 6-5.1 6-5 6-4.6 6-4.1 6-3.7 6-3.3 6-3.1 6-2.8 6-2.5 6-2.3 6-2 6-2 6-1.7 6-1.6 6-1.3 .8-.1"/>
<path d="M765.5 396.2l6 1.9 6 2.3 6 2.7 6 2.9 6 3.2 6 3.7 6 4.5 6 4.9 6 4.7 6 3.9 6 3.5 6 3.2 6 2.9 6 2.6 6 2.1 6 2.2 6 1.9 6 1.5 6 .7 6-.1 6-.2 6-.5 6-.4 6-.4 6-.2 6 0 6 .5 6 1 6 1.3 6 1.8 6 2.6 6 3.3 6 3.8 6 3.9 6 3.7 6 3.1 6 2.9 6 3.1 6 3 6 2.7 6 2.1 6 1.4 6 .6 6 .1 6-.4 6-.6 6-1 6-1.3 6-1.5 6-1.9 6-2.7 6-3.2 6-3.7 6-4.1 6-4.1 6-4.3 6-4.6 6-5.2 6-5 6-4.4 6-4.3 6-4.5 6-4.4 6-4.3 6-4.1 6-3.8 6-3.3 6-2.9 6-2.6 6-2.3 6-2.2 6-1.9 6-1.8 6-1.6 6-1.4 6-1.3 6-1.1 6-1.1 6-1 6-.8 6-.7 .8-.1"/>
<path d="M765.5 396.9l6 2.2 6 2.6 6 2.9 6 3.2 6 3.5 6 3.8 6 4.6 6 5 6 4.8 6 4.3 6 3.9 6 3.7 6 3.5 6 3.2 6 2.9 6 3.1 6 2.9 6 2.3 6 1.1 6 .2 6 .1 6 0 6 0 6 .1 6 .1 6 .2 6 1.5 6 2.8 6 3.6 6 4.1 6 4 6 4.6 6 5.2 6 5.5 6 5.4 6 4.7 6 4.5 6 4.6 6 4.1 6 3.5 6 2.3 6 1.6 6 1.2 6 1 6 1 6 1 6 .3 6-.6 6-1.2 6-1.5 6-2.1 6-2.8 6-4.8 6-5.4 6-4.9 6-5.1 6-6.1 6-8.9 6-8.1 6-5.5 6-5.8 6-6 6-6.1 6-5.9 6-5.5 6-5.3 6-5.1 6-4.9 6-4.5 6-4.1 6-3.6 6-3.3 6-3 6-2.8 6-2.4 6-2.2 6-2.1 6-1.9 6-1.7 6-1.5 6-1.3 .8-.1"/>
<path d="M765.5 396.2l6 1.9 6 2.3 6 2.6 6 3 6 3.1 6 3.7 6 4.4 6 4.9 6 4.7 6 4 6 3.4 6 3.2 6 3 6 2.5 6 2.2 6 2.1 6 2 6 1.5 6 .8 6 0 6-.3 6-.4 6-.4 6-.4 6-.2 6-.1 6 .5 6 1 6 1.4 6 1.7 6 2.5 6 3.3 6 3.8 6 3.9 6 3.7 6 3.2 6 3 6 3.1 6 3.1 6 2.7 6 2.2 6 1.5 6 .7 6 .1 6-.3 6-.5 6-.9 6-1.3 6-1.6 6-1.7 6-2.6 6-3.2 6-3.7 6-4.1 6-4.2 6-4.2 6-4.6 6-5.3 6-5.1 6-4.4 6-4.4 6-4.5 6-4.5 6-4.4 6-4.1 6-3.8 6-3.5 6-2.9 6-2.6 6-2.4 6-2.2 6-2 6-1.7 6-1.7 6-1.4 6-1.3 6-1.2 6-1.1 6-1 6-.8 6-.7 .8-.1"/>
<path d="M765.5 396.8l6 2.2 6 2.6 6 2.8 6 3.2 6 3.4 6 3.9 6 4.6 6 5 6 4.8 6 4.2 6 3.9 6 3.7 6 3.4 6 3.1 6 2.8 6 3 6 2.8 6 2.1 6 .9 6 .2 6 0 6 0 6 0 6 0 6 .1 6 .2 6 1.6 6 2.7 6 3.4 6 3.7 6 3.8 6 4.5 6 5.1 6 5.3 6 5 6 4.4 6 4.3 6 4.3 6 3.9 6 3.2 6 2.1 6 1.5 6 1 6 .8 6 .8 6 .7 6 0 6-.9 6-1.3 6-1.6 6-2.3 6-3.1 6-4.8 6-5.1 6-4.8 6-5 6-6.1 6-8.6 6-7.2 6-5.3 6-5.6 6-5.7 6-5.8 6-5.6 6-5.2 6-5 6-4.8 6-4.5 6-4.2 6-3.8 6-3.3 6-3.1 6-2.8 6-2.5 6-2.3 6-2.1 6-1.9 6-1.8 6-1.6 6-1.4 6-1.1 .8-.2"/>
<path d="M765.5 396.7l6 2.1 6 2.4 6 2.8 6 3.1 6 3.3 6 3.8 6 4.5 6 4.9 6 4.8 6 4.2 6 3.7 6 3.6 6 3.3 6 3 6 2.6 6 2.8 6 2.5 6 2.1 6 1 6 .2 6-.1 6-.1 6-.1 6-.2 6 0 6 .1 6 1 6 2 6 2.8 6 3.1 6 3.5 6 4 6 4.6 6 4.9 6 4.8 6 4.2 6 3.9 6 4 6 3.8 6 3.2 6 2.3 6 1.6 6 1.1 6 .7 6 .5 6 .4 6 0 6-.9 6-1.2 6-1.6 6-2.2 6-2.9 6-4.2 6-4.9 6-4.7 6-4.7 6-5.5 6-7.4 6-7.2 6-5.1 6-5.3 6-5.4 6-5.5 6-5.4 6-5 6-4.7 6-4.5 6-4.2 6-3.9 6-3.5 6-3.1 6-2.8 6-2.6 6-2.4 6-2.1 6-1.9 6-1.7 6-1.6 6-1.5 6-1.3 6-1 .8-.2"/>
</g>
<g fill="none" stroke="#ffa060" stroke-width="1.5" stroke-linejoin="round" >
<path d="M765.5 394.6l6 .3 6 .6 6 .7 6 1.2 6 1.5 6 1.7 6 1.8 6 1.6 6 1.4 6 1.2 6 1.1 6 1.1 6 1.1 6 1.3 6 1.5 6 1.6 6 1.9 6 2.2 6 2.4 6 2.8 6 3.5 6 3.9 6 4.3 6 5 6 5.6 6 6.2 6 7.4 6 8.7 6 9 6 8.7 6 7.7 6 6.6 6 6 6 5.8 6 5.8 6 6.1 6 6.7 6 7 6 7.4 6 8.6 6 8.5 6 6.8 6 5.9 6 4.3 6 3.2 6 2.2 6 1.6 6 1 6-.7 6-2.4 6-3.1 6-5.3 6-5.9 6-6.6 6-6.8 6-7.1 6-7.7 6-8.6 6-9.3 6-9.6 6-10.1 6-10.5 6-10.2 6-9.9 6-9 6-8.6 6-8 6-7.1 6-6.5 6-6.2 6-5.6 6-5 6-4.2 6-3.5 6-3.1 6-2.8 6-2.5 6-2.5 6-2.3 6-2.1 6-1.9 .8-.3"/>
<path d="M765.5 395.3l6 .8 6 1.2 6 1.5 6 2.2 6 2.6 6 2.9 6 2.9 6 2.7 6 2.4 6 2.3 6 2.1 6 2.2 6 2.1 6 2.1 6 2 6 1.9 6 1.9 6 2.1 6 2.4 6 3 6 3.6 6 4.1 6 4.5 6 5.3 6 5.8 6 6.2 6 7 6 7.7 6 7.7 6 7.3 6 6.6 6 5.8 6 5.5 6 5.4 6 5.6 6 6.2 6 6.8 6 7.4 6 7.6 6 8.2 6 7.7 6 7.3 6 5.8 6 3.8 6 2.8 6 1.8 6 1.4 6 .5 6-1.2 6-2.4 6-3.6 6-5.6 6-4.7 6-5.3 6-6.7 6-7.6 6-8.1 6-9 6-9.7 6-10 6-10.2 6-10.6 6-10.9 6-10.7 6-9.4 6-8.8 6-8.1 6-7.3 6-6.8 6-6.4 6-5.9 6-5.2 6-4.4 6-3.8 6-3.5 6-3.1 6-2.8 6-2.5 6-2.3 6-2 6-1.8 .8-.2"/>
<path d="M765.5 394.5l6 .3 6 .5 6 .7 6 1.1 6 1.5 6 1.6 6 1.7 6 1.5 6 1.3 6 1.1 6 1 6 1.1 6 1.1 6 1.2 6 1.5 6 1.7 6 2 6 2.3 6 2.5 6 3.1 6 3.6 6 4 6 4.5 6 5.2 6 5.8 6 6.6 6 8.1 6 9 6 9.2 6 8.5 6 7.3 6 6.4 6 5.9 6 5.8 6 5.9 6 6.4 6 6.8 6 7.1 6 7.8 6 9 6 7.8 6 6.3 6 5.2 6 3.9 6 2.8 6 1.9 6 1.5 6 .4 6-1.4 6-2.7 6-3.7 6-5.7 6-6.1 6-6.8 6-6.8 6-7.2 6-7.8 6-8.7 6-9.2 6-9.6 6-10.1 6-10.3 6-9.9 6-9.4 6-8.8 6-8.3 6-7.7 6-6.8 6-6.4 6-5.9 6-5.5 6-4.8 6-4 6-3.4 6-2.9 6-2.7 6-2.5 6-2.4 6-2.2 6-2.1 6-2 .8-.2"/>
<path d="M765.5 394.6l6 .4 6 .5 6 .8 6 1.2 6 1.6 6 1.7 6 1.8 6 1.7 6 1.4 6 1.3 6 1.2 6 1.1 6 1.2 6 1.3 6 1.5 6 1.6 6 1.9 6 2.2 6 2.4 6 2.8 6 3.4 6 4 6 4.3 6 4.9 6 5.6 6 6.2 6 7.4 6 8.5 6 9 6 8.7 6 7.7 6 6.6 6 6 6 5.8 6 5.8 6 6.1 6 6.6 6 7 6 7.4 6 8.5 6 8.6 6 6.8 6 6 6 4.3 6 3.3 6 2.2 6 1.6 6 1 6-.6 6-2.3 6-3.2 6-5.2 6-5.9 6-6.5 6-6.8 6-7.1 6-7.8 6-8.5 6-9.3 6-9.7 6-10.1 6-10.5 6-10.2 6-10 6-9.1 6-8.6 6-8.1 6-7.1 6-6.6 6-6.1 6-5.7 6-5.1 6-4.2 6-3.5 6-3.1 6-2.8 6-2.6 6-2.4 6-2.3 6-2.1 6-2 .8-.2"/>
<path d="M765.5 395.4l6 .9 6 1.2 6 1.6 6 2.2 6 2.8 6 3 6 3 6 2.8 6 2.5 6 2.4 6 2.3 6 2.3 6 2.2 6 2.2 6 2.1 6 1.9 6 1.9 6 2 6 2.4 6 2.9 6 3.6 6 3.9 6 4.5 6 5.1 6 5.7 6 6.1 6 6.7 6 7.4 6 7.6 6 7.2 6 6.6 6 5.8 6 5.4 6 5.4 6 5.5 6 6 6 6.6 6 7.3 6 7.5 6 8 6 7.8 6 7.5 6 6.3 6 4 6 3 6 1.9 6 1.5 6 .8 6-.9 6-2.3 6-3.2 6-5.4 6-4.8 6-4.9 6-6.4 6-7.6 6-8.1 6-8.9 6-9.7 6-10 6-10.3 6-10.6 6-10.9 6-11.1 6-9.6 6-9 6-8.2 6-7.4 6-6.9 6-6.5 6-6.1 6-5.3 6-4.6 6-3.9 6-3.5 6-3.2 6-2.9 6-2.6 6-2.3 6-2.1 6-1.7 .8-.2"/>
<path d="M765.5 395.3l6 .8 6 1.1 6 1.4 6 2.1 6 2.5 6 2.8 6 2.9 6 2.6 6 2.4 6 2.2 6 2.2 6 2.1 6 2.1 6 2 6 2.1 6 1.9 6 1.9 6 2.1 6 2.4 6 2.9 6 3.5 6 4 6 4.5 6 5.1 6 5.7 6 6 6 6.9 6 7.5 6 7.8 6 7.5 6 6.7 6 6 6 5.5 6 5.4 6 5.5 6 5.9 6 6.6 6 7.2 6 7.4 6 8 6 8 6 7.2 6 6.4 6 4.1 6 3 6 2 6 1.5 6 .8 6-.8 6-2.2 6-3.2 6-5.4 6-5.1 6-5 6-6.4 6-7.5 6-8 6-8.8 6-9.6 6-10 6-10.2 6-10.6 6-10.8 6-11 6-9.5 6-9 6-8.2 6-7.4 6-6.8 6-6.5 6-6 6-5.3 6-4.5 6-3.9 6-3.5 6-3.1 6-2.8 6-2.6 6-2.3 6-2.1 6-1.8 .8-.2"/>
<path d="M765.5 394.8l6 .5 6 .7 6 1 6 1.5 6 1.8 6 2.1 6 2.1 6 1.9 6 1.7 6 1.5 6 1.5 6 1.4 6 1.4 6 1.6 6 1.7 6 1.8 6 1.9 6 2.2 6 2.5 6 3.1 6 3.6 6 4 6 4.6 6 5.1 6 5.8 6 6.5 6 7.6 6 8.6 6 8.6 6 8.2 6 7 6 6.2 6 5.8 6 5.6 6 5.8 6 6.3 6 6.7 6 7.2 6 7.7 6 8.7 6 7.7 6 6.7 6 5.5 6 3.8 6 2.9 6 1.8 6 1.5 6 .5 6-1.3 6-2.6 6-3.7 6-5.6 6-5.6 6-6.3 6-6.7 6-7.3 6-7.9 6-8.8 6-9.4 6-9.7 6-10.2 6-10.3 6-10.3 6-9.9 6-8.9 6-8.5 6-7.9 6-6.9 6-6.5 6-6.2 6-5.6 6-4.9 6-4.2 6-3.5 6-3.2 6-2.8 6-2.6 6-2.4 6-2.3 6-2.1 6-1.9 .8-.2"/>
<path d="M765.5 395.2l6 .9 6 1.1 6 1.5 6 2.1 6 2.5 6 2.8 6 2.9 6 2.6 6 2.4 6 2.2 6 2.2 6 2.1 6 2 6 2 6 2.1 6 1.9 6 1.8 6 2.1 6 2.3 6 2.9 6 3.5 6 4 6 4.4 6 5.1 6 5.6 6 6.1 6 6.9 6 7.5 6 7.7 6 7.5 6 6.6 6 5.9 6 5.5 6 5.4 6 5.5 6 6 6 6.7 6 7.2 6 7.5 6 8.1 6 7.9 6 7.3 6 6.3 6 4.1 6 3 6 1.9 6 1.6 6 .8 6-.8 6-2.3 6-3.2 6-5.4 6-4.9 6-5.1 6-6.5 6-7.4 6-8 6-8.8 6-9.7 6-9.9 6-10.2 6-10.6 6-10.8 6-10.8 6-9.5 6-9 6-8.2 6-7.3 6-6.9 6-6.5 6-5.9 6-5.3 6-4.5 6-3.9 6-3.5 6-3.2 6-2.8 6-2.5 6-2.4 6-2.1 6-1.7 .8-.3"/>
<path d="M765.5 395.4l6 .9 6 1.3 6 1.7 6 2.4 6 2.8 6 3.1 6 3.1 6 2.9 6 2.5 6 2.5 6 2.4 6 2.3 6 2.2 6 2.2 6 2.2 6 1.9 6 1.9 6 2 6 2.4 6 2.9 6 3.6 6 4 6 4.5 6 5.2 6 5.8 6 6.1 6 6.8 6 7.4 6 7.4 6 7.1 6 6.4 6 5.8 6 5.4 6 5.3 6 5.6 6 6.1 6 6.8 6 7.4 6 7.6 6 8 6 7.7 6 7.5 6 6.1 6 3.8 6 2.8 6 1.9 6 1.5 6 .5 6-1 6-2.4 6-3.5 6-5.5 6-4.5 6-5 6-6.6 6-7.6 6-8.1 6-9 6-9.8 6-10 6-10.3 6-10.6 6-11.1 6-10.9 6-9.5 6-9 6-8.2 6-7.3 6-6.9 6-6.5 6-6 6-5.3 6-4.5 6-4 6-3.5 6-3.2 6-2.8 6-2.6 6-2.3 6-2 6-1.8 .8-.2"/>
</g>
<g fill="none" stroke="#00ff00" stroke-width="1.6" stroke-linejoin="round" >
<path d="M765.5 393.3l6 1.2 6 1.3 6 1.3 6 1.5 6 1.5 6 1.6 6 1.8 6 1.8 6 2 6 1.9 6 1.8 6 1.8 6 1.9 6 2 6 1.9 6 1.5 6 1.2 6 .5 6 .5 6 .3 6 .3 6 .1 6 0 6-.1 6 0 6-.1 6 0 6-.1 6 0 6 0 6 .1 6 .4 6 .7 6 .8 6 .8 6 .8 6 .9 6 1 6 .9 6 .8 6 .5 6 .3 6 .3 6 .2 6 .2 6 0 6-.5 6-1 6-1.3 6-1.6 6-1.6 6-1.8 6-2.4 6-2.6 6-2.6 6-2.1 6-2 6-1.8 6-1.8 6-1.7 6-1.5 6-1.6 6-1.4 6-1.4 6-1.4 6-1.2 6-1.1 6-1 6-1 6-.9 6-.8 6-.6 6-.4 6-.3 6-.3 6-.3 6-.2 6-.2 6-.1 6-.1 6 0 .8 0"/>
<path d="M765.5 393.4l6 1.2 6 1.3 6 1.5 6 1.5 6 1.6 6 1.7 6 2 6 2 6 2 6 2.1 6 1.9 6 1.9 6 2 6 2 6 1.8 6 1.6 6 1.1 6 .5 6 .5 6 .4 6 .2 6 .2 6 0 6-.1 6 0 6 0 6-.1 6 0 6 0 6 .1 6 .1 6 .5 6 .7 6 .8 6 .8 6 .9 6 .9 6 1 6 .9 6 .8 6 .5 6 .3 6 .3 6 .2 6 .1 6-.1 6-.5 6-1 6-1.4 6-1.5 6-1.7 6-1.9 6-2.4 6-2.6 6-2.5 6-2.2 6-2 6-2 6-1.9 6-1.8 6-1.7 6-1.6 6-1.5 6-1.5 6-1.4 6-1.3 6-1.1 6-1 6-1 6-1 6-.8 6-.7 6-.4 6-.4 6-.3 6-.3 6-.2 6-.3 6-.1 6-.1 6-.1 .8 0"/>
<path d="M765.5 394.4l6 1.8 6 2.2 6 2.5 6 2.7 6 2.9 6 3.4 6 4 6 4.1 6 3.4 6 3.2 6 3.1 6 2.9 6 2.5 6 2 6 1.4 6 .9 6 .7 6 .4 6 .3 6 .3 6 .1 6 .2 6 .1 6 .1 6 .2 6 .3 6 .4 6 .5 6 .6 6 .7 6 .9 6 .9 6 1 6 1.3 6 1.5 6 1.6 6 1.6 6 1.5 6 1.3 6 1.4 6 1.4 6 1 6 .5 6 0 6-.4 6-.7 6-.8 6-1.1 6-1.3 6-1.6 6-2.5 6-2.9 6-2.6 6-2.2 6-2.3 6-2.7 6-3.4 6-4 6-4 6-3.6 6-3 6-3 6-2.8 6-2.6 6-2.5 6-2.2 6-2 6-1.7 6-1.5 6-1.5 6-1.3 6-1.2 6-1 6-1 6-.8 6-.7 6-.6 6-.6 6-.5 6-.5 6-.3 .8 0"/>
<path d="M765.5 394.4l6 1.8 6 2.2 6 2.5 6 2.7 6 2.9 6 3.3 6 4.1 6 4.1 6 3.4 6 3.2 6 3.2 6 2.9 6 2.6 6 2 6 1.5 6 .9 6 .7 6 .5 6 .3 6 .3 6 .2 6 .1 6 .2 6 .1 6 .3 6 .2 6 .4 6 .5 6 .7 6 .8 6 .8 6 1 6 1 6 1.2 6 1.5 6 1.6 6 1.7 6 1.6 6 1.3 6 1.5 6 1.4 6 1.2 6 .7 6 .1 6-.3 6-.7 6-.8 6-1.1 6-1.3 6-1.4 6-2.3 6-3 6-2.8 6-2.3 6-2.3 6-2.6 6-3.3 6-4 6-4.2 6-3.9 6-3.2 6-3 6-3 6-2.7 6-2.6 6-2.3 6-2.1 6-1.8 6-1.6 6-1.4 6-1.4 6-1.2 6-1.1 6-1 6-.8 6-.7 6-.7 6-.6 6-.5 6-.4 6-.4 .8 0"/>
<path d="M765.5 393.4l6 1.1 6 1.3 6 1.4 6 1.5 6 1.5 6 1.7 6 1.8 6 2 6 1.9 6 2 6 1.9 6 1.9 6 1.9 6 2.1 6 1.9 6 1.6 6 1.2 6 .7 6 .5 6 .4 6 .3 6 .2 6 0 6 0 6 0 6-.1 6 0 6-.1 6 0 6-.1 6 .1 6 .2 6 .6 6 .7 6 .8 6 .8 6 .8 6 .9 6 .9 6 .8 6 .6 6 .3 6 .2 6 .2 6 .1 6 .1 6-.4 6-.8 6-1.3 6-1.5 6-1.6 6-1.7 6-2.3 6-2.5 6-2.6 6-2.3 6-2 6-1.9 6-1.9 6-1.7 6-1.6 6-1.6 6-1.5 6-1.4 6-1.4 6-1.3 6-1.1 6-1 6-1 6-1 6-.8 6-.7 6-.5 6-.3 6-.3 6-.3 6-.3 6-.2 6-.2 6-.1 6-.1 .8 0"/>
</g>
<path d="M775.0,400.1 777.0,401.0 779.0,402.0 781.0,403.0 783.0,404.1 785.0,405.2 787.0,406.4 789.0,407.6 791.0,408.9 793.0,410.2 795.0,411.5 797.0,412.9 799.0,414.3 801.0,415.8 803.0,417.2 805.0,418.7 807.0,420.2 809.0,421.7 811.0,423.2 813.0,424.8 815.0,426.3 817.0,427.8 819.0,429.4 821.0,430.9 823.0,432.4 825.0,433.9 827.0,435.4 829.0,436.9 831.0,438.4 833.0,439.8 835.0,441.3 837.0,442.7 839.0,444.0 841.0,445.3 843.0,446.6 845.0,447.9 847.0,449.1 849.0,450.2 851.0,451.3 853.0,452.4 855.0,453.3 857.0,454.3 859.0,455.2 861.0,456.0 863.0,456.8 865.0,457.5 867.0,458.2 869.0,458.8 871.0,459.4 873.0,459.9 875.0,460.4 877.0,460.8 879.0,461.2 881.0,461.6 883.0,461.9 885.0,462.2 887.0,462.4 889.0,462.6 891.0,462.8 893.0,462.9 895.0,463.0 897.0,463.1 899.0,463.1 901.0,463.1 903.0,463.1 905.0,463.0" fill="none" stroke="#ffb6c1" stroke-width="1.2" stroke-linejoin="round" stroke-linecap="round" />
<g fill="none" stroke="#008000" stroke-width="1.7" stroke-linejoin="round" >
<path d="M765.5 399.4l6 2.7 6 3.1 6 3.5 6 3.9 6 4.6 6 5 6 5.1 6 5.4 6 5.6 6 5.3 6 5 6 4.8 6 4.4 6 4 6 3.7 6 3.1 6 2.8 6 2.5 6 2 6 1.5 6 1.1 6 1.1 6 .9 6 .8 6 .9 6 1.2 6 1.7 6 2.3 6 2.7 6 3.1 6 3.5 6 4.7 6 5.7 6 6.5 6 6.9 6 6.8 6 6.7 6 7.1 6 7.7 6 9.2 6 8.4 6 5.7 6 4.7 6 3.5 6 2.7 6 1.9 6 1.6 6 .7 6-.8 6-2.2 6-3.2 6-5.7 6-6.3 6-7.1 6-7.3 6-7.8 6-8.6 6-9.9 6-11 6-11.5 6-12.2 6-12.1 6-9.7 6-8.1 6-7.3 6-6.8 6-6.2 6-6.1 6-6 6-6 6-5.7 6-5 6-4.1 6-3.4 6-3 6-2.6 6-2.4 6-2.1 6-1.9 6-1.6 6-1.3 .8-.2"/>
<path d="M765.5 397.5l6 2.2 6 2.6 6 2.9 6 3.3 6 3.5 6 3.9 6 4.7 6 5.1 6 5 6 4.5 6 4.1 6 4 6 3.7 6 3.2 6 2.9 6 2.6 6 2.5 6 2 6 1.5 6 1 6 .7 6 .5 6 .6 6 .4 6 .3 6 .3 6 .4 6 .4 6 .7 6 1.5 6 4 6 5.5 6 6.1 6 5.6 6 5.7 6 5.9 6 5.9 6 5.5 6 5.1 6 4.8 6 3.8 6 2.8 6 2.3 6 2 6 1.9 6 2.1 6 1.6 6 .4 6-.9 6-1.8 6-2.1 6-3.7 6-4.8 6-5.4 6-6.4 6-7.2 6-9.2 6-9.9 6-7.9 6-5.2 6-5.6 6-5.9 6-6 6-5.9 6-5.8 6-5.5 6-5.5 6-5.4 6-5.1 6-4.6 6-3.9 6-3.6 6-3.2 6-3 6-2.7 6-2.4 6-2.2 6-2.1 6-1.9 6-1.6 6-1.4 .8-.2"/>
<path d="M765.5 399l6 2.5 6 3.1 6 3.4 6 3.7 6 4.4 6 4.8 6 5.1 6 5.4 6 5.4 6 5.1 6 4.8 6 4.6 6 4.2 6 3.8 6 3.5 6 3 6 2.7 6 2.4 6 1.8 6 1.3 6 1 6 .9 6 .9 6 .7 6 .8 6 1.1 6 1.5 6 1.9 6 2.3 6 3 6 3.9 6 5.2 6 5.9 6 6.4 6 6.6 6 6.6 6 6.6 6 6.7 6 7.2 6 8.3 6 6.7 6 4.9 6 3.9 6 3 6 2.4 6 1.8 6 1.4 6 .4 6-1.2 6-2.2 6-3.4 6-5.5 6-6 6-6.8 6-7.2 6-7.8 6-9 6-9.9 6-10 6-10.1 6-10.6 6-10.5 6-8.5 6-7.6 6-6.8 6-6.3 6-6 6-5.9 6-5.7 6-5.6 6-5.2 6-4.5 6-3.8 6-3.3 6-2.8 6-2.6 6-2.3 6-2 6-1.9 6-1.6 6-1.4 .8-.1"/>
<path d="M765.5 398.3l6 2.4 6 2.9 6 3.2 6 3.6 6 4 6 4.4 6 5 6 5.3 6 5.3 6 4.7 6 4.5 6 4.4 6 3.9 6 3.5 6 3.1 6 2.9 6 2.5 6 2.2 6 1.5 6 1.1 6 .8 6 .8 6 .7 6 .5 6 .6 6 .7 6 1 6 1.3 6 1.6 6 2.7 6 4.3 6 5.5 6 6 6 6 6 6.3 6 6.3 6 6.3 6 6.1 6 6.3 6 6.6 6 5.2 6 3.8 6 3.2 6 2.5 6 2.2 6 2 6 1.3 6 .2 6-1.2 6-2.1 6-3 6-4.9 6-5.5 6-6.3 6-7 6-7.7 6-9.3 6-9.8 6-8.6 6-7.8 6-8.3 6-8.4 6-7.4 6-6.7 6-6.3 6-6 6-5.8 6-5.6 6-5.4 6-5 6-4.6 6-4.1 6-3.5 6-3.1 6-2.7 6-2.5 6-2.2 6-2 6-1.9 6-1.6 6-1.3 .8-.2"/>
<path d="M765.5 399.3l6 2.7 6 3.1 6 3.5 6 3.9 6 4.5 6 5 6 5.1 6 5.4 6 5.6 6 5.2 6 5 6 4.8 6 4.3 6 4 6 3.6 6 3.2 6 2.8 6 2.4 6 2 6 1.4 6 1.2 6 1 6 .9 6 .8 6 .8 6 1.2 6 1.7 6 2.2 6 2.7 6 3.1 6 3.6 6 4.7 6 5.7 6 6.5 6 6.8 6 6.8 6 6.7 6 7.1 6 7.6 6 9.1 6 8.1 6 5.7 6 4.5 6 3.4 6 2.7 6 1.9 6 1.6 6 .7 6-.9 6-2.2 6-3.2 6-5.7 6-6.2 6-7.1 6-7.3 6-7.7 6-8.7 6-9.9 6-10.8 6-11.4 6-11.9 6-11.9 6-9.5 6-8.1 6-7.2 6-6.7 6-6.2 6-6 6-6.1 6-5.9 6-5.6 6-4.9 6-4.1 6-3.3 6-3 6-2.7 6-2.3 6-2.1 6-1.9 6-1.6 6-1.4 .8-.1"/>
<path d="M765.5 397.7l6 2.2 6 2.7 6 3.1 6 3.3 6 3.6 6 4.1 6 4.8 6 5.2 6 5.1 6 4.6 6 4.2 6 4.1 6 3.7 6 3.4 6 2.8 6 2.7 6 2.5 6 2 6 1.5 6 .9 6 .7 6 .5 6 .5 6 .4 6 .3 6 .3 6 .4 6 .6 6 .8 6 1.9 6 4.1 6 5.6 6 6 6 5.6 6 5.7 6 6.1 6 5.9 6 5.5 6 5.4 6 5.1 6 4 6 3 6 2.5 6 2.2 6 2.1 6 2.1 6 1.5 6 .3 6-1 6-1.7 6-2.3 6-4 6-4.9 6-5.6 6-6.5 6-7.3 6-9.3 6-9.8 6-7.7 6-5.6 6-6.2 6-6.4 6-6.3 6-6.1 6-5.9 6-5.6 6-5.6 6-5.5 6-5.1 6-4.7 6-4 6-3.7 6-3.4 6-3 6-2.7 6-2.4 6-2.3 6-2.1 6-1.8 6-1.7 6-1.4 .8-.2"/>
<path d="M765.5 397.8l6 2.3 6 2.7 6 3.1 6 3.4 6 3.7 6 4.1 6 4.9 6 5.2 6 5.1 6 4.6 6 4.3 6 4.1 6 3.8 6 3.4 6 2.9 6 2.7 6 2.5 6 2.1 6 1.5 6 .9 6 .8 6 .6 6 .5 6 .5 6 .4 6 .4 6 .6 6 .8 6 1 6 2.2 6 4.3 6 5.6 6 6 6 5.7 6 5.9 6 6.1 6 6 6 5.7 6 5.5 6 5.4 6 4.3 6 3.2 6 2.6 6 2.3 6 2 6 2.1 6 1.4 6 .2 6-1.1 6-1.9 6-2.5 6-4.3 6-5 6-5.8 6-6.7 6-7.5 6-9.3 6-9.8 6-7.9 6-6.1 6-6.6 6-6.9 6-6.6 6-6.3 6-5.9 6-5.7 6-5.6 6-5.5 6-5.2 6-4.7 6-4.1 6-3.8 6-3.4 6-3 6-2.7 6-2.4 6-2.2 6-2.1 6-1.8 6-1.7 6-1.4 .8-.1"/>
<path d="M765.5 398l6 2.3 6 2.8 6 3.1 6 3.4 6 3.8 6 4.3 6 4.9 6 5.2 6 5.2 6 4.7 6 4.3 6 4.2 6 3.8 6 3.4 6 3 6 2.8 6 2.5 6 2.1 6 1.5 6 1 6 .7 6 .7 6 .6 6 .5 6 .4 6 .5 6 .7 6 .9 6 1.2 6 2.3 6 4.2 6 5.6 6 6 6 5.7 6 6.1 6 6.2 6 6.1 6 5.8 6 5.7 6 5.8 6 4.7 6 3.4 6 2.8 6 2.4 6 2.2 6 2 6 1.4 6 .3 6-1.1 6-1.9 6-2.6 6-4.5 6-5.1 6-6 6-6.7 6-7.6 6-9.2 6-9.8 6-8.1 6-6.7 6-7.2 6-7.4 6-6.9 6-6.4 6-6.1 6-5.8 6-5.7 6-5.5 6-5.3 6-4.8 6-4.3 6-3.9 6-3.4 6-3.1 6-2.7 6-2.5 6-2.2 6-2.1 6-1.8 6-1.6 6-1.4 .8-.2"/>
<path d="M765.5 397.7l6 2.3 6 2.7 6 3 6 3.4 6 3.6 6 4.1 6 4.9 6 5.1 6 5.1 6 4.6 6 4.2 6 4.1 6 3.7 6 3.4 6 2.8 6 2.7 6 2.5 6 2 6 1.5 6 .9 6 .7 6 .6 6 .5 6 .4 6 .4 6 .4 6 .4 6 .7 6 .9 6 2 6 4.2 6 5.6 6 6.1 6 5.6 6 5.9 6 6.1 6 6 6 5.6 6 5.4 6 5.2 6 4.2 6 3.1 6 2.5 6 2.2 6 2.1 6 2.1 6 1.5 6 .3 6-1 6-1.9 6-2.4 6-4.1 6-4.9 6-5.7 6-6.6 6-7.4 6-9.3 6-9.8 6-7.9 6-5.8 6-6.3 6-6.6 6-6.5 6-6.2 6-5.9 6-5.6 6-5.6 6-5.5 6-5.2 6-4.6 6-4.1 6-3.7 6-3.4 6-3 6-2.7 6-2.4 6-2.2 6-2.1 6-1.9 6-1.6 6-1.4 .8-.1"/>
<path d="M765.5 398.1l6 2.4 6 2.8 6 3.1 6 3.5 6 3.8 6 4.4 6 4.9 6 5.2 6 5.2 6 4.7 6 4.4 6 4.3 6 3.8 6 3.5 6 3.1 6 2.8 6 2.5 6 2.1 6 1.6 6 1 6 .8 6 .7 6 .7 6 .5 6 .5 6 .6 6 .8 6 1.1 6 1.3 6 2.5 6 4.2 6 5.5 6 6 6 5.9 6 6.1 6 6.3 6 6.1 6 5.9 6 6 6 6 6 4.9 6 3.6 6 3 6 2.4 6 2.2 6 1.9 6 1.5 6 .2 6-1.1 6-2 6-2.8 6-4.6 6-5.3 6-6.1 6-6.8 6-7.6 6-9.3 6-9.8 6-8.3 6-7.1 6-7.6 6-7.8 6-7.1 6-6.6 6-6.2 6-5.8 6-5.7 6-5.6 6-5.3 6-4.9 6-4.4 6-3.9 6-3.5 6-3.1 6-2.7 6-2.4 6-2.3 6-2 6-1.9 6-1.6 6-1.4 .8-.1"/>
<path d="M765.5 398.5l6 2.5 6 2.9 6 3.3 6 3.6 6 4.1 6 4.6 6 5 6 5.4 6 5.3 6 4.9 6 4.6 6 4.4 6 4.1 6 3.6 6 3.2 6 2.9 6 2.6 6 2.2 6 1.6 6 1.1 6 .9 6 .7 6 .7 6 .6 6 .6 6 .8 6 1.1 6 1.4 6 1.7 6 2.8 6 4.2 6 5.3 6 6 6 6.1 6 6.3 6 6.4 6 6.4 6 6.2 6 6.6 6 7 6 5.7 6 4.1 6 3.4 6 2.7 6 2.3 6 2 6 1.4 6 .2 6-1.1 6-2.1 6-3.1 6-5 6-5.7 6-6.4 6-7 6-7.7 6-9.1 6-9.8 6-9 6-8.4 6-9 6-9 6-7.7 6-7 6-6.4 6-6.1 6-5.9 6-5.6 6-5.6 6-5.2 6-4.7 6-4.3 6-3.6 6-3.1 6-2.8 6-2.5 6-2.3 6-2.1 6-1.8 6-1.6 6-1.4 .8-.1"/>
<path d="M765.5 398.1l6 2.4 6 2.8 6 3.2 6 3.5 6 3.9 6 4.3 6 4.9 6 5.3 6 5.3 6 4.7 6 4.5 6 4.2 6 3.9 6 3.6 6 3.1 6 2.8 6 2.6 6 2.1 6 1.6 6 1.1 6 .8 6 .7 6 .6 6 .6 6 .4 6 .6 6 .8 6 1.1 6 1.4 6 2.3 6 4.1 6 5.4 6 6 6 5.8 6 6.1 6 6.2 6 6.2 6 5.9 6 6 6 6.1 6 5.1 6 3.7 6 3 6 2.5 6 2.2 6 2 6 1.4 6 .3 6-1 6-2 6-2.7 6-4.5 6-5.3 6-6.1 6-6.8 6-7.5 6-9.2 6-9.7 6-8.5 6-7.2 6-7.8 6-8 6-7.1 6-6.7 6-6.2 6-5.8 6-5.8 6-5.6 6-5.3 6-5 6-4.5 6-4 6-3.5 6-3.1 6-2.8 6-2.4 6-2.3 6-2.1 6-1.8 6-1.7 6-1.4 .8-.1"/>
<path d="M765.5 398.3l6 2.4 6 2.9 6 3.3 6 3.5 6 4 6 4.5 6 5.1 6 5.3 6 5.3 6 4.8 6 4.6 6 4.3 6 4 6 3.6 6 3.1 6 2.9 6 2.6 6 2.1 6 1.6 6 1.1 6 .8 6 .8 6 .6 6 .5 6 .6 6 .6 6 1 6 1.2 6 1.5 6 2.7 6 4.2 6 5.4 6 6 6 5.9 6 6.2 6 6.3 6 6.2 6 6 6 6.3 6 6.6 6 5.2 6 3.8 6 3.1 6 2.6 6 2.2 6 2 6 1.4 6 .2 6-1.2 6-2 6-3 6-4.8 6-5.5 6-6.2 6-6.9 6-7.7 6-9.2 6-9.7 6-8.6 6-7.7 6-8.4 6-8.4 6-7.3 6-6.8 6-6.3 6-5.9 6-5.8 6-5.6 6-5.4 6-5.1 6-4.6 6-4.1 6-3.5 6-3.1 6-2.8 6-2.5 6-2.3 6-2.1 6-1.8 6-1.7 6-1.3 .8-.2"/>
<path d="M765.5 397.5l6 2.3 6 2.6 6 3.1 6 3.3 6 3.5 6 4.1 6 4.9 6 5.2 6 5 6 4.5 6 4.1 6 4 6 3.7 6 3.2 6 2.8 6 2.7 6 2.4 6 1.9 6 1.4 6 .8 6 .7 6 .5 6 .5 6 .4 6 .3 6 .3 6 .4 6 .5 6 .7 6 2.4 6 4.6 6 5.9 6 6 6 5.5 6 5.8 6 6.1 6 5.8 6 5.3 6 5.2 6 4.6 6 3.4 6 2.6 6 2.3 6 2 6 2 6 2 6 1.3 6-.1 6-1.2 6-1.9 6-2.5 6-4.2 6-4.8 6-5.8 6-6.6 6-7.6 6-9.5 6-9.6 6-7 6-5.1 6-5.7 6-6 6-6 6-5.9 6-5.6 6-5.5 6-5.5 6-5.3 6-5 6-4.5 6-3.8 6-3.5 6-3.2 6-3 6-2.6 6-2.3 6-2.2 6-2.1 6-1.8 6-1.7 6-1.3 .8-.2"/>
<path d="M765.5 397.8l6 2.3 6 2.7 6 3.1 6 3.4 6 3.6 6 4.2 6 4.8 6 5.2 6 5.1 6 4.6 6 4.3 6 4.1 6 3.8 6 3.3 6 2.9 6 2.8 6 2.4 6 2.1 6 1.5 6 .9 6 .8 6 .6 6 .6 6 .4 6 .4 6 .5 6 .6 6 .8 6 1 6 2.1 6 4.3 6 5.6 6 6 6 5.7 6 6 6 6.1 6 6 6 5.7 6 5.5 6 5.5 6 4.3 6 3.2 6 2.6 6 2.2 6 2.1 6 2.1 6 1.4 6 .2 6-1 6-1.9 6-2.5 6-4.3 6-5 6-5.8 6-6.7 6-7.5 6-9.3 6-9.8 6-7.9 6-6.1 6-6.7 6-6.9 6-6.6 6-6.3 6-5.9 6-5.7 6-5.6 6-5.5 6-5.2 6-4.7 6-4.2 6-3.7 6-3.4 6-3 6-2.7 6-2.4 6-2.2 6-2.1 6-1.9 6-1.6 6-1.4 .8-.1"/>
<path d="M765.5 398.8l6 2.5 6 2.9 6 3.4 6 3.7 6 4.2 6 4.6 6 5.1 6 5.3 6 5.4 6 5 6 4.7 6 4.6 6 4.1 6 3.8 6 3.4 6 3 6 2.7 6 2.3 6 1.8 6 1.2 6 1 6 .9 6 .8 6 .6 6 .7 6 .9 6 1.2 6 1.7 6 2 6 2.7 6 3.7 6 5 6 5.9 6 6.1 6 6.4 6 6.6 6 6.4 6 6.5 6 6.8 6 7.6 6 6.8 6 4.7 6 3.8 6 3 6 2.5 6 1.9 6 1.6 6 .6 6-.9 6-2.1 6-2.9 6-5.1 6-5.7 6-6.6 6-7 6-7.6 6-8.9 6-9.8 6-9.7 6-9.4 6-9.9 6-10 6-8.4 6-7.4 6-6.8 6-6.3 6-6 6-5.8 6-5.7 6-5.5 6-5.1 6-4.5 6-3.8 6-3.2 6-2.9 6-2.6 6-2.3 6-2.1 6-1.9 6-1.6 6-1.4 .8-.2"/>
<path d="M765.5 397.6l6 2.3 6 2.7 6 3 6 3.3 6 3.6 6 4.1 6 4.9 6 5.2 6 5.1 6 4.5 6 4.2 6 4.1 6 3.7 6 3.3 6 2.9 6 2.7 6 2.4 6 2.1 6 1.4 6 .9 6 .7 6 .6 6 .5 6 .4 6 .3 6 .3 6 .4 6 .6 6 .8 6 2 6 4.2 6 5.7 6 6 6 5.5 6 5.8 6 6.1 6 5.9 6 5.4 6 5.3 6 5 6 3.8 6 3 6 2.4 6 2.1 6 2 6 2.1 6 1.4 6 .2 6-1 6-1.8 6-2.4 6-4 6-4.9 6-5.6 6-6.6 6-7.4 6-9.3 6-9.7 6-7.6 6-5.5 6-6.1 6-6.3 6-6.2 6-6.1 6-5.8 6-5.5 6-5.6 6-5.4 6-5.1 6-4.6 6-4 6-3.7 6-3.3 6-3 6-2.7 6-2.4 6-2.2 6-2.1 6-1.9 6-1.6 6-1.4 .8-.2"/>
<path d="M765.5 397.9l6 2.3 6 2.8 6 3.1 6 3.4 6 3.7 6 4.2 6 4.9 6 5.2 6 5.1 6 4.7 6 4.3 6 4.1 6 3.9 6 3.4 6 3 6 2.7 6 2.5 6 2.1 6 1.5 6 1 6 .8 6 .6 6 .6 6 .5 6 .4 6 .4 6 .6 6 .9 6 1 6 2.1 6 4.1 6 5.5 6 6 6 5.7 6 5.9 6 6.2 6 6.1 6 5.7 6 5.7 6 5.6 6 4.7 6 3.3 6 2.8 6 2.4 6 2.1 6 2.1 6 1.5 6 .3 6-.9 6-1.9 6-2.4 6-4.3 6-5 6-5.9 6-6.6 6-7.5 6-9.1 6-9.8 6-8.3 6-6.4 6-7 6-7.2 6-6.7 6-6.5 6-6 6-5.8 6-5.7 6-5.5 6-5.3 6-4.8 6-4.3 6-3.8 6-3.5 6-3 6-2.8 6-2.4 6-2.3 6-2 6-1.9 6-1.6 6-1.4 .8-.2"/>
<path d="M765.5 397.8l6 2.3 6 2.7 6 3.1 6 3.4 6 3.7 6 4.2 6 4.8 6 5.2 6 5.2 6 4.6 6 4.3 6 4.1 6 3.8 6 3.4 6 3 6 2.8 6 2.5 6 2.1 6 1.5 6 1 6 .8 6 .7 6 .6 6 .5 6 .4 6 .5 6 .6 6 .9 6 1 6 2.2 6 4.2 6 5.6 6 6 6 5.7 6 5.9 6 6.1 6 6 6 5.7 6 5.5 6 5.5 6 4.3 6 3.3 6 2.6 6 2.2 6 2.1 6 1.9 6 1.5 6 .2 6-1.1 6-1.9 6-2.6 6-4.3 6-5.1 6-5.9 6-6.7 6-7.4 6-9.3 6-9.8 6-7.9 6-6.3 6-6.8 6-7 6-6.6 6-6.3 6-5.9 6-5.7 6-5.6 6-5.5 6-5.2 6-4.7 6-4.1 6-3.8 6-3.4 6-3 6-2.7 6-2.4 6-2.3 6-2 6-1.9 6-1.7 6-1.3 .8-.2"/>
<path d="M765.5 397.8l6 2.3 6 2.7 6 3 6 3.4 6 3.7 6 4.1 6 4.9 6 5.2 6 5.1 6 4.6 6 4.2 6 4.1 6 3.8 6 3.4 6 2.9 6 2.8 6 2.4 6 2.1 6 1.5 6 1 6 .7 6 .6 6 .6 6 .4 6 .4 6 .5 6 .5 6 .7 6 1 6 2.1 6 4.2 6 5.6 6 6 6 5.7 6 5.9 6 6.1 6 6 6 5.6 6 5.5 6 5.4 6 4.3 6 3.2 6 2.6 6 2.2 6 2.1 6 2 6 1.5 6 .2 6-1 6-1.8 6-2.5 6-4.2 6-5 6-5.8 6-6.6 6-7.5 6-9.2 6-9.8 6-8 6-6 6-6.6 6-6.8 6-6.6 6-6.2 6-6 6-5.6 6-5.7 6-5.4 6-5.2 6-4.8 6-4.1 6-3.8 6-3.3 6-3 6-2.8 6-2.4 6-2.2 6-2.1 6-1.8 6-1.7 6-1.4 .8-.1"/>
<path d="M765.5 398.5l6 2.4 6 2.9 6 3.3 6 3.5 6 4.1 6 4.5 6 5 6 5.2 6 5.4 6 4.9 6 4.5 6 4.5 6 4 6 3.7 6 3.2 6 3 6 2.6 6 2.3 6 1.7 6 1.2 6 .9 6 .8 6 .7 6 .6 6 .6 6 .7 6 1 6 1.4 6 1.6 6 2.5 6 3.8 6 5.1 6 5.8 6 6 6 6.3 6 6.4 6 6.2 6 6.3 6 6.4 6 7 6 6.1 6 4.4 6 3.5 6 2.8 6 2.4 6 2 6 1.6 6 .5 6-.8 6-2 6-2.7 6-4.7 6-5.5 6-6.3 6-6.9 6-7.5 6-8.9 6-9.9 6-9.2 6-8.4 6-9 6-9.1 6-7.9 6-7.1 6-6.6 6-6.1 6-5.9 6-5.8 6-5.5 6-5.3 6-4.8 6-4.4 6-3.7 6-3.2 6-2.8 6-2.6 6-2.3 6-2.1 6-1.9 6-1.6 6-1.4 .8-.1"/>
<path d="M765.5 397.7l6 2.2 6 2.7 6 3 6 3.3 6 3.6 6 4.1 6 4.8 6 5.2 6 5.1 6 4.5 6 4.2 6 4 6 3.7 6 3.3 6 2.9 6 2.6 6 2.5 6 2 6 1.5 6 .9 6 .7 6 .6 6 .5 6 .4 6 .4 6 .3 6 .5 6 .6 6 .9 6 2 6 4.2 6 5.7 6 6 6 5.7 6 5.8 6 6.1 6 6 6 5.5 6 5.4 6 5.1 6 4 6 3 6 2.5 6 2.1 6 2.1 6 2 6 1.5 6 .3 6-1.1 6-1.8 6-2.4 6-4 6-4.9 6-5.7 6-6.6 6-7.4 6-9.3 6-9.8 6-7.8 6-5.7 6-6.1 6-6.5 6-6.3 6-6.1 6-5.9 6-5.6 6-5.6 6-5.4 6-5.2 6-4.6 6-4 6-3.7 6-3.3 6-3 6-2.7 6-2.3 6-2.3 6-2 6-1.9 6-1.6 6-1.4 .8-.2"/>
<path d="M765.5 397.7l6 2.3 6 2.6 6 3.1 6 3.3 6 3.7 6 4.1 6 4.8 6 5.2 6 5.2 6 4.5 6 4.3 6 4 6 3.8 6 3.4 6 2.8 6 2.8 6 2.4 6 2.1 6 1.4 6 .9 6 .7 6 .6 6 .5 6 .4 6 .3 6 .4 6 .4 6 .6 6 .8 6 2 6 4.2 6 5.5 6 6 6 5.6 6 5.8 6 6 6 6 6 5.5 6 5.3 6 5.1 6 4 6 3.1 6 2.5 6 2.1 6 2.1 6 2 6 1.5 6 .3 6-1 6-1.8 6-2.4 6-4 6-4.9 6-5.6 6-6.6 6-7.3 6-9.3 6-9.8 6-7.7 6-5.6 6-6.3 6-6.4 6-6.3 6-6.2 6-5.8 6-5.6 6-5.6 6-5.5 6-5.1 6-4.7 6-4 6-3.7 6-3.4 6-3 6-2.7 6-2.4 6-2.3 6-2.1 6-1.8 6-1.7 6-1.4 .8-.2"/>
<path d="M765.5 398l6 2.3 6 2.7 6 3.1 6 3.4 6 3.8 6 4.2 6 4.8 6 5.2 6 5.2 6 4.7 6 4.4 6 4.1 6 3.9 6 3.5 6 3 6 2.8 6 2.6 6 2.2 6 1.6 6 1 6 .9 6 .7 6 .6 6 .5 6 .5 6 .5 6 .7 6 .9 6 1.2 6 2 6 4 6 5.4 6 6 6 5.7 6 6 6 6.1 6 6.1 6 5.8 6 5.7 6 5.8 6 4.9 6 3.5 6 2.9 6 2.4 6 2.1 6 2 6 1.5 6 .4 6-.9 6-1.9 6-2.5 6-4.2 6-5.2 6-5.9 6-6.7 6-7.4 6-9 6-9.9 6-8.4 6-6.7 6-7.3 6-7.4 6-7 6-6.5 6-6.1 6-5.8 6-5.7 6-5.5 6-5.3 6-4.9 6-4.3 6-4 6-3.4 6-3.1 6-2.8 6-2.4 6-2.3 6-2.1 6-1.9 6-1.6 6-1.4 .8-.2"/>
<path d="M765.5 397.9l6 2.3 6 2.7 6 3 6 3.4 6 3.7 6 4.1 6 4.8 6 5.2 6 5.1 6 4.7 6 4.3 6 4.1 6 3.8 6 3.4 6 3 6 2.8 6 2.5 6 2.1 6 1.6 6 1 6 .8 6 .7 6 .6 6 .4 6 .4 6 .5 6 .6 6 .7 6 1.1 6 1.8 6 3.9 6 5.4 6 6 6 5.7 6 5.9 6 6.1 6 6 6 5.8 6 5.6 6 5.6 6 4.6 6 3.4 6 2.8 6 2.4 6 2.1 6 2 6 1.6 6 .5 6-.9 6-1.8 6-2.3 6-4.1 6-5 6-5.7 6-6.6 6-7.3 6-9.1 6-9.9 6-8.4 6-6.3 6-6.8 6-7.1 6-6.8 6-6.4 6-6 6-5.8 6-5.7 6-5.5 6-5.3 6-4.8 6-4.3 6-3.8 6-3.5 6-3.1 6-2.7 6-2.5 6-2.2 6-2.1 6-1.9 6-1.6 6-1.4 .8-.2"/>
<path d="M765.5 397.9l6 2.3 6 2.7 6 3.1 6 3.4 6 3.8 6 4.2 6 4.9 6 5.2 6 5.2 6 4.6 6 4.3 6 4.1 6 3.8 6 3.4 6 2.9 6 2.8 6 2.4 6 2.1 6 1.5 6 .9 6 .8 6 .6 6 .6 6 .4 6 .4 6 .4 6 .7 6 .8 6 1 6 2.3 6 4.3 6 5.6 6 6 6 5.7 6 6 6 6.2 6 6 6 5.7 6 5.7 6 5.5 6 4.4 6 3.3 6 2.7 6 2.3 6 2.1 6 2.1 6 1.4 6 .2 6-1.1 6-1.9 6-2.5 6-4.4 6-5.1 6-5.8 6-6.8 6-7.4 6-9.4 6-9.7 6-8 6-6.3 6-6.9 6-7.1 6-6.6 6-6.4 6-6 6-5.7 6-5.6 6-5.5 6-5.3 6-4.7 6-4.2 6-3.8 6-3.4 6-3.1 6-2.7 6-2.4 6-2.2 6-2.1 6-1.8 6-1.7 6-1.3 .8-.2"/>
<path d="M765.5 398.5l6 2.4 6 2.9 6 3.3 6 3.5 6 4.1 6 4.5 6 4.9 6 5.3 6 5.3 6 4.9 6 4.6 6 4.4 6 4 6 3.7 6 3.2 6 2.9 6 2.6 6 2.3 6 1.7 6 1.2 6 .9 6 .8 6 .8 6 .6 6 .6 6 .8 6 1 6 1.4 6 1.7 6 2.6 6 3.9 6 5.1 6 5.9 6 6.1 6 6.3 6 6.4 6 6.3 6 6.3 6 6.4 6 7 6 6.1 6 4.3 6 3.5 6 2.7 6 2.4 6 2 6 1.5 6 .5 6-1 6-2 6-2.7 6-4.9 6-5.6 6-6.3 6-6.9 6-7.6 6-9 6-9.8 6-9.3 6-8.4 6-9 6-9.1 6-7.9 6-7 6-6.6 6-6.1 6-5.9 6-5.7 6-5.6 6-5.3 6-4.8 6-4.2 6-3.7 6-3.2 6-2.8 6-2.5 6-2.3 6-2.1 6-1.9 6-1.6 6-1.4 .8-.1"/>
<path d="M765.5 397.9l6 2.3 6 2.8 6 3.1 6 3.3 6 3.8 6 4.2 6 4.8 6 5.2 6 5.1 6 4.7 6 4.3 6 4.2 6 3.8 6 3.5 6 3 6 2.8 6 2.5 6 2.2 6 1.6 6 1 6 .8 6 .7 6 .6 6 .5 6 .4 6 .5 6 .7 6 .9 6 1.1 6 2 6 4 6 5.4 6 6 6 5.7 6 6 6 6.1 6 6.1 6 5.8 6 5.7 6 5.7 6 4.8 6 3.4 6 2.9 6 2.3 6 2.2 6 2 6 1.5 6 .4 6-.9 6-1.9 6-2.4 6-4.2 6-5.2 6-5.8 6-6.7 6-7.3 6-9.1 6-9.9 6-8.4 6-6.6 6-7.1 6-7.3 6-6.8 6-6.5 6-6.1 6-5.8 6-5.7 6-5.5 6-5.3 6-4.9 6-4.3 6-3.9 6-3.4 6-3.1 6-2.7 6-2.5 6-2.2 6-2.1 6-1.9 6-1.6 6-1.4 .8-.2"/>
<path d="M765.5 399.2l6 2.6 6 3 6 3.4 6 3.8 6 4.4 6 4.8 6 5.1 6 5.4 6 5.4 6 5.2 6 4.9 6 4.8 6 4.3 6 3.9 6 3.6 6 3.2 6 2.8 6 2.4 6 2 6 1.5 6 1.1 6 1 6 .9 6 .7 6 .8 6 1 6 1.5 6 1.9 6 2.4 6 2.8 6 3.5 6 4.5 6 5.6 6 6.2 6 6.6 6 6.7 6 6.6 6 6.8 6 7.2 6 8.5 6 8.2 6 5.6 6 4.6 6 3.4 6 2.8 6 2 6 1.6 6 1 6-.6 6-2 6-2.8 6-5.2 6-6 6-6.8 6-7.2 6-7.6 6-8.5 6-9.8 6-10.5 6-10.7 6-11.4 6-11.5 6-9.5 6-8 6-7.2 6-6.7 6-6.2 6-6 6-6 6-5.9 6-5.5 6-4.9 6-4.1 6-3.4 6-3 6-2.7 6-2.3 6-2.2 6-1.9 6-1.6 6-1.4 .8-.2"/>
<path d="M765.5 398.6l6 2.5 6 2.9 6 3.4 6 3.6 6 4.2 6 4.6 6 5 6 5.4 6 5.3 6 4.9 6 4.7 6 4.5 6 4 6 3.7 6 3.3 6 2.9 6 2.6 6 2.3 6 1.6 6 1.2 6 1 6 .8 6 .8 6 .6 6 .6 6 .9 6 1.3 6 1.5 6 2 6 2.9 6 4.1 6 5.3 6 6 6 6.1 6 6.5 6 6.4 6 6.4 6 6.4 6 6.7 6 7.4 6 5.9 6 4.3 6 3.4 6 2.8 6 2.3 6 1.8 6 1.4 6 .3 6-1.2 6-2.2 6-3.2 6-5.2 6-5.7 6-6.6 6-7 6-7.8 6-9.1 6-9.9 6-9.2 6-8.9 6-9.4 6-9.3 6-7.9 6-7.1 6-6.5 6-6.1 6-5.9 6-5.7 6-5.6 6-5.3 6-4.8 6-4.3 6-3.7 6-3.1 6-2.8 6-2.5 6-2.3 6-2 6-1.9 6-1.6 6-1.4 .8-.1"/>
<path d="M765.5 398.4l6 2.4 6 2.9 6 3.2 6 3.6 6 4 6 4.5 6 5 6 5.3 6 5.3 6 4.8 6 4.6 6 4.3 6 4 6 3.6 6 3.2 6 2.9 6 2.5 6 2.2 6 1.6 6 1.1 6 .9 6 .7 6 .7 6 .5 6 .6 6 .6 6 1 6 1.2 6 1.6 6 2.5 6 4 6 5.2 6 6 6 5.9 6 6.2 6 6.4 6 6.3 6 6.1 6 6.3 6 6.8 6 5.7 6 4.1 6 3.4 6 2.7 6 2.3 6 2 6 1.5 6 .5 6-1 6-1.9 6-2.8 6-4.7 6-5.5 6-6.2 6-6.9 6-7.5 6-9.1 6-9.8 6-8.9 6-8 6-8.6 6-8.8 6-7.6 6-6.9 6-6.4 6-6.1 6-5.9 6-5.6 6-5.6 6-5.2 6-4.6 6-4.2 6-3.7 6-3.1 6-2.9 6-2.5 6-2.3 6-2 6-1.9 6-1.6 6-1.4 .8-.2"/>
<path d="M765.5 399.4l6 2.6 6 3.1 6 3.5 6 3.8 6 4.5 6 5 6 5.1 6 5.4 6 5.5 6 5.3 6 5 6 4.7 6 4.4 6 3.9 6 3.7 6 3.2 6 2.7 6 2.5 6 2 6 1.5 6 1.2 6 1 6 1 6 .8 6 .9 6 1.2 6 1.8 6 2.2 6 2.7 6 3.1 6 3.6 6 4.7 6 5.8 6 6.5 6 6.8 6 6.8 6 6.7 6 7.1 6 7.6 6 9.1 6 8.3 6 5.7 6 4.6 6 3.4 6 2.7 6 1.9 6 1.5 6 .7 6-.8 6-2.3 6-3.2 6-5.7 6-6.3 6-7.1 6-7.3 6-7.8 6-8.6 6-10 6-10.8 6-11.4 6-12.1 6-12 6-9.5 6-8.2 6-7.2 6-6.7 6-6.3 6-6 6-6 6-6 6-5.5 6-5 6-4 6-3.4 6-3 6-2.6 6-2.3 6-2.1 6-1.9 6-1.6 6-1.4 .8-.1"/>
<path d="M765.5 398.6l6 2.4 6 2.9 6 3.3 6 3.6 6 4.1 6 4.5 6 5 6 5.3 6 5.3 6 4.9 6 4.6 6 4.5 6 4 6 3.7 6 3.3 6 3 6 2.6 6 2.3 6 1.7 6 1.3 6 .9 6 .8 6 .8 6 .6 6 .7 6 .8 6 1.1 6 1.4 6 1.9 6 2.5 6 3.8 6 5.1 6 5.8 6 6.1 6 6.3 6 6.5 6 6.4 6 6.3 6 6.5 6 7.3 6 6.4 6 4.5 6 3.6 6 2.9 6 2.4 6 2 6 1.6 6 .5 6-.8 6-2 6-2.8 6-4.8 6-5.7 6-6.3 6-7 6-7.6 6-8.9 6-9.8 6-9.5 6-8.7 6-9.3 6-9.5 6-8.1 6-7.2 6-6.7 6-6.2 6-5.9 6-5.8 6-5.6 6-5.4 6-4.9 6-4.4 6-3.7 6-3.2 6-2.9 6-2.5 6-2.3 6-2.1 6-1.8 6-1.7 6-1.4 .8-.1"/>
<path d="M765.5 398.1l6 2.3 6 2.8 6 3.2 6 3.5 6 3.8 6 4.3 6 5 6 5.2 6 5.3 6 4.7 6 4.4 6 4.3 6 3.9 6 3.4 6 3.1 6 2.8 6 2.5 6 2.2 6 1.5 6 1.1 6 .8 6 .7 6 .6 6 .4 6 .5 6 .5 6 .8 6 1 6 1.3 6 2.3 6 4.1 6 5.5 6 5.9 6 5.8 6 6.1 6 6.2 6 6.1 6 5.8 6 5.9 6 6.1 6 4.9 6 3.5 6 3 6 2.4 6 2.2 6 2 6 1.5 6 .3 6-1.1 6-1.9 6-2.7 6-4.5 6-5.2 6-6 6-6.8 6-7.5 6-9.2 6-9.7 6-8.4 6-6.9 6-7.6 6-7.7 6-7.1 6-6.5 6-6.2 6-5.8 6-5.7 6-5.6 6-5.3 6-5 6-4.4 6-3.9 6-3.5 6-3.1 6-2.8 6-2.4 6-2.3 6-2.1 6-1.9 6-1.6 6-1.4 .8-.1"/>
<path d="M765.5 398.1l6 2.4 6 2.7 6 3.2 6 3.5 6 3.8 6 4.3 6 5 6 5.2 6 5.2 6 4.8 6 4.4 6 4.2 6 3.9 6 3.5 6 3.1 6 2.9 6 2.5 6 2.2 6 1.6 6 1 6 .9 6 .7 6 .6 6 .6 6 .5 6 .6 6 .8 6 1 6 1.4 6 2.4 6 4.1 6 5.5 6 6 6 5.8 6 6.1 6 6.2 6 6.1 6 5.9 6 5.9 6 6 6 5 6 3.5 6 3 6 2.4 6 2.1 6 2 6 1.4 6 .2 6-1.1 6-1.9 6-2.8 6-4.5 6-5.3 6-6.1 6-6.8 6-7.6 6-9.2 6-9.7 6-8.4 6-7.1 6-7.6 6-7.9 6-7 6-6.6 6-6.1 6-5.9 6-5.7 6-5.5 6-5.3 6-5 6-4.3 6-4 6-3.5 6-3.1 6-2.7 6-2.5 6-2.2 6-2.1 6-1.9 6-1.6 6-1.4 .8-.1"/>
<path d="M765.5 398.8l6 2.6 6 3 6 3.4 6 3.7 6 4.3 6 4.8 6 5.1 6 5.4 6 5.4 6 5 6 4.8 6 4.5 6 4.2 6 3.7 6 3.4 6 3 6 2.6 6 2.3 6 1.7 6 1.3 6 .9 6 .9 6 .8 6 .6 6 .7 6 .9 6 1.4 6 1.7 6 2.1 6 2.9 6 4 6 5.1 6 6 6 6.2 6 6.5 6 6.6 6 6.5 6 6.6 6 7 6 7.9 6 6.5 6 4.6 6 3.8 6 2.9 6 2.5 6 1.9 6 1.4 6 .4 6-1.1 6-2.2 6-3.2 6-5.3 6-5.9 6-6.6 6-7.1 6-7.8 6-9 6-9.9 6-9.6 6-9.6 6-10.1 6-10.1 6-8.3 6-7.3 6-6.8 6-6.2 6-6 6-5.8 6-5.8 6-5.4 6-5.1 6-4.5 6-3.8 6-3.2 6-2.8 6-2.6 6-2.3 6-2.1 6-1.8 6-1.6 6-1.4 .8-.2"/>
<path d="M765.5 397.6l6 2.2 6 2.7 6 3 6 3.3 6 3.6 6 4 6 4.8 6 5.2 6 5 6 4.5 6 4.2 6 4 6 3.7 6 3.3 6 2.8 6 2.6 6 2.5 6 2 6 1.4 6 .9 6 .6 6 .6 6 .5 6 .3 6 .4 6 .3 6 .4 6 .5 6 .7 6 1.9 6 4.2 6 5.7 6 6 6 5.6 6 5.8 6 6.1 6 5.9 6 5.5 6 5.3 6 4.9 6 3.9 6 2.9 6 2.4 6 2.1 6 2 6 2.1 6 1.6 6 .2 6-1 6-1.7 6-2.4 6-3.9 6-4.8 6-5.6 6-6.5 6-7.4 6-9.3 6-9.8 6-7.7 6-5.4 6-5.9 6-6.2 6-6.1 6-6.1 6-5.8 6-5.6 6-5.5 6-5.5 6-5.1 6-4.6 6-4 6-3.6 6-3.3 6-3 6-2.7 6-2.3 6-2.3 6-2 6-1.9 6-1.6 6-1.4 .8-.2"/>
<path d="M765.5 398l6 2.4 6 2.8 6 3.1 6 3.5 6 3.8 6 4.3 6 4.9 6 5.3 6 5.1 6 4.7 6 4.4 6 4.2 6 3.8 6 3.5 6 3 6 2.8 6 2.5 6 2.1 6 1.5 6 1 6 .8 6 .6 6 .6 6 .5 6 .4 6 .6 6 .7 6 .9 6 1.3 6 2.3 6 4.2 6 5.4 6 6 6 5.8 6 6.1 6 6.3 6 6.1 6 5.9 6 5.8 6 6 6 4.9 6 3.5 6 3 6 2.4 6 2.2 6 2.1 6 1.4 6 .3 6-1 6-1.9 6-2.6 6-4.4 6-5.2 6-6 6-6.8 6-7.5 6-9.2 6-9.8 6-8.3 6-6.9 6-7.5 6-7.6 6-7 6-6.5 6-6.2 6-5.8 6-5.8 6-5.5 6-5.4 6-4.9 6-4.3 6-4 6-3.5 6-3 6-2.8 6-2.4 6-2.3 6-2 6-1.9 6-1.6 6-1.4 .8-.2"/>
<path d="M765.5 398.6l6 2.5 6 2.9 6 3.3 6 3.6 6 4.1 6 4.6 6 5 6 5.3 6 5.3 6 5 6 4.6 6 4.5 6 4.1 6 3.7 6 3.3 6 2.9 6 2.7 6 2.3 6 1.7 6 1.3 6 1 6 .8 6 .8 6 .7 6 .7 6 .8 6 1.2 6 1.6 6 1.9 6 2.7 6 4 6 5.2 6 5.9 6 6.1 6 6.4 6 6.5 6 6.3 6 6.4 6 6.6 6 7.3 6 6.2 6 4.4 6 3.5 6 2.8 6 2.4 6 1.8 6 1.5 6 .4 6-1.1 6-2.1 6-3 6-5.1 6-5.7 6-6.5 6-7 6-7.7 6-9 6-9.9 6-9.3 6-8.9 6-9.4 6-9.5 6-8 6-7.2 6-6.5 6-6.2 6-5.9 6-5.7 6-5.6 6-5.3 6-4.9 6-4.3 6-3.7 6-3.2 6-2.8 6-2.5 6-2.3 6-2.1 6-1.8 6-1.7 6-1.3 .8-.2"/>
<path d="M765.5 398l6 2.4 6 2.8 6 3.1 6 3.5 6 3.8 6 4.3 6 4.9 6 5.2 6 5.2 6 4.7 6 4.4 6 4.2 6 3.8 6 3.5 6 3 6 2.8 6 2.5 6 2.2 6 1.5 6 1 6 .8 6 .7 6 .7 6 .5 6 .5 6 .5 6 .8 6 1 6 1.3 6 2.4 6 4.3 6 5.5 6 6 6 5.8 6 6.1 6 6.2 6 6.2 6 5.8 6 5.9 6 5.9 6 4.8 6 3.5 6 2.9 6 2.4 6 2.2 6 1.9 6 1.5 6 .2 6-1.1 6-2 6-2.7 6-4.6 6-5.2 6-6.1 6-6.8 6-7.6 6-9.2 6-9.8 6-8.3 6-6.9 6-7.5 6-7.6 6-7 6-6.5 6-6.1 6-5.8 6-5.7 6-5.6 6-5.3 6-4.8 6-4.4 6-3.9 6-3.4 6-3.1 6-2.7 6-2.4 6-2.3 6-2 6-1.9 6-1.6 6-1.4 .8-.2"/>
<path d="M765.5 398.2l6 2.4 6 2.7 6 3.2 6 3.5 6 3.8 6 4.4 6 4.8 6 5.3 6 5.2 6 4.7 6 4.5 6 4.3 6 3.9 6 3.6 6 3.1 6 2.8 6 2.6 6 2.2 6 1.7 6 1.1 6 .9 6 .7 6 .7 6 .5 6 .5 6 .6 6 .8 6 1.1 6 1.3 6 2.1 6 3.8 6 5.1 6 5.9 6 5.9 6 6 6 6.3 6 6.2 6 6 6 6 6 6.3 6 5.6 6 4 6 3.2 6 2.6 6 2.3 6 2 6 1.7 6 .6 6-.8 6-1.8 6-2.5 6-4.3 6-5.3 6-6 6-6.7 6-7.4 6-8.9 6-9.9 6-8.9 6-7.5 6-7.9 6-8.2 6-7.5 6-6.8 6-6.3 6-6 6-5.8 6-5.7 6-5.5 6-5.1 6-4.5 6-4.2 6-3.6 6-3.1 6-2.8 6-2.5 6-2.3 6-2.1 6-1.9 6-1.7 6-1.4 .8-.1"/>
<path d="M765.5 398.3l6 2.4 6 2.8 6 3.3 6 3.5 6 4 6 4.4 6 5 6 5.3 6 5.2 6 4.8 6 4.5 6 4.3 6 3.9 6 3.5 6 3.1 6 2.8 6 2.5 6 2.1 6 1.6 6 1 6 .9 6 .7 6 .7 6 .5 6 .5 6 .7 6 1 6 1.2 6 1.5 6 2.7 6 4.3 6 5.5 6 6.1 6 5.9 6 6.3 6 6.3 6 6.3 6 6.1 6 6.2 6 6.5 6 5.2 6 3.8 6 3.1 6 2.6 6 2.2 6 2 6 1.4 6 .2 6-1.2 6-2.1 6-2.9 6-4.8 6-5.5 6-6.3 6-6.9 6-7.7 6-9.3 6-9.8 6-8.5 6-7.7 6-8.2 6-8.3 6-7.4 6-6.7 6-6.3 6-5.9 6-5.8 6-5.6 6-5.5 6-5 6-4.5 6-4.1 6-3.5 6-3.1 6-2.7 6-2.5 6-2.2 6-2.1 6-1.8 6-1.6 6-1.3 .8-.2"/>
<path d="M765.5 398.5l6 2.5 6 2.9 6 3.3 6 3.6 6 4.1 6 4.6 6 5 6 5.4 6 5.3 6 4.9 6 4.7 6 4.4 6 4 6 3.6 6 3.3 6 2.9 6 2.6 6 2.2 6 1.7 6 1.1 6 .9 6 .8 6 .7 6 .6 6 .6 6 .8 6 1.2 6 1.4 6 1.9 6 2.7 6 4.2 6 5.3 6 6 6 6 6 6.4 6 6.4 6 6.3 6 6.3 6 6.6 6 7.1 6 5.8 6 4.1 6 3.4 6 2.7 6 2.3 6 1.9 6 1.4 6 .3 6-1.2 6-2.1 6-3.1 6-5 6-5.7 6-6.4 6-7 6-7.7 6-9.1 6-9.9 6-9 6-8.6 6-9 6-9.1 6-7.8 6-7 6-6.4 6-6.1 6-5.9 6-5.7 6-5.5 6-5.2 6-4.8 6-4.2 6-3.7 6-3.1 6-2.8 6-2.5 6-2.3 6-2 6-1.9 6-1.6 6-1.4 .8-.1"/>
<path d="M765.5 397.5l6 2.2 6 2.7 6 2.9 6 3.3 6 3.5 6 4 6 4.8 6 5.1 6 5.1 6 4.4 6 4.1 6 4 6 3.7 6 3.2 6 2.8 6 2.6 6 2.4 6 2 6 1.4 6 .9 6 .6 6 .6 6 .4 6 .4 6 .3 6 .3 6 .3 6 .5 6 .6 6 1.8 6 4.2 6 5.7 6 6.1 6 5.5 6 5.7 6 6 6 6 6 5.4 6 5.1 6 4.8 6 3.7 6 2.8 6 2.3 6 2 6 2 6 2.1 6 1.6 6 .2 6-1 6-1.7 6-2.3 6-3.8 6-4.8 6-5.4 6-6.5 6-7.3 6-9.3 6-9.9 6-7.6 6-5.1 6-5.6 6-5.9 6-6 6-6 6-5.7 6-5.5 6-5.6 6-5.4 6-5.1 6-4.5 6-3.9 6-3.6 6-3.3 6-2.9 6-2.7 6-2.4 6-2.2 6-2 6-1.9 6-1.7 6-1.3 .8-.2"/>
<path d="M765.5 398.1l6 2.3 6 2.9 6 3.1 6 3.5 6 3.9 6 4.4 6 4.9 6 5.3 6 5.2 6 4.7 6 4.4 6 4.2 6 3.9 6 3.5 6 3 6 2.8 6 2.5 6 2.1 6 1.5 6 1 6 .8 6 .6 6 .6 6 .5 6 .5 6 .5 6 .8 6 1.1 6 1.3 6 2.6 6 4.3 6 5.6 6 6 6 5.8 6 6.1 6 6.3 6 6.1 6 5.9 6 5.9 6 6 6 4.7 6 3.5 6 2.9 6 2.4 6 2.2 6 2 6 1.3 6 .2 6-1.2 6-2 6-2.8 6-4.7 6-5.3 6-6.1 6-6.8 6-7.7 6-9.3 6-9.7 6-8.1 6-7 6-7.6 6-7.7 6-6.9 6-6.6 6-6.1 6-5.8 6-5.7 6-5.5 6-5.3 6-4.9 6-4.4 6-3.9 6-3.5 6-3 6-2.7 6-2.5 6-2.2 6-2.1 6-1.8 6-1.6 6-1.4 .8-.2"/>
<path d="M765.5 398l6 2.3 6 2.8 6 3.2 6 3.4 6 3.8 6 4.3 6 5 6 5.2 6 5.2 6 4.7 6 4.3 6 4.2 6 3.8 6 3.4 6 3 6 2.8 6 2.5 6 2 6 1.5 6 .9 6 .8 6 .6 6 .6 6 .5 6 .4 6 .5 6 .8 6 .9 6 1.2 6 2.6 6 4.4 6 5.6 6 6.1 6 5.7 6 6.1 6 6.2 6 6.1 6 5.8 6 5.8 6 5.8 6 4.4 6 3.4 6 2.8 6 2.3 6 2.2 6 2 6 1.3 6 .1 6-1.2 6-1.9 6-2.8 6-4.6 6-5.2 6-6 6-6.9 6-7.6 6-9.4 6-9.6 6-8 6-6.7 6-7.2 6-7.4 6-6.8 6-6.4 6-6.1 6-5.7 6-5.7 6-5.5 6-5.2 6-4.9 6-4.2 6-3.9 6-3.4 6-3 6-2.7 6-2.4 6-2.2 6-2.1 6-1.8 6-1.7 6-1.3 .8-.2"/>
<path d="M765.5 397.9l6 2.3 6 2.7 6 3 6 3.4 6 3.7 6 4.2 6 4.8 6 5.2 6 5.2 6 4.6 6 4.3 6 4.2 6 3.8 6 3.4 6 3 6 2.8 6 2.5 6 2.2 6 1.5 6 1.1 6 .8 6 .6 6 .6 6 .5 6 .4 6 .5 6 .6 6 .8 6 1 6 2 6 4.1 6 5.4 6 6 6 5.7 6 5.9 6 6.1 6 6 6 5.7 6 5.6 6 5.6 6 4.5 6 3.4 6 2.7 6 2.3 6 2 6 2.1 6 1.5 6 .3 6-.9 6-1.9 6-2.4 6-4.2 6-5.1 6-5.7 6-6.7 6-7.4 6-9.1 6-9.8 6-8.2 6-6.4 6-6.8 6-7.1 6-6.7 6-6.4 6-6 6-5.7 6-5.7 6-5.5 6-5.2 6-4.8 6-4.3 6-3.8 6-3.4 6-3.1 6-2.7 6-2.5 6-2.2 6-2.1 6-1.9 6-1.6 6-1.4 .8-.2"/>
<path d="M765.5 397.5l6 2.3 6 2.6 6 3 6 3.3 6 3.6 6 4 6 4.8 6 5.2 6 5.1 6 4.5 6 4.1 6 4 6 3.7 6 3.2 6 2.8 6 2.7 6 2.4 6 2 6 1.3 6 .9 6 .6 6 .6 6 .5 6 .3 6 .3 6 .3 6 .4 6 .5 6 .7 6 2 6 4.5 6 5.7 6 6.1 6 5.5 6 5.8 6 6 6 5.9 6 5.4 6 5.1 6 4.8 6 3.5 6 2.8 6 2.3 6 2 6 2 6 2.1 6 1.4 6 .1 6-1.1 6-1.8 6-2.4 6-4.1 6-4.8 6-5.6 6-6.6 6-7.4 6-9.4 6-9.8 6-7.2 6-5.2 6-5.7 6-6 6-6 6-6 6-5.7 6-5.5 6-5.5 6-5.4 6-5 6-4.5 6-3.9 6-3.6 6-3.2 6-3 6-2.6 6-2.4 6-2.2 6-2.1 6-1.8 6-1.6 6-1.4 .8-.2"/>
<path d="M765.5 399.3l6 2.7 6 3.1 6 3.5 6 3.9 6 4.5 6 5.1 6 5.1 6 5.5 6 5.5 6 5.2 6 5.1 6 4.7 6 4.4 6 3.9 6 3.6 6 3.1 6 2.8 6 2.5 6 1.9 6 1.4 6 1.1 6 1 6 .9 6 .8 6 .9 6 1.2 6 1.8 6 2.2 6 2.7 6 3.2 6 3.6 6 4.9 6 6 6 6.5 6 6.8 6 6.7 6 6.8 6 7.1 6 7.7 6 9.1 6 7.7 6 5.4 6 4.4 6 3.2 6 2.6 6 1.8 6 1.5 6 .5 6-1.1 6-2.3 6-3.5 6-5.8 6-6.3 6-7 6-7.4 6-7.8 6-8.7 6-10.1 6-10.7 6-11.3 6-11.9 6-11.6 6-9.2 6-7.9 6-7.2 6-6.5 6-6.2 6-6 6-6 6-5.8 6-5.5 6-4.9 6-3.9 6-3.4 6-2.9 6-2.6 6-2.4 6-2.1 6-1.8 6-1.6 6-1.4 .8-.1"/>
<path d="M765.5 398.1l6 2.4 6 2.7 6 3.2 6 3.4 6 3.8 6 4.3 6 4.9 6 5.2 6 5.2 6 4.8 6 4.4 6 4.3 6 3.9 6 3.5 6 3.2 6 2.8 6 2.6 6 2.2 6 1.6 6 1.1 6 .9 6 .7 6 .6 6 .5 6 .5 6 .5 6 .7 6 1 6 1.2 6 2 6 3.8 6 5.2 6 5.9 6 5.8 6 6 6 6.2 6 6.1 6 5.9 6 5.9 6 6.1 6 5.4 6 3.8 6 3.1 6 2.6 6 2.2 6 2 6 1.7 6 .6 6-.8 6-1.8 6-2.4 6-4.3 6-5.2 6-5.9 6-6.6 6-7.4 6-8.9 6-9.8 6-8.8 6-7.2 6-7.6 6-8 6-7.2 6-6.7 6-6.3 6-5.9 6-5.8 6-5.6 6-5.5 6-5 6-4.5 6-4.1 6-3.5 6-3.2 6-2.8 6-2.5 6-2.3 6-2.1 6-1.9 6-1.7 6-1.4 .8-.1"/>
<path d="M765.5 397.9l6 2.3 6 2.8 6 3.1 6 3.4 6 3.8 6 4.2 6 4.9 6 5.2 6 5.1 6 4.7 6 4.3 6 4.1 6 3.9 6 3.4 6 2.9 6 2.8 6 2.5 6 2 6 1.5 6 1 6 .8 6 .6 6 .6 6 .4 6 .4 6 .5 6 .7 6 .8 6 1.1 6 2.3 6 4.2 6 5.5 6 6.1 6 5.7 6 6 6 6.2 6 6 6 5.8 6 5.7 6 5.7 6 4.5 6 3.4 6 2.8 6 2.3 6 2.2 6 2 6 1.5 6 .2 6-1 6-1.9 6-2.6 6-4.3 6-5.1 6-5.9 6-6.7 6-7.5 6-9.3 6-9.8 6-8.1 6-6.4 6-7.1 6-7.2 6-6.8 6-6.4 6-6 6-5.8 6-5.7 6-5.5 6-5.2 6-4.9 6-4.2 6-3.9 6-3.4 6-3 6-2.7 6-2.5 6-2.2 6-2.1 6-1.8 6-1.7 6-1.3 .8-.2"/>
<path d="M765.5 398.8l6 2.5 6 3 6 3.3 6 3.7 6 4.2 6 4.7 6 5.1 6 5.3 6 5.4 6 4.9 6 4.8 6 4.5 6 4.1 6 3.7 6 3.3 6 3 6 2.6 6 2.3 6 1.7 6 1.3 6 .9 6 .9 6 .8 6 .7 6 .7 6 .9 6 1.3 6 1.7 6 2.1 6 2.8 6 4 6 5.1 6 6 6 6.2 6 6.5 6 6.6 6 6.5 6 6.6 6 6.9 6 7.8 6 6.6 6 4.7 6 3.8 6 2.9 6 2.5 6 1.9 6 1.5 6 .5 6-1.1 6-2.1 6-3.1 6-5.2 6-5.8 6-6.7 6-7.1 6-7.7 6-9 6-9.9 6-9.7 6-9.4 6-10 6-10 6-8.4 6-7.4 6-6.7 6-6.3 6-6 6-5.8 6-5.7 6-5.5 6-5 6-4.5 6-3.8 6-3.2 6-2.8 6-2.6 6-2.3 6-2 6-1.9 6-1.6 6-1.3 .8-.2"/>
<path d="M765.5 398.5l6 2.4 6 2.9 6 3.2 6 3.6 6 4 6 4.5 6 4.9 6 5.3 6 5.2 6 4.9 6 4.6 6 4.4 6 4.1 6 3.6 6 3.3 6 2.9 6 2.7 6 2.3 6 1.7 6 1.3 6 .9 6 .8 6 .8 6 .6 6 .6 6 .7 6 1 6 1.4 6 1.7 6 2.3 6 3.7 6 5 6 5.9 6 6 6 6.2 6 6.4 6 6.3 6 6.3 6 6.3 6 7 6 6.4 6 4.4 6 3.6 6 2.9 6 2.4 6 2 6 1.6 6 .6 6-.7 6-1.9 6-2.6 6-4.7 6-5.5 6-6.2 6-6.9 6-7.5 6-8.8 6-9.9 6-9.4 6-8.4 6-9 6-9.2 6-8 6-7.2 6-6.6 6-6.2 6-5.9 6-5.8 6-5.6 6-5.3 6-4.9 6-4.3 6-3.7 6-3.2 6-2.9 6-2.6 6-2.3 6-2.1 6-1.8 6-1.7 6-1.4 .8-.1"/>
<path d="M765.5 399.2l6 2.7 6 3.1 6 3.4 6 3.9 6 4.4 6 5 6 5.1 6 5.4 6 5.5 6 5.2 6 5 6 4.7 6 4.4 6 3.9 6 3.6 6 3.1 6 2.8 6 2.4 6 1.9 6 1.4 6 1.1 6 1 6 .9 6 .8 6 .8 6 1.1 6 1.7 6 2.1 6 2.5 6 3.1 6 3.6 6 4.8 6 5.9 6 6.4 6 6.7 6 6.8 6 6.6 6 7 6 7.5 6 8.8 6 7.8 6 5.4 6 4.3 6 3.3 6 2.7 6 1.8 6 1.6 6 .6 6-.9 6-2.3 6-3.2 6-5.6 6-6.2 6-7 6-7.2 6-7.8 6-8.7 6-9.9 6-10.6 6-11 6-11.6 6-11.5 6-9.2 6-7.9 6-7.1 6-6.6 6-6.1 6-6 6-6 6-5.8 6-5.5 6-4.8 6-4 6-3.3 6-3 6-2.6 6-2.4 6-2 6-1.9 6-1.6 6-1.4 .8-.1"/>
<path d="M765.5 398.9l6 2.5 6 3 6 3.4 6 3.8 6 4.2 6 4.8 6 5.1 6 5.3 6 5.5 6 5 6 4.8 6 4.6 6 4.2 6 3.8 6 3.4 6 3 6 2.7 6 2.3 6 1.8 6 1.3 6 1 6 .9 6 .8 6 .7 6 .7 6 1 6 1.4 6 1.8 6 2.1 6 2.9 6 3.8 6 5 6 5.9 6 6.2 6 6.6 6 6.5 6 6.5 6 6.7 6 7 6 8.1 6 6.9 6 4.9 6 4 6 3 6 2.5 6 2 6 1.5 6 .5 6-.9 6-2.2 6-3 6-5.3 6-5.9 6-6.7 6-7.1 6-7.7 6-8.9 6-9.9 6-9.9 6-9.8 6-10.4 6-10.4 6-8.6 6-7.5 6-6.9 6-6.4 6-6 6-5.9 6-5.7 6-5.6 6-5.2 6-4.6 6-3.8 6-3.3 6-2.9 6-2.5 6-2.4 6-2 6-1.9 6-1.6 6-1.4 .8-.1"/>
<path d="M765.5 398.5l6 2.5 6 2.9 6 3.2 6 3.6 6 4 6 4.5 6 5 6 5.2 6 5.3 6 4.9 6 4.6 6 4.4 6 4.1 6 3.6 6 3.3 6 2.9 6 2.7 6 2.3 6 1.7 6 1.2 6 1 6 .8 6 .8 6 .6 6 .7 6 .8 6 1.1 6 1.4 6 1.8 6 2.4 6 3.8 6 5.1 6 5.9 6 6 6 6.3 6 6.5 6 6.3 6 6.4 6 6.4 6 7.2 6 6.4 6 4.4 6 3.7 6 2.9 6 2.3 6 2 6 1.6 6 .6 6-.8 6-2 6-2.7 6-4.7 6-5.6 6-6.4 6-6.9 6-7.6 6-8.9 6-9.8 6-9.5 6-8.6 6-9.2 6-9.4 6-8.1 6-7.2 6-6.6 6-6.2 6-6 6-5.7 6-5.7 6-5.3 6-4.9 6-4.3 6-3.7 6-3.2 6-2.9 6-2.5 6-2.3 6-2.1 6-1.9 6-1.6 6-1.4 .8-.1"/>
<path d="M765.5 399.1l6 2.6 6 3.1 6 3.4 6 3.8 6 4.4 6 4.9 6 5 6 5.4 6 5.5 6 5.1 6 4.9 6 4.7 6 4.3 6 3.8 6 3.6 6 3 6 2.8 6 2.4 6 1.8 6 1.4 6 1.1 6 .9 6 .9 6 .7 6 .7 6 1.1 6 1.4 6 2 6 2.4 6 2.9 6 3.6 6 4.8 6 5.8 6 6.3 6 6.7 6 6.7 6 6.6 6 6.8 6 7.3 6 8.6 6 7.6 6 5.4 6 4.3 6 3.3 6 2.6 6 2 6 1.6 6 .7 6-.8 6-2.1 6-3 6-5.4 6-6 6-6.9 6-7.1 6-7.7 6-8.7 6-9.9 6-10.4 6-10.5 6-11.2 6-11.2 6-9.1 6-7.9 6-7.1 6-6.5 6-6.2 6-5.9 6-6 6-5.8 6-5.4 6-4.8 6-3.9 6-3.3 6-3 6-2.6 6-2.4 6-2.1 6-1.8 6-1.7 6-1.3 .8-.2"/>
<path d="M765.5 398.8l6 2.5 6 2.9 6 3.3 6 3.6 6 4.2 6 4.6 6 5 6 5.3 6 5.4 6 5 6 4.7 6 4.6 6 4.2 6 3.8 6 3.4 6 3 6 2.7 6 2.4 6 1.9 6 1.3 6 1.1 6 .9 6 .8 6 .7 6 .7 6 .9 6 1.2 6 1.6 6 2 6 2.6 6 3.6 6 4.8 6 5.8 6 6.1 6 6.4 6 6.5 6 6.4 6 6.4 6 6.7 6 7.6 6 7.1 6 4.9 6 3.9 6 3 6 2.5 6 2 6 1.6 6 .7 6-.7 6-2 6-2.7 6-4.9 6-5.8 6-6.5 6-7 6-7.6 6-8.7 6-9.8 6-9.8 6-9.4 6-10 6-10.1 6-8.6 6-7.5 6-6.8 6-6.4 6-6 6-5.8 6-5.8 6-5.5 6-5.1 6-4.6 6-3.8 6-3.3 6-2.9 6-2.6 6-2.3 6-2.2 6-1.9 6-1.6 6-1.4 .8-.2"/>
<path d="M765.5 397.6l6 2.3 6 2.7 6 3 6 3.3 6 3.6 6 4.1 6 4.8 6 5.2 6 5.1 6 4.5 6 4.2 6 4 6 3.7 6 3.4 6 2.8 6 2.7 6 2.5 6 2 6 1.4 6 1 6 .7 6 .5 6 .6 6 .4 6 .3 6 .4 6 .4 6 .6 6 .9 6 2 6 4.2 6 5.7 6 6.1 6 5.5 6 5.9 6 6 6 6 6 5.5 6 5.3 6 5 6 3.9 6 3 6 2.4 6 2.1 6 2.1 6 2 6 1.5 6 .2 6-1.1 6-1.8 6-2.4 6-4.1 6-4.9 6-5.6 6-6.6 6-7.4 6-9.4 6-9.7 6-7.7 6-5.6 6-6.1 6-6.3 6-6.3 6-6.1 6-5.8 6-5.6 6-5.6 6-5.4 6-5.1 6-4.6 6-4 6-3.7 6-3.3 6-3 6-2.6 6-2.4 6-2.2 6-2.1 6-1.9 6-1.6 6-1.4 .8-.2"/>
<path d="M765.5 398.2l6 2.4 6 2.8 6 3.1 6 3.5 6 3.8 6 4.4 6 4.8 6 5.2 6 5.2 6 4.8 6 4.5 6 4.2 6 4 6 3.6 6 3.1 6 2.9 6 2.6 6 2.2 6 1.7 6 1.2 6 .9 6 .7 6 .8 6 .5 6 .6 6 .6 6 .8 6 1.2 6 1.4 6 2.1 6 3.8 6 5.1 6 5.9 6 5.9 6 6.1 6 6.3 6 6.2 6 6 6 6.1 6 6.3 6 5.7 6 4 6 3.3 6 2.6 6 2.3 6 2 6 1.6 6 .6 6-.8 6-1.8 6-2.5 6-4.4 6-5.3 6-6 6-6.8 6-7.4 6-8.9 6-9.9 6-9 6-7.6 6-8.1 6-8.3 6-7.5 6-6.9 6-6.4 6-6 6-5.8 6-5.7 6-5.4 6-5.2 6-4.5 6-4.2 6-3.6 6-3.1 6-2.8 6-2.5 6-2.3 6-2.1 6-1.9 6-1.7 6-1.3 .8-.2"/>
</g>
</g>
<line x1="92.39" y1="-10" x2="92.39" y2="228.5" stroke="#008a1a" stroke-width="2" />
<line x1="140.42" y1="-10" x2="140.42" y2="228.5" stroke="#008a1a" stroke-width="2" />
<line x1="543.88" y1="-10" x2="543.88" y2="228.5" stroke="#ff1010" stroke-width="2" />
<line x1="591.91" y1="-10" x2="591.91" y2="228.5" stroke="#ff1010" stroke-width="2" />
<line x1="92.5" y1="366.6" x2="92.5" y2="607.4" stroke="#008a1a" stroke-width="2" />
<line x1="118.77" y1="366.6" x2="118.77" y2="607.4" stroke="#008a1a" stroke-width="2" />
<line x1="565.36" y1="366.6" x2="565.36" y2="607.4" stroke="#ff1010" stroke-width="2" />
<line x1="591.63" y1="366.6" x2="591.63" y2="607.4" stroke="#ff1010" stroke-width="2" />
<path d="M67.5 -40 V233.8 H616.5 V-40" fill="none" stroke="#1e1e1e" stroke-width="1.3"/>
<line x1="65" y1="228" x2="70" y2="228" stroke="#1e1e1e" stroke-width="1.3" />
<line x1="614.2" y1="228" x2="616.5" y2="228" stroke="#1e1e1e" stroke-width="1.3" />
<line x1="65" y1="216.34" x2="70" y2="216.34" stroke="#1e1e1e" stroke-width="1.3" />
<line x1="614.2" y1="216.34" x2="616.5" y2="216.34" stroke="#1e1e1e" stroke-width="1.3" />
<line x1="65" y1="204.69" x2="70" y2="204.69" stroke="#1e1e1e" stroke-width="1.3" />
<line x1="614.2" y1="204.69" x2="616.5" y2="204.69" stroke="#1e1e1e" stroke-width="1.3" />
<line x1="65" y1="193.03" x2="70" y2="193.03" stroke="#1e1e1e" stroke-width="1.3" />
<line x1="614.2" y1="193.03" x2="616.5" y2="193.03" stroke="#1e1e1e" stroke-width="1.3" />
<line x1="65" y1="181.38" x2="70" y2="181.38" stroke="#1e1e1e" stroke-width="1.3" />
<line x1="614.2" y1="181.38" x2="616.5" y2="181.38" stroke="#1e1e1e" stroke-width="1.3" />
<line x1="65" y1="169.72" x2="70" y2="169.72" stroke="#1e1e1e" stroke-width="1.3" />
<line x1="614.2" y1="169.72" x2="616.5" y2="169.72" stroke="#1e1e1e" stroke-width="1.3" />
<line x1="65" y1="158.07" x2="70" y2="158.07" stroke="#1e1e1e" stroke-width="1.3" />
<line x1="614.2" y1="158.07" x2="616.5" y2="158.07" stroke="#1e1e1e" stroke-width="1.3" />
<line x1="65" y1="146.41" x2="70" y2="146.41" stroke="#1e1e1e" stroke-width="1.3" />
<line x1="614.2" y1="146.41" x2="616.5" y2="146.41" stroke="#1e1e1e" stroke-width="1.3" />
<line x1="65" y1="134.76" x2="70" y2="134.76" stroke="#1e1e1e" stroke-width="1.3" />
<line x1="614.2" y1="134.76" x2="616.5" y2="134.76" stroke="#1e1e1e" stroke-width="1.3" />
<line x1="65" y1="123.11" x2="70" y2="123.11" stroke="#1e1e1e" stroke-width="1.3" />
<line x1="614.2" y1="123.11" x2="616.5" y2="123.11" stroke="#1e1e1e" stroke-width="1.3" />
<line x1="65" y1="111.45" x2="70" y2="111.45" stroke="#1e1e1e" stroke-width="1.3" />
<line x1="614.2" y1="111.45" x2="616.5" y2="111.45" stroke="#1e1e1e" stroke-width="1.3" />
<line x1="65" y1="99.79" x2="70" y2="99.79" stroke="#1e1e1e" stroke-width="1.3" />
<line x1="614.2" y1="99.79" x2="616.5" y2="99.79" stroke="#1e1e1e" stroke-width="1.3" />
<line x1="65" y1="88.14" x2="70" y2="88.14" stroke="#1e1e1e" stroke-width="1.3" />
<line x1="614.2" y1="88.14" x2="616.5" y2="88.14" stroke="#1e1e1e" stroke-width="1.3" />
<line x1="65" y1="76.48" x2="70" y2="76.48" stroke="#1e1e1e" stroke-width="1.3" />
<line x1="614.2" y1="76.48" x2="616.5" y2="76.48" stroke="#1e1e1e" stroke-width="1.3" />
<line x1="65" y1="64.83" x2="70" y2="64.83" stroke="#1e1e1e" stroke-width="1.3" />
<line x1="614.2" y1="64.83" x2="616.5" y2="64.83" stroke="#1e1e1e" stroke-width="1.3" />
<line x1="65" y1="53.18" x2="70" y2="53.18" stroke="#1e1e1e" stroke-width="1.3" />
<line x1="614.2" y1="53.18" x2="616.5" y2="53.18" stroke="#1e1e1e" stroke-width="1.3" />
<line x1="65" y1="41.52" x2="70" y2="41.52" stroke="#1e1e1e" stroke-width="1.3" />
<line x1="614.2" y1="41.52" x2="616.5" y2="41.52" stroke="#1e1e1e" stroke-width="1.3" />
<line x1="65" y1="29.86" x2="70" y2="29.86" stroke="#1e1e1e" stroke-width="1.3" />
<line x1="614.2" y1="29.86" x2="616.5" y2="29.86" stroke="#1e1e1e" stroke-width="1.3" />
<line x1="65" y1="18.21" x2="70" y2="18.21" stroke="#1e1e1e" stroke-width="1.3" />
<line x1="614.2" y1="18.21" x2="616.5" y2="18.21" stroke="#1e1e1e" stroke-width="1.3" />
<line x1="65" y1="6.55" x2="70" y2="6.55" stroke="#1e1e1e" stroke-width="1.3" />
<line x1="614.2" y1="6.55" x2="616.5" y2="6.55" stroke="#1e1e1e" stroke-width="1.3" />
<line x1="65" y1="-5.1" x2="70" y2="-5.1" stroke="#1e1e1e" stroke-width="1.3" />
<line x1="614.2" y1="-5.1" x2="616.5" y2="-5.1" stroke="#1e1e1e" stroke-width="1.3" />
<line x1="65" y1="-16.75" x2="70" y2="-16.75" stroke="#1e1e1e" stroke-width="1.3" />
<line x1="614.2" y1="-16.75" x2="616.5" y2="-16.75" stroke="#1e1e1e" stroke-width="1.3" />
<line x1="65" y1="-28.41" x2="70" y2="-28.41" stroke="#1e1e1e" stroke-width="1.3" />
<line x1="614.2" y1="-28.41" x2="616.5" y2="-28.41" stroke="#1e1e1e" stroke-width="1.3" />
<line x1="63" y1="228" x2="72" y2="228" stroke="#1e1e1e" stroke-width="1.3" />
<line x1="612" y1="228" x2="616.5" y2="228" stroke="#1e1e1e" stroke-width="1.3" />
<line x1="63" y1="181.38" x2="72" y2="181.38" stroke="#1e1e1e" stroke-width="1.3" />
<line x1="612" y1="181.38" x2="616.5" y2="181.38" stroke="#1e1e1e" stroke-width="1.3" />
<line x1="63" y1="134.76" x2="72" y2="134.76" stroke="#1e1e1e" stroke-width="1.3" />
<line x1="612" y1="134.76" x2="616.5" y2="134.76" stroke="#1e1e1e" stroke-width="1.3" />
<line x1="63" y1="88.14" x2="72" y2="88.14" stroke="#1e1e1e" stroke-width="1.3" />
<line x1="612" y1="88.14" x2="616.5" y2="88.14" stroke="#1e1e1e" stroke-width="1.3" />
<line x1="63" y1="41.52" x2="72" y2="41.52" stroke="#1e1e1e" stroke-width="1.3" />
<line x1="612" y1="41.52" x2="616.5" y2="41.52" stroke="#1e1e1e" stroke-width="1.3" />
<line x1="63" y1="-5.1" x2="72" y2="-5.1" stroke="#1e1e1e" stroke-width="1.3" />
<line x1="612" y1="-5.1" x2="616.5" y2="-5.1" stroke="#1e1e1e" stroke-width="1.3" />
<line x1="82.79" y1="231.5" x2="82.79" y2="236.3" stroke="#1e1e1e" stroke-width="1.3" />
<line x1="102" y1="231.5" x2="102" y2="236.3" stroke="#1e1e1e" stroke-width="1.3" />
<line x1="121.21" y1="231.5" x2="121.21" y2="236.3" stroke="#1e1e1e" stroke-width="1.3" />
<line x1="140.42" y1="231.5" x2="140.42" y2="236.3" stroke="#1e1e1e" stroke-width="1.3" />
<line x1="159.64" y1="231.5" x2="159.64" y2="236.3" stroke="#1e1e1e" stroke-width="1.3" />
<line x1="178.85" y1="231.5" x2="178.85" y2="236.3" stroke="#1e1e1e" stroke-width="1.3" />
<line x1="198.06" y1="231.5" x2="198.06" y2="236.3" stroke="#1e1e1e" stroke-width="1.3" />
<line x1="217.27" y1="231.5" x2="217.27" y2="236.3" stroke="#1e1e1e" stroke-width="1.3" />
<line x1="236.48" y1="231.5" x2="236.48" y2="236.3" stroke="#1e1e1e" stroke-width="1.3" />
<line x1="255.7" y1="231.5" x2="255.7" y2="236.3" stroke="#1e1e1e" stroke-width="1.3" />
<line x1="274.91" y1="231.5" x2="274.91" y2="236.3" stroke="#1e1e1e" stroke-width="1.3" />
<line x1="294.12" y1="231.5" x2="294.12" y2="236.3" stroke="#1e1e1e" stroke-width="1.3" />
<line x1="313.33" y1="231.5" x2="313.33" y2="236.3" stroke="#1e1e1e" stroke-width="1.3" />
<line x1="332.54" y1="231.5" x2="332.54" y2="236.3" stroke="#1e1e1e" stroke-width="1.3" />
<line x1="351.76" y1="231.5" x2="351.76" y2="236.3" stroke="#1e1e1e" stroke-width="1.3" />
<line x1="370.97" y1="231.5" x2="370.97" y2="236.3" stroke="#1e1e1e" stroke-width="1.3" />
<line x1="390.18" y1="231.5" x2="390.18" y2="236.3" stroke="#1e1e1e" stroke-width="1.3" />
<line x1="409.39" y1="231.5" x2="409.39" y2="236.3" stroke="#1e1e1e" stroke-width="1.3" />
<line x1="428.6" y1="231.5" x2="428.6" y2="236.3" stroke="#1e1e1e" stroke-width="1.3" />
<line x1="447.82" y1="231.5" x2="447.82" y2="236.3" stroke="#1e1e1e" stroke-width="1.3" />
<line x1="467.03" y1="231.5" x2="467.03" y2="236.3" stroke="#1e1e1e" stroke-width="1.3" />
<line x1="486.24" y1="231.5" x2="486.24" y2="236.3" stroke="#1e1e1e" stroke-width="1.3" />
<line x1="505.45" y1="231.5" x2="505.45" y2="236.3" stroke="#1e1e1e" stroke-width="1.3" />
<line x1="524.66" y1="231.5" x2="524.66" y2="236.3" stroke="#1e1e1e" stroke-width="1.3" />
<line x1="543.88" y1="231.5" x2="543.88" y2="236.3" stroke="#1e1e1e" stroke-width="1.3" />
<line x1="563.09" y1="231.5" x2="563.09" y2="236.3" stroke="#1e1e1e" stroke-width="1.3" />
<line x1="582.3" y1="231.5" x2="582.3" y2="236.3" stroke="#1e1e1e" stroke-width="1.3" />
<line x1="601.51" y1="231.5" x2="601.51" y2="236.3" stroke="#1e1e1e" stroke-width="1.3" />
<line x1="102" y1="229.6" x2="102" y2="238.3" stroke="#1e1e1e" stroke-width="1.3" />
<line x1="198.06" y1="229.6" x2="198.06" y2="238.3" stroke="#1e1e1e" stroke-width="1.3" />
<line x1="294.12" y1="229.6" x2="294.12" y2="238.3" stroke="#1e1e1e" stroke-width="1.3" />
<line x1="390.18" y1="229.6" x2="390.18" y2="238.3" stroke="#1e1e1e" stroke-width="1.3" />
<line x1="486.24" y1="229.6" x2="486.24" y2="238.3" stroke="#1e1e1e" stroke-width="1.3" />
<line x1="582.3" y1="229.6" x2="582.3" y2="238.3" stroke="#1e1e1e" stroke-width="1.3" />
<path d="M741.5 -40 V234 H1276.8 V-40" fill="none" stroke="#1e1e1e" stroke-width="1.3"/>
<line x1="739" y1="231.78" x2="744" y2="231.78" stroke="#1e1e1e" stroke-width="1.3" />
<line x1="1274.5" y1="231.78" x2="1276.8" y2="231.78" stroke="#1e1e1e" stroke-width="1.3" />
<line x1="739" y1="222.85" x2="744" y2="222.85" stroke="#1e1e1e" stroke-width="1.3" />
<line x1="1274.5" y1="222.85" x2="1276.8" y2="222.85" stroke="#1e1e1e" stroke-width="1.3" />
<line x1="739" y1="213.92" x2="744" y2="213.92" stroke="#1e1e1e" stroke-width="1.3" />
<line x1="1274.5" y1="213.92" x2="1276.8" y2="213.92" stroke="#1e1e1e" stroke-width="1.3" />
<line x1="739" y1="204.99" x2="744" y2="204.99" stroke="#1e1e1e" stroke-width="1.3" />
<line x1="1274.5" y1="204.99" x2="1276.8" y2="204.99" stroke="#1e1e1e" stroke-width="1.3" />
<line x1="739" y1="196.06" x2="744" y2="196.06" stroke="#1e1e1e" stroke-width="1.3" />
<line x1="1274.5" y1="196.06" x2="1276.8" y2="196.06" stroke="#1e1e1e" stroke-width="1.3" />
<line x1="739" y1="187.13" x2="744" y2="187.13" stroke="#1e1e1e" stroke-width="1.3" />
<line x1="1274.5" y1="187.13" x2="1276.8" y2="187.13" stroke="#1e1e1e" stroke-width="1.3" />
<line x1="739" y1="178.2" x2="744" y2="178.2" stroke="#1e1e1e" stroke-width="1.3" />
<line x1="1274.5" y1="178.2" x2="1276.8" y2="178.2" stroke="#1e1e1e" stroke-width="1.3" />
<line x1="739" y1="169.27" x2="744" y2="169.27" stroke="#1e1e1e" stroke-width="1.3" />
<line x1="1274.5" y1="169.27" x2="1276.8" y2="169.27" stroke="#1e1e1e" stroke-width="1.3" />
<line x1="739" y1="160.34" x2="744" y2="160.34" stroke="#1e1e1e" stroke-width="1.3" />
<line x1="1274.5" y1="160.34" x2="1276.8" y2="160.34" stroke="#1e1e1e" stroke-width="1.3" />
<line x1="739" y1="151.41" x2="744" y2="151.41" stroke="#1e1e1e" stroke-width="1.3" />
<line x1="1274.5" y1="151.41" x2="1276.8" y2="151.41" stroke="#1e1e1e" stroke-width="1.3" />
<line x1="739" y1="142.48" x2="744" y2="142.48" stroke="#1e1e1e" stroke-width="1.3" />
<line x1="1274.5" y1="142.48" x2="1276.8" y2="142.48" stroke="#1e1e1e" stroke-width="1.3" />
<line x1="739" y1="133.55" x2="744" y2="133.55" stroke="#1e1e1e" stroke-width="1.3" />
<line x1="1274.5" y1="133.55" x2="1276.8" y2="133.55" stroke="#1e1e1e" stroke-width="1.3" />
<line x1="739" y1="124.62" x2="744" y2="124.62" stroke="#1e1e1e" stroke-width="1.3" />
<line x1="1274.5" y1="124.62" x2="1276.8" y2="124.62" stroke="#1e1e1e" stroke-width="1.3" />
<line x1="739" y1="115.69" x2="744" y2="115.69" stroke="#1e1e1e" stroke-width="1.3" />
<line x1="1274.5" y1="115.69" x2="1276.8" y2="115.69" stroke="#1e1e1e" stroke-width="1.3" />
<line x1="739" y1="106.76" x2="744" y2="106.76" stroke="#1e1e1e" stroke-width="1.3" />
<line x1="1274.5" y1="106.76" x2="1276.8" y2="106.76" stroke="#1e1e1e" stroke-width="1.3" />
<line x1="739" y1="97.83" x2="744" y2="97.83" stroke="#1e1e1e" stroke-width="1.3" />
<line x1="1274.5" y1="97.83" x2="1276.8" y2="97.83" stroke="#1e1e1e" stroke-width="1.3" />
<line x1="739" y1="88.9" x2="744" y2="88.9" stroke="#1e1e1e" stroke-width="1.3" />
<line x1="1274.5" y1="88.9" x2="1276.8" y2="88.9" stroke="#1e1e1e" stroke-width="1.3" />
<line x1="739" y1="79.97" x2="744" y2="79.97" stroke="#1e1e1e" stroke-width="1.3" />
<line x1="1274.5" y1="79.97" x2="1276.8" y2="79.97" stroke="#1e1e1e" stroke-width="1.3" />
<line x1="739" y1="71.04" x2="744" y2="71.04" stroke="#1e1e1e" stroke-width="1.3" />
<line x1="1274.5" y1="71.04" x2="1276.8" y2="71.04" stroke="#1e1e1e" stroke-width="1.3" />
<line x1="739" y1="62.11" x2="744" y2="62.11" stroke="#1e1e1e" stroke-width="1.3" />
<line x1="1274.5" y1="62.11" x2="1276.8" y2="62.11" stroke="#1e1e1e" stroke-width="1.3" />
<line x1="739" y1="53.18" x2="744" y2="53.18" stroke="#1e1e1e" stroke-width="1.3" />
<line x1="1274.5" y1="53.18" x2="1276.8" y2="53.18" stroke="#1e1e1e" stroke-width="1.3" />
<line x1="739" y1="44.25" x2="744" y2="44.25" stroke="#1e1e1e" stroke-width="1.3" />
<line x1="1274.5" y1="44.25" x2="1276.8" y2="44.25" stroke="#1e1e1e" stroke-width="1.3" />
<line x1="739" y1="35.32" x2="744" y2="35.32" stroke="#1e1e1e" stroke-width="1.3" />
<line x1="1274.5" y1="35.32" x2="1276.8" y2="35.32" stroke="#1e1e1e" stroke-width="1.3" />
<line x1="739" y1="26.39" x2="744" y2="26.39" stroke="#1e1e1e" stroke-width="1.3" />
<line x1="1274.5" y1="26.39" x2="1276.8" y2="26.39" stroke="#1e1e1e" stroke-width="1.3" />
<line x1="739" y1="17.46" x2="744" y2="17.46" stroke="#1e1e1e" stroke-width="1.3" />
<line x1="1274.5" y1="17.46" x2="1276.8" y2="17.46" stroke="#1e1e1e" stroke-width="1.3" />
<line x1="739" y1="8.53" x2="744" y2="8.53" stroke="#1e1e1e" stroke-width="1.3" />
<line x1="1274.5" y1="8.53" x2="1276.8" y2="8.53" stroke="#1e1e1e" stroke-width="1.3" />
<line x1="739" y1="-0.4" x2="744" y2="-0.4" stroke="#1e1e1e" stroke-width="1.3" />
<line x1="1274.5" y1="-0.4" x2="1276.8" y2="-0.4" stroke="#1e1e1e" stroke-width="1.3" />
<line x1="739" y1="-9.33" x2="744" y2="-9.33" stroke="#1e1e1e" stroke-width="1.3" />
<line x1="1274.5" y1="-9.33" x2="1276.8" y2="-9.33" stroke="#1e1e1e" stroke-width="1.3" />
<line x1="739" y1="-18.26" x2="744" y2="-18.26" stroke="#1e1e1e" stroke-width="1.3" />
<line x1="1274.5" y1="-18.26" x2="1276.8" y2="-18.26" stroke="#1e1e1e" stroke-width="1.3" />
<line x1="739" y1="-27.19" x2="744" y2="-27.19" stroke="#1e1e1e" stroke-width="1.3" />
<line x1="1274.5" y1="-27.19" x2="1276.8" y2="-27.19" stroke="#1e1e1e" stroke-width="1.3" />
<line x1="737" y1="222.85" x2="746" y2="222.85" stroke="#1e1e1e" stroke-width="1.3" />
<line x1="1272.3" y1="222.85" x2="1276.8" y2="222.85" stroke="#1e1e1e" stroke-width="1.3" />
<line x1="737" y1="178.2" x2="746" y2="178.2" stroke="#1e1e1e" stroke-width="1.3" />
<line x1="1272.3" y1="178.2" x2="1276.8" y2="178.2" stroke="#1e1e1e" stroke-width="1.3" />
<line x1="737" y1="133.55" x2="746" y2="133.55" stroke="#1e1e1e" stroke-width="1.3" />
<line x1="1272.3" y1="133.55" x2="1276.8" y2="133.55" stroke="#1e1e1e" stroke-width="1.3" />
<line x1="737" y1="88.9" x2="746" y2="88.9" stroke="#1e1e1e" stroke-width="1.3" />
<line x1="1272.3" y1="88.9" x2="1276.8" y2="88.9" stroke="#1e1e1e" stroke-width="1.3" />
<line x1="737" y1="44.25" x2="746" y2="44.25" stroke="#1e1e1e" stroke-width="1.3" />
<line x1="1272.3" y1="44.25" x2="1276.8" y2="44.25" stroke="#1e1e1e" stroke-width="1.3" />
<line x1="737" y1="-0.4" x2="746" y2="-0.4" stroke="#1e1e1e" stroke-width="1.3" />
<line x1="1272.3" y1="-0.4" x2="1276.8" y2="-0.4" stroke="#1e1e1e" stroke-width="1.3" />
<line x1="742.96" y1="231.7" x2="742.96" y2="236.5" stroke="#1e1e1e" stroke-width="1.3" />
<line x1="766.1" y1="231.7" x2="766.1" y2="236.5" stroke="#1e1e1e" stroke-width="1.3" />
<line x1="789.23" y1="231.7" x2="789.23" y2="236.5" stroke="#1e1e1e" stroke-width="1.3" />
<line x1="812.37" y1="231.7" x2="812.37" y2="236.5" stroke="#1e1e1e" stroke-width="1.3" />
<line x1="835.5" y1="231.7" x2="835.5" y2="236.5" stroke="#1e1e1e" stroke-width="1.3" />
<line x1="858.63" y1="231.7" x2="858.63" y2="236.5" stroke="#1e1e1e" stroke-width="1.3" />
<line x1="881.77" y1="231.7" x2="881.77" y2="236.5" stroke="#1e1e1e" stroke-width="1.3" />
<line x1="904.9" y1="231.7" x2="904.9" y2="236.5" stroke="#1e1e1e" stroke-width="1.3" />
<line x1="928.04" y1="231.7" x2="928.04" y2="236.5" stroke="#1e1e1e" stroke-width="1.3" />
<line x1="951.17" y1="231.7" x2="951.17" y2="236.5" stroke="#1e1e1e" stroke-width="1.3" />
<line x1="974.3" y1="231.7" x2="974.3" y2="236.5" stroke="#1e1e1e" stroke-width="1.3" />
<line x1="997.44" y1="231.7" x2="997.44" y2="236.5" stroke="#1e1e1e" stroke-width="1.3" />
<line x1="1020.57" y1="231.7" x2="1020.57" y2="236.5" stroke="#1e1e1e" stroke-width="1.3" />
<line x1="1043.71" y1="231.7" x2="1043.71" y2="236.5" stroke="#1e1e1e" stroke-width="1.3" />
<line x1="1066.84" y1="231.7" x2="1066.84" y2="236.5" stroke="#1e1e1e" stroke-width="1.3" />
<line x1="1089.97" y1="231.7" x2="1089.97" y2="236.5" stroke="#1e1e1e" stroke-width="1.3" />
<line x1="1113.11" y1="231.7" x2="1113.11" y2="236.5" stroke="#1e1e1e" stroke-width="1.3" />
<line x1="1136.24" y1="231.7" x2="1136.24" y2="236.5" stroke="#1e1e1e" stroke-width="1.3" />
<line x1="1159.38" y1="231.7" x2="1159.38" y2="236.5" stroke="#1e1e1e" stroke-width="1.3" />
<line x1="1182.51" y1="231.7" x2="1182.51" y2="236.5" stroke="#1e1e1e" stroke-width="1.3" />
<line x1="1205.64" y1="231.7" x2="1205.64" y2="236.5" stroke="#1e1e1e" stroke-width="1.3" />
<line x1="1228.78" y1="231.7" x2="1228.78" y2="236.5" stroke="#1e1e1e" stroke-width="1.3" />
<line x1="1251.91" y1="231.7" x2="1251.91" y2="236.5" stroke="#1e1e1e" stroke-width="1.3" />
<line x1="1275.05" y1="231.7" x2="1275.05" y2="236.5" stroke="#1e1e1e" stroke-width="1.3" />
<line x1="835.5" y1="229.8" x2="835.5" y2="238.5" stroke="#1e1e1e" stroke-width="1.3" />
<line x1="951.17" y1="229.8" x2="951.17" y2="238.5" stroke="#1e1e1e" stroke-width="1.3" />
<line x1="1066.84" y1="229.8" x2="1066.84" y2="238.5" stroke="#1e1e1e" stroke-width="1.3" />
<line x1="1182.51" y1="229.8" x2="1182.51" y2="238.5" stroke="#1e1e1e" stroke-width="1.3" />
<path d="M67.4 354.6 V613.4 H616.5 V354.6 H67.4" fill="none" stroke="#1e1e1e" stroke-width="1.3"/>
<line x1="64.9" y1="606.9" x2="69.9" y2="606.9" stroke="#1e1e1e" stroke-width="1.3" />
<line x1="614.2" y1="606.9" x2="616.5" y2="606.9" stroke="#1e1e1e" stroke-width="1.3" />
<line x1="64.9" y1="595.13" x2="69.9" y2="595.13" stroke="#1e1e1e" stroke-width="1.3" />
<line x1="614.2" y1="595.13" x2="616.5" y2="595.13" stroke="#1e1e1e" stroke-width="1.3" />
<line x1="64.9" y1="583.36" x2="69.9" y2="583.36" stroke="#1e1e1e" stroke-width="1.3" />
<line x1="614.2" y1="583.36" x2="616.5" y2="583.36" stroke="#1e1e1e" stroke-width="1.3" />
<line x1="64.9" y1="571.59" x2="69.9" y2="571.59" stroke="#1e1e1e" stroke-width="1.3" />
<line x1="614.2" y1="571.59" x2="616.5" y2="571.59" stroke="#1e1e1e" stroke-width="1.3" />
<line x1="64.9" y1="559.82" x2="69.9" y2="559.82" stroke="#1e1e1e" stroke-width="1.3" />
<line x1="614.2" y1="559.82" x2="616.5" y2="559.82" stroke="#1e1e1e" stroke-width="1.3" />
<line x1="64.9" y1="548.05" x2="69.9" y2="548.05" stroke="#1e1e1e" stroke-width="1.3" />
<line x1="614.2" y1="548.05" x2="616.5" y2="548.05" stroke="#1e1e1e" stroke-width="1.3" />
<line x1="64.9" y1="536.28" x2="69.9" y2="536.28" stroke="#1e1e1e" stroke-width="1.3" />
<line x1="614.2" y1="536.28" x2="616.5" y2="536.28" stroke="#1e1e1e" stroke-width="1.3" />
<line x1="64.9" y1="524.51" x2="69.9" y2="524.51" stroke="#1e1e1e" stroke-width="1.3" />
<line x1="614.2" y1="524.51" x2="616.5" y2="524.51" stroke="#1e1e1e" stroke-width="1.3" />
<line x1="64.9" y1="512.74" x2="69.9" y2="512.74" stroke="#1e1e1e" stroke-width="1.3" />
<line x1="614.2" y1="512.74" x2="616.5" y2="512.74" stroke="#1e1e1e" stroke-width="1.3" />
<line x1="64.9" y1="500.97" x2="69.9" y2="500.97" stroke="#1e1e1e" stroke-width="1.3" />
<line x1="614.2" y1="500.97" x2="616.5" y2="500.97" stroke="#1e1e1e" stroke-width="1.3" />
<line x1="64.9" y1="489.2" x2="69.9" y2="489.2" stroke="#1e1e1e" stroke-width="1.3" />
<line x1="614.2" y1="489.2" x2="616.5" y2="489.2" stroke="#1e1e1e" stroke-width="1.3" />
<line x1="64.9" y1="477.43" x2="69.9" y2="477.43" stroke="#1e1e1e" stroke-width="1.3" />
<line x1="614.2" y1="477.43" x2="616.5" y2="477.43" stroke="#1e1e1e" stroke-width="1.3" />
<line x1="64.9" y1="465.66" x2="69.9" y2="465.66" stroke="#1e1e1e" stroke-width="1.3" />
<line x1="614.2" y1="465.66" x2="616.5" y2="465.66" stroke="#1e1e1e" stroke-width="1.3" />
<line x1="64.9" y1="453.89" x2="69.9" y2="453.89" stroke="#1e1e1e" stroke-width="1.3" />
<line x1="614.2" y1="453.89" x2="616.5" y2="453.89" stroke="#1e1e1e" stroke-width="1.3" />
<line x1="64.9" y1="442.12" x2="69.9" y2="442.12" stroke="#1e1e1e" stroke-width="1.3" />
<line x1="614.2" y1="442.12" x2="616.5" y2="442.12" stroke="#1e1e1e" stroke-width="1.3" />
<line x1="64.9" y1="430.35" x2="69.9" y2="430.35" stroke="#1e1e1e" stroke-width="1.3" />
<line x1="614.2" y1="430.35" x2="616.5" y2="430.35" stroke="#1e1e1e" stroke-width="1.3" />
<line x1="64.9" y1="418.58" x2="69.9" y2="418.58" stroke="#1e1e1e" stroke-width="1.3" />
<line x1="614.2" y1="418.58" x2="616.5" y2="418.58" stroke="#1e1e1e" stroke-width="1.3" />
<line x1="64.9" y1="406.81" x2="69.9" y2="406.81" stroke="#1e1e1e" stroke-width="1.3" />
<line x1="614.2" y1="406.81" x2="616.5" y2="406.81" stroke="#1e1e1e" stroke-width="1.3" />
<line x1="64.9" y1="395.04" x2="69.9" y2="395.04" stroke="#1e1e1e" stroke-width="1.3" />
<line x1="614.2" y1="395.04" x2="616.5" y2="395.04" stroke="#1e1e1e" stroke-width="1.3" />
<line x1="64.9" y1="383.27" x2="69.9" y2="383.27" stroke="#1e1e1e" stroke-width="1.3" />
<line x1="614.2" y1="383.27" x2="616.5" y2="383.27" stroke="#1e1e1e" stroke-width="1.3" />
<line x1="64.9" y1="371.5" x2="69.9" y2="371.5" stroke="#1e1e1e" stroke-width="1.3" />
<line x1="614.2" y1="371.5" x2="616.5" y2="371.5" stroke="#1e1e1e" stroke-width="1.3" />
<line x1="64.9" y1="359.73" x2="69.9" y2="359.73" stroke="#1e1e1e" stroke-width="1.3" />
<line x1="614.2" y1="359.73" x2="616.5" y2="359.73" stroke="#1e1e1e" stroke-width="1.3" />
<line x1="62.9" y1="606.9" x2="71.9" y2="606.9" stroke="#1e1e1e" stroke-width="1.3" />
<line x1="612" y1="606.9" x2="616.5" y2="606.9" stroke="#1e1e1e" stroke-width="1.3" />
<line x1="62.9" y1="559.82" x2="71.9" y2="559.82" stroke="#1e1e1e" stroke-width="1.3" />
<line x1="612" y1="559.82" x2="616.5" y2="559.82" stroke="#1e1e1e" stroke-width="1.3" />
<line x1="62.9" y1="512.74" x2="71.9" y2="512.74" stroke="#1e1e1e" stroke-width="1.3" />
<line x1="612" y1="512.74" x2="616.5" y2="512.74" stroke="#1e1e1e" stroke-width="1.3" />
<line x1="62.9" y1="465.66" x2="71.9" y2="465.66" stroke="#1e1e1e" stroke-width="1.3" />
<line x1="612" y1="465.66" x2="616.5" y2="465.66" stroke="#1e1e1e" stroke-width="1.3" />
<line x1="62.9" y1="418.58" x2="71.9" y2="418.58" stroke="#1e1e1e" stroke-width="1.3" />
<line x1="612" y1="418.58" x2="616.5" y2="418.58" stroke="#1e1e1e" stroke-width="1.3" />
<line x1="62.9" y1="371.5" x2="71.9" y2="371.5" stroke="#1e1e1e" stroke-width="1.3" />
<line x1="612" y1="371.5" x2="616.5" y2="371.5" stroke="#1e1e1e" stroke-width="1.3" />
<line x1="71.48" y1="611.1" x2="71.48" y2="615.9" stroke="#1e1e1e" stroke-width="1.3" />
<line x1="71.48" y1="354.6" x2="71.48" y2="356.9" stroke="#1e1e1e" stroke-width="1.3" />
<line x1="81.99" y1="611.1" x2="81.99" y2="615.9" stroke="#1e1e1e" stroke-width="1.3" />
<line x1="81.99" y1="354.6" x2="81.99" y2="356.9" stroke="#1e1e1e" stroke-width="1.3" />
<line x1="92.5" y1="611.1" x2="92.5" y2="615.9" stroke="#1e1e1e" stroke-width="1.3" />
<line x1="92.5" y1="354.6" x2="92.5" y2="356.9" stroke="#1e1e1e" stroke-width="1.3" />
<line x1="103.01" y1="611.1" x2="103.01" y2="615.9" stroke="#1e1e1e" stroke-width="1.3" />
<line x1="103.01" y1="354.6" x2="103.01" y2="356.9" stroke="#1e1e1e" stroke-width="1.3" />
<line x1="113.52" y1="611.1" x2="113.52" y2="615.9" stroke="#1e1e1e" stroke-width="1.3" />
<line x1="113.52" y1="354.6" x2="113.52" y2="356.9" stroke="#1e1e1e" stroke-width="1.3" />
<line x1="124.02" y1="611.1" x2="124.02" y2="615.9" stroke="#1e1e1e" stroke-width="1.3" />
<line x1="124.02" y1="354.6" x2="124.02" y2="356.9" stroke="#1e1e1e" stroke-width="1.3" />
<line x1="134.53" y1="611.1" x2="134.53" y2="615.9" stroke="#1e1e1e" stroke-width="1.3" />
<line x1="134.53" y1="354.6" x2="134.53" y2="356.9" stroke="#1e1e1e" stroke-width="1.3" />
<line x1="145.04" y1="611.1" x2="145.04" y2="615.9" stroke="#1e1e1e" stroke-width="1.3" />
<line x1="145.04" y1="354.6" x2="145.04" y2="356.9" stroke="#1e1e1e" stroke-width="1.3" />
<line x1="155.55" y1="611.1" x2="155.55" y2="615.9" stroke="#1e1e1e" stroke-width="1.3" />
<line x1="155.55" y1="354.6" x2="155.55" y2="356.9" stroke="#1e1e1e" stroke-width="1.3" />
<line x1="166.06" y1="611.1" x2="166.06" y2="615.9" stroke="#1e1e1e" stroke-width="1.3" />
<line x1="166.06" y1="354.6" x2="166.06" y2="356.9" stroke="#1e1e1e" stroke-width="1.3" />
<line x1="176.56" y1="611.1" x2="176.56" y2="615.9" stroke="#1e1e1e" stroke-width="1.3" />
<line x1="176.56" y1="354.6" x2="176.56" y2="356.9" stroke="#1e1e1e" stroke-width="1.3" />
<line x1="187.07" y1="611.1" x2="187.07" y2="615.9" stroke="#1e1e1e" stroke-width="1.3" />
<line x1="187.07" y1="354.6" x2="187.07" y2="356.9" stroke="#1e1e1e" stroke-width="1.3" />
<line x1="197.58" y1="611.1" x2="197.58" y2="615.9" stroke="#1e1e1e" stroke-width="1.3" />
<line x1="197.58" y1="354.6" x2="197.58" y2="356.9" stroke="#1e1e1e" stroke-width="1.3" />
<line x1="208.09" y1="611.1" x2="208.09" y2="615.9" stroke="#1e1e1e" stroke-width="1.3" />
<line x1="208.09" y1="354.6" x2="208.09" y2="356.9" stroke="#1e1e1e" stroke-width="1.3" />
<line x1="218.6" y1="611.1" x2="218.6" y2="615.9" stroke="#1e1e1e" stroke-width="1.3" />
<line x1="218.6" y1="354.6" x2="218.6" y2="356.9" stroke="#1e1e1e" stroke-width="1.3" />
<line x1="229.1" y1="611.1" x2="229.1" y2="615.9" stroke="#1e1e1e" stroke-width="1.3" />
<line x1="229.1" y1="354.6" x2="229.1" y2="356.9" stroke="#1e1e1e" stroke-width="1.3" />
<line x1="239.61" y1="611.1" x2="239.61" y2="615.9" stroke="#1e1e1e" stroke-width="1.3" />
<line x1="239.61" y1="354.6" x2="239.61" y2="356.9" stroke="#1e1e1e" stroke-width="1.3" />
<line x1="250.12" y1="611.1" x2="250.12" y2="615.9" stroke="#1e1e1e" stroke-width="1.3" />
<line x1="250.12" y1="354.6" x2="250.12" y2="356.9" stroke="#1e1e1e" stroke-width="1.3" />
<line x1="260.63" y1="611.1" x2="260.63" y2="615.9" stroke="#1e1e1e" stroke-width="1.3" />
<line x1="260.63" y1="354.6" x2="260.63" y2="356.9" stroke="#1e1e1e" stroke-width="1.3" />
<line x1="271.14" y1="611.1" x2="271.14" y2="615.9" stroke="#1e1e1e" stroke-width="1.3" />
<line x1="271.14" y1="354.6" x2="271.14" y2="356.9" stroke="#1e1e1e" stroke-width="1.3" />
<line x1="281.64" y1="611.1" x2="281.64" y2="615.9" stroke="#1e1e1e" stroke-width="1.3" />
<line x1="281.64" y1="354.6" x2="281.64" y2="356.9" stroke="#1e1e1e" stroke-width="1.3" />
<line x1="292.15" y1="611.1" x2="292.15" y2="615.9" stroke="#1e1e1e" stroke-width="1.3" />
<line x1="292.15" y1="354.6" x2="292.15" y2="356.9" stroke="#1e1e1e" stroke-width="1.3" />
<line x1="302.66" y1="611.1" x2="302.66" y2="615.9" stroke="#1e1e1e" stroke-width="1.3" />
<line x1="302.66" y1="354.6" x2="302.66" y2="356.9" stroke="#1e1e1e" stroke-width="1.3" />
<line x1="313.17" y1="611.1" x2="313.17" y2="615.9" stroke="#1e1e1e" stroke-width="1.3" />
<line x1="313.17" y1="354.6" x2="313.17" y2="356.9" stroke="#1e1e1e" stroke-width="1.3" />
<line x1="323.68" y1="611.1" x2="323.68" y2="615.9" stroke="#1e1e1e" stroke-width="1.3" />
<line x1="323.68" y1="354.6" x2="323.68" y2="356.9" stroke="#1e1e1e" stroke-width="1.3" />
<line x1="334.18" y1="611.1" x2="334.18" y2="615.9" stroke="#1e1e1e" stroke-width="1.3" />
<line x1="334.18" y1="354.6" x2="334.18" y2="356.9" stroke="#1e1e1e" stroke-width="1.3" />
<line x1="344.69" y1="611.1" x2="344.69" y2="615.9" stroke="#1e1e1e" stroke-width="1.3" />
<line x1="344.69" y1="354.6" x2="344.69" y2="356.9" stroke="#1e1e1e" stroke-width="1.3" />
<line x1="355.2" y1="611.1" x2="355.2" y2="615.9" stroke="#1e1e1e" stroke-width="1.3" />
<line x1="355.2" y1="354.6" x2="355.2" y2="356.9" stroke="#1e1e1e" stroke-width="1.3" />
<line x1="365.71" y1="611.1" x2="365.71" y2="615.9" stroke="#1e1e1e" stroke-width="1.3" />
<line x1="365.71" y1="354.6" x2="365.71" y2="356.9" stroke="#1e1e1e" stroke-width="1.3" />
<line x1="376.22" y1="611.1" x2="376.22" y2="615.9" stroke="#1e1e1e" stroke-width="1.3" />
<line x1="376.22" y1="354.6" x2="376.22" y2="356.9" stroke="#1e1e1e" stroke-width="1.3" />
<line x1="386.72" y1="611.1" x2="386.72" y2="615.9" stroke="#1e1e1e" stroke-width="1.3" />
<line x1="386.72" y1="354.6" x2="386.72" y2="356.9" stroke="#1e1e1e" stroke-width="1.3" />
<line x1="397.23" y1="611.1" x2="397.23" y2="615.9" stroke="#1e1e1e" stroke-width="1.3" />
<line x1="397.23" y1="354.6" x2="397.23" y2="356.9" stroke="#1e1e1e" stroke-width="1.3" />
<line x1="407.74" y1="611.1" x2="407.74" y2="615.9" stroke="#1e1e1e" stroke-width="1.3" />
<line x1="407.74" y1="354.6" x2="407.74" y2="356.9" stroke="#1e1e1e" stroke-width="1.3" />
<line x1="418.25" y1="611.1" x2="418.25" y2="615.9" stroke="#1e1e1e" stroke-width="1.3" />
<line x1="418.25" y1="354.6" x2="418.25" y2="356.9" stroke="#1e1e1e" stroke-width="1.3" />
<line x1="428.76" y1="611.1" x2="428.76" y2="615.9" stroke="#1e1e1e" stroke-width="1.3" />
<line x1="428.76" y1="354.6" x2="428.76" y2="356.9" stroke="#1e1e1e" stroke-width="1.3" />
<line x1="439.26" y1="611.1" x2="439.26" y2="615.9" stroke="#1e1e1e" stroke-width="1.3" />
<line x1="439.26" y1="354.6" x2="439.26" y2="356.9" stroke="#1e1e1e" stroke-width="1.3" />
<line x1="449.77" y1="611.1" x2="449.77" y2="615.9" stroke="#1e1e1e" stroke-width="1.3" />
<line x1="449.77" y1="354.6" x2="449.77" y2="356.9" stroke="#1e1e1e" stroke-width="1.3" />
<line x1="460.28" y1="611.1" x2="460.28" y2="615.9" stroke="#1e1e1e" stroke-width="1.3" />
<line x1="460.28" y1="354.6" x2="460.28" y2="356.9" stroke="#1e1e1e" stroke-width="1.3" />
<line x1="470.79" y1="611.1" x2="470.79" y2="615.9" stroke="#1e1e1e" stroke-width="1.3" />
<line x1="470.79" y1="354.6" x2="470.79" y2="356.9" stroke="#1e1e1e" stroke-width="1.3" />
<line x1="481.3" y1="611.1" x2="481.3" y2="615.9" stroke="#1e1e1e" stroke-width="1.3" />
<line x1="481.3" y1="354.6" x2="481.3" y2="356.9" stroke="#1e1e1e" stroke-width="1.3" />
<line x1="491.8" y1="611.1" x2="491.8" y2="615.9" stroke="#1e1e1e" stroke-width="1.3" />
<line x1="491.8" y1="354.6" x2="491.8" y2="356.9" stroke="#1e1e1e" stroke-width="1.3" />
<line x1="502.31" y1="611.1" x2="502.31" y2="615.9" stroke="#1e1e1e" stroke-width="1.3" />
<line x1="502.31" y1="354.6" x2="502.31" y2="356.9" stroke="#1e1e1e" stroke-width="1.3" />
<line x1="512.82" y1="611.1" x2="512.82" y2="615.9" stroke="#1e1e1e" stroke-width="1.3" />
<line x1="512.82" y1="354.6" x2="512.82" y2="356.9" stroke="#1e1e1e" stroke-width="1.3" />
<line x1="523.33" y1="611.1" x2="523.33" y2="615.9" stroke="#1e1e1e" stroke-width="1.3" />
<line x1="523.33" y1="354.6" x2="523.33" y2="356.9" stroke="#1e1e1e" stroke-width="1.3" />
<line x1="533.84" y1="611.1" x2="533.84" y2="615.9" stroke="#1e1e1e" stroke-width="1.3" />
<line x1="533.84" y1="354.6" x2="533.84" y2="356.9" stroke="#1e1e1e" stroke-width="1.3" />
<line x1="544.34" y1="611.1" x2="544.34" y2="615.9" stroke="#1e1e1e" stroke-width="1.3" />
<line x1="544.34" y1="354.6" x2="544.34" y2="356.9" stroke="#1e1e1e" stroke-width="1.3" />
<line x1="554.85" y1="611.1" x2="554.85" y2="615.9" stroke="#1e1e1e" stroke-width="1.3" />
<line x1="554.85" y1="354.6" x2="554.85" y2="356.9" stroke="#1e1e1e" stroke-width="1.3" />
<line x1="565.36" y1="611.1" x2="565.36" y2="615.9" stroke="#1e1e1e" stroke-width="1.3" />
<line x1="565.36" y1="354.6" x2="565.36" y2="356.9" stroke="#1e1e1e" stroke-width="1.3" />
<line x1="575.87" y1="611.1" x2="575.87" y2="615.9" stroke="#1e1e1e" stroke-width="1.3" />
<line x1="575.87" y1="354.6" x2="575.87" y2="356.9" stroke="#1e1e1e" stroke-width="1.3" />
<line x1="586.38" y1="611.1" x2="586.38" y2="615.9" stroke="#1e1e1e" stroke-width="1.3" />
<line x1="586.38" y1="354.6" x2="586.38" y2="356.9" stroke="#1e1e1e" stroke-width="1.3" />
<line x1="596.88" y1="611.1" x2="596.88" y2="615.9" stroke="#1e1e1e" stroke-width="1.3" />
<line x1="596.88" y1="354.6" x2="596.88" y2="356.9" stroke="#1e1e1e" stroke-width="1.3" />
<line x1="607.39" y1="611.1" x2="607.39" y2="615.9" stroke="#1e1e1e" stroke-width="1.3" />
<line x1="607.39" y1="354.6" x2="607.39" y2="356.9" stroke="#1e1e1e" stroke-width="1.3" />
<line x1="92.5" y1="609.2" x2="92.5" y2="617.9" stroke="#1e1e1e" stroke-width="1.3" />
<line x1="92.5" y1="354.6" x2="92.5" y2="359.1" stroke="#1e1e1e" stroke-width="1.3" />
<line x1="145.04" y1="609.2" x2="145.04" y2="617.9" stroke="#1e1e1e" stroke-width="1.3" />
<line x1="145.04" y1="354.6" x2="145.04" y2="359.1" stroke="#1e1e1e" stroke-width="1.3" />
<line x1="197.58" y1="609.2" x2="197.58" y2="617.9" stroke="#1e1e1e" stroke-width="1.3" />
<line x1="197.58" y1="354.6" x2="197.58" y2="359.1" stroke="#1e1e1e" stroke-width="1.3" />
<line x1="250.12" y1="609.2" x2="250.12" y2="617.9" stroke="#1e1e1e" stroke-width="1.3" />
<line x1="250.12" y1="354.6" x2="250.12" y2="359.1" stroke="#1e1e1e" stroke-width="1.3" />
<line x1="302.66" y1="609.2" x2="302.66" y2="617.9" stroke="#1e1e1e" stroke-width="1.3" />
<line x1="302.66" y1="354.6" x2="302.66" y2="359.1" stroke="#1e1e1e" stroke-width="1.3" />
<line x1="355.2" y1="609.2" x2="355.2" y2="617.9" stroke="#1e1e1e" stroke-width="1.3" />
<line x1="355.2" y1="354.6" x2="355.2" y2="359.1" stroke="#1e1e1e" stroke-width="1.3" />
<line x1="407.74" y1="609.2" x2="407.74" y2="617.9" stroke="#1e1e1e" stroke-width="1.3" />
<line x1="407.74" y1="354.6" x2="407.74" y2="359.1" stroke="#1e1e1e" stroke-width="1.3" />
<line x1="460.28" y1="609.2" x2="460.28" y2="617.9" stroke="#1e1e1e" stroke-width="1.3" />
<line x1="460.28" y1="354.6" x2="460.28" y2="359.1" stroke="#1e1e1e" stroke-width="1.3" />
<line x1="512.82" y1="609.2" x2="512.82" y2="617.9" stroke="#1e1e1e" stroke-width="1.3" />
<line x1="512.82" y1="354.6" x2="512.82" y2="359.1" stroke="#1e1e1e" stroke-width="1.3" />
<line x1="565.36" y1="609.2" x2="565.36" y2="617.9" stroke="#1e1e1e" stroke-width="1.3" />
<line x1="565.36" y1="354.6" x2="565.36" y2="359.1" stroke="#1e1e1e" stroke-width="1.3" />
<path d="M741.2 354.6 V613.4 H1276.6 V354.6 H741.2" fill="none" stroke="#1e1e1e" stroke-width="1.3"/>
<line x1="738.7" y1="607.59" x2="743.7" y2="607.59" stroke="#1e1e1e" stroke-width="1.3" />
<line x1="1274.3" y1="607.59" x2="1276.6" y2="607.59" stroke="#1e1e1e" stroke-width="1.3" />
<line x1="738.7" y1="596.18" x2="743.7" y2="596.18" stroke="#1e1e1e" stroke-width="1.3" />
<line x1="1274.3" y1="596.18" x2="1276.6" y2="596.18" stroke="#1e1e1e" stroke-width="1.3" />
<line x1="738.7" y1="584.77" x2="743.7" y2="584.77" stroke="#1e1e1e" stroke-width="1.3" />
<line x1="1274.3" y1="584.77" x2="1276.6" y2="584.77" stroke="#1e1e1e" stroke-width="1.3" />
<line x1="738.7" y1="573.36" x2="743.7" y2="573.36" stroke="#1e1e1e" stroke-width="1.3" />
<line x1="1274.3" y1="573.36" x2="1276.6" y2="573.36" stroke="#1e1e1e" stroke-width="1.3" />
<line x1="738.7" y1="561.95" x2="743.7" y2="561.95" stroke="#1e1e1e" stroke-width="1.3" />
<line x1="1274.3" y1="561.95" x2="1276.6" y2="561.95" stroke="#1e1e1e" stroke-width="1.3" />
<line x1="738.7" y1="550.54" x2="743.7" y2="550.54" stroke="#1e1e1e" stroke-width="1.3" />
<line x1="1274.3" y1="550.54" x2="1276.6" y2="550.54" stroke="#1e1e1e" stroke-width="1.3" />
<line x1="738.7" y1="539.13" x2="743.7" y2="539.13" stroke="#1e1e1e" stroke-width="1.3" />
<line x1="1274.3" y1="539.13" x2="1276.6" y2="539.13" stroke="#1e1e1e" stroke-width="1.3" />
<line x1="738.7" y1="527.72" x2="743.7" y2="527.72" stroke="#1e1e1e" stroke-width="1.3" />
<line x1="1274.3" y1="527.72" x2="1276.6" y2="527.72" stroke="#1e1e1e" stroke-width="1.3" />
<line x1="738.7" y1="516.31" x2="743.7" y2="516.31" stroke="#1e1e1e" stroke-width="1.3" />
<line x1="1274.3" y1="516.31" x2="1276.6" y2="516.31" stroke="#1e1e1e" stroke-width="1.3" />
<line x1="738.7" y1="504.9" x2="743.7" y2="504.9" stroke="#1e1e1e" stroke-width="1.3" />
<line x1="1274.3" y1="504.9" x2="1276.6" y2="504.9" stroke="#1e1e1e" stroke-width="1.3" />
<line x1="738.7" y1="493.49" x2="743.7" y2="493.49" stroke="#1e1e1e" stroke-width="1.3" />
<line x1="1274.3" y1="493.49" x2="1276.6" y2="493.49" stroke="#1e1e1e" stroke-width="1.3" />
<line x1="738.7" y1="482.08" x2="743.7" y2="482.08" stroke="#1e1e1e" stroke-width="1.3" />
<line x1="1274.3" y1="482.08" x2="1276.6" y2="482.08" stroke="#1e1e1e" stroke-width="1.3" />
<line x1="738.7" y1="470.67" x2="743.7" y2="470.67" stroke="#1e1e1e" stroke-width="1.3" />
<line x1="1274.3" y1="470.67" x2="1276.6" y2="470.67" stroke="#1e1e1e" stroke-width="1.3" />
<line x1="738.7" y1="459.26" x2="743.7" y2="459.26" stroke="#1e1e1e" stroke-width="1.3" />
<line x1="1274.3" y1="459.26" x2="1276.6" y2="459.26" stroke="#1e1e1e" stroke-width="1.3" />
<line x1="738.7" y1="447.85" x2="743.7" y2="447.85" stroke="#1e1e1e" stroke-width="1.3" />
<line x1="1274.3" y1="447.85" x2="1276.6" y2="447.85" stroke="#1e1e1e" stroke-width="1.3" />
<line x1="738.7" y1="436.44" x2="743.7" y2="436.44" stroke="#1e1e1e" stroke-width="1.3" />
<line x1="1274.3" y1="436.44" x2="1276.6" y2="436.44" stroke="#1e1e1e" stroke-width="1.3" />
<line x1="738.7" y1="425.03" x2="743.7" y2="425.03" stroke="#1e1e1e" stroke-width="1.3" />
<line x1="1274.3" y1="425.03" x2="1276.6" y2="425.03" stroke="#1e1e1e" stroke-width="1.3" />
<line x1="738.7" y1="413.62" x2="743.7" y2="413.62" stroke="#1e1e1e" stroke-width="1.3" />
<line x1="1274.3" y1="413.62" x2="1276.6" y2="413.62" stroke="#1e1e1e" stroke-width="1.3" />
<line x1="738.7" y1="402.21" x2="743.7" y2="402.21" stroke="#1e1e1e" stroke-width="1.3" />
<line x1="1274.3" y1="402.21" x2="1276.6" y2="402.21" stroke="#1e1e1e" stroke-width="1.3" />
<line x1="738.7" y1="390.8" x2="743.7" y2="390.8" stroke="#1e1e1e" stroke-width="1.3" />
<line x1="1274.3" y1="390.8" x2="1276.6" y2="390.8" stroke="#1e1e1e" stroke-width="1.3" />
<line x1="738.7" y1="379.39" x2="743.7" y2="379.39" stroke="#1e1e1e" stroke-width="1.3" />
<line x1="1274.3" y1="379.39" x2="1276.6" y2="379.39" stroke="#1e1e1e" stroke-width="1.3" />
<line x1="738.7" y1="367.98" x2="743.7" y2="367.98" stroke="#1e1e1e" stroke-width="1.3" />
<line x1="1274.3" y1="367.98" x2="1276.6" y2="367.98" stroke="#1e1e1e" stroke-width="1.3" />
<line x1="738.7" y1="356.57" x2="743.7" y2="356.57" stroke="#1e1e1e" stroke-width="1.3" />
<line x1="1274.3" y1="356.57" x2="1276.6" y2="356.57" stroke="#1e1e1e" stroke-width="1.3" />
<line x1="736.7" y1="561.95" x2="745.7" y2="561.95" stroke="#1e1e1e" stroke-width="1.3" />
<line x1="1272.1" y1="561.95" x2="1276.6" y2="561.95" stroke="#1e1e1e" stroke-width="1.3" />
<line x1="736.7" y1="504.9" x2="745.7" y2="504.9" stroke="#1e1e1e" stroke-width="1.3" />
<line x1="1272.1" y1="504.9" x2="1276.6" y2="504.9" stroke="#1e1e1e" stroke-width="1.3" />
<line x1="736.7" y1="447.85" x2="745.7" y2="447.85" stroke="#1e1e1e" stroke-width="1.3" />
<line x1="1272.1" y1="447.85" x2="1276.6" y2="447.85" stroke="#1e1e1e" stroke-width="1.3" />
<line x1="736.7" y1="390.8" x2="745.7" y2="390.8" stroke="#1e1e1e" stroke-width="1.3" />
<line x1="1272.1" y1="390.8" x2="1276.6" y2="390.8" stroke="#1e1e1e" stroke-width="1.3" />
<line x1="748.36" y1="611.1" x2="748.36" y2="615.9" stroke="#1e1e1e" stroke-width="1.3" />
<line x1="748.36" y1="354.6" x2="748.36" y2="356.9" stroke="#1e1e1e" stroke-width="1.3" />
<line x1="759.82" y1="611.1" x2="759.82" y2="615.9" stroke="#1e1e1e" stroke-width="1.3" />
<line x1="759.82" y1="354.6" x2="759.82" y2="356.9" stroke="#1e1e1e" stroke-width="1.3" />
<line x1="771.28" y1="611.1" x2="771.28" y2="615.9" stroke="#1e1e1e" stroke-width="1.3" />
<line x1="771.28" y1="354.6" x2="771.28" y2="356.9" stroke="#1e1e1e" stroke-width="1.3" />
<line x1="782.74" y1="611.1" x2="782.74" y2="615.9" stroke="#1e1e1e" stroke-width="1.3" />
<line x1="782.74" y1="354.6" x2="782.74" y2="356.9" stroke="#1e1e1e" stroke-width="1.3" />
<line x1="794.2" y1="611.1" x2="794.2" y2="615.9" stroke="#1e1e1e" stroke-width="1.3" />
<line x1="794.2" y1="354.6" x2="794.2" y2="356.9" stroke="#1e1e1e" stroke-width="1.3" />
<line x1="805.66" y1="611.1" x2="805.66" y2="615.9" stroke="#1e1e1e" stroke-width="1.3" />
<line x1="805.66" y1="354.6" x2="805.66" y2="356.9" stroke="#1e1e1e" stroke-width="1.3" />
<line x1="817.12" y1="611.1" x2="817.12" y2="615.9" stroke="#1e1e1e" stroke-width="1.3" />
<line x1="817.12" y1="354.6" x2="817.12" y2="356.9" stroke="#1e1e1e" stroke-width="1.3" />
<line x1="828.58" y1="611.1" x2="828.58" y2="615.9" stroke="#1e1e1e" stroke-width="1.3" />
<line x1="828.58" y1="354.6" x2="828.58" y2="356.9" stroke="#1e1e1e" stroke-width="1.3" />
<line x1="840.04" y1="611.1" x2="840.04" y2="615.9" stroke="#1e1e1e" stroke-width="1.3" />
<line x1="840.04" y1="354.6" x2="840.04" y2="356.9" stroke="#1e1e1e" stroke-width="1.3" />
<line x1="851.5" y1="611.1" x2="851.5" y2="615.9" stroke="#1e1e1e" stroke-width="1.3" />
<line x1="851.5" y1="354.6" x2="851.5" y2="356.9" stroke="#1e1e1e" stroke-width="1.3" />
<line x1="862.96" y1="611.1" x2="862.96" y2="615.9" stroke="#1e1e1e" stroke-width="1.3" />
<line x1="862.96" y1="354.6" x2="862.96" y2="356.9" stroke="#1e1e1e" stroke-width="1.3" />
<line x1="874.42" y1="611.1" x2="874.42" y2="615.9" stroke="#1e1e1e" stroke-width="1.3" />
<line x1="874.42" y1="354.6" x2="874.42" y2="356.9" stroke="#1e1e1e" stroke-width="1.3" />
<line x1="885.88" y1="611.1" x2="885.88" y2="615.9" stroke="#1e1e1e" stroke-width="1.3" />
<line x1="885.88" y1="354.6" x2="885.88" y2="356.9" stroke="#1e1e1e" stroke-width="1.3" />
<line x1="897.34" y1="611.1" x2="897.34" y2="615.9" stroke="#1e1e1e" stroke-width="1.3" />
<line x1="897.34" y1="354.6" x2="897.34" y2="356.9" stroke="#1e1e1e" stroke-width="1.3" />
<line x1="908.8" y1="611.1" x2="908.8" y2="615.9" stroke="#1e1e1e" stroke-width="1.3" />
<line x1="908.8" y1="354.6" x2="908.8" y2="356.9" stroke="#1e1e1e" stroke-width="1.3" />
<line x1="920.26" y1="611.1" x2="920.26" y2="615.9" stroke="#1e1e1e" stroke-width="1.3" />
<line x1="920.26" y1="354.6" x2="920.26" y2="356.9" stroke="#1e1e1e" stroke-width="1.3" />
<line x1="931.72" y1="611.1" x2="931.72" y2="615.9" stroke="#1e1e1e" stroke-width="1.3" />
<line x1="931.72" y1="354.6" x2="931.72" y2="356.9" stroke="#1e1e1e" stroke-width="1.3" />
<line x1="943.18" y1="611.1" x2="943.18" y2="615.9" stroke="#1e1e1e" stroke-width="1.3" />
<line x1="943.18" y1="354.6" x2="943.18" y2="356.9" stroke="#1e1e1e" stroke-width="1.3" />
<line x1="954.64" y1="611.1" x2="954.64" y2="615.9" stroke="#1e1e1e" stroke-width="1.3" />
<line x1="954.64" y1="354.6" x2="954.64" y2="356.9" stroke="#1e1e1e" stroke-width="1.3" />
<line x1="966.1" y1="611.1" x2="966.1" y2="615.9" stroke="#1e1e1e" stroke-width="1.3" />
<line x1="966.1" y1="354.6" x2="966.1" y2="356.9" stroke="#1e1e1e" stroke-width="1.3" />
<line x1="977.56" y1="611.1" x2="977.56" y2="615.9" stroke="#1e1e1e" stroke-width="1.3" />
<line x1="977.56" y1="354.6" x2="977.56" y2="356.9" stroke="#1e1e1e" stroke-width="1.3" />
<line x1="989.02" y1="611.1" x2="989.02" y2="615.9" stroke="#1e1e1e" stroke-width="1.3" />
<line x1="989.02" y1="354.6" x2="989.02" y2="356.9" stroke="#1e1e1e" stroke-width="1.3" />
<line x1="1000.48" y1="611.1" x2="1000.48" y2="615.9" stroke="#1e1e1e" stroke-width="1.3" />
<line x1="1000.48" y1="354.6" x2="1000.48" y2="356.9" stroke="#1e1e1e" stroke-width="1.3" />
<line x1="1011.94" y1="611.1" x2="1011.94" y2="615.9" stroke="#1e1e1e" stroke-width="1.3" />
<line x1="1011.94" y1="354.6" x2="1011.94" y2="356.9" stroke="#1e1e1e" stroke-width="1.3" />
<line x1="1023.4" y1="611.1" x2="1023.4" y2="615.9" stroke="#1e1e1e" stroke-width="1.3" />
<line x1="1023.4" y1="354.6" x2="1023.4" y2="356.9" stroke="#1e1e1e" stroke-width="1.3" />
<line x1="1034.86" y1="611.1" x2="1034.86" y2="615.9" stroke="#1e1e1e" stroke-width="1.3" />
<line x1="1034.86" y1="354.6" x2="1034.86" y2="356.9" stroke="#1e1e1e" stroke-width="1.3" />
<line x1="1046.32" y1="611.1" x2="1046.32" y2="615.9" stroke="#1e1e1e" stroke-width="1.3" />
<line x1="1046.32" y1="354.6" x2="1046.32" y2="356.9" stroke="#1e1e1e" stroke-width="1.3" />
<line x1="1057.78" y1="611.1" x2="1057.78" y2="615.9" stroke="#1e1e1e" stroke-width="1.3" />
<line x1="1057.78" y1="354.6" x2="1057.78" y2="356.9" stroke="#1e1e1e" stroke-width="1.3" />
<line x1="1069.24" y1="611.1" x2="1069.24" y2="615.9" stroke="#1e1e1e" stroke-width="1.3" />
<line x1="1069.24" y1="354.6" x2="1069.24" y2="356.9" stroke="#1e1e1e" stroke-width="1.3" />
<line x1="1080.7" y1="611.1" x2="1080.7" y2="615.9" stroke="#1e1e1e" stroke-width="1.3" />
<line x1="1080.7" y1="354.6" x2="1080.7" y2="356.9" stroke="#1e1e1e" stroke-width="1.3" />
<line x1="1092.16" y1="611.1" x2="1092.16" y2="615.9" stroke="#1e1e1e" stroke-width="1.3" />
<line x1="1092.16" y1="354.6" x2="1092.16" y2="356.9" stroke="#1e1e1e" stroke-width="1.3" />
<line x1="1103.62" y1="611.1" x2="1103.62" y2="615.9" stroke="#1e1e1e" stroke-width="1.3" />
<line x1="1103.62" y1="354.6" x2="1103.62" y2="356.9" stroke="#1e1e1e" stroke-width="1.3" />
<line x1="1115.08" y1="611.1" x2="1115.08" y2="615.9" stroke="#1e1e1e" stroke-width="1.3" />
<line x1="1115.08" y1="354.6" x2="1115.08" y2="356.9" stroke="#1e1e1e" stroke-width="1.3" />
<line x1="1126.54" y1="611.1" x2="1126.54" y2="615.9" stroke="#1e1e1e" stroke-width="1.3" />
<line x1="1126.54" y1="354.6" x2="1126.54" y2="356.9" stroke="#1e1e1e" stroke-width="1.3" />
<line x1="1138" y1="611.1" x2="1138" y2="615.9" stroke="#1e1e1e" stroke-width="1.3" />
<line x1="1138" y1="354.6" x2="1138" y2="356.9" stroke="#1e1e1e" stroke-width="1.3" />
<line x1="1149.46" y1="611.1" x2="1149.46" y2="615.9" stroke="#1e1e1e" stroke-width="1.3" />
<line x1="1149.46" y1="354.6" x2="1149.46" y2="356.9" stroke="#1e1e1e" stroke-width="1.3" />
<line x1="1160.92" y1="611.1" x2="1160.92" y2="615.9" stroke="#1e1e1e" stroke-width="1.3" />
<line x1="1160.92" y1="354.6" x2="1160.92" y2="356.9" stroke="#1e1e1e" stroke-width="1.3" />
<line x1="1172.38" y1="611.1" x2="1172.38" y2="615.9" stroke="#1e1e1e" stroke-width="1.3" />
<line x1="1172.38" y1="354.6" x2="1172.38" y2="356.9" stroke="#1e1e1e" stroke-width="1.3" />
<line x1="1183.84" y1="611.1" x2="1183.84" y2="615.9" stroke="#1e1e1e" stroke-width="1.3" />
<line x1="1183.84" y1="354.6" x2="1183.84" y2="356.9" stroke="#1e1e1e" stroke-width="1.3" />
<line x1="1195.3" y1="611.1" x2="1195.3" y2="615.9" stroke="#1e1e1e" stroke-width="1.3" />
<line x1="1195.3" y1="354.6" x2="1195.3" y2="356.9" stroke="#1e1e1e" stroke-width="1.3" />
<line x1="1206.76" y1="611.1" x2="1206.76" y2="615.9" stroke="#1e1e1e" stroke-width="1.3" />
<line x1="1206.76" y1="354.6" x2="1206.76" y2="356.9" stroke="#1e1e1e" stroke-width="1.3" />
<line x1="1218.22" y1="611.1" x2="1218.22" y2="615.9" stroke="#1e1e1e" stroke-width="1.3" />
<line x1="1218.22" y1="354.6" x2="1218.22" y2="356.9" stroke="#1e1e1e" stroke-width="1.3" />
<line x1="1229.68" y1="611.1" x2="1229.68" y2="615.9" stroke="#1e1e1e" stroke-width="1.3" />
<line x1="1229.68" y1="354.6" x2="1229.68" y2="356.9" stroke="#1e1e1e" stroke-width="1.3" />
<line x1="1241.14" y1="611.1" x2="1241.14" y2="615.9" stroke="#1e1e1e" stroke-width="1.3" />
<line x1="1241.14" y1="354.6" x2="1241.14" y2="356.9" stroke="#1e1e1e" stroke-width="1.3" />
<line x1="1252.6" y1="611.1" x2="1252.6" y2="615.9" stroke="#1e1e1e" stroke-width="1.3" />
<line x1="1252.6" y1="354.6" x2="1252.6" y2="356.9" stroke="#1e1e1e" stroke-width="1.3" />
<line x1="1264.06" y1="611.1" x2="1264.06" y2="615.9" stroke="#1e1e1e" stroke-width="1.3" />
<line x1="1264.06" y1="354.6" x2="1264.06" y2="356.9" stroke="#1e1e1e" stroke-width="1.3" />
<line x1="1275.52" y1="611.1" x2="1275.52" y2="615.9" stroke="#1e1e1e" stroke-width="1.3" />
<line x1="1275.52" y1="354.6" x2="1275.52" y2="356.9" stroke="#1e1e1e" stroke-width="1.3" />
<line x1="794.2" y1="609.2" x2="794.2" y2="617.9" stroke="#1e1e1e" stroke-width="1.3" />
<line x1="794.2" y1="354.6" x2="794.2" y2="359.1" stroke="#1e1e1e" stroke-width="1.3" />
<line x1="851.5" y1="609.2" x2="851.5" y2="617.9" stroke="#1e1e1e" stroke-width="1.3" />
<line x1="851.5" y1="354.6" x2="851.5" y2="359.1" stroke="#1e1e1e" stroke-width="1.3" />
<line x1="908.8" y1="609.2" x2="908.8" y2="617.9" stroke="#1e1e1e" stroke-width="1.3" />
<line x1="908.8" y1="354.6" x2="908.8" y2="359.1" stroke="#1e1e1e" stroke-width="1.3" />
<line x1="966.1" y1="609.2" x2="966.1" y2="617.9" stroke="#1e1e1e" stroke-width="1.3" />
<line x1="966.1" y1="354.6" x2="966.1" y2="359.1" stroke="#1e1e1e" stroke-width="1.3" />
<line x1="1023.4" y1="609.2" x2="1023.4" y2="617.9" stroke="#1e1e1e" stroke-width="1.3" />
<line x1="1023.4" y1="354.6" x2="1023.4" y2="359.1" stroke="#1e1e1e" stroke-width="1.3" />
<line x1="1080.7" y1="609.2" x2="1080.7" y2="617.9" stroke="#1e1e1e" stroke-width="1.3" />
<line x1="1080.7" y1="354.6" x2="1080.7" y2="359.1" stroke="#1e1e1e" stroke-width="1.3" />
<line x1="1138" y1="609.2" x2="1138" y2="617.9" stroke="#1e1e1e" stroke-width="1.3" />
<line x1="1138" y1="354.6" x2="1138" y2="359.1" stroke="#1e1e1e" stroke-width="1.3" />
<line x1="1195.3" y1="609.2" x2="1195.3" y2="617.9" stroke="#1e1e1e" stroke-width="1.3" />
<line x1="1195.3" y1="354.6" x2="1195.3" y2="359.1" stroke="#1e1e1e" stroke-width="1.3" />
<line x1="1252.6" y1="609.2" x2="1252.6" y2="617.9" stroke="#1e1e1e" stroke-width="1.3" />
<line x1="1252.6" y1="354.6" x2="1252.6" y2="359.1" stroke="#1e1e1e" stroke-width="1.3" />
<text x="56.5" y="231.6" font-size="12.6" text-anchor="end" font-weight="normal" fill="#262626">0.0</text>
<text x="56.5" y="184.98" font-size="12.6" text-anchor="end" font-weight="normal" fill="#262626">0.2</text>
<text x="56.5" y="138.36" font-size="12.6" text-anchor="end" font-weight="normal" fill="#262626">0.4</text>
<text x="56.5" y="91.74" font-size="12.6" text-anchor="end" font-weight="normal" fill="#262626">0.6</text>
<text x="56.5" y="45.12" font-size="12.6" text-anchor="end" font-weight="normal" fill="#262626">0.8</text>
<text x="56.5" y="-1.5" font-size="12.6" text-anchor="end" font-weight="normal" fill="#262626">1.0</text>
<text x="102" y="254" font-size="12.6" text-anchor="middle" font-weight="normal" fill="#262626">87</text>
<text x="198.06" y="254" font-size="12.6" text-anchor="middle" font-weight="normal" fill="#262626">88</text>
<text x="294.12" y="254" font-size="12.6" text-anchor="middle" font-weight="normal" fill="#262626">89</text>
<text x="390.18" y="254" font-size="12.6" text-anchor="middle" font-weight="normal" fill="#262626">90</text>
<text x="486.24" y="254" font-size="12.6" text-anchor="middle" font-weight="normal" fill="#262626">91</text>
<text x="582.3" y="254" font-size="12.6" text-anchor="middle" font-weight="normal" fill="#262626">92</text>
<text x="730.5" y="226.45" font-size="12.6" text-anchor="end" font-weight="normal" fill="#262626">-0.05</text>
<text x="730.5" y="181.8" font-size="12.6" text-anchor="end" font-weight="normal" fill="#262626">0.00</text>
<text x="730.5" y="137.15" font-size="12.6" text-anchor="end" font-weight="normal" fill="#262626">0.05</text>
<text x="730.5" y="92.5" font-size="12.6" text-anchor="end" font-weight="normal" fill="#262626">0.10</text>
<text x="730.5" y="47.85" font-size="12.6" text-anchor="end" font-weight="normal" fill="#262626">0.15</text>
<text x="730.5" y="3.2" font-size="12.6" text-anchor="end" font-weight="normal" fill="#262626">0.20</text>
<text x="835.5" y="254.3" font-size="12.6" text-anchor="middle" font-weight="normal" fill="#262626">88</text>
<text x="951.17" y="254.3" font-size="12.6" text-anchor="middle" font-weight="normal" fill="#262626">89</text>
<text x="1066.84" y="254.3" font-size="12.6" text-anchor="middle" font-weight="normal" fill="#262626">90</text>
<text x="1182.51" y="254.3" font-size="12.6" text-anchor="middle" font-weight="normal" fill="#262626">91</text>
<text x="56.5" y="610.5" font-size="12.6" text-anchor="end" font-weight="normal" fill="#262626">0.0</text>
<text x="56.5" y="563.42" font-size="12.6" text-anchor="end" font-weight="normal" fill="#262626">0.2</text>
<text x="56.5" y="516.34" font-size="12.6" text-anchor="end" font-weight="normal" fill="#262626">0.4</text>
<text x="56.5" y="469.26" font-size="12.6" text-anchor="end" font-weight="normal" fill="#262626">0.6</text>
<text x="56.5" y="422.18" font-size="12.6" text-anchor="end" font-weight="normal" fill="#262626">0.8</text>
<text x="56.5" y="375.1" font-size="12.6" text-anchor="end" font-weight="normal" fill="#262626">1.0</text>
<text x="92.5" y="633.2" font-size="12.6" text-anchor="middle" font-weight="normal" fill="#262626">71</text>
<text x="145.04" y="633.2" font-size="12.6" text-anchor="middle" font-weight="normal" fill="#262626">72</text>
<text x="197.58" y="633.2" font-size="12.6" text-anchor="middle" font-weight="normal" fill="#262626">73</text>
<text x="250.12" y="633.2" font-size="12.6" text-anchor="middle" font-weight="normal" fill="#262626">74</text>
<text x="302.66" y="633.2" font-size="12.6" text-anchor="middle" font-weight="normal" fill="#262626">75</text>
<text x="355.2" y="633.2" font-size="12.6" text-anchor="middle" font-weight="normal" fill="#262626">76</text>
<text x="407.74" y="633.2" font-size="12.6" text-anchor="middle" font-weight="normal" fill="#262626">77</text>
<text x="460.28" y="633.2" font-size="12.6" text-anchor="middle" font-weight="normal" fill="#262626">78</text>
<text x="512.82" y="633.2" font-size="12.6" text-anchor="middle" font-weight="normal" fill="#262626">79</text>
<text x="565.36" y="633.2" font-size="12.6" text-anchor="middle" font-weight="normal" fill="#262626">80</text>
<text x="730.5" y="565.55" font-size="12.6" text-anchor="end" font-weight="normal" fill="#262626">-0.15</text>
<text x="730.5" y="508.5" font-size="12.6" text-anchor="end" font-weight="normal" fill="#262626">-0.10</text>
<text x="730.5" y="451.45" font-size="12.6" text-anchor="end" font-weight="normal" fill="#262626">-0.05</text>
<text x="730.5" y="394.4" font-size="12.6" text-anchor="end" font-weight="normal" fill="#262626">0.00</text>
<text x="794.2" y="633.2" font-size="12.6" text-anchor="middle" font-weight="normal" fill="#262626">72</text>
<text x="851.5" y="633.2" font-size="12.6" text-anchor="middle" font-weight="normal" fill="#262626">73</text>
<text x="908.8" y="633.2" font-size="12.6" text-anchor="middle" font-weight="normal" fill="#262626">74</text>
<text x="966.1" y="633.2" font-size="12.6" text-anchor="middle" font-weight="normal" fill="#262626">75</text>
<text x="1023.4" y="633.2" font-size="12.6" text-anchor="middle" font-weight="normal" fill="#262626">76</text>
<text x="1080.7" y="633.2" font-size="12.6" text-anchor="middle" font-weight="normal" fill="#262626">77</text>
<text x="1138" y="633.2" font-size="12.6" text-anchor="middle" font-weight="normal" fill="#262626">78</text>
<text x="1195.3" y="633.2" font-size="12.6" text-anchor="middle" font-weight="normal" fill="#262626">79</text>
<text x="1252.6" y="633.2" font-size="12.6" text-anchor="middle" font-weight="normal" fill="#262626">80</text>
<text x="352.3" y="273.6" font-size="12.8" text-anchor="middle" font-weight="bold" fill="#111">Temperature&#160;&#160;°C</text>
<text x="1019" y="273.9" font-size="12.9" text-anchor="middle" font-weight="bold" fill="#111">Temperature °C</text>
<text x="352.7" y="653.6" font-size="12.8" text-anchor="middle" font-weight="bold" fill="#111">Temperature&#160;&#160;°C</text>
<text x="1019.4" y="654" font-size="12.9" text-anchor="middle" font-weight="bold" fill="#111">Temperature °C</text>
<text x="0" y="0" font-size="12.8" font-weight="bold" text-anchor="middle" fill="#111" transform="translate(29.1,105.3) rotate(-90)">Normalized RFU</text>
<text x="0" y="0" font-size="12.8" font-weight="bold" text-anchor="middle" fill="#111" transform="translate(691.5,104.4) rotate(-90)">Difference RFU</text>
<text x="0" y="0" font-size="12.8" font-weight="bold" text-anchor="middle" fill="#111" transform="translate(28.9,484) rotate(-90)">Normalized RFU</text>
<text x="0" y="0" font-size="12.8" font-weight="bold" text-anchor="middle" fill="#111" transform="translate(691.5,484.6) rotate(-90)">Difference RFU</text>
<text x="321.5" y="345.3" font-size="10.6" text-anchor="middle" font-weight="bold" fill="#111">Normalized Melt Curve</text>
<text x="983.1" y="345.1" font-size="10.6" text-anchor="middle" font-weight="bold" fill="#111">Difference Curve</text>
<text x="0" y="0" font-size="32.4" text-anchor="middle" fill="#000" transform="translate(649.3,317.5) scale(0.9,1)" style="font-family:'Liberation Serif',serif">(<tspan font-weight="bold">A</tspan>)</text>
<defs>
<clipPath id="clipTL"><rect x="67.5" y="-40" width="549" height="273.8"/></clipPath>
<clipPath id="clipTR"><rect x="741.5" y="-40" width="535.3" height="274"/></clipPath>
<clipPath id="clipBL"><rect x="67.4" y="354.6" width="549.1" height="258.8"/></clipPath>
<clipPath id="clipBR"><rect x="741.2" y="354.6" width="535.4" height="258.8"/></clipPath>
</defs>
</svg></body></html>
